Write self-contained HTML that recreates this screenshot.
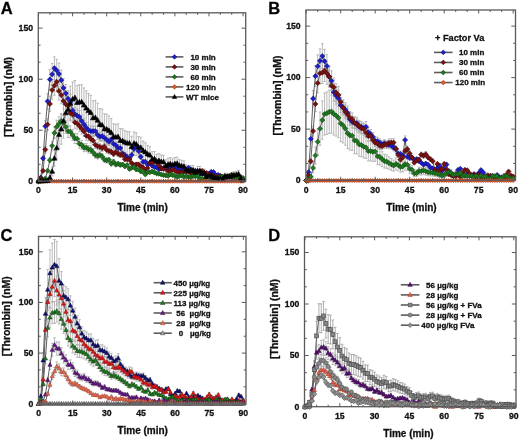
<!DOCTYPE html><html><head><meta charset="utf-8"><style>html,body{margin:0;padding:0;background:#fff;}svg{display:block;filter:blur(0.35px);}text{stroke:#111;stroke-width:0.3px;}.tk{font:bold 8.7px "Liberation Sans", sans-serif;fill:#111;}.ti{font:bold 10px "Liberation Sans", sans-serif;fill:#111;}.lt{font:bold 16.5px "Liberation Sans", sans-serif;fill:#000;}.lg{font:bold 8px "Liberation Sans", sans-serif;fill:#111;}.yt{font-size:10.45px;}</style></head><body>
<svg width="520" height="440" viewBox="0 0 520 440">
<rect width="520" height="440" fill="#fff"/>
<path d="M38.5 180.28V181.3M37.2 180.28h2.6M37.2 181.3h2.6M40.77 176.51V178.55M39.47 176.51h2.6M39.47 178.55h2.6M43.05 156.05V160.64M41.75 156.05h2.6M41.75 160.64h2.6M45.32 120.72V131.74M44.02 120.72h2.6M44.02 131.74h2.6M47.59 93.36V109.35M46.29 93.36h2.6M46.29 109.35h2.6M49.87 69.33V89.69M48.57 69.33h2.6M48.57 89.69h2.6M52.14 63.5V84.92M50.84 63.5h2.6M50.84 84.92h2.6M54.41 56.86V79.49M53.11 56.86h2.6M53.11 79.49h2.6M56.68 59.35V81.52M55.38 59.35h2.6M55.38 81.52h2.6M58.96 63.19V84.66M57.66 63.19h2.6M57.66 84.66h2.6M61.23 70.03V90.26M59.93 70.03h2.6M59.93 90.26h2.6M63.5 78.57V97.25M62.2 78.57h2.6M62.2 97.25h2.6M65.78 84.53V102.13M64.48 84.53h2.6M64.48 102.13h2.6M68.05 90.54V107.04M66.75 90.54h2.6M66.75 107.04h2.6M70.32 94.11V109.96M69.02 94.11h2.6M69.02 109.96h2.6M72.59 103.47V117.62M71.3 103.47h2.6M71.3 117.62h2.6M74.87 107.43V120.86M73.57 107.43h2.6M73.57 120.86h2.6M77.14 108.93V122.09M75.84 108.93h2.6M75.84 122.09h2.6M79.41 110.51V123.38M78.11 110.51h2.6M78.11 123.38h2.6M81.69 114.97V127.03M80.39 114.97h2.6M80.39 127.03h2.6M83.96 118.8V130.16M82.66 118.8h2.6M82.66 130.16h2.6M86.23 122.53V133.21M84.93 122.53h2.6M84.93 133.21h2.6M88.51 125.06V135.29M87.21 125.06h2.6M87.21 135.29h2.6M90.78 126.13V136.16M89.48 126.13h2.6M89.48 136.16h2.6M93.05 126.15V136.18M91.75 126.15h2.6M91.75 136.18h2.6M95.33 126.16V136.18M94.03 126.16h2.6M94.03 136.18h2.6M97.6 130.11V139.42M96.3 130.11h2.6M96.3 139.42h2.6M99.87 132.34V141.24M98.57 132.34h2.6M98.57 141.24h2.6M102.14 131.63V140.66M100.84 131.63h2.6M100.84 140.66h2.6M104.42 133.43V142.13M103.12 133.43h2.6M103.12 142.13h2.6M106.69 135.55V143.87M105.39 135.55h2.6M105.39 143.87h2.6M108.96 137.71V145.64M107.66 137.71h2.6M107.66 145.64h2.6M111.24 135.43V143.77M109.94 135.43h2.6M109.94 143.77h2.6M113.51 140.08V147.57M112.21 140.08h2.6M112.21 147.57h2.6M115.78 141.72V148.92M114.48 141.72h2.6M114.48 148.92h2.6M118.06 144.7V151.35M116.76 144.7h2.6M116.76 151.35h2.6M120.33 144.7V151.36M119.03 144.7h2.6M119.03 151.36h2.6M122.6 150.67V156.24M121.3 150.67h2.6M121.3 156.24h2.6M124.87 152.33V157.6M123.57 152.33h2.6M123.57 157.6h2.6M127.15 154.54V159.4M125.85 154.54h2.6M125.85 159.4h2.6M129.42 156.57V161.07M128.12 156.57h2.6M128.12 161.07h2.6M131.69 152.35V157.61M130.39 152.35h2.6M130.39 157.61h2.6M133.97 145.8V152.25M132.67 145.8h2.6M132.67 152.25h2.6M136.24 142.96V149.93M134.94 142.96h2.6M134.94 149.93h2.6M138.51 148.02V154.07M137.21 148.02h2.6M137.21 154.07h2.6M140.79 154.42V159.31M139.49 154.42h2.6M139.49 159.31h2.6M143.06 159.95V163.83M141.76 159.95h2.6M141.76 163.83h2.6M145.33 159.74V163.66M144.03 159.74h2.6M144.03 163.66h2.6M147.6 163.09V166.4M146.3 163.09h2.6M146.3 166.4h2.6M149.88 161.6V165.18M148.58 161.6h2.6M148.58 165.18h2.6M152.15 164.07V167.21M150.85 164.07h2.6M150.85 167.21h2.6M154.42 165.59V168.45M153.12 165.59h2.6M153.12 168.45h2.6M156.7 166.24V168.98M155.4 166.24h2.6M155.4 168.98h2.6M158.97 167.9V170.34M157.67 167.9h2.6M157.67 170.34h2.6M161.24 167.16V169.73M159.94 167.16h2.6M159.94 169.73h2.6M163.51 166.63V169.3M162.21 166.63h2.6M162.21 169.3h2.6M165.79 166.99V169.59M164.49 166.99h2.6M164.49 169.59h2.6M168.06 167.71V170.18M166.76 167.71h2.6M166.76 170.18h2.6M170.33 165.18V168.11M169.03 165.18h2.6M169.03 168.11h2.6M172.61 164.76V167.77M171.31 164.76h2.6M171.31 167.77h2.6M174.88 164.88V167.87M173.58 164.88h2.6M173.58 167.87h2.6M177.15 167.31V169.85M175.85 167.31h2.6M175.85 169.85h2.6M179.43 168.75V171.03M178.13 168.75h2.6M178.13 171.03h2.6M181.7 170.09V172.14M180.4 170.09h2.6M180.4 172.14h2.6M183.97 168.43V170.77M182.67 168.43h2.6M182.67 170.77h2.6M186.25 169.27V171.45M184.94 169.27h2.6M184.94 171.45h2.6M188.52 166.33V169.05M187.22 166.33h2.6M187.22 169.05h2.6M190.79 168.36V170.71M189.49 168.36h2.6M189.49 170.71h2.6M193.06 169.63V171.75M191.76 169.63h2.6M191.76 171.75h2.6M195.34 169.85V171.94M194.04 169.85h2.6M194.04 171.94h2.6M197.61 172.96V175M196.31 172.96h2.6M196.31 175h2.6M199.88 172.71V174.75M198.58 172.71h2.6M198.58 174.75h2.6M202.16 172.43V174.47M200.86 172.43h2.6M200.86 174.47h2.6M204.43 172.82V174.86M203.13 172.82h2.6M203.13 174.86h2.6M206.7 173.84V175.88M205.4 173.84h2.6M205.4 175.88h2.6M208.98 172.78V174.82M207.68 172.78h2.6M207.68 174.82h2.6M211.25 170.84V172.88M209.95 170.84h2.6M209.95 172.88h2.6M213.52 171.04V173.09M212.22 171.04h2.6M212.22 173.09h2.6M215.79 174.22V176.27M214.49 174.22h2.6M214.49 176.27h2.6M218.07 173.81V175.85M216.77 173.81h2.6M216.77 175.85h2.6M220.34 175.06V177.1M219.04 175.06h2.6M219.04 177.1h2.6M222.61 175.56V177.6M221.31 175.56h2.6M221.31 177.6h2.6M224.89 178.22V180.26M223.59 178.22h2.6M223.59 180.26h2.6M227.16 176.41V178.46M225.86 176.41h2.6M225.86 178.46h2.6M229.43 175.72V177.77M228.13 175.72h2.6M228.13 177.77h2.6M231.71 176.71V178.75M230.41 176.71h2.6M230.41 178.75h2.6M233.98 176.6V178.64M232.68 176.6h2.6M232.68 178.64h2.6M236.25 177.37V179.41M234.95 177.37h2.6M234.95 179.41h2.6M238.52 176.9V178.94M237.22 176.9h2.6M237.22 178.94h2.6M240.8 179.53V181.3M239.5 179.53h2.6M239.5 181.3h2.6M243.07 178.46V180.5M241.77 178.46h2.6M241.77 180.5h2.6" stroke="#a8a8a8" stroke-width="0.8" fill="none"/>
<path d="M38.5 180.28V181.3M37.2 180.28h2.6M37.2 181.3h2.6M40.77 177.22V179.26M39.47 177.22h2.6M39.47 179.26h2.6M43.05 169.78V171.87M41.75 169.78h2.6M41.75 171.87h2.6M45.32 146.45V152.79M44.02 146.45h2.6M44.02 152.79h2.6M47.59 118.81V130.17M46.29 118.81h2.6M46.29 130.17h2.6M49.87 96.14V111.62M48.57 96.14h2.6M48.57 111.62h2.6M52.14 80.93V99.18M50.84 80.93h2.6M50.84 99.18h2.6M54.41 76.1V95.23M53.11 76.1h2.6M53.11 95.23h2.6M56.68 71.9V91.79M55.38 71.9h2.6M55.38 91.79h2.6M58.96 82.06V100.1M57.66 82.06h2.6M57.66 100.1h2.6M61.23 86.5V103.74M59.93 86.5h2.6M59.93 103.74h2.6M63.5 92.91V108.98M62.2 92.91h2.6M62.2 108.98h2.6M65.78 96.48V111.9M64.48 96.48h2.6M64.48 111.9h2.6M68.05 98.3V113.39M66.75 98.3h2.6M66.75 113.39h2.6M70.32 106.28V119.92M69.02 106.28h2.6M69.02 119.92h2.6M72.59 107.88V121.23M71.3 107.88h2.6M71.3 121.23h2.6M74.87 116.52V128.3M73.57 116.52h2.6M73.57 128.3h2.6M77.14 117.68V129.25M75.84 117.68h2.6M75.84 129.25h2.6M79.41 120.58V131.62M78.11 120.58h2.6M78.11 131.62h2.6M81.69 123.57V134.07M80.39 123.57h2.6M80.39 134.07h2.6M83.96 126.47V136.44M82.66 126.47h2.6M82.66 136.44h2.6M86.23 131.13V140.25M84.93 131.13h2.6M84.93 140.25h2.6M88.51 131.92V140.9M87.21 131.92h2.6M87.21 140.9h2.6M90.78 134.6V143.09M89.48 134.6h2.6M89.48 143.09h2.6M93.05 136.43V144.59M91.75 136.43h2.6M91.75 144.59h2.6M95.33 141.04V148.36M94.03 141.04h2.6M94.03 148.36h2.6M97.6 142.82V149.82M96.3 142.82h2.6M96.3 149.82h2.6M99.87 143.38V150.28M98.57 143.38h2.6M98.57 150.28h2.6M102.14 144.82V151.45M100.84 144.82h2.6M100.84 151.45h2.6M104.42 143.1V150.05M103.12 143.1h2.6M103.12 150.05h2.6M106.69 146.78V153.05M105.39 146.78h2.6M105.39 153.05h2.6M108.96 148V154.05M107.66 148h2.6M107.66 154.05h2.6M111.24 148.68V154.61M109.94 148.68h2.6M109.94 154.61h2.6M113.51 151.19V156.66M112.21 151.19h2.6M112.21 156.66h2.6M115.78 149.08V154.94M114.48 149.08h2.6M114.48 154.94h2.6M118.06 151.07V156.56M116.76 151.07h2.6M116.76 156.56h2.6M120.33 152.29V157.57M119.03 152.29h2.6M119.03 157.57h2.6M122.6 152.37V157.63M121.3 152.37h2.6M121.3 157.63h2.6M124.87 156.96V161.38M123.57 156.96h2.6M123.57 161.38h2.6M127.15 157.08V161.48M125.85 157.08h2.6M125.85 161.48h2.6M129.42 157.31V161.67M128.12 157.31h2.6M128.12 161.67h2.6M131.69 161.25V164.9M130.39 161.25h2.6M130.39 164.9h2.6M133.97 163.41V166.66M132.67 163.41h2.6M132.67 166.66h2.6M136.24 162.72V166.1M134.94 162.72h2.6M134.94 166.1h2.6M138.51 162.73V166.11M137.21 162.73h2.6M137.21 166.11h2.6M140.79 164.76V167.77M139.49 164.76h2.6M139.49 167.77h2.6M143.06 166.01V168.79M141.76 166.01h2.6M141.76 168.79h2.6M145.33 169.63V171.75M144.03 169.63h2.6M144.03 171.75h2.6M147.6 166.78V169.42M146.3 166.78h2.6M146.3 169.42h2.6M149.88 160.98V164.67M148.58 160.98h2.6M148.58 164.67h2.6M152.15 160.88V164.59M150.85 160.88h2.6M150.85 164.59h2.6M154.42 157.72V162.01M153.12 157.72h2.6M153.12 162.01h2.6M156.7 160.69V164.44M155.4 160.69h2.6M155.4 164.44h2.6M158.97 163.96V167.11M157.67 163.96h2.6M157.67 167.11h2.6M161.24 167.34V169.88M159.94 167.34h2.6M159.94 169.88h2.6M163.51 167.67V170.15M162.21 167.67h2.6M162.21 170.15h2.6M165.79 166.38V169.09M164.49 166.38h2.6M164.49 169.09h2.6M168.06 170.19V172.24M166.76 170.19h2.6M166.76 172.24h2.6M170.33 169.95V172.01M169.03 169.95h2.6M169.03 172.01h2.6M172.61 168.59V170.9M171.31 168.59h2.6M171.31 170.9h2.6M174.88 169.6V171.72M173.58 169.6h2.6M173.58 171.72h2.6M177.15 170.98V173.02M175.85 170.98h2.6M175.85 173.02h2.6M179.43 171.07V173.11M178.13 171.07h2.6M178.13 173.11h2.6M181.7 171.33V173.37M180.4 171.33h2.6M180.4 173.37h2.6M183.97 170.66V172.71M182.67 170.66h2.6M182.67 172.71h2.6M186.25 170.6V172.64M184.94 170.6h2.6M184.94 172.64h2.6M188.52 170.51V172.55M187.22 170.51h2.6M187.22 172.55h2.6M190.79 171.95V173.99M189.49 171.95h2.6M189.49 173.99h2.6M193.06 173.37V175.41M191.76 173.37h2.6M191.76 175.41h2.6M195.34 170.76V172.8M194.04 170.76h2.6M194.04 172.8h2.6M197.61 170.92V172.96M196.31 170.92h2.6M196.31 172.96h2.6M199.88 170.39V172.43M198.58 170.39h2.6M198.58 172.43h2.6M202.16 169.88V171.96M200.86 169.88h2.6M200.86 171.96h2.6M204.43 171.77V173.82M203.13 171.77h2.6M203.13 173.82h2.6M206.7 171.94V173.99M205.4 171.94h2.6M205.4 173.99h2.6M208.98 174.62V176.66M207.68 174.62h2.6M207.68 176.66h2.6M211.25 173.61V175.65M209.95 173.61h2.6M209.95 175.65h2.6M213.52 176.3V178.34M212.22 176.3h2.6M212.22 178.34h2.6M215.79 174.98V177.02M214.49 174.98h2.6M214.49 177.02h2.6M218.07 176.56V178.6M216.77 176.56h2.6M216.77 178.6h2.6M220.34 174.99V177.03M219.04 174.99h2.6M219.04 177.03h2.6M222.61 177.38V179.42M221.31 177.38h2.6M221.31 179.42h2.6M224.89 175.96V178M223.59 175.96h2.6M223.59 178h2.6M227.16 176.07V178.11M225.86 176.07h2.6M225.86 178.11h2.6M229.43 174.99V177.03M228.13 174.99h2.6M228.13 177.03h2.6M231.71 174.07V176.11M230.41 174.07h2.6M230.41 176.11h2.6M233.98 175.07V177.11M232.68 175.07h2.6M232.68 177.11h2.6M236.25 177.26V179.3M234.95 177.26h2.6M234.95 179.3h2.6M238.52 177.1V179.14M237.22 177.1h2.6M237.22 179.14h2.6M240.8 177.96V180.01M239.5 177.96h2.6M239.5 180.01h2.6M243.07 178.56V180.6M241.77 178.56h2.6M241.77 180.6h2.6" stroke="#a8a8a8" stroke-width="0.8" fill="none"/>
<path d="M38.5 180.28V181.3M37.2 180.28h2.6M37.2 181.3h2.6M40.77 179.77V181.3M39.47 179.77h2.6M39.47 181.3h2.6M43.05 179.19V181.23M41.75 179.19h2.6M41.75 181.23h2.6M45.32 177.43V179.47M44.02 177.43h2.6M44.02 179.47h2.6M47.59 169.57V172.08M46.29 169.57h2.6M46.29 172.08h2.6M49.87 157.63V162.7M48.57 157.63h2.6M48.57 162.7h2.6M52.14 141.56V150.08M50.84 141.56h2.6M50.84 150.08h2.6M54.41 127.11V138.72M53.11 127.11h2.6M53.11 138.72h2.6M56.68 120.19V133.28M55.38 120.19h2.6M55.38 133.28h2.6M58.96 116.84V130.65M57.66 116.84h2.6M57.66 130.65h2.6M61.23 113.7V128.19M59.93 113.7h2.6M59.93 128.19h2.6M63.5 115.59V129.67M62.2 115.59h2.6M62.2 129.67h2.6M65.78 120.47V133.5M64.48 120.47h2.6M64.48 133.5h2.6M68.05 125.26V137.27M66.75 125.26h2.6M66.75 137.27h2.6M70.32 125.79V137.68M69.02 125.79h2.6M69.02 137.68h2.6M72.59 129.41V140.53M71.3 129.41h2.6M71.3 140.53h2.6M74.87 133.19V143.5M73.57 133.19h2.6M73.57 143.5h2.6M77.14 133.64V143.85M75.84 133.64h2.6M75.84 143.85h2.6M79.41 139.18V148.21M78.11 139.18h2.6M78.11 148.21h2.6M81.69 140.54V149.27M80.39 140.54h2.6M80.39 149.27h2.6M83.96 143.62V151.69M82.66 143.62h2.6M82.66 151.69h2.6M86.23 143.54V151.63M84.93 143.54h2.6M84.93 151.63h2.6M88.51 145.51V153.18M87.21 145.51h2.6M87.21 153.18h2.6M90.78 146.09V153.64M89.48 146.09h2.6M89.48 153.64h2.6M93.05 148.78V155.75M91.75 148.78h2.6M91.75 155.75h2.6M95.33 151.91V158.21M94.03 151.91h2.6M94.03 158.21h2.6M97.6 152.89V158.97M96.3 152.89h2.6M96.3 158.97h2.6M99.87 151.77V158.1M98.57 151.77h2.6M98.57 158.1h2.6M102.14 153.44V159.41M100.84 153.44h2.6M100.84 159.41h2.6M104.42 157.08V162.27M103.12 157.08h2.6M103.12 162.27h2.6M106.69 157.86V162.88M105.39 157.86h2.6M105.39 162.88h2.6M108.96 157.27V162.42M107.66 157.27h2.6M107.66 162.42h2.6M111.24 161.68V165.89M109.94 161.68h2.6M109.94 165.89h2.6M113.51 159.35V164.05M112.21 159.35h2.6M112.21 164.05h2.6M115.78 162.56V166.58M114.48 162.56h2.6M114.48 166.58h2.6M118.06 161.71V165.91M116.76 161.71h2.6M116.76 165.91h2.6M120.33 162.88V166.82M119.03 162.88h2.6M119.03 166.82h2.6M122.6 162.51V166.54M121.3 162.51h2.6M121.3 166.54h2.6M124.87 164.57V168.16M123.57 164.57h2.6M123.57 168.16h2.6M127.15 163.17V167.06M125.85 163.17h2.6M125.85 167.06h2.6M129.42 167.43V170.4M128.12 167.43h2.6M128.12 170.4h2.6M131.69 166.13V169.38M130.39 166.13h2.6M130.39 169.38h2.6M133.97 165.16V168.62M132.67 165.16h2.6M132.67 168.62h2.6M136.24 168.03V170.87M134.94 168.03h2.6M134.94 170.87h2.6M138.51 168.03V170.87M137.21 168.03h2.6M137.21 170.87h2.6M140.79 170.34V172.69M139.49 170.34h2.6M139.49 172.69h2.6M143.06 170.49V172.81M141.76 170.49h2.6M141.76 172.81h2.6M145.33 173.47V175.51M144.03 173.47h2.6M144.03 175.51h2.6M147.6 170.85V173.09M146.3 170.85h2.6M146.3 173.09h2.6M149.88 171.22V173.38M148.58 171.22h2.6M148.58 173.38h2.6M152.15 170.21V172.59M150.85 170.21h2.6M150.85 172.59h2.6M154.42 171.32V173.46M153.12 171.32h2.6M153.12 173.46h2.6M156.7 172.45V174.49M155.4 172.45h2.6M155.4 174.49h2.6M158.97 172.73V174.77M157.67 172.73h2.6M157.67 174.77h2.6M161.24 173.46V175.5M159.94 173.46h2.6M159.94 175.5h2.6M163.51 174.14V176.18M162.21 174.14h2.6M162.21 176.18h2.6M165.79 174.35V176.4M164.49 174.35h2.6M164.49 176.4h2.6M168.06 174.91V176.95M166.76 174.91h2.6M166.76 176.95h2.6M170.33 173.43V175.47M169.03 173.43h2.6M169.03 175.47h2.6M172.61 174.13V176.17M171.31 174.13h2.6M171.31 176.17h2.6M174.88 174.78V176.82M173.58 174.78h2.6M173.58 176.82h2.6M177.15 176.04V178.09M175.85 176.04h2.6M175.85 178.09h2.6M179.43 174.99V177.04M178.13 174.99h2.6M178.13 177.04h2.6M181.7 174.19V176.23M180.4 174.19h2.6M180.4 176.23h2.6M183.97 176.03V178.07M182.67 176.03h2.6M182.67 178.07h2.6M186.25 175.05V177.09M184.94 175.05h2.6M184.94 177.09h2.6M188.52 176.15V178.19M187.22 176.15h2.6M187.22 178.19h2.6M190.79 176.55V178.59M189.49 176.55h2.6M189.49 178.59h2.6M193.06 174.84V176.88M191.76 174.84h2.6M191.76 176.88h2.6M195.34 175.47V177.51M194.04 175.47h2.6M194.04 177.51h2.6M197.61 174.81V176.85M196.31 174.81h2.6M196.31 176.85h2.6M199.88 177.55V179.59M198.58 177.55h2.6M198.58 179.59h2.6M202.16 177.62V179.66M200.86 177.62h2.6M200.86 179.66h2.6M204.43 178.37V180.41M203.13 178.37h2.6M203.13 180.41h2.6M206.7 175.81V177.86M205.4 175.81h2.6M205.4 177.86h2.6M208.98 176.04V178.08M207.68 176.04h2.6M207.68 178.08h2.6M211.25 176.34V178.38M209.95 176.34h2.6M209.95 178.38h2.6M213.52 178.25V180.29M212.22 178.25h2.6M212.22 180.29h2.6M215.79 177.21V179.26M214.49 177.21h2.6M214.49 179.26h2.6M218.07 176.06V178.1M216.77 176.06h2.6M216.77 178.1h2.6M220.34 176.56V178.6M219.04 176.56h2.6M219.04 178.6h2.6M222.61 175.91V177.95M221.31 175.91h2.6M221.31 177.95h2.6M224.89 176.56V178.6M223.59 176.56h2.6M223.59 178.6h2.6M227.16 175.41V177.45M225.86 175.41h2.6M225.86 177.45h2.6M229.43 176.13V178.17M228.13 176.13h2.6M228.13 178.17h2.6M231.71 174.13V176.17M230.41 174.13h2.6M230.41 176.17h2.6M233.98 176.41V178.45M232.68 176.41h2.6M232.68 178.45h2.6M236.25 176.63V178.67M234.95 176.63h2.6M234.95 178.67h2.6M238.52 178.05V180.09M237.22 178.05h2.6M237.22 180.09h2.6M240.8 176.11V178.15M239.5 176.11h2.6M239.5 178.15h2.6M243.07 176.98V179.02M241.77 176.98h2.6M241.77 179.02h2.6" stroke="#a8a8a8" stroke-width="0.8" fill="none"/>

<path d="M38.5 179.26V181.3M37.2 179.26h2.6M37.2 181.3h2.6M40.77 179.1V181.3M39.47 179.1h2.6M39.47 181.3h2.6M43.05 178.94V181.3M41.75 178.94h2.6M41.75 181.3h2.6M45.32 178.78V181.3M44.02 178.78h2.6M44.02 181.3h2.6M47.59 178.62V181.3M46.29 178.62h2.6M46.29 181.3h2.6M49.87 174.8V180.66M48.57 174.8h2.6M48.57 180.66h2.6M52.14 167.04V176.01M50.84 167.04h2.6M50.84 176.01h2.6M54.41 150.63V166.17M53.11 150.63h2.6M53.11 166.17h2.6M56.68 137.66V158.38M55.38 137.66h2.6M55.38 158.38h2.6M58.96 120.91V148.33M57.66 120.91h2.6M57.66 148.33h2.6M61.23 114.08V144.24M59.93 114.08h2.6M59.93 144.24h2.6M63.5 103.97V138.17M62.2 103.97h2.6M62.2 138.17h2.6M65.78 95.72V130.44M64.48 95.72h2.6M64.48 130.44h2.6M68.05 92.23V126.95M66.75 92.23h2.6M66.75 126.95h2.6M70.32 86.12V120.84M69.02 86.12h2.6M69.02 120.84h2.6M72.59 82V116.72M71.3 82h2.6M71.3 116.72h2.6M74.87 80.46V115.17M73.57 80.46h2.6M73.57 115.17h2.6M77.14 85.45V120.16M75.84 85.45h2.6M75.84 120.16h2.6M79.41 84.73V119.44M78.11 84.73h2.6M78.11 119.44h2.6M81.69 84.81V119.53M80.39 84.81h2.6M80.39 119.53h2.6M83.96 87.93V122.64M82.66 87.93h2.6M82.66 122.64h2.6M86.23 90.95V125.67M84.93 90.95h2.6M84.93 125.67h2.6M88.51 93.51V128.22M87.21 93.51h2.6M87.21 128.22h2.6M90.78 95.37V130.08M89.48 95.37h2.6M89.48 130.08h2.6M93.05 100.76V135.47M91.75 100.76h2.6M91.75 135.47h2.6M95.33 100.41V135.12M94.03 100.41h2.6M94.03 135.12h2.6M97.6 103.13V137.67M96.3 103.13h2.6M96.3 137.67h2.6M99.87 108.51V140.89M98.57 108.51h2.6M98.57 140.89h2.6M102.14 109.14V141.27M100.84 109.14h2.6M100.84 141.27h2.6M104.42 113.79V144.06M103.12 113.79h2.6M103.12 144.06h2.6M106.69 114.28V144.36M105.39 114.28h2.6M105.39 144.36h2.6M108.96 115.97V145.37M107.66 115.97h2.6M107.66 145.37h2.6M111.24 118.59V146.94M109.94 118.59h2.6M109.94 146.94h2.6M113.51 123.66V149.98M112.21 123.66h2.6M112.21 149.98h2.6M115.78 124.32V150.38M114.48 124.32h2.6M114.48 150.38h2.6M118.06 123.82V150.08M116.76 123.82h2.6M116.76 150.08h2.6M120.33 128.54V152.91M119.03 128.54h2.6M119.03 152.91h2.6M122.6 128.8V153.07M121.3 128.8h2.6M121.3 153.07h2.6M124.87 130.56V154.13M123.57 130.56h2.6M123.57 154.13h2.6M127.15 131.68V154.8M125.85 131.68h2.6M125.85 154.8h2.6M129.42 131.79V154.86M128.12 131.79h2.6M128.12 154.86h2.6M131.69 136.22V157.52M130.39 136.22h2.6M130.39 157.52h2.6M133.97 132V154.99M132.67 132h2.6M132.67 154.99h2.6M136.24 132.9V155.52M134.94 132.9h2.6M134.94 155.52h2.6M138.51 136.61V157.76M137.21 136.61h2.6M137.21 157.76h2.6M140.79 137.28V158.16M139.49 137.28h2.6M139.49 158.16h2.6M143.06 141.02V160.4M141.76 141.02h2.6M141.76 160.4h2.6M145.33 142.83V161.48M144.03 142.83h2.6M144.03 161.48h2.6M147.6 145.39V163.02M146.3 145.39h2.6M146.3 163.02h2.6M149.88 146.78V163.85M148.58 146.78h2.6M148.58 163.85h2.6M152.15 151.73V166.82M150.85 151.73h2.6M150.85 166.82h2.6M154.42 151.47V166.67M153.12 151.47h2.6M153.12 166.67h2.6M156.7 154.42V168.44M155.4 154.42h2.6M155.4 168.44h2.6M158.97 153.64V167.97M157.67 153.64h2.6M157.67 167.97h2.6M161.24 154.91V168.73M159.94 154.91h2.6M159.94 168.73h2.6M163.51 155.13V168.86M162.21 155.13h2.6M162.21 168.86h2.6M165.79 159.82V171.68M164.49 159.82h2.6M164.49 171.68h2.6M168.06 158.27V170.75M166.76 158.27h2.6M166.76 170.75h2.6M170.33 157.61V170.35M169.03 157.61h2.6M169.03 170.35h2.6M172.61 158.84V171.09M171.31 158.84h2.6M171.31 171.09h2.6M174.88 157.49V170.28M173.58 157.49h2.6M173.58 170.28h2.6M177.15 157.19V170.1M175.85 157.19h2.6M175.85 170.1h2.6M179.43 159.58V171.53M178.13 159.58h2.6M178.13 171.53h2.6M181.7 160.34V171.99M180.4 160.34h2.6M180.4 171.99h2.6M183.97 160.87V172.31M182.67 160.87h2.6M182.67 172.31h2.6M186.25 164.86V174.71M184.94 164.86h2.6M184.94 174.71h2.6M188.52 166.4V175.63M187.22 166.4h2.6M187.22 175.63h2.6M190.79 165.69V175.2M189.49 165.69h2.6M189.49 175.2h2.6M193.06 165.4V175.02M191.76 165.4h2.6M191.76 175.02h2.6M195.34 168.31V176.77M194.04 168.31h2.6M194.04 176.77h2.6M197.61 166.38V175.62M196.31 166.38h2.6M196.31 175.62h2.6M199.88 166.39V175.62M198.58 166.39h2.6M198.58 175.62h2.6M202.16 169.64V177.57M200.86 169.64h2.6M200.86 177.57h2.6M204.43 168.98V177.18M203.13 168.98h2.6M203.13 177.18h2.6M206.7 173.11V179.65M205.4 173.11h2.6M205.4 179.65h2.6M208.98 173.72V180.02M207.68 173.72h2.6M207.68 180.02h2.6M211.25 171.78V178.85M209.95 171.78h2.6M209.95 178.85h2.6M213.52 174.49V180.48M212.22 174.49h2.6M212.22 180.48h2.6M215.79 175.53V181.1M214.49 175.53h2.6M214.49 181.1h2.6M218.07 175.33V180.98M216.77 175.33h2.6M216.77 180.98h2.6M220.34 176.25V181.3M219.04 176.25h2.6M219.04 181.3h2.6M222.61 176.45V181.3M221.31 176.45h2.6M221.31 181.3h2.6M224.89 173.06V179.62M223.59 173.06h2.6M223.59 179.62h2.6M227.16 173.59V179.94M225.86 173.59h2.6M225.86 179.94h2.6M229.43 173.62V179.96M228.13 173.62h2.6M228.13 179.96h2.6M231.71 172.56V179.32M230.41 172.56h2.6M230.41 179.32h2.6M233.98 171.73V178.82M232.68 171.73h2.6M232.68 178.82h2.6M236.25 171.28V178.56M234.95 171.28h2.6M234.95 178.56h2.6M238.52 170.29V177.96M237.22 170.29h2.6M237.22 177.96h2.6M240.8 175.36V181M239.5 175.36h2.6M239.5 181h2.6M243.07 177.87V181.3M241.77 177.87h2.6M241.77 181.3h2.6" stroke="#a8a8a8" stroke-width="0.8" fill="none"/>
<path d="M38.5 181.3L40.77 177.53L43.05 158.35L45.32 126.23L47.59 101.35L49.87 79.51L52.14 74.21L54.41 68.17L56.68 70.43L58.96 73.92L61.23 80.15L63.5 87.91L65.78 93.33L68.05 98.79L70.32 102.03L72.59 110.54L74.87 114.14L77.14 115.51L79.41 116.94L81.69 121L83.96 124.48L86.23 127.87L88.51 130.17L90.78 131.15L93.05 131.16L95.33 131.17L97.6 134.77L99.87 136.79L102.14 136.14L104.42 137.78L106.69 139.71L108.96 141.68L111.24 139.6L113.51 143.82L115.78 145.32L118.06 148.02L120.33 148.03L122.6 153.46L124.87 154.96L127.15 156.97L129.42 158.82L131.69 154.98L133.97 149.03L136.24 146.44L138.51 151.05L140.79 156.87L143.06 161.89L145.33 161.7L147.6 164.75L149.88 163.39L152.15 165.64L154.42 167.02L156.7 167.61L158.97 169.12L161.24 168.44L163.51 167.96L165.79 168.29L168.06 168.95L170.33 166.64L172.61 166.26L174.88 166.37L177.15 168.58L179.43 169.89L181.7 171.11L183.97 169.6L186.25 170.36L188.52 167.69L190.79 169.54L193.06 170.69L195.34 170.89L197.61 173.98L199.88 173.73L202.16 173.45L204.43 173.84L206.7 174.86L208.98 173.8L211.25 171.86L213.52 172.06L215.79 175.24L218.07 174.83L220.34 176.08L222.61 176.58L224.89 179.24L227.16 177.43L229.43 176.75L231.71 177.73L233.98 177.62L236.25 178.39L238.52 177.92L240.8 180.55L243.07 179.48" fill="none" stroke="#606060" stroke-width="1.0"/>
<path d="M38.5 181.3L40.77 178.24L43.05 170.82L45.32 149.62L47.59 124.49L49.87 103.88L52.14 90.05L54.41 85.67L56.68 81.84L58.96 91.08L61.23 95.12L63.5 100.95L65.78 104.19L68.05 105.85L70.32 113.1L72.59 114.55L74.87 122.41L77.14 123.46L79.41 126.1L81.69 128.82L83.96 131.46L86.23 135.69L88.51 136.41L90.78 138.84L93.05 140.51L95.33 144.7L97.6 146.32L99.87 146.83L102.14 148.14L104.42 146.57L106.69 149.92L108.96 151.02L111.24 151.65L113.51 153.92L115.78 152.01L118.06 153.81L120.33 154.93L122.6 155L124.87 159.17L127.15 159.28L129.42 159.49L131.69 163.08L133.97 165.03L136.24 164.41L138.51 164.42L140.79 166.26L143.06 167.4L145.33 170.69L147.6 168.1L149.88 162.82L152.15 162.73L154.42 159.87L156.7 162.56L158.97 165.54L161.24 168.61L163.51 168.91L165.79 167.73L168.06 171.21L170.33 170.98L172.61 169.75L174.88 170.66L177.15 172L179.43 172.09L181.7 172.35L183.97 171.69L186.25 171.62L188.52 171.53L190.79 172.97L193.06 174.39L195.34 171.78L197.61 171.94L199.88 171.41L202.16 170.92L204.43 172.79L206.7 172.97L208.98 175.64L211.25 174.63L213.52 177.32L215.79 176L218.07 177.58L220.34 176.01L222.61 178.4L224.89 176.98L227.16 177.09L229.43 176.01L231.71 175.09L233.98 176.09L236.25 178.28L238.52 178.12L240.8 178.99L243.07 179.58" fill="none" stroke="#606060" stroke-width="1.0"/>
<path d="M38.5 181.3L40.77 180.79L43.05 180.21L45.32 178.45L47.59 170.82L49.87 160.17L52.14 145.82L54.41 132.92L56.68 126.73L58.96 123.75L61.23 120.94L63.5 122.63L65.78 126.98L68.05 131.26L70.32 131.74L72.59 134.97L74.87 138.35L77.14 138.75L79.41 143.7L81.69 144.91L83.96 147.66L86.23 147.59L88.51 149.35L90.78 149.87L93.05 152.27L95.33 155.06L97.6 155.93L99.87 154.94L102.14 156.42L104.42 159.68L106.69 160.37L108.96 159.84L111.24 163.78L113.51 161.7L115.78 164.57L118.06 163.81L120.33 164.85L122.6 164.53L124.87 166.36L127.15 165.12L129.42 168.91L131.69 167.76L133.97 166.89L136.24 169.45L138.51 169.45L140.79 171.52L143.06 171.65L145.33 174.49L147.6 171.97L149.88 172.3L152.15 171.4L154.42 172.39L156.7 173.47L158.97 173.75L161.24 174.48L163.51 175.16L165.79 175.37L168.06 175.93L170.33 174.45L172.61 175.15L174.88 175.8L177.15 177.07L179.43 176.01L181.7 175.21L183.97 177.05L186.25 176.07L188.52 177.17L190.79 177.57L193.06 175.86L195.34 176.49L197.61 175.83L199.88 178.57L202.16 178.64L204.43 179.39L206.7 176.83L208.98 177.06L211.25 177.36L213.52 179.27L215.79 178.23L218.07 177.08L220.34 177.58L222.61 176.93L224.89 177.58L227.16 176.43L229.43 177.15L231.71 175.15L233.98 177.43L236.25 177.65L238.52 179.07L240.8 177.13L243.07 178" fill="none" stroke="#606060" stroke-width="1.0"/>
<path d="M38.5 181.3L40.77 181.3L43.05 181.3L45.32 181.3L47.59 181.3L49.87 181.3L52.14 181.3L54.41 181.3L56.68 181.3L58.96 181.3L61.23 181.3L63.5 181.3L65.78 181.3L68.05 181.3L70.32 181.3L72.59 181.3L74.87 181.3L77.14 181.3L79.41 181.3L81.69 181.3L83.96 181.3L86.23 181.3L88.51 181.3L90.78 181.3L93.05 181.3L95.33 181.3L97.6 181.3L99.87 181.3L102.14 181.3L104.42 181.3L106.69 181.3L108.96 181.3L111.24 181.3L113.51 181.3L115.78 181.3L118.06 181.3L120.33 181.3L122.6 181.3L124.87 181.3L127.15 181.3L129.42 181.3L131.69 181.3L133.97 181.3L136.24 181.3L138.51 181.3L140.79 181.3L143.06 181.3L145.33 181.3L147.6 181.3L149.88 181.3L152.15 181.3L154.42 181.3L156.7 181.3L158.97 181.3L161.24 181.3L163.51 181.3L165.79 181.3L168.06 181.3L170.33 181.3L172.61 181.3L174.88 181.3L177.15 181.3L179.43 181.3L181.7 181.3L183.97 181.3L186.25 181.3L188.52 181.3L190.79 181.3L193.06 181.3L195.34 181.3L197.61 181.3L199.88 181.3L202.16 181.3L204.43 181.3L206.7 181.3L208.98 181.3L211.25 181.3L213.52 181.3L215.79 181.3L218.07 181.3L220.34 181.3L222.61 181.3L224.89 181.3L227.16 181.3L229.43 181.3L231.71 181.3L233.98 181.3L236.25 181.3L238.52 181.3L240.8 181.3L243.07 181.3" fill="none" stroke="#c04a28" stroke-width="1.6"/>
<path d="M38.5 181.3L40.77 181.17L43.05 181.04L45.32 180.92L47.59 180.79L49.87 177.73L52.14 171.52L54.41 158.4L56.68 148.02L58.96 134.62L61.23 129.16L63.5 121.07L65.78 113.08L68.05 109.59L70.32 103.48L72.59 99.36L74.87 97.82L77.14 102.8L79.41 102.08L81.69 102.17L83.96 105.28L86.23 108.31L88.51 110.87L90.78 112.72L93.05 118.11L95.33 117.77L97.6 120.4L99.87 124.7L102.14 125.21L104.42 128.92L106.69 129.32L108.96 130.67L111.24 132.77L113.51 136.82L115.78 137.35L118.06 136.95L120.33 140.73L122.6 140.94L124.87 142.34L127.15 143.24L129.42 143.32L131.69 146.87L133.97 143.49L136.24 144.21L138.51 147.19L140.79 147.72L143.06 150.71L145.33 152.16L147.6 154.2L149.88 155.31L152.15 159.27L154.42 159.07L156.7 161.43L158.97 160.81L161.24 161.82L163.51 162L165.79 165.75L168.06 164.51L170.33 163.98L172.61 164.97L174.88 163.88L177.15 163.65L179.43 165.55L181.7 166.16L183.97 166.59L186.25 169.78L188.52 171.02L190.79 170.45L193.06 170.21L195.34 172.54L197.61 171L199.88 171.01L202.16 173.61L204.43 173.08L206.7 176.38L208.98 176.87L211.25 175.32L213.52 177.49L215.79 178.32L218.07 178.16L220.34 178.89L222.61 179.05L224.89 176.34L227.16 176.76L229.43 176.79L231.71 175.94L233.98 175.28L236.25 174.92L238.52 174.12L240.8 178.18L243.07 180.19" fill="none" stroke="#606060" stroke-width="1.0"/>
<path d="M38.5 178.75L41.05 181.3L38.5 183.85L35.95 181.3Z" fill="#1c1cd0" stroke="#101070" stroke-width="0.6"/>
<path d="M40.77 174.98L43.32 177.53L40.77 180.08L38.22 177.53Z" fill="#1c1cd0" stroke="#101070" stroke-width="0.6"/>
<path d="M43.05 155.8L45.6 158.35L43.05 160.9L40.5 158.35Z" fill="#1c1cd0" stroke="#101070" stroke-width="0.6"/>
<path d="M45.32 123.68L47.87 126.23L45.32 128.78L42.77 126.23Z" fill="#1c1cd0" stroke="#101070" stroke-width="0.6"/>
<path d="M47.59 98.8L50.14 101.35L47.59 103.9L45.04 101.35Z" fill="#1c1cd0" stroke="#101070" stroke-width="0.6"/>
<path d="M49.87 76.96L52.41 79.51L49.87 82.06L47.32 79.51Z" fill="#1c1cd0" stroke="#101070" stroke-width="0.6"/>
<path d="M52.14 71.66L54.69 74.21L52.14 76.76L49.59 74.21Z" fill="#1c1cd0" stroke="#101070" stroke-width="0.6"/>
<path d="M54.41 65.62L56.96 68.17L54.41 70.72L51.86 68.17Z" fill="#1c1cd0" stroke="#101070" stroke-width="0.6"/>
<path d="M56.68 67.88L59.23 70.43L56.68 72.98L54.13 70.43Z" fill="#1c1cd0" stroke="#101070" stroke-width="0.6"/>
<path d="M58.96 71.37L61.51 73.92L58.96 76.47L56.41 73.92Z" fill="#1c1cd0" stroke="#101070" stroke-width="0.6"/>
<path d="M61.23 77.6L63.78 80.15L61.23 82.7L58.68 80.15Z" fill="#1c1cd0" stroke="#101070" stroke-width="0.6"/>
<path d="M63.5 85.36L66.05 87.91L63.5 90.46L60.95 87.91Z" fill="#1c1cd0" stroke="#101070" stroke-width="0.6"/>
<path d="M65.78 90.78L68.33 93.33L65.78 95.88L63.23 93.33Z" fill="#1c1cd0" stroke="#101070" stroke-width="0.6"/>
<path d="M68.05 96.24L70.6 98.79L68.05 101.34L65.5 98.79Z" fill="#1c1cd0" stroke="#101070" stroke-width="0.6"/>
<path d="M70.32 99.48L72.87 102.03L70.32 104.58L67.77 102.03Z" fill="#1c1cd0" stroke="#101070" stroke-width="0.6"/>
<path d="M72.59 107.99L75.14 110.54L72.59 113.09L70.05 110.54Z" fill="#1c1cd0" stroke="#101070" stroke-width="0.6"/>
<path d="M74.87 111.59L77.42 114.14L74.87 116.69L72.32 114.14Z" fill="#1c1cd0" stroke="#101070" stroke-width="0.6"/>
<path d="M77.14 112.96L79.69 115.51L77.14 118.06L74.59 115.51Z" fill="#1c1cd0" stroke="#101070" stroke-width="0.6"/>
<path d="M79.41 114.39L81.96 116.94L79.41 119.49L76.86 116.94Z" fill="#1c1cd0" stroke="#101070" stroke-width="0.6"/>
<path d="M81.69 118.45L84.24 121L81.69 123.55L79.14 121Z" fill="#1c1cd0" stroke="#101070" stroke-width="0.6"/>
<path d="M83.96 121.93L86.51 124.48L83.96 127.03L81.41 124.48Z" fill="#1c1cd0" stroke="#101070" stroke-width="0.6"/>
<path d="M86.23 125.32L88.78 127.87L86.23 130.42L83.68 127.87Z" fill="#1c1cd0" stroke="#101070" stroke-width="0.6"/>
<path d="M88.51 127.62L91.06 130.17L88.51 132.72L85.96 130.17Z" fill="#1c1cd0" stroke="#101070" stroke-width="0.6"/>
<path d="M90.78 128.6L93.33 131.15L90.78 133.7L88.23 131.15Z" fill="#1c1cd0" stroke="#101070" stroke-width="0.6"/>
<path d="M93.05 128.61L95.6 131.16L93.05 133.71L90.5 131.16Z" fill="#1c1cd0" stroke="#101070" stroke-width="0.6"/>
<path d="M95.33 128.62L97.88 131.17L95.33 133.72L92.78 131.17Z" fill="#1c1cd0" stroke="#101070" stroke-width="0.6"/>
<path d="M97.6 132.22L100.15 134.77L97.6 137.32L95.05 134.77Z" fill="#1c1cd0" stroke="#101070" stroke-width="0.6"/>
<path d="M99.87 134.24L102.42 136.79L99.87 139.34L97.32 136.79Z" fill="#1c1cd0" stroke="#101070" stroke-width="0.6"/>
<path d="M102.14 133.59L104.69 136.14L102.14 138.69L99.59 136.14Z" fill="#1c1cd0" stroke="#101070" stroke-width="0.6"/>
<path d="M104.42 135.23L106.97 137.78L104.42 140.33L101.87 137.78Z" fill="#1c1cd0" stroke="#101070" stroke-width="0.6"/>
<path d="M106.69 137.16L109.24 139.71L106.69 142.26L104.14 139.71Z" fill="#1c1cd0" stroke="#101070" stroke-width="0.6"/>
<path d="M108.96 139.13L111.51 141.68L108.96 144.23L106.41 141.68Z" fill="#1c1cd0" stroke="#101070" stroke-width="0.6"/>
<path d="M111.24 137.05L113.79 139.6L111.24 142.15L108.69 139.6Z" fill="#1c1cd0" stroke="#101070" stroke-width="0.6"/>
<path d="M113.51 141.27L116.06 143.82L113.51 146.37L110.96 143.82Z" fill="#1c1cd0" stroke="#101070" stroke-width="0.6"/>
<path d="M115.78 142.77L118.33 145.32L115.78 147.87L113.23 145.32Z" fill="#1c1cd0" stroke="#101070" stroke-width="0.6"/>
<path d="M118.06 145.47L120.61 148.02L118.06 150.57L115.51 148.02Z" fill="#1c1cd0" stroke="#101070" stroke-width="0.6"/>
<path d="M120.33 145.48L122.88 148.03L120.33 150.58L117.78 148.03Z" fill="#1c1cd0" stroke="#101070" stroke-width="0.6"/>
<path d="M122.6 150.91L125.15 153.46L122.6 156.01L120.05 153.46Z" fill="#1c1cd0" stroke="#101070" stroke-width="0.6"/>
<path d="M124.87 152.41L127.42 154.96L124.87 157.51L122.32 154.96Z" fill="#1c1cd0" stroke="#101070" stroke-width="0.6"/>
<path d="M127.15 154.42L129.7 156.97L127.15 159.52L124.6 156.97Z" fill="#1c1cd0" stroke="#101070" stroke-width="0.6"/>
<path d="M129.42 156.27L131.97 158.82L129.42 161.37L126.87 158.82Z" fill="#1c1cd0" stroke="#101070" stroke-width="0.6"/>
<path d="M131.69 152.43L134.24 154.98L131.69 157.53L129.14 154.98Z" fill="#1c1cd0" stroke="#101070" stroke-width="0.6"/>
<path d="M133.97 146.48L136.52 149.03L133.97 151.58L131.42 149.03Z" fill="#1c1cd0" stroke="#101070" stroke-width="0.6"/>
<path d="M136.24 143.89L138.79 146.44L136.24 148.99L133.69 146.44Z" fill="#1c1cd0" stroke="#101070" stroke-width="0.6"/>
<path d="M138.51 148.5L141.06 151.05L138.51 153.6L135.96 151.05Z" fill="#1c1cd0" stroke="#101070" stroke-width="0.6"/>
<path d="M140.79 154.32L143.34 156.87L140.79 159.42L138.24 156.87Z" fill="#1c1cd0" stroke="#101070" stroke-width="0.6"/>
<path d="M143.06 159.34L145.61 161.89L143.06 164.44L140.51 161.89Z" fill="#1c1cd0" stroke="#101070" stroke-width="0.6"/>
<path d="M145.33 159.15L147.88 161.7L145.33 164.25L142.78 161.7Z" fill="#1c1cd0" stroke="#101070" stroke-width="0.6"/>
<path d="M147.6 162.2L150.15 164.75L147.6 167.3L145.05 164.75Z" fill="#1c1cd0" stroke="#101070" stroke-width="0.6"/>
<path d="M149.88 160.84L152.43 163.39L149.88 165.94L147.33 163.39Z" fill="#1c1cd0" stroke="#101070" stroke-width="0.6"/>
<path d="M152.15 163.09L154.7 165.64L152.15 168.19L149.6 165.64Z" fill="#1c1cd0" stroke="#101070" stroke-width="0.6"/>
<path d="M154.42 164.47L156.97 167.02L154.42 169.57L151.87 167.02Z" fill="#1c1cd0" stroke="#101070" stroke-width="0.6"/>
<path d="M156.7 165.06L159.25 167.61L156.7 170.16L154.15 167.61Z" fill="#1c1cd0" stroke="#101070" stroke-width="0.6"/>
<path d="M158.97 166.57L161.52 169.12L158.97 171.67L156.42 169.12Z" fill="#1c1cd0" stroke="#101070" stroke-width="0.6"/>
<path d="M161.24 165.89L163.79 168.44L161.24 170.99L158.69 168.44Z" fill="#1c1cd0" stroke="#101070" stroke-width="0.6"/>
<path d="M163.51 165.41L166.06 167.96L163.51 170.51L160.96 167.96Z" fill="#1c1cd0" stroke="#101070" stroke-width="0.6"/>
<path d="M165.79 165.74L168.34 168.29L165.79 170.84L163.24 168.29Z" fill="#1c1cd0" stroke="#101070" stroke-width="0.6"/>
<path d="M168.06 166.4L170.61 168.95L168.06 171.5L165.51 168.95Z" fill="#1c1cd0" stroke="#101070" stroke-width="0.6"/>
<path d="M170.33 164.09L172.88 166.64L170.33 169.19L167.78 166.64Z" fill="#1c1cd0" stroke="#101070" stroke-width="0.6"/>
<path d="M172.61 163.71L175.16 166.26L172.61 168.81L170.06 166.26Z" fill="#1c1cd0" stroke="#101070" stroke-width="0.6"/>
<path d="M174.88 163.82L177.43 166.37L174.88 168.92L172.33 166.37Z" fill="#1c1cd0" stroke="#101070" stroke-width="0.6"/>
<path d="M177.15 166.03L179.7 168.58L177.15 171.13L174.6 168.58Z" fill="#1c1cd0" stroke="#101070" stroke-width="0.6"/>
<path d="M179.43 167.34L181.98 169.89L179.43 172.44L176.88 169.89Z" fill="#1c1cd0" stroke="#101070" stroke-width="0.6"/>
<path d="M181.7 168.56L184.25 171.11L181.7 173.66L179.15 171.11Z" fill="#1c1cd0" stroke="#101070" stroke-width="0.6"/>
<path d="M183.97 167.05L186.52 169.6L183.97 172.15L181.42 169.6Z" fill="#1c1cd0" stroke="#101070" stroke-width="0.6"/>
<path d="M186.25 167.81L188.8 170.36L186.25 172.91L183.69 170.36Z" fill="#1c1cd0" stroke="#101070" stroke-width="0.6"/>
<path d="M188.52 165.14L191.07 167.69L188.52 170.24L185.97 167.69Z" fill="#1c1cd0" stroke="#101070" stroke-width="0.6"/>
<path d="M190.79 166.99L193.34 169.54L190.79 172.09L188.24 169.54Z" fill="#1c1cd0" stroke="#101070" stroke-width="0.6"/>
<path d="M193.06 168.14L195.61 170.69L193.06 173.24L190.51 170.69Z" fill="#1c1cd0" stroke="#101070" stroke-width="0.6"/>
<path d="M195.34 168.34L197.89 170.89L195.34 173.44L192.79 170.89Z" fill="#1c1cd0" stroke="#101070" stroke-width="0.6"/>
<path d="M197.61 171.43L200.16 173.98L197.61 176.53L195.06 173.98Z" fill="#1c1cd0" stroke="#101070" stroke-width="0.6"/>
<path d="M199.88 171.18L202.43 173.73L199.88 176.28L197.33 173.73Z" fill="#1c1cd0" stroke="#101070" stroke-width="0.6"/>
<path d="M202.16 170.9L204.71 173.45L202.16 176L199.61 173.45Z" fill="#1c1cd0" stroke="#101070" stroke-width="0.6"/>
<path d="M204.43 171.29L206.98 173.84L204.43 176.39L201.88 173.84Z" fill="#1c1cd0" stroke="#101070" stroke-width="0.6"/>
<path d="M206.7 172.31L209.25 174.86L206.7 177.41L204.15 174.86Z" fill="#1c1cd0" stroke="#101070" stroke-width="0.6"/>
<path d="M208.98 171.25L211.53 173.8L208.98 176.35L206.43 173.8Z" fill="#1c1cd0" stroke="#101070" stroke-width="0.6"/>
<path d="M211.25 169.31L213.8 171.86L211.25 174.41L208.7 171.86Z" fill="#1c1cd0" stroke="#101070" stroke-width="0.6"/>
<path d="M213.52 169.51L216.07 172.06L213.52 174.61L210.97 172.06Z" fill="#1c1cd0" stroke="#101070" stroke-width="0.6"/>
<path d="M215.79 172.69L218.34 175.24L215.79 177.79L213.24 175.24Z" fill="#1c1cd0" stroke="#101070" stroke-width="0.6"/>
<path d="M218.07 172.28L220.62 174.83L218.07 177.38L215.52 174.83Z" fill="#1c1cd0" stroke="#101070" stroke-width="0.6"/>
<path d="M220.34 173.53L222.89 176.08L220.34 178.63L217.79 176.08Z" fill="#1c1cd0" stroke="#101070" stroke-width="0.6"/>
<path d="M222.61 174.03L225.16 176.58L222.61 179.13L220.06 176.58Z" fill="#1c1cd0" stroke="#101070" stroke-width="0.6"/>
<path d="M224.89 176.69L227.44 179.24L224.89 181.79L222.34 179.24Z" fill="#1c1cd0" stroke="#101070" stroke-width="0.6"/>
<path d="M227.16 174.88L229.71 177.43L227.16 179.98L224.61 177.43Z" fill="#1c1cd0" stroke="#101070" stroke-width="0.6"/>
<path d="M229.43 174.2L231.98 176.75L229.43 179.3L226.88 176.75Z" fill="#1c1cd0" stroke="#101070" stroke-width="0.6"/>
<path d="M231.71 175.18L234.26 177.73L231.71 180.28L229.16 177.73Z" fill="#1c1cd0" stroke="#101070" stroke-width="0.6"/>
<path d="M233.98 175.07L236.53 177.62L233.98 180.17L231.43 177.62Z" fill="#1c1cd0" stroke="#101070" stroke-width="0.6"/>
<path d="M236.25 175.84L238.8 178.39L236.25 180.94L233.7 178.39Z" fill="#1c1cd0" stroke="#101070" stroke-width="0.6"/>
<path d="M238.52 175.37L241.07 177.92L238.52 180.47L235.97 177.92Z" fill="#1c1cd0" stroke="#101070" stroke-width="0.6"/>
<path d="M240.8 178L243.35 180.55L240.8 183.1L238.25 180.55Z" fill="#1c1cd0" stroke="#101070" stroke-width="0.6"/>
<path d="M243.07 176.93L245.62 179.48L243.07 182.03L240.52 179.48Z" fill="#1c1cd0" stroke="#101070" stroke-width="0.6"/>
<path d="M38.5 178.75L41.05 181.3L38.5 183.85L35.95 181.3Z" fill="#7a1010" stroke="#400808" stroke-width="0.6"/>
<path d="M40.77 175.69L43.32 178.24L40.77 180.79L38.22 178.24Z" fill="#7a1010" stroke="#400808" stroke-width="0.6"/>
<path d="M43.05 168.27L45.6 170.82L43.05 173.37L40.5 170.82Z" fill="#7a1010" stroke="#400808" stroke-width="0.6"/>
<path d="M45.32 147.07L47.87 149.62L45.32 152.17L42.77 149.62Z" fill="#7a1010" stroke="#400808" stroke-width="0.6"/>
<path d="M47.59 121.94L50.14 124.49L47.59 127.04L45.04 124.49Z" fill="#7a1010" stroke="#400808" stroke-width="0.6"/>
<path d="M49.87 101.33L52.41 103.88L49.87 106.43L47.32 103.88Z" fill="#7a1010" stroke="#400808" stroke-width="0.6"/>
<path d="M52.14 87.5L54.69 90.05L52.14 92.6L49.59 90.05Z" fill="#7a1010" stroke="#400808" stroke-width="0.6"/>
<path d="M54.41 83.12L56.96 85.67L54.41 88.22L51.86 85.67Z" fill="#7a1010" stroke="#400808" stroke-width="0.6"/>
<path d="M56.68 79.29L59.23 81.84L56.68 84.39L54.13 81.84Z" fill="#7a1010" stroke="#400808" stroke-width="0.6"/>
<path d="M58.96 88.53L61.51 91.08L58.96 93.63L56.41 91.08Z" fill="#7a1010" stroke="#400808" stroke-width="0.6"/>
<path d="M61.23 92.57L63.78 95.12L61.23 97.67L58.68 95.12Z" fill="#7a1010" stroke="#400808" stroke-width="0.6"/>
<path d="M63.5 98.4L66.05 100.95L63.5 103.5L60.95 100.95Z" fill="#7a1010" stroke="#400808" stroke-width="0.6"/>
<path d="M65.78 101.64L68.33 104.19L65.78 106.74L63.23 104.19Z" fill="#7a1010" stroke="#400808" stroke-width="0.6"/>
<path d="M68.05 103.3L70.6 105.85L68.05 108.4L65.5 105.85Z" fill="#7a1010" stroke="#400808" stroke-width="0.6"/>
<path d="M70.32 110.55L72.87 113.1L70.32 115.65L67.77 113.1Z" fill="#7a1010" stroke="#400808" stroke-width="0.6"/>
<path d="M72.59 112L75.14 114.55L72.59 117.1L70.05 114.55Z" fill="#7a1010" stroke="#400808" stroke-width="0.6"/>
<path d="M74.87 119.86L77.42 122.41L74.87 124.96L72.32 122.41Z" fill="#7a1010" stroke="#400808" stroke-width="0.6"/>
<path d="M77.14 120.91L79.69 123.46L77.14 126.01L74.59 123.46Z" fill="#7a1010" stroke="#400808" stroke-width="0.6"/>
<path d="M79.41 123.55L81.96 126.1L79.41 128.65L76.86 126.1Z" fill="#7a1010" stroke="#400808" stroke-width="0.6"/>
<path d="M81.69 126.27L84.24 128.82L81.69 131.37L79.14 128.82Z" fill="#7a1010" stroke="#400808" stroke-width="0.6"/>
<path d="M83.96 128.91L86.51 131.46L83.96 134.01L81.41 131.46Z" fill="#7a1010" stroke="#400808" stroke-width="0.6"/>
<path d="M86.23 133.14L88.78 135.69L86.23 138.24L83.68 135.69Z" fill="#7a1010" stroke="#400808" stroke-width="0.6"/>
<path d="M88.51 133.86L91.06 136.41L88.51 138.96L85.96 136.41Z" fill="#7a1010" stroke="#400808" stroke-width="0.6"/>
<path d="M90.78 136.29L93.33 138.84L90.78 141.39L88.23 138.84Z" fill="#7a1010" stroke="#400808" stroke-width="0.6"/>
<path d="M93.05 137.96L95.6 140.51L93.05 143.06L90.5 140.51Z" fill="#7a1010" stroke="#400808" stroke-width="0.6"/>
<path d="M95.33 142.15L97.88 144.7L95.33 147.25L92.78 144.7Z" fill="#7a1010" stroke="#400808" stroke-width="0.6"/>
<path d="M97.6 143.77L100.15 146.32L97.6 148.87L95.05 146.32Z" fill="#7a1010" stroke="#400808" stroke-width="0.6"/>
<path d="M99.87 144.28L102.42 146.83L99.87 149.38L97.32 146.83Z" fill="#7a1010" stroke="#400808" stroke-width="0.6"/>
<path d="M102.14 145.59L104.69 148.14L102.14 150.69L99.59 148.14Z" fill="#7a1010" stroke="#400808" stroke-width="0.6"/>
<path d="M104.42 144.02L106.97 146.57L104.42 149.12L101.87 146.57Z" fill="#7a1010" stroke="#400808" stroke-width="0.6"/>
<path d="M106.69 147.37L109.24 149.92L106.69 152.47L104.14 149.92Z" fill="#7a1010" stroke="#400808" stroke-width="0.6"/>
<path d="M108.96 148.47L111.51 151.02L108.96 153.57L106.41 151.02Z" fill="#7a1010" stroke="#400808" stroke-width="0.6"/>
<path d="M111.24 149.1L113.79 151.65L111.24 154.2L108.69 151.65Z" fill="#7a1010" stroke="#400808" stroke-width="0.6"/>
<path d="M113.51 151.37L116.06 153.92L113.51 156.47L110.96 153.92Z" fill="#7a1010" stroke="#400808" stroke-width="0.6"/>
<path d="M115.78 149.46L118.33 152.01L115.78 154.56L113.23 152.01Z" fill="#7a1010" stroke="#400808" stroke-width="0.6"/>
<path d="M118.06 151.26L120.61 153.81L118.06 156.36L115.51 153.81Z" fill="#7a1010" stroke="#400808" stroke-width="0.6"/>
<path d="M120.33 152.38L122.88 154.93L120.33 157.48L117.78 154.93Z" fill="#7a1010" stroke="#400808" stroke-width="0.6"/>
<path d="M122.6 152.45L125.15 155L122.6 157.55L120.05 155Z" fill="#7a1010" stroke="#400808" stroke-width="0.6"/>
<path d="M124.87 156.62L127.42 159.17L124.87 161.72L122.32 159.17Z" fill="#7a1010" stroke="#400808" stroke-width="0.6"/>
<path d="M127.15 156.73L129.7 159.28L127.15 161.83L124.6 159.28Z" fill="#7a1010" stroke="#400808" stroke-width="0.6"/>
<path d="M129.42 156.94L131.97 159.49L129.42 162.04L126.87 159.49Z" fill="#7a1010" stroke="#400808" stroke-width="0.6"/>
<path d="M131.69 160.53L134.24 163.08L131.69 165.63L129.14 163.08Z" fill="#7a1010" stroke="#400808" stroke-width="0.6"/>
<path d="M133.97 162.48L136.52 165.03L133.97 167.58L131.42 165.03Z" fill="#7a1010" stroke="#400808" stroke-width="0.6"/>
<path d="M136.24 161.86L138.79 164.41L136.24 166.96L133.69 164.41Z" fill="#7a1010" stroke="#400808" stroke-width="0.6"/>
<path d="M138.51 161.87L141.06 164.42L138.51 166.97L135.96 164.42Z" fill="#7a1010" stroke="#400808" stroke-width="0.6"/>
<path d="M140.79 163.71L143.34 166.26L140.79 168.81L138.24 166.26Z" fill="#7a1010" stroke="#400808" stroke-width="0.6"/>
<path d="M143.06 164.85L145.61 167.4L143.06 169.95L140.51 167.4Z" fill="#7a1010" stroke="#400808" stroke-width="0.6"/>
<path d="M145.33 168.14L147.88 170.69L145.33 173.24L142.78 170.69Z" fill="#7a1010" stroke="#400808" stroke-width="0.6"/>
<path d="M147.6 165.55L150.15 168.1L147.6 170.65L145.05 168.1Z" fill="#7a1010" stroke="#400808" stroke-width="0.6"/>
<path d="M149.88 160.27L152.43 162.82L149.88 165.37L147.33 162.82Z" fill="#7a1010" stroke="#400808" stroke-width="0.6"/>
<path d="M152.15 160.18L154.7 162.73L152.15 165.28L149.6 162.73Z" fill="#7a1010" stroke="#400808" stroke-width="0.6"/>
<path d="M154.42 157.32L156.97 159.87L154.42 162.42L151.87 159.87Z" fill="#7a1010" stroke="#400808" stroke-width="0.6"/>
<path d="M156.7 160.01L159.25 162.56L156.7 165.11L154.15 162.56Z" fill="#7a1010" stroke="#400808" stroke-width="0.6"/>
<path d="M158.97 162.99L161.52 165.54L158.97 168.09L156.42 165.54Z" fill="#7a1010" stroke="#400808" stroke-width="0.6"/>
<path d="M161.24 166.06L163.79 168.61L161.24 171.16L158.69 168.61Z" fill="#7a1010" stroke="#400808" stroke-width="0.6"/>
<path d="M163.51 166.36L166.06 168.91L163.51 171.46L160.96 168.91Z" fill="#7a1010" stroke="#400808" stroke-width="0.6"/>
<path d="M165.79 165.18L168.34 167.73L165.79 170.28L163.24 167.73Z" fill="#7a1010" stroke="#400808" stroke-width="0.6"/>
<path d="M168.06 168.66L170.61 171.21L168.06 173.76L165.51 171.21Z" fill="#7a1010" stroke="#400808" stroke-width="0.6"/>
<path d="M170.33 168.43L172.88 170.98L170.33 173.53L167.78 170.98Z" fill="#7a1010" stroke="#400808" stroke-width="0.6"/>
<path d="M172.61 167.2L175.16 169.75L172.61 172.3L170.06 169.75Z" fill="#7a1010" stroke="#400808" stroke-width="0.6"/>
<path d="M174.88 168.11L177.43 170.66L174.88 173.21L172.33 170.66Z" fill="#7a1010" stroke="#400808" stroke-width="0.6"/>
<path d="M177.15 169.45L179.7 172L177.15 174.55L174.6 172Z" fill="#7a1010" stroke="#400808" stroke-width="0.6"/>
<path d="M179.43 169.54L181.98 172.09L179.43 174.64L176.88 172.09Z" fill="#7a1010" stroke="#400808" stroke-width="0.6"/>
<path d="M181.7 169.8L184.25 172.35L181.7 174.9L179.15 172.35Z" fill="#7a1010" stroke="#400808" stroke-width="0.6"/>
<path d="M183.97 169.14L186.52 171.69L183.97 174.24L181.42 171.69Z" fill="#7a1010" stroke="#400808" stroke-width="0.6"/>
<path d="M186.25 169.07L188.8 171.62L186.25 174.17L183.69 171.62Z" fill="#7a1010" stroke="#400808" stroke-width="0.6"/>
<path d="M188.52 168.98L191.07 171.53L188.52 174.08L185.97 171.53Z" fill="#7a1010" stroke="#400808" stroke-width="0.6"/>
<path d="M190.79 170.42L193.34 172.97L190.79 175.52L188.24 172.97Z" fill="#7a1010" stroke="#400808" stroke-width="0.6"/>
<path d="M193.06 171.84L195.61 174.39L193.06 176.94L190.51 174.39Z" fill="#7a1010" stroke="#400808" stroke-width="0.6"/>
<path d="M195.34 169.23L197.89 171.78L195.34 174.33L192.79 171.78Z" fill="#7a1010" stroke="#400808" stroke-width="0.6"/>
<path d="M197.61 169.39L200.16 171.94L197.61 174.49L195.06 171.94Z" fill="#7a1010" stroke="#400808" stroke-width="0.6"/>
<path d="M199.88 168.86L202.43 171.41L199.88 173.96L197.33 171.41Z" fill="#7a1010" stroke="#400808" stroke-width="0.6"/>
<path d="M202.16 168.37L204.71 170.92L202.16 173.47L199.61 170.92Z" fill="#7a1010" stroke="#400808" stroke-width="0.6"/>
<path d="M204.43 170.24L206.98 172.79L204.43 175.34L201.88 172.79Z" fill="#7a1010" stroke="#400808" stroke-width="0.6"/>
<path d="M206.7 170.42L209.25 172.97L206.7 175.52L204.15 172.97Z" fill="#7a1010" stroke="#400808" stroke-width="0.6"/>
<path d="M208.98 173.09L211.53 175.64L208.98 178.19L206.43 175.64Z" fill="#7a1010" stroke="#400808" stroke-width="0.6"/>
<path d="M211.25 172.08L213.8 174.63L211.25 177.18L208.7 174.63Z" fill="#7a1010" stroke="#400808" stroke-width="0.6"/>
<path d="M213.52 174.77L216.07 177.32L213.52 179.87L210.97 177.32Z" fill="#7a1010" stroke="#400808" stroke-width="0.6"/>
<path d="M215.79 173.45L218.34 176L215.79 178.55L213.24 176Z" fill="#7a1010" stroke="#400808" stroke-width="0.6"/>
<path d="M218.07 175.03L220.62 177.58L218.07 180.13L215.52 177.58Z" fill="#7a1010" stroke="#400808" stroke-width="0.6"/>
<path d="M220.34 173.46L222.89 176.01L220.34 178.56L217.79 176.01Z" fill="#7a1010" stroke="#400808" stroke-width="0.6"/>
<path d="M222.61 175.85L225.16 178.4L222.61 180.95L220.06 178.4Z" fill="#7a1010" stroke="#400808" stroke-width="0.6"/>
<path d="M224.89 174.43L227.44 176.98L224.89 179.53L222.34 176.98Z" fill="#7a1010" stroke="#400808" stroke-width="0.6"/>
<path d="M227.16 174.54L229.71 177.09L227.16 179.64L224.61 177.09Z" fill="#7a1010" stroke="#400808" stroke-width="0.6"/>
<path d="M229.43 173.46L231.98 176.01L229.43 178.56L226.88 176.01Z" fill="#7a1010" stroke="#400808" stroke-width="0.6"/>
<path d="M231.71 172.54L234.26 175.09L231.71 177.64L229.16 175.09Z" fill="#7a1010" stroke="#400808" stroke-width="0.6"/>
<path d="M233.98 173.54L236.53 176.09L233.98 178.64L231.43 176.09Z" fill="#7a1010" stroke="#400808" stroke-width="0.6"/>
<path d="M236.25 175.73L238.8 178.28L236.25 180.83L233.7 178.28Z" fill="#7a1010" stroke="#400808" stroke-width="0.6"/>
<path d="M238.52 175.57L241.07 178.12L238.52 180.67L235.97 178.12Z" fill="#7a1010" stroke="#400808" stroke-width="0.6"/>
<path d="M240.8 176.44L243.35 178.99L240.8 181.54L238.25 178.99Z" fill="#7a1010" stroke="#400808" stroke-width="0.6"/>
<path d="M243.07 177.03L245.62 179.58L243.07 182.13L240.52 179.58Z" fill="#7a1010" stroke="#400808" stroke-width="0.6"/>
<path d="M38.5 178.75L41.05 181.3L38.5 183.85L35.95 181.3Z" fill="#1f7a1f" stroke="#104010" stroke-width="0.6"/>
<path d="M40.77 178.24L43.32 180.79L40.77 183.34L38.22 180.79Z" fill="#1f7a1f" stroke="#104010" stroke-width="0.6"/>
<path d="M43.05 177.66L45.6 180.21L43.05 182.76L40.5 180.21Z" fill="#1f7a1f" stroke="#104010" stroke-width="0.6"/>
<path d="M45.32 175.9L47.87 178.45L45.32 181L42.77 178.45Z" fill="#1f7a1f" stroke="#104010" stroke-width="0.6"/>
<path d="M47.59 168.27L50.14 170.82L47.59 173.37L45.04 170.82Z" fill="#1f7a1f" stroke="#104010" stroke-width="0.6"/>
<path d="M49.87 157.62L52.41 160.17L49.87 162.72L47.32 160.17Z" fill="#1f7a1f" stroke="#104010" stroke-width="0.6"/>
<path d="M52.14 143.27L54.69 145.82L52.14 148.37L49.59 145.82Z" fill="#1f7a1f" stroke="#104010" stroke-width="0.6"/>
<path d="M54.41 130.37L56.96 132.92L54.41 135.47L51.86 132.92Z" fill="#1f7a1f" stroke="#104010" stroke-width="0.6"/>
<path d="M56.68 124.18L59.23 126.73L56.68 129.28L54.13 126.73Z" fill="#1f7a1f" stroke="#104010" stroke-width="0.6"/>
<path d="M58.96 121.2L61.51 123.75L58.96 126.3L56.41 123.75Z" fill="#1f7a1f" stroke="#104010" stroke-width="0.6"/>
<path d="M61.23 118.39L63.78 120.94L61.23 123.49L58.68 120.94Z" fill="#1f7a1f" stroke="#104010" stroke-width="0.6"/>
<path d="M63.5 120.08L66.05 122.63L63.5 125.18L60.95 122.63Z" fill="#1f7a1f" stroke="#104010" stroke-width="0.6"/>
<path d="M65.78 124.43L68.33 126.98L65.78 129.53L63.23 126.98Z" fill="#1f7a1f" stroke="#104010" stroke-width="0.6"/>
<path d="M68.05 128.71L70.6 131.26L68.05 133.81L65.5 131.26Z" fill="#1f7a1f" stroke="#104010" stroke-width="0.6"/>
<path d="M70.32 129.19L72.87 131.74L70.32 134.29L67.77 131.74Z" fill="#1f7a1f" stroke="#104010" stroke-width="0.6"/>
<path d="M72.59 132.42L75.14 134.97L72.59 137.52L70.05 134.97Z" fill="#1f7a1f" stroke="#104010" stroke-width="0.6"/>
<path d="M74.87 135.8L77.42 138.35L74.87 140.9L72.32 138.35Z" fill="#1f7a1f" stroke="#104010" stroke-width="0.6"/>
<path d="M77.14 136.2L79.69 138.75L77.14 141.3L74.59 138.75Z" fill="#1f7a1f" stroke="#104010" stroke-width="0.6"/>
<path d="M79.41 141.15L81.96 143.7L79.41 146.25L76.86 143.7Z" fill="#1f7a1f" stroke="#104010" stroke-width="0.6"/>
<path d="M81.69 142.36L84.24 144.91L81.69 147.46L79.14 144.91Z" fill="#1f7a1f" stroke="#104010" stroke-width="0.6"/>
<path d="M83.96 145.11L86.51 147.66L83.96 150.21L81.41 147.66Z" fill="#1f7a1f" stroke="#104010" stroke-width="0.6"/>
<path d="M86.23 145.04L88.78 147.59L86.23 150.14L83.68 147.59Z" fill="#1f7a1f" stroke="#104010" stroke-width="0.6"/>
<path d="M88.51 146.8L91.06 149.35L88.51 151.9L85.96 149.35Z" fill="#1f7a1f" stroke="#104010" stroke-width="0.6"/>
<path d="M90.78 147.32L93.33 149.87L90.78 152.42L88.23 149.87Z" fill="#1f7a1f" stroke="#104010" stroke-width="0.6"/>
<path d="M93.05 149.72L95.6 152.27L93.05 154.82L90.5 152.27Z" fill="#1f7a1f" stroke="#104010" stroke-width="0.6"/>
<path d="M95.33 152.51L97.88 155.06L95.33 157.61L92.78 155.06Z" fill="#1f7a1f" stroke="#104010" stroke-width="0.6"/>
<path d="M97.6 153.38L100.15 155.93L97.6 158.48L95.05 155.93Z" fill="#1f7a1f" stroke="#104010" stroke-width="0.6"/>
<path d="M99.87 152.39L102.42 154.94L99.87 157.49L97.32 154.94Z" fill="#1f7a1f" stroke="#104010" stroke-width="0.6"/>
<path d="M102.14 153.87L104.69 156.42L102.14 158.97L99.59 156.42Z" fill="#1f7a1f" stroke="#104010" stroke-width="0.6"/>
<path d="M104.42 157.13L106.97 159.68L104.42 162.23L101.87 159.68Z" fill="#1f7a1f" stroke="#104010" stroke-width="0.6"/>
<path d="M106.69 157.82L109.24 160.37L106.69 162.92L104.14 160.37Z" fill="#1f7a1f" stroke="#104010" stroke-width="0.6"/>
<path d="M108.96 157.29L111.51 159.84L108.96 162.39L106.41 159.84Z" fill="#1f7a1f" stroke="#104010" stroke-width="0.6"/>
<path d="M111.24 161.23L113.79 163.78L111.24 166.33L108.69 163.78Z" fill="#1f7a1f" stroke="#104010" stroke-width="0.6"/>
<path d="M113.51 159.15L116.06 161.7L113.51 164.25L110.96 161.7Z" fill="#1f7a1f" stroke="#104010" stroke-width="0.6"/>
<path d="M115.78 162.02L118.33 164.57L115.78 167.12L113.23 164.57Z" fill="#1f7a1f" stroke="#104010" stroke-width="0.6"/>
<path d="M118.06 161.26L120.61 163.81L118.06 166.36L115.51 163.81Z" fill="#1f7a1f" stroke="#104010" stroke-width="0.6"/>
<path d="M120.33 162.3L122.88 164.85L120.33 167.4L117.78 164.85Z" fill="#1f7a1f" stroke="#104010" stroke-width="0.6"/>
<path d="M122.6 161.98L125.15 164.53L122.6 167.08L120.05 164.53Z" fill="#1f7a1f" stroke="#104010" stroke-width="0.6"/>
<path d="M124.87 163.81L127.42 166.36L124.87 168.91L122.32 166.36Z" fill="#1f7a1f" stroke="#104010" stroke-width="0.6"/>
<path d="M127.15 162.57L129.7 165.12L127.15 167.67L124.6 165.12Z" fill="#1f7a1f" stroke="#104010" stroke-width="0.6"/>
<path d="M129.42 166.36L131.97 168.91L129.42 171.46L126.87 168.91Z" fill="#1f7a1f" stroke="#104010" stroke-width="0.6"/>
<path d="M131.69 165.21L134.24 167.76L131.69 170.31L129.14 167.76Z" fill="#1f7a1f" stroke="#104010" stroke-width="0.6"/>
<path d="M133.97 164.34L136.52 166.89L133.97 169.44L131.42 166.89Z" fill="#1f7a1f" stroke="#104010" stroke-width="0.6"/>
<path d="M136.24 166.9L138.79 169.45L136.24 172L133.69 169.45Z" fill="#1f7a1f" stroke="#104010" stroke-width="0.6"/>
<path d="M138.51 166.9L141.06 169.45L138.51 172L135.96 169.45Z" fill="#1f7a1f" stroke="#104010" stroke-width="0.6"/>
<path d="M140.79 168.97L143.34 171.52L140.79 174.07L138.24 171.52Z" fill="#1f7a1f" stroke="#104010" stroke-width="0.6"/>
<path d="M143.06 169.1L145.61 171.65L143.06 174.2L140.51 171.65Z" fill="#1f7a1f" stroke="#104010" stroke-width="0.6"/>
<path d="M145.33 171.94L147.88 174.49L145.33 177.04L142.78 174.49Z" fill="#1f7a1f" stroke="#104010" stroke-width="0.6"/>
<path d="M147.6 169.42L150.15 171.97L147.6 174.52L145.05 171.97Z" fill="#1f7a1f" stroke="#104010" stroke-width="0.6"/>
<path d="M149.88 169.75L152.43 172.3L149.88 174.85L147.33 172.3Z" fill="#1f7a1f" stroke="#104010" stroke-width="0.6"/>
<path d="M152.15 168.85L154.7 171.4L152.15 173.95L149.6 171.4Z" fill="#1f7a1f" stroke="#104010" stroke-width="0.6"/>
<path d="M154.42 169.84L156.97 172.39L154.42 174.94L151.87 172.39Z" fill="#1f7a1f" stroke="#104010" stroke-width="0.6"/>
<path d="M156.7 170.92L159.25 173.47L156.7 176.02L154.15 173.47Z" fill="#1f7a1f" stroke="#104010" stroke-width="0.6"/>
<path d="M158.97 171.2L161.52 173.75L158.97 176.3L156.42 173.75Z" fill="#1f7a1f" stroke="#104010" stroke-width="0.6"/>
<path d="M161.24 171.93L163.79 174.48L161.24 177.03L158.69 174.48Z" fill="#1f7a1f" stroke="#104010" stroke-width="0.6"/>
<path d="M163.51 172.61L166.06 175.16L163.51 177.71L160.96 175.16Z" fill="#1f7a1f" stroke="#104010" stroke-width="0.6"/>
<path d="M165.79 172.82L168.34 175.37L165.79 177.92L163.24 175.37Z" fill="#1f7a1f" stroke="#104010" stroke-width="0.6"/>
<path d="M168.06 173.38L170.61 175.93L168.06 178.48L165.51 175.93Z" fill="#1f7a1f" stroke="#104010" stroke-width="0.6"/>
<path d="M170.33 171.9L172.88 174.45L170.33 177L167.78 174.45Z" fill="#1f7a1f" stroke="#104010" stroke-width="0.6"/>
<path d="M172.61 172.6L175.16 175.15L172.61 177.7L170.06 175.15Z" fill="#1f7a1f" stroke="#104010" stroke-width="0.6"/>
<path d="M174.88 173.25L177.43 175.8L174.88 178.35L172.33 175.8Z" fill="#1f7a1f" stroke="#104010" stroke-width="0.6"/>
<path d="M177.15 174.52L179.7 177.07L177.15 179.62L174.6 177.07Z" fill="#1f7a1f" stroke="#104010" stroke-width="0.6"/>
<path d="M179.43 173.46L181.98 176.01L179.43 178.56L176.88 176.01Z" fill="#1f7a1f" stroke="#104010" stroke-width="0.6"/>
<path d="M181.7 172.66L184.25 175.21L181.7 177.76L179.15 175.21Z" fill="#1f7a1f" stroke="#104010" stroke-width="0.6"/>
<path d="M183.97 174.5L186.52 177.05L183.97 179.6L181.42 177.05Z" fill="#1f7a1f" stroke="#104010" stroke-width="0.6"/>
<path d="M186.25 173.52L188.8 176.07L186.25 178.62L183.69 176.07Z" fill="#1f7a1f" stroke="#104010" stroke-width="0.6"/>
<path d="M188.52 174.62L191.07 177.17L188.52 179.72L185.97 177.17Z" fill="#1f7a1f" stroke="#104010" stroke-width="0.6"/>
<path d="M190.79 175.02L193.34 177.57L190.79 180.12L188.24 177.57Z" fill="#1f7a1f" stroke="#104010" stroke-width="0.6"/>
<path d="M193.06 173.31L195.61 175.86L193.06 178.41L190.51 175.86Z" fill="#1f7a1f" stroke="#104010" stroke-width="0.6"/>
<path d="M195.34 173.94L197.89 176.49L195.34 179.04L192.79 176.49Z" fill="#1f7a1f" stroke="#104010" stroke-width="0.6"/>
<path d="M197.61 173.28L200.16 175.83L197.61 178.38L195.06 175.83Z" fill="#1f7a1f" stroke="#104010" stroke-width="0.6"/>
<path d="M199.88 176.02L202.43 178.57L199.88 181.12L197.33 178.57Z" fill="#1f7a1f" stroke="#104010" stroke-width="0.6"/>
<path d="M202.16 176.09L204.71 178.64L202.16 181.19L199.61 178.64Z" fill="#1f7a1f" stroke="#104010" stroke-width="0.6"/>
<path d="M204.43 176.84L206.98 179.39L204.43 181.94L201.88 179.39Z" fill="#1f7a1f" stroke="#104010" stroke-width="0.6"/>
<path d="M206.7 174.28L209.25 176.83L206.7 179.38L204.15 176.83Z" fill="#1f7a1f" stroke="#104010" stroke-width="0.6"/>
<path d="M208.98 174.51L211.53 177.06L208.98 179.61L206.43 177.06Z" fill="#1f7a1f" stroke="#104010" stroke-width="0.6"/>
<path d="M211.25 174.81L213.8 177.36L211.25 179.91L208.7 177.36Z" fill="#1f7a1f" stroke="#104010" stroke-width="0.6"/>
<path d="M213.52 176.72L216.07 179.27L213.52 181.82L210.97 179.27Z" fill="#1f7a1f" stroke="#104010" stroke-width="0.6"/>
<path d="M215.79 175.68L218.34 178.23L215.79 180.78L213.24 178.23Z" fill="#1f7a1f" stroke="#104010" stroke-width="0.6"/>
<path d="M218.07 174.53L220.62 177.08L218.07 179.63L215.52 177.08Z" fill="#1f7a1f" stroke="#104010" stroke-width="0.6"/>
<path d="M220.34 175.03L222.89 177.58L220.34 180.13L217.79 177.58Z" fill="#1f7a1f" stroke="#104010" stroke-width="0.6"/>
<path d="M222.61 174.38L225.16 176.93L222.61 179.48L220.06 176.93Z" fill="#1f7a1f" stroke="#104010" stroke-width="0.6"/>
<path d="M224.89 175.03L227.44 177.58L224.89 180.13L222.34 177.58Z" fill="#1f7a1f" stroke="#104010" stroke-width="0.6"/>
<path d="M227.16 173.88L229.71 176.43L227.16 178.98L224.61 176.43Z" fill="#1f7a1f" stroke="#104010" stroke-width="0.6"/>
<path d="M229.43 174.6L231.98 177.15L229.43 179.7L226.88 177.15Z" fill="#1f7a1f" stroke="#104010" stroke-width="0.6"/>
<path d="M231.71 172.6L234.26 175.15L231.71 177.7L229.16 175.15Z" fill="#1f7a1f" stroke="#104010" stroke-width="0.6"/>
<path d="M233.98 174.88L236.53 177.43L233.98 179.98L231.43 177.43Z" fill="#1f7a1f" stroke="#104010" stroke-width="0.6"/>
<path d="M236.25 175.1L238.8 177.65L236.25 180.2L233.7 177.65Z" fill="#1f7a1f" stroke="#104010" stroke-width="0.6"/>
<path d="M238.52 176.52L241.07 179.07L238.52 181.62L235.97 179.07Z" fill="#1f7a1f" stroke="#104010" stroke-width="0.6"/>
<path d="M240.8 174.58L243.35 177.13L240.8 179.68L238.25 177.13Z" fill="#1f7a1f" stroke="#104010" stroke-width="0.6"/>
<path d="M243.07 175.45L245.62 178L243.07 180.55L240.52 178Z" fill="#1f7a1f" stroke="#104010" stroke-width="0.6"/>
<path d="M38.5 179.3L40.5 181.3L38.5 183.3L36.5 181.3Z" fill="#d85830" stroke="#b03818" stroke-width="0.6"/>
<path d="M40.77 179.3L42.77 181.3L40.77 183.3L38.77 181.3Z" fill="#d85830" stroke="#b03818" stroke-width="0.6"/>
<path d="M43.05 179.3L45.05 181.3L43.05 183.3L41.05 181.3Z" fill="#d85830" stroke="#b03818" stroke-width="0.6"/>
<path d="M45.32 179.3L47.32 181.3L45.32 183.3L43.32 181.3Z" fill="#d85830" stroke="#b03818" stroke-width="0.6"/>
<path d="M47.59 179.3L49.59 181.3L47.59 183.3L45.59 181.3Z" fill="#d85830" stroke="#b03818" stroke-width="0.6"/>
<path d="M49.87 179.3L51.87 181.3L49.87 183.3L47.87 181.3Z" fill="#d85830" stroke="#b03818" stroke-width="0.6"/>
<path d="M52.14 179.3L54.14 181.3L52.14 183.3L50.14 181.3Z" fill="#d85830" stroke="#b03818" stroke-width="0.6"/>
<path d="M54.41 179.3L56.41 181.3L54.41 183.3L52.41 181.3Z" fill="#d85830" stroke="#b03818" stroke-width="0.6"/>
<path d="M56.68 179.3L58.68 181.3L56.68 183.3L54.68 181.3Z" fill="#d85830" stroke="#b03818" stroke-width="0.6"/>
<path d="M58.96 179.3L60.96 181.3L58.96 183.3L56.96 181.3Z" fill="#d85830" stroke="#b03818" stroke-width="0.6"/>
<path d="M61.23 179.3L63.23 181.3L61.23 183.3L59.23 181.3Z" fill="#d85830" stroke="#b03818" stroke-width="0.6"/>
<path d="M63.5 179.3L65.5 181.3L63.5 183.3L61.5 181.3Z" fill="#d85830" stroke="#b03818" stroke-width="0.6"/>
<path d="M65.78 179.3L67.78 181.3L65.78 183.3L63.78 181.3Z" fill="#d85830" stroke="#b03818" stroke-width="0.6"/>
<path d="M68.05 179.3L70.05 181.3L68.05 183.3L66.05 181.3Z" fill="#d85830" stroke="#b03818" stroke-width="0.6"/>
<path d="M70.32 179.3L72.32 181.3L70.32 183.3L68.32 181.3Z" fill="#d85830" stroke="#b03818" stroke-width="0.6"/>
<path d="M72.59 179.3L74.59 181.3L72.59 183.3L70.59 181.3Z" fill="#d85830" stroke="#b03818" stroke-width="0.6"/>
<path d="M74.87 179.3L76.87 181.3L74.87 183.3L72.87 181.3Z" fill="#d85830" stroke="#b03818" stroke-width="0.6"/>
<path d="M77.14 179.3L79.14 181.3L77.14 183.3L75.14 181.3Z" fill="#d85830" stroke="#b03818" stroke-width="0.6"/>
<path d="M79.41 179.3L81.41 181.3L79.41 183.3L77.41 181.3Z" fill="#d85830" stroke="#b03818" stroke-width="0.6"/>
<path d="M81.69 179.3L83.69 181.3L81.69 183.3L79.69 181.3Z" fill="#d85830" stroke="#b03818" stroke-width="0.6"/>
<path d="M83.96 179.3L85.96 181.3L83.96 183.3L81.96 181.3Z" fill="#d85830" stroke="#b03818" stroke-width="0.6"/>
<path d="M86.23 179.3L88.23 181.3L86.23 183.3L84.23 181.3Z" fill="#d85830" stroke="#b03818" stroke-width="0.6"/>
<path d="M88.51 179.3L90.51 181.3L88.51 183.3L86.51 181.3Z" fill="#d85830" stroke="#b03818" stroke-width="0.6"/>
<path d="M90.78 179.3L92.78 181.3L90.78 183.3L88.78 181.3Z" fill="#d85830" stroke="#b03818" stroke-width="0.6"/>
<path d="M93.05 179.3L95.05 181.3L93.05 183.3L91.05 181.3Z" fill="#d85830" stroke="#b03818" stroke-width="0.6"/>
<path d="M95.33 179.3L97.33 181.3L95.33 183.3L93.33 181.3Z" fill="#d85830" stroke="#b03818" stroke-width="0.6"/>
<path d="M97.6 179.3L99.6 181.3L97.6 183.3L95.6 181.3Z" fill="#d85830" stroke="#b03818" stroke-width="0.6"/>
<path d="M99.87 179.3L101.87 181.3L99.87 183.3L97.87 181.3Z" fill="#d85830" stroke="#b03818" stroke-width="0.6"/>
<path d="M102.14 179.3L104.14 181.3L102.14 183.3L100.14 181.3Z" fill="#d85830" stroke="#b03818" stroke-width="0.6"/>
<path d="M104.42 179.3L106.42 181.3L104.42 183.3L102.42 181.3Z" fill="#d85830" stroke="#b03818" stroke-width="0.6"/>
<path d="M106.69 179.3L108.69 181.3L106.69 183.3L104.69 181.3Z" fill="#d85830" stroke="#b03818" stroke-width="0.6"/>
<path d="M108.96 179.3L110.96 181.3L108.96 183.3L106.96 181.3Z" fill="#d85830" stroke="#b03818" stroke-width="0.6"/>
<path d="M111.24 179.3L113.24 181.3L111.24 183.3L109.24 181.3Z" fill="#d85830" stroke="#b03818" stroke-width="0.6"/>
<path d="M113.51 179.3L115.51 181.3L113.51 183.3L111.51 181.3Z" fill="#d85830" stroke="#b03818" stroke-width="0.6"/>
<path d="M115.78 179.3L117.78 181.3L115.78 183.3L113.78 181.3Z" fill="#d85830" stroke="#b03818" stroke-width="0.6"/>
<path d="M118.06 179.3L120.06 181.3L118.06 183.3L116.06 181.3Z" fill="#d85830" stroke="#b03818" stroke-width="0.6"/>
<path d="M120.33 179.3L122.33 181.3L120.33 183.3L118.33 181.3Z" fill="#d85830" stroke="#b03818" stroke-width="0.6"/>
<path d="M122.6 179.3L124.6 181.3L122.6 183.3L120.6 181.3Z" fill="#d85830" stroke="#b03818" stroke-width="0.6"/>
<path d="M124.87 179.3L126.87 181.3L124.87 183.3L122.87 181.3Z" fill="#d85830" stroke="#b03818" stroke-width="0.6"/>
<path d="M127.15 179.3L129.15 181.3L127.15 183.3L125.15 181.3Z" fill="#d85830" stroke="#b03818" stroke-width="0.6"/>
<path d="M129.42 179.3L131.42 181.3L129.42 183.3L127.42 181.3Z" fill="#d85830" stroke="#b03818" stroke-width="0.6"/>
<path d="M131.69 179.3L133.69 181.3L131.69 183.3L129.69 181.3Z" fill="#d85830" stroke="#b03818" stroke-width="0.6"/>
<path d="M133.97 179.3L135.97 181.3L133.97 183.3L131.97 181.3Z" fill="#d85830" stroke="#b03818" stroke-width="0.6"/>
<path d="M136.24 179.3L138.24 181.3L136.24 183.3L134.24 181.3Z" fill="#d85830" stroke="#b03818" stroke-width="0.6"/>
<path d="M138.51 179.3L140.51 181.3L138.51 183.3L136.51 181.3Z" fill="#d85830" stroke="#b03818" stroke-width="0.6"/>
<path d="M140.79 179.3L142.79 181.3L140.79 183.3L138.79 181.3Z" fill="#d85830" stroke="#b03818" stroke-width="0.6"/>
<path d="M143.06 179.3L145.06 181.3L143.06 183.3L141.06 181.3Z" fill="#d85830" stroke="#b03818" stroke-width="0.6"/>
<path d="M145.33 179.3L147.33 181.3L145.33 183.3L143.33 181.3Z" fill="#d85830" stroke="#b03818" stroke-width="0.6"/>
<path d="M147.6 179.3L149.6 181.3L147.6 183.3L145.6 181.3Z" fill="#d85830" stroke="#b03818" stroke-width="0.6"/>
<path d="M149.88 179.3L151.88 181.3L149.88 183.3L147.88 181.3Z" fill="#d85830" stroke="#b03818" stroke-width="0.6"/>
<path d="M152.15 179.3L154.15 181.3L152.15 183.3L150.15 181.3Z" fill="#d85830" stroke="#b03818" stroke-width="0.6"/>
<path d="M154.42 179.3L156.42 181.3L154.42 183.3L152.42 181.3Z" fill="#d85830" stroke="#b03818" stroke-width="0.6"/>
<path d="M156.7 179.3L158.7 181.3L156.7 183.3L154.7 181.3Z" fill="#d85830" stroke="#b03818" stroke-width="0.6"/>
<path d="M158.97 179.3L160.97 181.3L158.97 183.3L156.97 181.3Z" fill="#d85830" stroke="#b03818" stroke-width="0.6"/>
<path d="M161.24 179.3L163.24 181.3L161.24 183.3L159.24 181.3Z" fill="#d85830" stroke="#b03818" stroke-width="0.6"/>
<path d="M163.51 179.3L165.51 181.3L163.51 183.3L161.51 181.3Z" fill="#d85830" stroke="#b03818" stroke-width="0.6"/>
<path d="M165.79 179.3L167.79 181.3L165.79 183.3L163.79 181.3Z" fill="#d85830" stroke="#b03818" stroke-width="0.6"/>
<path d="M168.06 179.3L170.06 181.3L168.06 183.3L166.06 181.3Z" fill="#d85830" stroke="#b03818" stroke-width="0.6"/>
<path d="M170.33 179.3L172.33 181.3L170.33 183.3L168.33 181.3Z" fill="#d85830" stroke="#b03818" stroke-width="0.6"/>
<path d="M172.61 179.3L174.61 181.3L172.61 183.3L170.61 181.3Z" fill="#d85830" stroke="#b03818" stroke-width="0.6"/>
<path d="M174.88 179.3L176.88 181.3L174.88 183.3L172.88 181.3Z" fill="#d85830" stroke="#b03818" stroke-width="0.6"/>
<path d="M177.15 179.3L179.15 181.3L177.15 183.3L175.15 181.3Z" fill="#d85830" stroke="#b03818" stroke-width="0.6"/>
<path d="M179.43 179.3L181.43 181.3L179.43 183.3L177.43 181.3Z" fill="#d85830" stroke="#b03818" stroke-width="0.6"/>
<path d="M181.7 179.3L183.7 181.3L181.7 183.3L179.7 181.3Z" fill="#d85830" stroke="#b03818" stroke-width="0.6"/>
<path d="M183.97 179.3L185.97 181.3L183.97 183.3L181.97 181.3Z" fill="#d85830" stroke="#b03818" stroke-width="0.6"/>
<path d="M186.25 179.3L188.25 181.3L186.25 183.3L184.25 181.3Z" fill="#d85830" stroke="#b03818" stroke-width="0.6"/>
<path d="M188.52 179.3L190.52 181.3L188.52 183.3L186.52 181.3Z" fill="#d85830" stroke="#b03818" stroke-width="0.6"/>
<path d="M190.79 179.3L192.79 181.3L190.79 183.3L188.79 181.3Z" fill="#d85830" stroke="#b03818" stroke-width="0.6"/>
<path d="M193.06 179.3L195.06 181.3L193.06 183.3L191.06 181.3Z" fill="#d85830" stroke="#b03818" stroke-width="0.6"/>
<path d="M195.34 179.3L197.34 181.3L195.34 183.3L193.34 181.3Z" fill="#d85830" stroke="#b03818" stroke-width="0.6"/>
<path d="M197.61 179.3L199.61 181.3L197.61 183.3L195.61 181.3Z" fill="#d85830" stroke="#b03818" stroke-width="0.6"/>
<path d="M199.88 179.3L201.88 181.3L199.88 183.3L197.88 181.3Z" fill="#d85830" stroke="#b03818" stroke-width="0.6"/>
<path d="M202.16 179.3L204.16 181.3L202.16 183.3L200.16 181.3Z" fill="#d85830" stroke="#b03818" stroke-width="0.6"/>
<path d="M204.43 179.3L206.43 181.3L204.43 183.3L202.43 181.3Z" fill="#d85830" stroke="#b03818" stroke-width="0.6"/>
<path d="M206.7 179.3L208.7 181.3L206.7 183.3L204.7 181.3Z" fill="#d85830" stroke="#b03818" stroke-width="0.6"/>
<path d="M208.98 179.3L210.98 181.3L208.98 183.3L206.98 181.3Z" fill="#d85830" stroke="#b03818" stroke-width="0.6"/>
<path d="M211.25 179.3L213.25 181.3L211.25 183.3L209.25 181.3Z" fill="#d85830" stroke="#b03818" stroke-width="0.6"/>
<path d="M213.52 179.3L215.52 181.3L213.52 183.3L211.52 181.3Z" fill="#d85830" stroke="#b03818" stroke-width="0.6"/>
<path d="M215.79 179.3L217.79 181.3L215.79 183.3L213.79 181.3Z" fill="#d85830" stroke="#b03818" stroke-width="0.6"/>
<path d="M218.07 179.3L220.07 181.3L218.07 183.3L216.07 181.3Z" fill="#d85830" stroke="#b03818" stroke-width="0.6"/>
<path d="M220.34 179.3L222.34 181.3L220.34 183.3L218.34 181.3Z" fill="#d85830" stroke="#b03818" stroke-width="0.6"/>
<path d="M222.61 179.3L224.61 181.3L222.61 183.3L220.61 181.3Z" fill="#d85830" stroke="#b03818" stroke-width="0.6"/>
<path d="M224.89 179.3L226.89 181.3L224.89 183.3L222.89 181.3Z" fill="#d85830" stroke="#b03818" stroke-width="0.6"/>
<path d="M227.16 179.3L229.16 181.3L227.16 183.3L225.16 181.3Z" fill="#d85830" stroke="#b03818" stroke-width="0.6"/>
<path d="M229.43 179.3L231.43 181.3L229.43 183.3L227.43 181.3Z" fill="#d85830" stroke="#b03818" stroke-width="0.6"/>
<path d="M231.71 179.3L233.71 181.3L231.71 183.3L229.71 181.3Z" fill="#d85830" stroke="#b03818" stroke-width="0.6"/>
<path d="M233.98 179.3L235.98 181.3L233.98 183.3L231.98 181.3Z" fill="#d85830" stroke="#b03818" stroke-width="0.6"/>
<path d="M236.25 179.3L238.25 181.3L236.25 183.3L234.25 181.3Z" fill="#d85830" stroke="#b03818" stroke-width="0.6"/>
<path d="M238.52 179.3L240.52 181.3L238.52 183.3L236.52 181.3Z" fill="#d85830" stroke="#b03818" stroke-width="0.6"/>
<path d="M240.8 179.3L242.8 181.3L240.8 183.3L238.8 181.3Z" fill="#d85830" stroke="#b03818" stroke-width="0.6"/>
<path d="M243.07 179.3L245.07 181.3L243.07 183.3L241.07 181.3Z" fill="#d85830" stroke="#b03818" stroke-width="0.6"/>
<path d="M38.5 178.47L41.06 183.06L35.94 183.06Z" fill="#000000" stroke="#000000" stroke-width="0.6"/>
<path d="M40.77 178.34L43.34 182.93L38.21 182.93Z" fill="#000000" stroke="#000000" stroke-width="0.6"/>
<path d="M43.05 178.21L45.61 182.8L40.48 182.8Z" fill="#000000" stroke="#000000" stroke-width="0.6"/>
<path d="M45.32 178.08L47.88 182.67L42.75 182.67Z" fill="#000000" stroke="#000000" stroke-width="0.6"/>
<path d="M47.59 177.95L50.16 182.54L45.03 182.54Z" fill="#000000" stroke="#000000" stroke-width="0.6"/>
<path d="M49.87 174.89L52.43 179.48L47.3 179.48Z" fill="#000000" stroke="#000000" stroke-width="0.6"/>
<path d="M52.14 168.69L54.7 173.28L49.57 173.28Z" fill="#000000" stroke="#000000" stroke-width="0.6"/>
<path d="M54.41 155.57L56.98 160.16L51.85 160.16Z" fill="#000000" stroke="#000000" stroke-width="0.6"/>
<path d="M56.68 145.18L59.25 149.77L54.12 149.77Z" fill="#000000" stroke="#000000" stroke-width="0.6"/>
<path d="M58.96 131.79L61.52 136.38L56.39 136.38Z" fill="#000000" stroke="#000000" stroke-width="0.6"/>
<path d="M61.23 126.32L63.8 130.91L58.67 130.91Z" fill="#000000" stroke="#000000" stroke-width="0.6"/>
<path d="M63.5 118.23L66.07 122.82L60.94 122.82Z" fill="#000000" stroke="#000000" stroke-width="0.6"/>
<path d="M65.78 110.25L68.34 114.84L63.21 114.84Z" fill="#000000" stroke="#000000" stroke-width="0.6"/>
<path d="M68.05 106.76L70.61 111.35L65.48 111.35Z" fill="#000000" stroke="#000000" stroke-width="0.6"/>
<path d="M70.32 100.64L72.89 105.23L67.76 105.23Z" fill="#000000" stroke="#000000" stroke-width="0.6"/>
<path d="M72.59 96.53L75.16 101.12L70.03 101.12Z" fill="#000000" stroke="#000000" stroke-width="0.6"/>
<path d="M74.87 94.98L77.43 99.57L72.3 99.57Z" fill="#000000" stroke="#000000" stroke-width="0.6"/>
<path d="M77.14 99.97L79.71 104.56L74.58 104.56Z" fill="#000000" stroke="#000000" stroke-width="0.6"/>
<path d="M79.41 99.25L81.98 103.84L76.85 103.84Z" fill="#000000" stroke="#000000" stroke-width="0.6"/>
<path d="M81.69 99.33L84.25 103.92L79.12 103.92Z" fill="#000000" stroke="#000000" stroke-width="0.6"/>
<path d="M83.96 102.45L86.53 107.04L81.4 107.04Z" fill="#000000" stroke="#000000" stroke-width="0.6"/>
<path d="M86.23 105.48L88.8 110.07L83.67 110.07Z" fill="#000000" stroke="#000000" stroke-width="0.6"/>
<path d="M88.51 108.03L91.07 112.62L85.94 112.62Z" fill="#000000" stroke="#000000" stroke-width="0.6"/>
<path d="M90.78 109.89L93.34 114.48L88.21 114.48Z" fill="#000000" stroke="#000000" stroke-width="0.6"/>
<path d="M93.05 115.28L95.62 119.87L90.49 119.87Z" fill="#000000" stroke="#000000" stroke-width="0.6"/>
<path d="M95.33 114.93L97.89 119.52L92.76 119.52Z" fill="#000000" stroke="#000000" stroke-width="0.6"/>
<path d="M97.6 117.56L100.16 122.15L95.03 122.15Z" fill="#000000" stroke="#000000" stroke-width="0.6"/>
<path d="M99.87 121.87L102.44 126.46L97.31 126.46Z" fill="#000000" stroke="#000000" stroke-width="0.6"/>
<path d="M102.14 122.37L104.71 126.96L99.58 126.96Z" fill="#000000" stroke="#000000" stroke-width="0.6"/>
<path d="M104.42 126.09L106.98 130.68L101.85 130.68Z" fill="#000000" stroke="#000000" stroke-width="0.6"/>
<path d="M106.69 126.48L109.25 131.07L104.12 131.07Z" fill="#000000" stroke="#000000" stroke-width="0.6"/>
<path d="M108.96 127.84L111.53 132.43L106.4 132.43Z" fill="#000000" stroke="#000000" stroke-width="0.6"/>
<path d="M111.24 129.93L113.8 134.52L108.67 134.52Z" fill="#000000" stroke="#000000" stroke-width="0.6"/>
<path d="M113.51 133.98L116.07 138.57L110.94 138.57Z" fill="#000000" stroke="#000000" stroke-width="0.6"/>
<path d="M115.78 134.52L118.35 139.11L113.22 139.11Z" fill="#000000" stroke="#000000" stroke-width="0.6"/>
<path d="M118.06 134.11L120.62 138.7L115.49 138.7Z" fill="#000000" stroke="#000000" stroke-width="0.6"/>
<path d="M120.33 137.89L122.89 142.48L117.76 142.48Z" fill="#000000" stroke="#000000" stroke-width="0.6"/>
<path d="M122.6 138.1L125.17 142.69L120.04 142.69Z" fill="#000000" stroke="#000000" stroke-width="0.6"/>
<path d="M124.87 139.51L127.44 144.1L122.31 144.1Z" fill="#000000" stroke="#000000" stroke-width="0.6"/>
<path d="M127.15 140.41L129.71 145L124.58 145Z" fill="#000000" stroke="#000000" stroke-width="0.6"/>
<path d="M129.42 140.49L131.99 145.08L126.86 145.08Z" fill="#000000" stroke="#000000" stroke-width="0.6"/>
<path d="M131.69 144.04L134.26 148.63L129.13 148.63Z" fill="#000000" stroke="#000000" stroke-width="0.6"/>
<path d="M133.97 140.66L136.53 145.25L131.4 145.25Z" fill="#000000" stroke="#000000" stroke-width="0.6"/>
<path d="M136.24 141.38L138.8 145.97L133.67 145.97Z" fill="#000000" stroke="#000000" stroke-width="0.6"/>
<path d="M138.51 144.35L141.08 148.94L135.95 148.94Z" fill="#000000" stroke="#000000" stroke-width="0.6"/>
<path d="M140.79 144.88L143.35 149.47L138.22 149.47Z" fill="#000000" stroke="#000000" stroke-width="0.6"/>
<path d="M143.06 147.87L145.62 152.46L140.49 152.46Z" fill="#000000" stroke="#000000" stroke-width="0.6"/>
<path d="M145.33 149.32L147.9 153.91L142.77 153.91Z" fill="#000000" stroke="#000000" stroke-width="0.6"/>
<path d="M147.6 151.37L150.17 155.96L145.04 155.96Z" fill="#000000" stroke="#000000" stroke-width="0.6"/>
<path d="M149.88 152.48L152.44 157.07L147.31 157.07Z" fill="#000000" stroke="#000000" stroke-width="0.6"/>
<path d="M152.15 156.44L154.72 161.03L149.59 161.03Z" fill="#000000" stroke="#000000" stroke-width="0.6"/>
<path d="M154.42 156.23L156.99 160.82L151.86 160.82Z" fill="#000000" stroke="#000000" stroke-width="0.6"/>
<path d="M156.7 158.6L159.26 163.19L154.13 163.19Z" fill="#000000" stroke="#000000" stroke-width="0.6"/>
<path d="M158.97 157.97L161.53 162.56L156.4 162.56Z" fill="#000000" stroke="#000000" stroke-width="0.6"/>
<path d="M161.24 158.99L163.81 163.58L158.68 163.58Z" fill="#000000" stroke="#000000" stroke-width="0.6"/>
<path d="M163.51 159.16L166.08 163.75L160.95 163.75Z" fill="#000000" stroke="#000000" stroke-width="0.6"/>
<path d="M165.79 162.91L168.35 167.5L163.22 167.5Z" fill="#000000" stroke="#000000" stroke-width="0.6"/>
<path d="M168.06 161.68L170.63 166.27L165.5 166.27Z" fill="#000000" stroke="#000000" stroke-width="0.6"/>
<path d="M170.33 161.14L172.9 165.73L167.77 165.73Z" fill="#000000" stroke="#000000" stroke-width="0.6"/>
<path d="M172.61 162.13L175.17 166.72L170.04 166.72Z" fill="#000000" stroke="#000000" stroke-width="0.6"/>
<path d="M174.88 161.05L177.44 165.64L172.31 165.64Z" fill="#000000" stroke="#000000" stroke-width="0.6"/>
<path d="M177.15 160.81L179.72 165.4L174.59 165.4Z" fill="#000000" stroke="#000000" stroke-width="0.6"/>
<path d="M179.43 162.72L181.99 167.31L176.86 167.31Z" fill="#000000" stroke="#000000" stroke-width="0.6"/>
<path d="M181.7 163.33L184.26 167.92L179.13 167.92Z" fill="#000000" stroke="#000000" stroke-width="0.6"/>
<path d="M183.97 163.75L186.54 168.34L181.41 168.34Z" fill="#000000" stroke="#000000" stroke-width="0.6"/>
<path d="M186.25 166.95L188.81 171.54L183.68 171.54Z" fill="#000000" stroke="#000000" stroke-width="0.6"/>
<path d="M188.52 168.18L191.08 172.77L185.95 172.77Z" fill="#000000" stroke="#000000" stroke-width="0.6"/>
<path d="M190.79 167.61L193.36 172.2L188.23 172.2Z" fill="#000000" stroke="#000000" stroke-width="0.6"/>
<path d="M193.06 167.38L195.63 171.97L190.5 171.97Z" fill="#000000" stroke="#000000" stroke-width="0.6"/>
<path d="M195.34 169.71L197.9 174.3L192.77 174.3Z" fill="#000000" stroke="#000000" stroke-width="0.6"/>
<path d="M197.61 168.16L200.18 172.75L195.05 172.75Z" fill="#000000" stroke="#000000" stroke-width="0.6"/>
<path d="M199.88 168.17L202.45 172.76L197.32 172.76Z" fill="#000000" stroke="#000000" stroke-width="0.6"/>
<path d="M202.16 170.77L204.72 175.36L199.59 175.36Z" fill="#000000" stroke="#000000" stroke-width="0.6"/>
<path d="M204.43 170.24L206.99 174.83L201.86 174.83Z" fill="#000000" stroke="#000000" stroke-width="0.6"/>
<path d="M206.7 173.54L209.27 178.13L204.14 178.13Z" fill="#000000" stroke="#000000" stroke-width="0.6"/>
<path d="M208.98 174.03L211.54 178.62L206.41 178.62Z" fill="#000000" stroke="#000000" stroke-width="0.6"/>
<path d="M211.25 172.48L213.81 177.07L208.68 177.07Z" fill="#000000" stroke="#000000" stroke-width="0.6"/>
<path d="M213.52 174.65L216.09 179.24L210.96 179.24Z" fill="#000000" stroke="#000000" stroke-width="0.6"/>
<path d="M215.79 175.48L218.36 180.07L213.23 180.07Z" fill="#000000" stroke="#000000" stroke-width="0.6"/>
<path d="M218.07 175.32L220.63 179.91L215.5 179.91Z" fill="#000000" stroke="#000000" stroke-width="0.6"/>
<path d="M220.34 176.06L222.91 180.65L217.78 180.65Z" fill="#000000" stroke="#000000" stroke-width="0.6"/>
<path d="M222.61 176.22L225.18 180.81L220.05 180.81Z" fill="#000000" stroke="#000000" stroke-width="0.6"/>
<path d="M224.89 173.51L227.45 178.1L222.32 178.1Z" fill="#000000" stroke="#000000" stroke-width="0.6"/>
<path d="M227.16 173.93L229.72 178.52L224.59 178.52Z" fill="#000000" stroke="#000000" stroke-width="0.6"/>
<path d="M229.43 173.95L232 178.54L226.87 178.54Z" fill="#000000" stroke="#000000" stroke-width="0.6"/>
<path d="M231.71 173.1L234.27 177.69L229.14 177.69Z" fill="#000000" stroke="#000000" stroke-width="0.6"/>
<path d="M233.98 172.44L236.54 177.03L231.41 177.03Z" fill="#000000" stroke="#000000" stroke-width="0.6"/>
<path d="M236.25 172.08L238.82 176.67L233.69 176.67Z" fill="#000000" stroke="#000000" stroke-width="0.6"/>
<path d="M238.52 171.29L241.09 175.88L235.96 175.88Z" fill="#000000" stroke="#000000" stroke-width="0.6"/>
<path d="M240.8 175.34L243.36 179.93L238.23 179.93Z" fill="#000000" stroke="#000000" stroke-width="0.6"/>
<path d="M243.07 177.35L245.64 181.94L240.51 181.94Z" fill="#000000" stroke="#000000" stroke-width="0.6"/>
<rect x="38.3" y="12.8" width="207.4" height="168.2" fill="none" stroke="#5a5a5a" stroke-width="1.3"/>
<path d="M38.5 181v-3.5M38.5 12.8v3.5" stroke="#5a5a5a" stroke-width="1"/>
<path d="M49.87 181v-2M49.87 12.8v2" stroke="#5a5a5a" stroke-width="1"/>
<path d="M61.23 181v-2M61.23 12.8v2" stroke="#5a5a5a" stroke-width="1"/>
<path d="M72.59 181v-3.5M72.59 12.8v3.5" stroke="#5a5a5a" stroke-width="1"/>
<path d="M83.96 181v-2M83.96 12.8v2" stroke="#5a5a5a" stroke-width="1"/>
<path d="M95.33 181v-2M95.33 12.8v2" stroke="#5a5a5a" stroke-width="1"/>
<path d="M106.69 181v-3.5M106.69 12.8v3.5" stroke="#5a5a5a" stroke-width="1"/>
<path d="M118.06 181v-2M118.06 12.8v2" stroke="#5a5a5a" stroke-width="1"/>
<path d="M129.42 181v-2M129.42 12.8v2" stroke="#5a5a5a" stroke-width="1"/>
<path d="M140.79 181v-3.5M140.79 12.8v3.5" stroke="#5a5a5a" stroke-width="1"/>
<path d="M152.15 181v-2M152.15 12.8v2" stroke="#5a5a5a" stroke-width="1"/>
<path d="M163.51 181v-2M163.51 12.8v2" stroke="#5a5a5a" stroke-width="1"/>
<path d="M174.88 181v-3.5M174.88 12.8v3.5" stroke="#5a5a5a" stroke-width="1"/>
<path d="M186.25 181v-2M186.25 12.8v2" stroke="#5a5a5a" stroke-width="1"/>
<path d="M197.61 181v-2M197.61 12.8v2" stroke="#5a5a5a" stroke-width="1"/>
<path d="M208.98 181v-3.5M208.98 12.8v3.5" stroke="#5a5a5a" stroke-width="1"/>
<path d="M220.34 181v-2M220.34 12.8v2" stroke="#5a5a5a" stroke-width="1"/>
<path d="M231.71 181v-2M231.71 12.8v2" stroke="#5a5a5a" stroke-width="1"/>
<path d="M243.07 181v-3.5M243.07 12.8v3.5" stroke="#5a5a5a" stroke-width="1"/>
<path d="M38.3 181.3h4.2M245.7 181.3h-4.2" stroke="#5a5a5a" stroke-width="1"/>
<path d="M38.3 164.28h2.3M245.7 164.28h-2.3" stroke="#5a5a5a" stroke-width="1"/>
<path d="M38.3 147.27h2.3M245.7 147.27h-2.3" stroke="#5a5a5a" stroke-width="1"/>
<path d="M38.3 130.25h4.2M245.7 130.25h-4.2" stroke="#5a5a5a" stroke-width="1"/>
<path d="M38.3 113.23h2.3M245.7 113.23h-2.3" stroke="#5a5a5a" stroke-width="1"/>
<path d="M38.3 96.22h2.3M245.7 96.22h-2.3" stroke="#5a5a5a" stroke-width="1"/>
<path d="M38.3 79.2h4.2M245.7 79.2h-4.2" stroke="#5a5a5a" stroke-width="1"/>
<path d="M38.3 62.18h2.3M245.7 62.18h-2.3" stroke="#5a5a5a" stroke-width="1"/>
<path d="M38.3 45.17h2.3M245.7 45.17h-2.3" stroke="#5a5a5a" stroke-width="1"/>
<path d="M38.3 28.15h4.2M245.7 28.15h-4.2" stroke="#5a5a5a" stroke-width="1"/>
<text x="38.5" y="193.3" text-anchor="middle" class="tk">0</text>
<text x="72.59" y="193.3" text-anchor="middle" class="tk">15</text>
<text x="106.69" y="193.3" text-anchor="middle" class="tk">30</text>
<text x="140.79" y="193.3" text-anchor="middle" class="tk">45</text>
<text x="174.88" y="193.3" text-anchor="middle" class="tk">60</text>
<text x="208.98" y="193.3" text-anchor="middle" class="tk">75</text>
<text x="243.07" y="193.3" text-anchor="middle" class="tk">90</text>
<text x="33.1" y="184.1" text-anchor="end" class="tk">0</text>
<text x="33.1" y="133.05" text-anchor="end" class="tk">50</text>
<text x="33.1" y="82" text-anchor="end" class="tk">100</text>
<text x="33.1" y="30.95" text-anchor="end" class="tk">150</text>
<text x="142.59" y="211.2" text-anchor="middle" class="ti">Time (min)</text>
<text transform="translate(11.7 96.9) rotate(-90)" text-anchor="middle" class="ti yt">[Thrombin] (nM)</text>
<text x="0.8" y="13.6" class="lt">A</text>
<path d="M165.6 56.9H183.4" stroke="#5c5c5c" stroke-width="1.6"/>
<path d="M174.5 54.5L176.9 56.9L174.5 59.3L172.1 56.9Z" fill="#1c1cd0" stroke="#101070" stroke-width="0.5"/>
<text x="190.4" y="59.8" class="lg">10 min</text>
<path d="M165.6 66.9H183.4" stroke="#5c5c5c" stroke-width="1.6"/>
<path d="M174.5 64.5L176.9 66.9L174.5 69.3L172.1 66.9Z" fill="#7a1010" stroke="#400808" stroke-width="0.5"/>
<text x="190.4" y="69.8" class="lg">30 min</text>
<path d="M165.6 76.9H183.4" stroke="#5c5c5c" stroke-width="1.6"/>
<path d="M174.5 74.5L176.9 76.9L174.5 79.3L172.1 76.9Z" fill="#1f7a1f" stroke="#104010" stroke-width="0.5"/>
<text x="190.4" y="79.8" class="lg">60 min</text>
<path d="M165.6 86.9H183.4" stroke="#5c5c5c" stroke-width="1.6"/>
<path d="M174.5 84.5L176.9 86.9L174.5 89.3L172.1 86.9Z" fill="#d85830" stroke="#b03818" stroke-width="0.5"/>
<text x="186" y="89.8" class="lg">120 min</text>
<path d="M165.6 96.9H183.4" stroke="#5c5c5c" stroke-width="1.6"/>
<path d="M174.5 94.38L176.78 98.46L172.22 98.46Z" fill="#000000" stroke="#000000" stroke-width="0.5"/>
<text x="186" y="99.8" class="lg">WT mice</text>
<path d="M306.2 179.57V180.6M304.9 179.57h2.6M304.9 180.6h2.6M308.5 171.15V173.21M307.2 171.15h2.6M307.2 173.21h2.6M310.8 134.68V143.03M309.5 134.68h2.6M309.5 143.03h2.6M313.1 90.44V106.84M311.8 90.44h2.6M311.8 106.84h2.6M315.4 65.63V86.54M314.1 65.63h2.6M314.1 86.54h2.6M317.7 54.82V77.69M316.4 54.82h2.6M316.4 77.69h2.6M320 48.89V72.84M318.7 48.89h2.6M318.7 72.84h2.6M322.3 43.73V68.45M321 43.73h2.6M321 68.45h2.6M324.6 49.36V73.22M323.3 49.36h2.6M323.3 73.22h2.6M326.9 54.62V77.52M325.6 54.62h2.6M325.6 77.52h2.6M329.2 66.18V86.99M327.9 66.18h2.6M327.9 86.99h2.6M331.5 70.82V90.78M330.2 70.82h2.6M330.2 90.78h2.6M333.8 83.43V101.1M332.5 83.43h2.6M332.5 101.1h2.6M336.1 87.13V104.12M334.8 87.13h2.6M334.8 104.12h2.6M338.4 90.14V106.59M337.1 90.14h2.6M337.1 106.59h2.6M340.7 97.62V112.7M339.4 97.62h2.6M339.4 112.7h2.6M343 99.88V114.55M341.7 99.88h2.6M341.7 114.55h2.6M345.3 102.63V116.8M344 102.63h2.6M344 116.8h2.6M347.6 106.15V119.68M346.3 106.15h2.6M346.3 119.68h2.6M349.9 113.02V125.3M348.6 113.02h2.6M348.6 125.3h2.6M352.2 116.07V127.8M350.9 116.07h2.6M350.9 127.8h2.6M354.5 117.07V128.62M353.2 117.07h2.6M353.2 128.62h2.6M356.8 117.32V128.82M355.5 117.32h2.6M355.5 128.82h2.6M359.1 121.2V132M357.8 121.2h2.6M357.8 132h2.6M361.4 121.45V132.21M360.1 121.45h2.6M360.1 132.21h2.6M363.7 123.02V133.49M362.4 123.02h2.6M362.4 133.49h2.6M366 121.49V132.23M364.7 121.49h2.6M364.7 132.23h2.6M368.3 127.52V137.17M367 127.52h2.6M367 137.17h2.6M370.6 129.62V138.89M369.3 129.62h2.6M369.3 138.89h2.6M372.9 132.52V141.26M371.6 132.52h2.6M371.6 141.26h2.6M375.2 137V144.93M373.9 137h2.6M373.9 144.93h2.6M377.5 137.27V145.15M376.2 137.27h2.6M376.2 145.15h2.6M379.8 138.82V146.42M378.5 138.82h2.6M378.5 146.42h2.6M382.1 140.67V147.93M380.8 140.67h2.6M380.8 147.93h2.6M384.4 139.61V147.06M383.1 139.61h2.6M383.1 147.06h2.6M386.7 141.02V148.21M385.4 141.02h2.6M385.4 148.21h2.6M389 141.47V148.59M387.7 141.47h2.6M387.7 148.59h2.6M391.3 142.08V149.08M390 142.08h2.6M390 149.08h2.6M393.6 144.33V150.93M392.3 144.33h2.6M392.3 150.93h2.6M395.9 146V152.29M394.6 146h2.6M394.6 152.29h2.6M398.2 150.92V156.32M396.9 150.92h2.6M396.9 156.32h2.6M400.5 151.27V156.6M399.2 151.27h2.6M399.2 156.6h2.6M402.8 152.83V157.88M401.5 152.83h2.6M401.5 157.88h2.6M405.1 135.9V144.02M403.8 135.9h2.6M403.8 144.02h2.6M407.4 154.24V159.04M406.1 154.24h2.6M406.1 159.04h2.6M409.7 155.73V160.25M408.4 155.73h2.6M408.4 160.25h2.6M412 155.22V159.83M410.7 155.22h2.6M410.7 159.83h2.6M414.3 157.93V162.05M413 157.93h2.6M413 162.05h2.6M416.6 157.04V161.32M415.3 157.04h2.6M415.3 161.32h2.6M418.9 159.1V163.01M417.6 159.1h2.6M417.6 163.01h2.6M421.2 160.95V164.52M419.9 160.95h2.6M419.9 164.52h2.6M423.5 162.99V166.19M422.2 162.99h2.6M422.2 166.19h2.6M425.8 161.92V165.31M424.5 161.92h2.6M424.5 165.31h2.6M428.1 163.2V166.37M426.8 163.2h2.6M426.8 166.37h2.6M430.4 166.22V168.83M429.1 166.22h2.6M429.1 168.83h2.6M432.7 167.17V169.61M431.4 167.17h2.6M431.4 169.61h2.6M435 170.89V172.95M433.7 170.89h2.6M433.7 172.95h2.6M437.3 166.92V169.41M436 166.92h2.6M436 169.41h2.6M439.6 163.95V166.98M438.3 163.95h2.6M438.3 166.98h2.6M441.9 169.85V171.91M440.6 169.85h2.6M440.6 171.91h2.6M444.2 167.29V169.71M442.9 167.29h2.6M442.9 169.71h2.6M446.5 162.86V166.09M445.2 162.86h2.6M445.2 166.09h2.6M448.8 170.2V172.26M447.5 170.2h2.6M447.5 172.26h2.6M451.1 172.27V174.33M449.8 172.27h2.6M449.8 174.33h2.6M453.4 174.97V177.03M452.1 174.97h2.6M452.1 177.03h2.6M455.7 173.9V175.96M454.4 173.9h2.6M454.4 175.96h2.6M458 168.89V171.02M456.7 168.89h2.6M456.7 171.02h2.6M460.3 167.49V169.87M459 167.49h2.6M459 169.87h2.6M462.6 173.25V175.31M461.3 173.25h2.6M461.3 175.31h2.6M464.9 174.68V176.74M463.6 174.68h2.6M463.6 176.74h2.6M467.2 173.05V175.11M465.9 173.05h2.6M465.9 175.11h2.6M469.5 174.23V176.29M468.2 174.23h2.6M468.2 176.29h2.6M471.8 174.12V176.18M470.5 174.12h2.6M470.5 176.18h2.6M474.1 173.09V175.15M472.8 173.09h2.6M472.8 175.15h2.6M476.4 176.38V178.44M475.1 176.38h2.6M475.1 178.44h2.6M478.7 171.98V174.04M477.4 171.98h2.6M477.4 174.04h2.6M481 169.05V171.15M479.7 169.05h2.6M479.7 171.15h2.6M483.3 171.54V173.6M482 171.54h2.6M482 173.6h2.6M485.6 175.26V177.32M484.3 175.26h2.6M484.3 177.32h2.6M487.9 175.69V177.75M486.6 175.69h2.6M486.6 177.75h2.6M490.2 175.09V177.15M488.9 175.09h2.6M488.9 177.15h2.6M492.5 176.52V178.58M491.2 176.52h2.6M491.2 178.58h2.6M494.8 176.84V178.9M493.5 176.84h2.6M493.5 178.9h2.6M497.1 174.02V176.08M495.8 174.02h2.6M495.8 176.08h2.6M499.4 176.21V178.27M498.1 176.21h2.6M498.1 178.27h2.6M501.7 176.37V178.43M500.4 176.37h2.6M500.4 178.43h2.6M504 176.66V178.72M502.7 176.66h2.6M502.7 178.72h2.6M506.3 175.99V178.05M505 175.99h2.6M505 178.05h2.6M508.6 177.24V179.3M507.3 177.24h2.6M507.3 179.3h2.6M510.9 177.38V179.44M509.6 177.38h2.6M509.6 179.44h2.6M513.2 176.16V178.22M511.9 176.16h2.6M511.9 178.22h2.6" stroke="#a8a8a8" stroke-width="0.8" fill="none"/>
<path d="M306.2 179.57V180.6M304.9 179.57h2.6M304.9 180.6h2.6M308.5 174.39V176.45M307.2 174.39h2.6M307.2 176.45h2.6M310.8 159.28V163.16M309.5 159.28h2.6M309.5 163.16h2.6M313.1 126.16V136.06M311.8 126.16h2.6M311.8 136.06h2.6M315.4 96.27V111.6M314.1 96.27h2.6M314.1 111.6h2.6M317.7 73.35V92.85M316.4 73.35h2.6M316.4 92.85h2.6M320 62.58V84.03M318.7 62.58h2.6M318.7 84.03h2.6M322.3 61.9V83.48M321 61.9h2.6M321 83.48h2.6M324.6 59.45V81.48M323.3 59.45h2.6M323.3 81.48h2.6M326.9 62.89V84.29M325.6 62.89h2.6M325.6 84.29h2.6M329.2 66.37V87.14M327.9 66.37h2.6M327.9 87.14h2.6M331.5 76.13V95.13M330.2 76.13h2.6M330.2 95.13h2.6M333.8 77.95V96.61M332.5 77.95h2.6M332.5 96.61h2.6M336.1 83.76V101.37M334.8 83.76h2.6M334.8 101.37h2.6M338.4 86.4V103.53M337.1 86.4h2.6M337.1 103.53h2.6M340.7 94.05V109.79M339.4 94.05h2.6M339.4 109.79h2.6M343 100.33V114.93M341.7 100.33h2.6M341.7 114.93h2.6M345.3 104.89V118.65M344 104.89h2.6M344 118.65h2.6M347.6 108.13V121.3M346.3 108.13h2.6M346.3 121.3h2.6M349.9 111.53V124.09M348.6 111.53h2.6M348.6 124.09h2.6M352.2 112.98V125.27M350.9 112.98h2.6M350.9 125.27h2.6M354.5 116.91V128.49M353.2 116.91h2.6M353.2 128.49h2.6M356.8 119.2V130.36M355.5 119.2h2.6M355.5 130.36h2.6M359.1 120.34V131.3M357.8 120.34h2.6M357.8 131.3h2.6M361.4 123.35V133.76M360.1 123.35h2.6M360.1 133.76h2.6M363.7 123.94V134.24M362.4 123.94h2.6M362.4 134.24h2.6M366 128.04V137.6M364.7 128.04h2.6M364.7 137.6h2.6M368.3 131.71V140.6M367 131.71h2.6M367 140.6h2.6M370.6 131.54V140.46M369.3 131.54h2.6M369.3 140.46h2.6M372.9 135.91V144.03M371.6 135.91h2.6M371.6 144.03h2.6M375.2 138.84V146.43M373.9 138.84h2.6M373.9 146.43h2.6M377.5 139.93V147.33M376.2 139.93h2.6M376.2 147.33h2.6M379.8 142.26V149.23M378.5 142.26h2.6M378.5 149.23h2.6M382.1 142.76V149.64M380.8 142.76h2.6M380.8 149.64h2.6M384.4 141.04V148.23M383.1 141.04h2.6M383.1 148.23h2.6M386.7 140.7V147.95M385.4 140.7h2.6M385.4 147.95h2.6M389 138.97V146.54M387.7 138.97h2.6M387.7 146.54h2.6M391.3 138.84V146.43M390 138.84h2.6M390 146.43h2.6M393.6 138.73V146.35M392.3 138.73h2.6M392.3 146.35h2.6M395.9 145.55V151.92M394.6 145.55h2.6M394.6 151.92h2.6M398.2 152.45V157.57M396.9 152.45h2.6M396.9 157.57h2.6M400.5 157.48V161.69M399.2 157.48h2.6M399.2 161.69h2.6M402.8 155.01V159.66M401.5 155.01h2.6M401.5 159.66h2.6M405.1 148V153.92M403.8 148h2.6M403.8 153.92h2.6M407.4 145.98V152.28M406.1 145.98h2.6M406.1 152.28h2.6M409.7 150.72V156.16M408.4 150.72h2.6M408.4 156.16h2.6M412 155.14V159.77M410.7 155.14h2.6M410.7 159.77h2.6M414.3 160.82V164.42M413 160.82h2.6M413 164.42h2.6M416.6 158.47V162.5M415.3 158.47h2.6M415.3 162.5h2.6M418.9 157.39V161.61M417.6 157.39h2.6M417.6 161.61h2.6M421.2 152.06V157.25M419.9 152.06h2.6M419.9 157.25h2.6M423.5 153.16V158.15M422.2 153.16h2.6M422.2 158.15h2.6M425.8 151.64V156.9M424.5 151.64h2.6M424.5 156.9h2.6M428.1 155.17V159.79M426.8 155.17h2.6M426.8 159.79h2.6M430.4 157.08V161.36M429.1 157.08h2.6M429.1 161.36h2.6M432.7 159.18V163.07M431.4 159.18h2.6M431.4 163.07h2.6M435 168.83V170.97M433.7 168.83h2.6M433.7 170.97h2.6M437.3 162.24V165.58M436 162.24h2.6M436 165.58h2.6M439.6 169.55V171.61M438.3 169.55h2.6M438.3 171.61h2.6M441.9 167.42V169.82M440.6 167.42h2.6M440.6 169.82h2.6M444.2 162.25V165.59M442.9 162.25h2.6M442.9 165.59h2.6M446.5 168.71V170.87M445.2 168.71h2.6M445.2 170.87h2.6M448.8 173.15V175.21M447.5 173.15h2.6M447.5 175.21h2.6M451.1 174.11V176.17M449.8 174.11h2.6M449.8 176.17h2.6M453.4 175.1V177.16M452.1 175.1h2.6M452.1 177.16h2.6M455.7 175.43V177.49M454.4 175.43h2.6M454.4 177.49h2.6M458 173.24V175.3M456.7 173.24h2.6M456.7 175.3h2.6M460.3 175.78V177.84M459 175.78h2.6M459 177.84h2.6M462.6 171.69V173.75M461.3 171.69h2.6M461.3 173.75h2.6M464.9 168.72V170.88M463.6 168.72h2.6M463.6 170.88h2.6M467.2 169.26V171.33M465.9 169.26h2.6M465.9 171.33h2.6M469.5 172.35V174.41M468.2 172.35h2.6M468.2 174.41h2.6M471.8 174.91V176.97M470.5 174.91h2.6M470.5 176.97h2.6M474.1 173.87V175.93M472.8 173.87h2.6M472.8 175.93h2.6M476.4 175.51V177.57M475.1 175.51h2.6M475.1 177.57h2.6M478.7 173.87V175.93M477.4 173.87h2.6M477.4 175.93h2.6M481 176.39V178.45M479.7 176.39h2.6M479.7 178.45h2.6M483.3 176.85V178.91M482 176.85h2.6M482 178.91h2.6M485.6 177.74V179.8M484.3 177.74h2.6M484.3 179.8h2.6M487.9 174.2V176.26M486.6 174.2h2.6M486.6 176.26h2.6M490.2 175.1V177.16M488.9 175.1h2.6M488.9 177.16h2.6M492.5 175.12V177.18M491.2 175.12h2.6M491.2 177.18h2.6M494.8 177.58V179.64M493.5 177.58h2.6M493.5 179.64h2.6M497.1 177.25V179.31M495.8 177.25h2.6M495.8 179.31h2.6M499.4 177.1V179.16M498.1 177.1h2.6M498.1 179.16h2.6M501.7 177.55V179.61M500.4 177.55h2.6M500.4 179.61h2.6M504 177.36V179.42M502.7 177.36h2.6M502.7 179.42h2.6M506.3 173.8V175.86M505 173.8h2.6M505 175.86h2.6M508.6 170.47V172.53M507.3 170.47h2.6M507.3 172.53h2.6M510.9 174.52V176.58M509.6 174.52h2.6M509.6 176.58h2.6M513.2 175.41V177.47M511.9 175.41h2.6M511.9 177.47h2.6" stroke="#a8a8a8" stroke-width="0.8" fill="none"/>
<path d="M306.2 179.06V180.6M304.9 179.06h2.6M304.9 180.6h2.6M308.5 179.06V180.6M307.2 179.06h2.6M307.2 180.6h2.6M310.8 174.55V178.93M309.5 174.55h2.6M309.5 178.93h2.6M313.1 163.11V172.77M311.8 163.11h2.6M311.8 172.77h2.6M315.4 146.97V164.08M314.1 146.97h2.6M314.1 164.08h2.6M317.7 129.01V154.41M316.4 129.01h2.6M316.4 154.41h2.6M320 112.07V145.28M318.7 112.07h2.6M318.7 145.28h2.6M322.3 100.95V139.29M321 100.95h2.6M321 139.29h2.6M324.6 93.08V135.06M323.3 93.08h2.6M323.3 135.06h2.6M326.9 91.95V134.45M325.6 91.95h2.6M325.6 134.45h2.6M329.2 90.26V133.52M327.9 90.26h2.6M327.9 133.52h2.6M331.5 89.84V133.1M330.2 89.84h2.6M330.2 133.1h2.6M333.8 92.91V134.97M332.5 92.91h2.6M332.5 134.97h2.6M336.1 95.02V136.1M334.8 95.02h2.6M334.8 136.1h2.6M338.4 98.01V137.72M337.1 98.01h2.6M337.1 137.72h2.6M340.7 105.25V141.61M339.4 105.25h2.6M339.4 141.61h2.6M343 107.7V142.93M341.7 107.7h2.6M341.7 142.93h2.6M345.3 111.96V145.22M344 111.96h2.6M344 145.22h2.6M347.6 117.89V148.42M346.3 117.89h2.6M346.3 148.42h2.6M349.9 120.83V150M348.6 120.83h2.6M348.6 150h2.6M352.2 121.23V150.22M350.9 121.23h2.6M350.9 150.22h2.6M354.5 127.31V153.49M353.2 127.31h2.6M353.2 153.49h2.6M356.8 128.24V153.99M355.5 128.24h2.6M355.5 153.99h2.6M359.1 132.47V156.27M357.8 132.47h2.6M357.8 156.27h2.6M361.4 133.32V156.73M360.1 133.32h2.6M360.1 156.73h2.6M363.7 135.58V157.94M362.4 135.58h2.6M362.4 157.94h2.6M366 136.58V158.48M364.7 136.58h2.6M364.7 158.48h2.6M368.3 141.27V161.01M367 141.27h2.6M367 161.01h2.6M370.6 141.13V160.93M369.3 141.13h2.6M369.3 160.93h2.6M372.9 142.2V161.51M371.6 142.2h2.6M371.6 161.51h2.6M375.2 141.75V161.26M373.9 141.75h2.6M373.9 161.26h2.6M377.5 148.07V164.67M376.2 148.07h2.6M376.2 164.67h2.6M379.8 148.78V165.05M378.5 148.78h2.6M378.5 165.05h2.6M382.1 151.59V166.57M380.8 151.59h2.6M380.8 166.57h2.6M384.4 154.24V167.99M383.1 154.24h2.6M383.1 167.99h2.6M386.7 154.93V168.36M385.4 154.93h2.6M385.4 168.36h2.6M389 156.68V169.3M387.7 156.68h2.6M387.7 169.3h2.6M391.3 158.47V170.27M390 158.47h2.6M390 170.27h2.6M393.6 160.1V171.15M392.3 160.1h2.6M392.3 171.15h2.6M395.9 157.85V169.94M394.6 157.85h2.6M394.6 169.94h2.6M398.2 159.44V170.79M396.9 159.44h2.6M396.9 170.79h2.6M400.5 161.89V172.11M399.2 161.89h2.6M399.2 172.11h2.6M402.8 161.08V171.68M401.5 161.08h2.6M401.5 171.68h2.6M405.1 158.14V170.09M403.8 158.14h2.6M403.8 170.09h2.6M407.4 159.06V170.59M406.1 159.06h2.6M406.1 170.59h2.6M409.7 164.07V173.28M408.4 164.07h2.6M408.4 173.28h2.6M412 165.52V174.07M410.7 165.52h2.6M410.7 174.07h2.6M414.3 170.32V176.65M413 170.32h2.6M413 176.65h2.6M416.6 169.94V176.44M415.3 169.94h2.6M415.3 176.44h2.6M418.9 167.05V174.89M417.6 167.05h2.6M417.6 174.89h2.6M421.2 167.39V175.07M419.9 167.39h2.6M419.9 175.07h2.6M423.5 166.14V174.4M422.2 166.14h2.6M422.2 174.4h2.6M425.8 167.4V175.08M424.5 167.4h2.6M424.5 175.08h2.6M428.1 168.6V175.72M426.8 168.6h2.6M426.8 175.72h2.6M430.4 169.08V175.98M429.1 169.08h2.6M429.1 175.98h2.6M432.7 169.19V176.04M431.4 169.19h2.6M431.4 176.04h2.6M435 169.92V176.43M433.7 169.92h2.6M433.7 176.43h2.6M437.3 170.7V176.86M436 170.7h2.6M436 176.86h2.6M439.6 171.76V177.42M438.3 171.76h2.6M438.3 177.42h2.6M441.9 172.92V178.05M440.6 172.92h2.6M440.6 178.05h2.6M444.2 172.02V177.57M442.9 172.02h2.6M442.9 177.57h2.6M446.5 170.21V176.59M445.2 170.21h2.6M445.2 176.59h2.6M448.8 168.74V175.8M447.5 168.74h2.6M447.5 175.8h2.6M451.1 169.56V176.24M449.8 169.56h2.6M449.8 176.24h2.6M453.4 172.17V177.65M452.1 172.17h2.6M452.1 177.65h2.6M455.7 171.17V177.11M454.4 171.17h2.6M454.4 177.11h2.6M458 170.98V177M456.7 170.98h2.6M456.7 177h2.6M460.3 169.54V176.23M459 169.54h2.6M459 176.23h2.6M462.6 173.64V178.43M461.3 173.64h2.6M461.3 178.43h2.6M464.9 172.67V177.91M463.6 172.67h2.6M463.6 177.91h2.6M467.2 173.32V178.26M465.9 173.32h2.6M465.9 178.26h2.6M469.5 173.53V178.38M468.2 173.53h2.6M468.2 178.38h2.6M471.8 173.6V178.41M470.5 173.6h2.6M470.5 178.41h2.6M474.1 174.89V179.11M472.8 174.89h2.6M472.8 179.11h2.6M476.4 173.27V178.24M475.1 173.27h2.6M475.1 178.24h2.6M478.7 175.57V179.47M477.4 175.57h2.6M477.4 179.47h2.6M481 173.23V178.22M479.7 173.23h2.6M479.7 178.22h2.6M483.3 174.72V179.02M482 174.72h2.6M482 179.02h2.6M485.6 174.09V178.68M484.3 174.09h2.6M484.3 178.68h2.6M487.9 177.12V180.31M486.6 177.12h2.6M486.6 180.31h2.6M490.2 177.25V180.38M488.9 177.25h2.6M488.9 180.38h2.6M492.5 173.53V178.38M491.2 173.53h2.6M491.2 178.38h2.6M494.8 174.13V178.7M493.5 174.13h2.6M493.5 178.7h2.6M497.1 173.8V178.52M495.8 173.8h2.6M495.8 178.52h2.6M499.4 176.82V180.15M498.1 176.82h2.6M498.1 180.15h2.6M501.7 176.02V179.72M500.4 176.02h2.6M500.4 179.72h2.6M504 173.74V178.49M502.7 173.74h2.6M502.7 178.49h2.6M506.3 173.72V178.48M505 173.72h2.6M505 178.48h2.6M508.6 175.77V179.58M507.3 175.77h2.6M507.3 179.58h2.6M510.9 176.59V180.03M509.6 176.59h2.6M509.6 180.03h2.6M513.2 176.5V179.98M511.9 176.5h2.6M511.9 179.98h2.6" stroke="#a8a8a8" stroke-width="0.8" fill="none"/>

<path d="M306.2 180.6L308.5 172.18L310.8 138.86L313.1 98.64L315.4 76.08L317.7 66.26L320 60.87L322.3 56.09L324.6 61.29L326.9 66.07L329.2 76.59L331.5 80.8L333.8 92.26L336.1 95.62L338.4 98.37L340.7 105.16L343 107.22L345.3 109.72L347.6 112.92L349.9 119.16L352.2 121.94L354.5 122.85L356.8 123.07L359.1 126.6L361.4 126.83L363.7 128.25L366 126.86L368.3 132.34L370.6 134.26L372.9 136.89L375.2 140.97L377.5 141.21L379.8 142.62L382.1 144.3L384.4 143.34L386.7 144.61L389 145.03L391.3 145.58L393.6 147.63L395.9 149.15L398.2 153.62L400.5 153.94L402.8 155.36L405.1 139.96L407.4 156.64L409.7 157.99L412 157.52L414.3 159.99L416.6 159.18L418.9 161.06L421.2 162.74L423.5 164.59L425.8 163.62L428.1 164.78L430.4 167.53L432.7 168.39L435 171.92L437.3 168.17L439.6 165.47L441.9 170.88L444.2 168.5L446.5 164.47L448.8 171.23L451.1 173.3L453.4 176L455.7 174.93L458 169.96L460.3 168.68L462.6 174.28L464.9 175.71L467.2 174.08L469.5 175.26L471.8 175.15L474.1 174.12L476.4 177.41L478.7 173.01L481 170.1L483.3 172.57L485.6 176.29L487.9 176.72L490.2 176.12L492.5 177.55L494.8 177.87L497.1 175.05L499.4 177.24L501.7 177.4L504 177.69L506.3 177.02L508.6 178.27L510.9 178.41L513.2 177.19" fill="none" stroke="#606060" stroke-width="1.0"/>
<path d="M306.2 180.6L308.5 175.42L310.8 161.22L313.1 131.11L315.4 103.94L317.7 83.1L320 73.31L322.3 72.69L324.6 70.46L326.9 73.59L329.2 76.76L331.5 85.63L333.8 87.28L336.1 92.56L338.4 94.96L340.7 101.92L343 107.63L345.3 111.77L347.6 114.71L349.9 117.81L352.2 119.13L354.5 122.7L356.8 124.78L359.1 125.82L361.4 128.55L363.7 129.09L366 132.82L368.3 136.16L370.6 136L372.9 139.97L375.2 142.64L377.5 143.63L379.8 145.74L382.1 146.2L384.4 144.63L386.7 144.33L389 142.75L391.3 142.63L393.6 142.54L395.9 148.74L398.2 155.01L400.5 159.59L402.8 157.33L405.1 150.96L407.4 149.13L409.7 153.44L412 157.46L414.3 162.62L416.6 160.49L418.9 159.5L421.2 154.65L423.5 155.66L425.8 154.27L428.1 157.48L430.4 159.22L432.7 161.13L435 169.9L437.3 163.91L439.6 170.58L441.9 168.62L444.2 163.92L446.5 169.79L448.8 174.18L451.1 175.14L453.4 176.13L455.7 176.46L458 174.27L460.3 176.81L462.6 172.72L464.9 169.8L467.2 170.29L469.5 173.38L471.8 175.94L474.1 174.9L476.4 176.54L478.7 174.9L481 177.42L483.3 177.88L485.6 178.77L487.9 175.23L490.2 176.13L492.5 176.15L494.8 178.61L497.1 178.28L499.4 178.13L501.7 178.58L504 178.39L506.3 174.83L508.6 171.5L510.9 175.55L513.2 176.44" fill="none" stroke="#606060" stroke-width="1.0"/>
<path d="M306.2 180.6L308.5 180.6L310.8 176.74L313.1 167.94L315.4 155.52L317.7 141.71L320 128.68L322.3 120.12L324.6 114.07L326.9 113.2L329.2 111.89L331.5 111.47L333.8 113.94L336.1 115.56L338.4 117.86L340.7 123.43L343 125.31L345.3 128.59L347.6 133.15L349.9 135.41L352.2 135.73L354.5 140.4L356.8 141.12L359.1 144.37L361.4 145.03L363.7 146.76L366 147.53L368.3 151.14L370.6 151.03L372.9 151.85L375.2 151.51L377.5 156.37L379.8 156.92L382.1 159.08L384.4 161.11L386.7 161.65L389 162.99L391.3 164.37L393.6 165.62L395.9 163.89L398.2 165.11L400.5 167L402.8 166.38L405.1 164.11L407.4 164.82L409.7 168.68L412 169.8L414.3 173.49L416.6 173.19L418.9 170.97L421.2 171.23L423.5 170.27L425.8 171.24L428.1 172.16L430.4 172.53L432.7 172.62L435 173.18L437.3 173.78L439.6 174.59L441.9 175.48L444.2 174.79L446.5 173.4L448.8 172.27L451.1 172.9L453.4 174.91L455.7 174.14L458 173.99L460.3 172.88L462.6 176.04L464.9 175.29L467.2 175.79L469.5 175.96L471.8 176.01L474.1 177L476.4 175.75L478.7 177.52L481 175.72L483.3 176.87L485.6 176.39L487.9 178.72L490.2 178.81L492.5 175.95L494.8 176.42L497.1 176.16L499.4 178.48L501.7 177.87L504 176.12L506.3 176.1L508.6 177.67L510.9 178.31L513.2 178.24" fill="none" stroke="#606060" stroke-width="1.0"/>
<path d="M306.2 180.6L308.5 180.6L310.8 180.6L313.1 180.6L315.4 180.6L317.7 180.6L320 180.6L322.3 180.6L324.6 180.6L326.9 180.6L329.2 180.6L331.5 180.6L333.8 180.6L336.1 180.6L338.4 180.6L340.7 180.6L343 180.6L345.3 180.6L347.6 180.6L349.9 180.6L352.2 180.6L354.5 180.6L356.8 180.6L359.1 180.6L361.4 180.6L363.7 180.6L366 180.6L368.3 180.6L370.6 180.6L372.9 180.6L375.2 180.6L377.5 180.6L379.8 180.6L382.1 180.6L384.4 180.6L386.7 180.6L389 180.6L391.3 180.6L393.6 180.6L395.9 180.6L398.2 180.6L400.5 180.6L402.8 180.6L405.1 180.6L407.4 180.6L409.7 180.6L412 180.6L414.3 180.6L416.6 180.6L418.9 180.6L421.2 180.6L423.5 180.6L425.8 180.6L428.1 180.6L430.4 180.6L432.7 180.6L435 180.6L437.3 180.6L439.6 180.6L441.9 180.6L444.2 180.6L446.5 180.6L448.8 180.6L451.1 180.6L453.4 180.6L455.7 180.6L458 180.6L460.3 180.6L462.6 180.6L464.9 180.6L467.2 180.6L469.5 180.6L471.8 180.6L474.1 180.6L476.4 180.6L478.7 180.6L481 180.6L483.3 180.6L485.6 180.6L487.9 180.6L490.2 180.6L492.5 180.6L494.8 180.6L497.1 180.6L499.4 180.6L501.7 180.6L504 180.6L506.3 180.6L508.6 180.6L510.9 180.6L513.2 180.6" fill="none" stroke="#c04a28" stroke-width="1.6"/>
<path d="M306.2 178.05L308.75 180.6L306.2 183.15L303.65 180.6Z" fill="#1c1cd0" stroke="#101070" stroke-width="0.6"/>
<path d="M308.5 169.63L311.05 172.18L308.5 174.73L305.95 172.18Z" fill="#1c1cd0" stroke="#101070" stroke-width="0.6"/>
<path d="M310.8 136.31L313.35 138.86L310.8 141.41L308.25 138.86Z" fill="#1c1cd0" stroke="#101070" stroke-width="0.6"/>
<path d="M313.1 96.09L315.65 98.64L313.1 101.19L310.55 98.64Z" fill="#1c1cd0" stroke="#101070" stroke-width="0.6"/>
<path d="M315.4 73.53L317.95 76.08L315.4 78.63L312.85 76.08Z" fill="#1c1cd0" stroke="#101070" stroke-width="0.6"/>
<path d="M317.7 63.71L320.25 66.26L317.7 68.81L315.15 66.26Z" fill="#1c1cd0" stroke="#101070" stroke-width="0.6"/>
<path d="M320 58.32L322.55 60.87L320 63.42L317.45 60.87Z" fill="#1c1cd0" stroke="#101070" stroke-width="0.6"/>
<path d="M322.3 53.54L324.85 56.09L322.3 58.64L319.75 56.09Z" fill="#1c1cd0" stroke="#101070" stroke-width="0.6"/>
<path d="M324.6 58.74L327.15 61.29L324.6 63.84L322.05 61.29Z" fill="#1c1cd0" stroke="#101070" stroke-width="0.6"/>
<path d="M326.9 63.52L329.45 66.07L326.9 68.62L324.35 66.07Z" fill="#1c1cd0" stroke="#101070" stroke-width="0.6"/>
<path d="M329.2 74.04L331.75 76.59L329.2 79.14L326.65 76.59Z" fill="#1c1cd0" stroke="#101070" stroke-width="0.6"/>
<path d="M331.5 78.25L334.05 80.8L331.5 83.35L328.95 80.8Z" fill="#1c1cd0" stroke="#101070" stroke-width="0.6"/>
<path d="M333.8 89.71L336.35 92.26L333.8 94.81L331.25 92.26Z" fill="#1c1cd0" stroke="#101070" stroke-width="0.6"/>
<path d="M336.1 93.07L338.65 95.62L336.1 98.17L333.55 95.62Z" fill="#1c1cd0" stroke="#101070" stroke-width="0.6"/>
<path d="M338.4 95.82L340.95 98.37L338.4 100.92L335.85 98.37Z" fill="#1c1cd0" stroke="#101070" stroke-width="0.6"/>
<path d="M340.7 102.61L343.25 105.16L340.7 107.71L338.15 105.16Z" fill="#1c1cd0" stroke="#101070" stroke-width="0.6"/>
<path d="M343 104.67L345.55 107.22L343 109.77L340.45 107.22Z" fill="#1c1cd0" stroke="#101070" stroke-width="0.6"/>
<path d="M345.3 107.17L347.85 109.72L345.3 112.27L342.75 109.72Z" fill="#1c1cd0" stroke="#101070" stroke-width="0.6"/>
<path d="M347.6 110.37L350.15 112.92L347.6 115.47L345.05 112.92Z" fill="#1c1cd0" stroke="#101070" stroke-width="0.6"/>
<path d="M349.9 116.61L352.45 119.16L349.9 121.71L347.35 119.16Z" fill="#1c1cd0" stroke="#101070" stroke-width="0.6"/>
<path d="M352.2 119.39L354.75 121.94L352.2 124.49L349.65 121.94Z" fill="#1c1cd0" stroke="#101070" stroke-width="0.6"/>
<path d="M354.5 120.3L357.05 122.85L354.5 125.4L351.95 122.85Z" fill="#1c1cd0" stroke="#101070" stroke-width="0.6"/>
<path d="M356.8 120.52L359.35 123.07L356.8 125.62L354.25 123.07Z" fill="#1c1cd0" stroke="#101070" stroke-width="0.6"/>
<path d="M359.1 124.05L361.65 126.6L359.1 129.15L356.55 126.6Z" fill="#1c1cd0" stroke="#101070" stroke-width="0.6"/>
<path d="M361.4 124.28L363.95 126.83L361.4 129.38L358.85 126.83Z" fill="#1c1cd0" stroke="#101070" stroke-width="0.6"/>
<path d="M363.7 125.7L366.25 128.25L363.7 130.8L361.15 128.25Z" fill="#1c1cd0" stroke="#101070" stroke-width="0.6"/>
<path d="M366 124.31L368.55 126.86L366 129.41L363.45 126.86Z" fill="#1c1cd0" stroke="#101070" stroke-width="0.6"/>
<path d="M368.3 129.79L370.85 132.34L368.3 134.89L365.75 132.34Z" fill="#1c1cd0" stroke="#101070" stroke-width="0.6"/>
<path d="M370.6 131.71L373.15 134.26L370.6 136.81L368.05 134.26Z" fill="#1c1cd0" stroke="#101070" stroke-width="0.6"/>
<path d="M372.9 134.34L375.45 136.89L372.9 139.44L370.35 136.89Z" fill="#1c1cd0" stroke="#101070" stroke-width="0.6"/>
<path d="M375.2 138.42L377.75 140.97L375.2 143.52L372.65 140.97Z" fill="#1c1cd0" stroke="#101070" stroke-width="0.6"/>
<path d="M377.5 138.66L380.05 141.21L377.5 143.76L374.95 141.21Z" fill="#1c1cd0" stroke="#101070" stroke-width="0.6"/>
<path d="M379.8 140.07L382.35 142.62L379.8 145.17L377.25 142.62Z" fill="#1c1cd0" stroke="#101070" stroke-width="0.6"/>
<path d="M382.1 141.75L384.65 144.3L382.1 146.85L379.55 144.3Z" fill="#1c1cd0" stroke="#101070" stroke-width="0.6"/>
<path d="M384.4 140.79L386.95 143.34L384.4 145.89L381.85 143.34Z" fill="#1c1cd0" stroke="#101070" stroke-width="0.6"/>
<path d="M386.7 142.06L389.25 144.61L386.7 147.16L384.15 144.61Z" fill="#1c1cd0" stroke="#101070" stroke-width="0.6"/>
<path d="M389 142.48L391.55 145.03L389 147.58L386.45 145.03Z" fill="#1c1cd0" stroke="#101070" stroke-width="0.6"/>
<path d="M391.3 143.03L393.85 145.58L391.3 148.13L388.75 145.58Z" fill="#1c1cd0" stroke="#101070" stroke-width="0.6"/>
<path d="M393.6 145.08L396.15 147.63L393.6 150.18L391.05 147.63Z" fill="#1c1cd0" stroke="#101070" stroke-width="0.6"/>
<path d="M395.9 146.6L398.45 149.15L395.9 151.7L393.35 149.15Z" fill="#1c1cd0" stroke="#101070" stroke-width="0.6"/>
<path d="M398.2 151.07L400.75 153.62L398.2 156.17L395.65 153.62Z" fill="#1c1cd0" stroke="#101070" stroke-width="0.6"/>
<path d="M400.5 151.39L403.05 153.94L400.5 156.49L397.95 153.94Z" fill="#1c1cd0" stroke="#101070" stroke-width="0.6"/>
<path d="M402.8 152.81L405.35 155.36L402.8 157.91L400.25 155.36Z" fill="#1c1cd0" stroke="#101070" stroke-width="0.6"/>
<path d="M405.1 137.41L407.65 139.96L405.1 142.51L402.55 139.96Z" fill="#1c1cd0" stroke="#101070" stroke-width="0.6"/>
<path d="M407.4 154.09L409.95 156.64L407.4 159.19L404.85 156.64Z" fill="#1c1cd0" stroke="#101070" stroke-width="0.6"/>
<path d="M409.7 155.44L412.25 157.99L409.7 160.54L407.15 157.99Z" fill="#1c1cd0" stroke="#101070" stroke-width="0.6"/>
<path d="M412 154.97L414.55 157.52L412 160.07L409.45 157.52Z" fill="#1c1cd0" stroke="#101070" stroke-width="0.6"/>
<path d="M414.3 157.44L416.85 159.99L414.3 162.54L411.75 159.99Z" fill="#1c1cd0" stroke="#101070" stroke-width="0.6"/>
<path d="M416.6 156.63L419.15 159.18L416.6 161.73L414.05 159.18Z" fill="#1c1cd0" stroke="#101070" stroke-width="0.6"/>
<path d="M418.9 158.51L421.45 161.06L418.9 163.61L416.35 161.06Z" fill="#1c1cd0" stroke="#101070" stroke-width="0.6"/>
<path d="M421.2 160.19L423.75 162.74L421.2 165.29L418.65 162.74Z" fill="#1c1cd0" stroke="#101070" stroke-width="0.6"/>
<path d="M423.5 162.04L426.05 164.59L423.5 167.14L420.95 164.59Z" fill="#1c1cd0" stroke="#101070" stroke-width="0.6"/>
<path d="M425.8 161.07L428.35 163.62L425.8 166.17L423.25 163.62Z" fill="#1c1cd0" stroke="#101070" stroke-width="0.6"/>
<path d="M428.1 162.23L430.65 164.78L428.1 167.33L425.55 164.78Z" fill="#1c1cd0" stroke="#101070" stroke-width="0.6"/>
<path d="M430.4 164.98L432.95 167.53L430.4 170.08L427.85 167.53Z" fill="#1c1cd0" stroke="#101070" stroke-width="0.6"/>
<path d="M432.7 165.84L435.25 168.39L432.7 170.94L430.15 168.39Z" fill="#1c1cd0" stroke="#101070" stroke-width="0.6"/>
<path d="M435 169.37L437.55 171.92L435 174.47L432.45 171.92Z" fill="#1c1cd0" stroke="#101070" stroke-width="0.6"/>
<path d="M437.3 165.62L439.85 168.17L437.3 170.72L434.75 168.17Z" fill="#1c1cd0" stroke="#101070" stroke-width="0.6"/>
<path d="M439.6 162.92L442.15 165.47L439.6 168.02L437.05 165.47Z" fill="#1c1cd0" stroke="#101070" stroke-width="0.6"/>
<path d="M441.9 168.33L444.45 170.88L441.9 173.43L439.35 170.88Z" fill="#1c1cd0" stroke="#101070" stroke-width="0.6"/>
<path d="M444.2 165.95L446.75 168.5L444.2 171.05L441.65 168.5Z" fill="#1c1cd0" stroke="#101070" stroke-width="0.6"/>
<path d="M446.5 161.92L449.05 164.47L446.5 167.02L443.95 164.47Z" fill="#1c1cd0" stroke="#101070" stroke-width="0.6"/>
<path d="M448.8 168.68L451.35 171.23L448.8 173.78L446.25 171.23Z" fill="#1c1cd0" stroke="#101070" stroke-width="0.6"/>
<path d="M451.1 170.75L453.65 173.3L451.1 175.85L448.55 173.3Z" fill="#1c1cd0" stroke="#101070" stroke-width="0.6"/>
<path d="M453.4 173.45L455.95 176L453.4 178.55L450.85 176Z" fill="#1c1cd0" stroke="#101070" stroke-width="0.6"/>
<path d="M455.7 172.38L458.25 174.93L455.7 177.48L453.15 174.93Z" fill="#1c1cd0" stroke="#101070" stroke-width="0.6"/>
<path d="M458 167.41L460.55 169.96L458 172.51L455.45 169.96Z" fill="#1c1cd0" stroke="#101070" stroke-width="0.6"/>
<path d="M460.3 166.13L462.85 168.68L460.3 171.23L457.75 168.68Z" fill="#1c1cd0" stroke="#101070" stroke-width="0.6"/>
<path d="M462.6 171.73L465.15 174.28L462.6 176.83L460.05 174.28Z" fill="#1c1cd0" stroke="#101070" stroke-width="0.6"/>
<path d="M464.9 173.16L467.45 175.71L464.9 178.26L462.35 175.71Z" fill="#1c1cd0" stroke="#101070" stroke-width="0.6"/>
<path d="M467.2 171.53L469.75 174.08L467.2 176.63L464.65 174.08Z" fill="#1c1cd0" stroke="#101070" stroke-width="0.6"/>
<path d="M469.5 172.71L472.05 175.26L469.5 177.81L466.95 175.26Z" fill="#1c1cd0" stroke="#101070" stroke-width="0.6"/>
<path d="M471.8 172.6L474.35 175.15L471.8 177.7L469.25 175.15Z" fill="#1c1cd0" stroke="#101070" stroke-width="0.6"/>
<path d="M474.1 171.57L476.65 174.12L474.1 176.67L471.55 174.12Z" fill="#1c1cd0" stroke="#101070" stroke-width="0.6"/>
<path d="M476.4 174.86L478.95 177.41L476.4 179.96L473.85 177.41Z" fill="#1c1cd0" stroke="#101070" stroke-width="0.6"/>
<path d="M478.7 170.46L481.25 173.01L478.7 175.56L476.15 173.01Z" fill="#1c1cd0" stroke="#101070" stroke-width="0.6"/>
<path d="M481 167.55L483.55 170.1L481 172.65L478.45 170.1Z" fill="#1c1cd0" stroke="#101070" stroke-width="0.6"/>
<path d="M483.3 170.02L485.85 172.57L483.3 175.12L480.75 172.57Z" fill="#1c1cd0" stroke="#101070" stroke-width="0.6"/>
<path d="M485.6 173.74L488.15 176.29L485.6 178.84L483.05 176.29Z" fill="#1c1cd0" stroke="#101070" stroke-width="0.6"/>
<path d="M487.9 174.17L490.45 176.72L487.9 179.27L485.35 176.72Z" fill="#1c1cd0" stroke="#101070" stroke-width="0.6"/>
<path d="M490.2 173.57L492.75 176.12L490.2 178.67L487.65 176.12Z" fill="#1c1cd0" stroke="#101070" stroke-width="0.6"/>
<path d="M492.5 175L495.05 177.55L492.5 180.1L489.95 177.55Z" fill="#1c1cd0" stroke="#101070" stroke-width="0.6"/>
<path d="M494.8 175.32L497.35 177.87L494.8 180.42L492.25 177.87Z" fill="#1c1cd0" stroke="#101070" stroke-width="0.6"/>
<path d="M497.1 172.5L499.65 175.05L497.1 177.6L494.55 175.05Z" fill="#1c1cd0" stroke="#101070" stroke-width="0.6"/>
<path d="M499.4 174.69L501.95 177.24L499.4 179.79L496.85 177.24Z" fill="#1c1cd0" stroke="#101070" stroke-width="0.6"/>
<path d="M501.7 174.85L504.25 177.4L501.7 179.95L499.15 177.4Z" fill="#1c1cd0" stroke="#101070" stroke-width="0.6"/>
<path d="M504 175.14L506.55 177.69L504 180.24L501.45 177.69Z" fill="#1c1cd0" stroke="#101070" stroke-width="0.6"/>
<path d="M506.3 174.47L508.85 177.02L506.3 179.57L503.75 177.02Z" fill="#1c1cd0" stroke="#101070" stroke-width="0.6"/>
<path d="M508.6 175.72L511.15 178.27L508.6 180.82L506.05 178.27Z" fill="#1c1cd0" stroke="#101070" stroke-width="0.6"/>
<path d="M510.9 175.86L513.45 178.41L510.9 180.96L508.35 178.41Z" fill="#1c1cd0" stroke="#101070" stroke-width="0.6"/>
<path d="M513.2 174.64L515.75 177.19L513.2 179.74L510.65 177.19Z" fill="#1c1cd0" stroke="#101070" stroke-width="0.6"/>
<path d="M306.2 178.05L308.75 180.6L306.2 183.15L303.65 180.6Z" fill="#7a1010" stroke="#400808" stroke-width="0.6"/>
<path d="M308.5 172.87L311.05 175.42L308.5 177.97L305.95 175.42Z" fill="#7a1010" stroke="#400808" stroke-width="0.6"/>
<path d="M310.8 158.67L313.35 161.22L310.8 163.77L308.25 161.22Z" fill="#7a1010" stroke="#400808" stroke-width="0.6"/>
<path d="M313.1 128.56L315.65 131.11L313.1 133.66L310.55 131.11Z" fill="#7a1010" stroke="#400808" stroke-width="0.6"/>
<path d="M315.4 101.39L317.95 103.94L315.4 106.49L312.85 103.94Z" fill="#7a1010" stroke="#400808" stroke-width="0.6"/>
<path d="M317.7 80.55L320.25 83.1L317.7 85.65L315.15 83.1Z" fill="#7a1010" stroke="#400808" stroke-width="0.6"/>
<path d="M320 70.76L322.55 73.31L320 75.86L317.45 73.31Z" fill="#7a1010" stroke="#400808" stroke-width="0.6"/>
<path d="M322.3 70.14L324.85 72.69L322.3 75.24L319.75 72.69Z" fill="#7a1010" stroke="#400808" stroke-width="0.6"/>
<path d="M324.6 67.91L327.15 70.46L324.6 73.01L322.05 70.46Z" fill="#7a1010" stroke="#400808" stroke-width="0.6"/>
<path d="M326.9 71.04L329.45 73.59L326.9 76.14L324.35 73.59Z" fill="#7a1010" stroke="#400808" stroke-width="0.6"/>
<path d="M329.2 74.21L331.75 76.76L329.2 79.31L326.65 76.76Z" fill="#7a1010" stroke="#400808" stroke-width="0.6"/>
<path d="M331.5 83.08L334.05 85.63L331.5 88.18L328.95 85.63Z" fill="#7a1010" stroke="#400808" stroke-width="0.6"/>
<path d="M333.8 84.73L336.35 87.28L333.8 89.83L331.25 87.28Z" fill="#7a1010" stroke="#400808" stroke-width="0.6"/>
<path d="M336.1 90.01L338.65 92.56L336.1 95.11L333.55 92.56Z" fill="#7a1010" stroke="#400808" stroke-width="0.6"/>
<path d="M338.4 92.41L340.95 94.96L338.4 97.51L335.85 94.96Z" fill="#7a1010" stroke="#400808" stroke-width="0.6"/>
<path d="M340.7 99.37L343.25 101.92L340.7 104.47L338.15 101.92Z" fill="#7a1010" stroke="#400808" stroke-width="0.6"/>
<path d="M343 105.08L345.55 107.63L343 110.18L340.45 107.63Z" fill="#7a1010" stroke="#400808" stroke-width="0.6"/>
<path d="M345.3 109.22L347.85 111.77L345.3 114.32L342.75 111.77Z" fill="#7a1010" stroke="#400808" stroke-width="0.6"/>
<path d="M347.6 112.16L350.15 114.71L347.6 117.26L345.05 114.71Z" fill="#7a1010" stroke="#400808" stroke-width="0.6"/>
<path d="M349.9 115.26L352.45 117.81L349.9 120.36L347.35 117.81Z" fill="#7a1010" stroke="#400808" stroke-width="0.6"/>
<path d="M352.2 116.58L354.75 119.13L352.2 121.68L349.65 119.13Z" fill="#7a1010" stroke="#400808" stroke-width="0.6"/>
<path d="M354.5 120.15L357.05 122.7L354.5 125.25L351.95 122.7Z" fill="#7a1010" stroke="#400808" stroke-width="0.6"/>
<path d="M356.8 122.23L359.35 124.78L356.8 127.33L354.25 124.78Z" fill="#7a1010" stroke="#400808" stroke-width="0.6"/>
<path d="M359.1 123.27L361.65 125.82L359.1 128.37L356.55 125.82Z" fill="#7a1010" stroke="#400808" stroke-width="0.6"/>
<path d="M361.4 126L363.95 128.55L361.4 131.1L358.85 128.55Z" fill="#7a1010" stroke="#400808" stroke-width="0.6"/>
<path d="M363.7 126.54L366.25 129.09L363.7 131.64L361.15 129.09Z" fill="#7a1010" stroke="#400808" stroke-width="0.6"/>
<path d="M366 130.27L368.55 132.82L366 135.37L363.45 132.82Z" fill="#7a1010" stroke="#400808" stroke-width="0.6"/>
<path d="M368.3 133.61L370.85 136.16L368.3 138.71L365.75 136.16Z" fill="#7a1010" stroke="#400808" stroke-width="0.6"/>
<path d="M370.6 133.45L373.15 136L370.6 138.55L368.05 136Z" fill="#7a1010" stroke="#400808" stroke-width="0.6"/>
<path d="M372.9 137.42L375.45 139.97L372.9 142.52L370.35 139.97Z" fill="#7a1010" stroke="#400808" stroke-width="0.6"/>
<path d="M375.2 140.09L377.75 142.64L375.2 145.19L372.65 142.64Z" fill="#7a1010" stroke="#400808" stroke-width="0.6"/>
<path d="M377.5 141.08L380.05 143.63L377.5 146.18L374.95 143.63Z" fill="#7a1010" stroke="#400808" stroke-width="0.6"/>
<path d="M379.8 143.19L382.35 145.74L379.8 148.29L377.25 145.74Z" fill="#7a1010" stroke="#400808" stroke-width="0.6"/>
<path d="M382.1 143.65L384.65 146.2L382.1 148.75L379.55 146.2Z" fill="#7a1010" stroke="#400808" stroke-width="0.6"/>
<path d="M384.4 142.08L386.95 144.63L384.4 147.18L381.85 144.63Z" fill="#7a1010" stroke="#400808" stroke-width="0.6"/>
<path d="M386.7 141.78L389.25 144.33L386.7 146.88L384.15 144.33Z" fill="#7a1010" stroke="#400808" stroke-width="0.6"/>
<path d="M389 140.2L391.55 142.75L389 145.3L386.45 142.75Z" fill="#7a1010" stroke="#400808" stroke-width="0.6"/>
<path d="M391.3 140.08L393.85 142.63L391.3 145.18L388.75 142.63Z" fill="#7a1010" stroke="#400808" stroke-width="0.6"/>
<path d="M393.6 139.99L396.15 142.54L393.6 145.09L391.05 142.54Z" fill="#7a1010" stroke="#400808" stroke-width="0.6"/>
<path d="M395.9 146.19L398.45 148.74L395.9 151.29L393.35 148.74Z" fill="#7a1010" stroke="#400808" stroke-width="0.6"/>
<path d="M398.2 152.46L400.75 155.01L398.2 157.56L395.65 155.01Z" fill="#7a1010" stroke="#400808" stroke-width="0.6"/>
<path d="M400.5 157.04L403.05 159.59L400.5 162.14L397.95 159.59Z" fill="#7a1010" stroke="#400808" stroke-width="0.6"/>
<path d="M402.8 154.78L405.35 157.33L402.8 159.88L400.25 157.33Z" fill="#7a1010" stroke="#400808" stroke-width="0.6"/>
<path d="M405.1 148.41L407.65 150.96L405.1 153.51L402.55 150.96Z" fill="#7a1010" stroke="#400808" stroke-width="0.6"/>
<path d="M407.4 146.58L409.95 149.13L407.4 151.68L404.85 149.13Z" fill="#7a1010" stroke="#400808" stroke-width="0.6"/>
<path d="M409.7 150.89L412.25 153.44L409.7 155.99L407.15 153.44Z" fill="#7a1010" stroke="#400808" stroke-width="0.6"/>
<path d="M412 154.91L414.55 157.46L412 160.01L409.45 157.46Z" fill="#7a1010" stroke="#400808" stroke-width="0.6"/>
<path d="M414.3 160.07L416.85 162.62L414.3 165.17L411.75 162.62Z" fill="#7a1010" stroke="#400808" stroke-width="0.6"/>
<path d="M416.6 157.94L419.15 160.49L416.6 163.04L414.05 160.49Z" fill="#7a1010" stroke="#400808" stroke-width="0.6"/>
<path d="M418.9 156.95L421.45 159.5L418.9 162.05L416.35 159.5Z" fill="#7a1010" stroke="#400808" stroke-width="0.6"/>
<path d="M421.2 152.1L423.75 154.65L421.2 157.2L418.65 154.65Z" fill="#7a1010" stroke="#400808" stroke-width="0.6"/>
<path d="M423.5 153.11L426.05 155.66L423.5 158.21L420.95 155.66Z" fill="#7a1010" stroke="#400808" stroke-width="0.6"/>
<path d="M425.8 151.72L428.35 154.27L425.8 156.82L423.25 154.27Z" fill="#7a1010" stroke="#400808" stroke-width="0.6"/>
<path d="M428.1 154.93L430.65 157.48L428.1 160.03L425.55 157.48Z" fill="#7a1010" stroke="#400808" stroke-width="0.6"/>
<path d="M430.4 156.67L432.95 159.22L430.4 161.77L427.85 159.22Z" fill="#7a1010" stroke="#400808" stroke-width="0.6"/>
<path d="M432.7 158.58L435.25 161.13L432.7 163.68L430.15 161.13Z" fill="#7a1010" stroke="#400808" stroke-width="0.6"/>
<path d="M435 167.35L437.55 169.9L435 172.45L432.45 169.9Z" fill="#7a1010" stroke="#400808" stroke-width="0.6"/>
<path d="M437.3 161.36L439.85 163.91L437.3 166.46L434.75 163.91Z" fill="#7a1010" stroke="#400808" stroke-width="0.6"/>
<path d="M439.6 168.03L442.15 170.58L439.6 173.13L437.05 170.58Z" fill="#7a1010" stroke="#400808" stroke-width="0.6"/>
<path d="M441.9 166.07L444.45 168.62L441.9 171.17L439.35 168.62Z" fill="#7a1010" stroke="#400808" stroke-width="0.6"/>
<path d="M444.2 161.37L446.75 163.92L444.2 166.47L441.65 163.92Z" fill="#7a1010" stroke="#400808" stroke-width="0.6"/>
<path d="M446.5 167.24L449.05 169.79L446.5 172.34L443.95 169.79Z" fill="#7a1010" stroke="#400808" stroke-width="0.6"/>
<path d="M448.8 171.63L451.35 174.18L448.8 176.73L446.25 174.18Z" fill="#7a1010" stroke="#400808" stroke-width="0.6"/>
<path d="M451.1 172.59L453.65 175.14L451.1 177.69L448.55 175.14Z" fill="#7a1010" stroke="#400808" stroke-width="0.6"/>
<path d="M453.4 173.58L455.95 176.13L453.4 178.68L450.85 176.13Z" fill="#7a1010" stroke="#400808" stroke-width="0.6"/>
<path d="M455.7 173.91L458.25 176.46L455.7 179.01L453.15 176.46Z" fill="#7a1010" stroke="#400808" stroke-width="0.6"/>
<path d="M458 171.72L460.55 174.27L458 176.82L455.45 174.27Z" fill="#7a1010" stroke="#400808" stroke-width="0.6"/>
<path d="M460.3 174.26L462.85 176.81L460.3 179.36L457.75 176.81Z" fill="#7a1010" stroke="#400808" stroke-width="0.6"/>
<path d="M462.6 170.17L465.15 172.72L462.6 175.27L460.05 172.72Z" fill="#7a1010" stroke="#400808" stroke-width="0.6"/>
<path d="M464.9 167.25L467.45 169.8L464.9 172.35L462.35 169.8Z" fill="#7a1010" stroke="#400808" stroke-width="0.6"/>
<path d="M467.2 167.74L469.75 170.29L467.2 172.84L464.65 170.29Z" fill="#7a1010" stroke="#400808" stroke-width="0.6"/>
<path d="M469.5 170.83L472.05 173.38L469.5 175.93L466.95 173.38Z" fill="#7a1010" stroke="#400808" stroke-width="0.6"/>
<path d="M471.8 173.39L474.35 175.94L471.8 178.49L469.25 175.94Z" fill="#7a1010" stroke="#400808" stroke-width="0.6"/>
<path d="M474.1 172.35L476.65 174.9L474.1 177.45L471.55 174.9Z" fill="#7a1010" stroke="#400808" stroke-width="0.6"/>
<path d="M476.4 173.99L478.95 176.54L476.4 179.09L473.85 176.54Z" fill="#7a1010" stroke="#400808" stroke-width="0.6"/>
<path d="M478.7 172.35L481.25 174.9L478.7 177.45L476.15 174.9Z" fill="#7a1010" stroke="#400808" stroke-width="0.6"/>
<path d="M481 174.87L483.55 177.42L481 179.97L478.45 177.42Z" fill="#7a1010" stroke="#400808" stroke-width="0.6"/>
<path d="M483.3 175.33L485.85 177.88L483.3 180.43L480.75 177.88Z" fill="#7a1010" stroke="#400808" stroke-width="0.6"/>
<path d="M485.6 176.22L488.15 178.77L485.6 181.32L483.05 178.77Z" fill="#7a1010" stroke="#400808" stroke-width="0.6"/>
<path d="M487.9 172.68L490.45 175.23L487.9 177.78L485.35 175.23Z" fill="#7a1010" stroke="#400808" stroke-width="0.6"/>
<path d="M490.2 173.58L492.75 176.13L490.2 178.68L487.65 176.13Z" fill="#7a1010" stroke="#400808" stroke-width="0.6"/>
<path d="M492.5 173.6L495.05 176.15L492.5 178.7L489.95 176.15Z" fill="#7a1010" stroke="#400808" stroke-width="0.6"/>
<path d="M494.8 176.06L497.35 178.61L494.8 181.16L492.25 178.61Z" fill="#7a1010" stroke="#400808" stroke-width="0.6"/>
<path d="M497.1 175.73L499.65 178.28L497.1 180.83L494.55 178.28Z" fill="#7a1010" stroke="#400808" stroke-width="0.6"/>
<path d="M499.4 175.58L501.95 178.13L499.4 180.68L496.85 178.13Z" fill="#7a1010" stroke="#400808" stroke-width="0.6"/>
<path d="M501.7 176.03L504.25 178.58L501.7 181.13L499.15 178.58Z" fill="#7a1010" stroke="#400808" stroke-width="0.6"/>
<path d="M504 175.84L506.55 178.39L504 180.94L501.45 178.39Z" fill="#7a1010" stroke="#400808" stroke-width="0.6"/>
<path d="M506.3 172.28L508.85 174.83L506.3 177.38L503.75 174.83Z" fill="#7a1010" stroke="#400808" stroke-width="0.6"/>
<path d="M508.6 168.95L511.15 171.5L508.6 174.05L506.05 171.5Z" fill="#7a1010" stroke="#400808" stroke-width="0.6"/>
<path d="M510.9 173L513.45 175.55L510.9 178.1L508.35 175.55Z" fill="#7a1010" stroke="#400808" stroke-width="0.6"/>
<path d="M513.2 173.89L515.75 176.44L513.2 178.99L510.65 176.44Z" fill="#7a1010" stroke="#400808" stroke-width="0.6"/>
<path d="M306.2 178.05L308.75 180.6L306.2 183.15L303.65 180.6Z" fill="#1f7a1f" stroke="#104010" stroke-width="0.6"/>
<path d="M308.5 178.05L311.05 180.6L308.5 183.15L305.95 180.6Z" fill="#1f7a1f" stroke="#104010" stroke-width="0.6"/>
<path d="M310.8 174.19L313.35 176.74L310.8 179.29L308.25 176.74Z" fill="#1f7a1f" stroke="#104010" stroke-width="0.6"/>
<path d="M313.1 165.39L315.65 167.94L313.1 170.49L310.55 167.94Z" fill="#1f7a1f" stroke="#104010" stroke-width="0.6"/>
<path d="M315.4 152.97L317.95 155.52L315.4 158.07L312.85 155.52Z" fill="#1f7a1f" stroke="#104010" stroke-width="0.6"/>
<path d="M317.7 139.16L320.25 141.71L317.7 144.26L315.15 141.71Z" fill="#1f7a1f" stroke="#104010" stroke-width="0.6"/>
<path d="M320 126.13L322.55 128.68L320 131.23L317.45 128.68Z" fill="#1f7a1f" stroke="#104010" stroke-width="0.6"/>
<path d="M322.3 117.57L324.85 120.12L322.3 122.67L319.75 120.12Z" fill="#1f7a1f" stroke="#104010" stroke-width="0.6"/>
<path d="M324.6 111.52L327.15 114.07L324.6 116.62L322.05 114.07Z" fill="#1f7a1f" stroke="#104010" stroke-width="0.6"/>
<path d="M326.9 110.65L329.45 113.2L326.9 115.75L324.35 113.2Z" fill="#1f7a1f" stroke="#104010" stroke-width="0.6"/>
<path d="M329.2 109.34L331.75 111.89L329.2 114.44L326.65 111.89Z" fill="#1f7a1f" stroke="#104010" stroke-width="0.6"/>
<path d="M331.5 108.92L334.05 111.47L331.5 114.02L328.95 111.47Z" fill="#1f7a1f" stroke="#104010" stroke-width="0.6"/>
<path d="M333.8 111.39L336.35 113.94L333.8 116.49L331.25 113.94Z" fill="#1f7a1f" stroke="#104010" stroke-width="0.6"/>
<path d="M336.1 113.01L338.65 115.56L336.1 118.11L333.55 115.56Z" fill="#1f7a1f" stroke="#104010" stroke-width="0.6"/>
<path d="M338.4 115.31L340.95 117.86L338.4 120.41L335.85 117.86Z" fill="#1f7a1f" stroke="#104010" stroke-width="0.6"/>
<path d="M340.7 120.88L343.25 123.43L340.7 125.98L338.15 123.43Z" fill="#1f7a1f" stroke="#104010" stroke-width="0.6"/>
<path d="M343 122.76L345.55 125.31L343 127.86L340.45 125.31Z" fill="#1f7a1f" stroke="#104010" stroke-width="0.6"/>
<path d="M345.3 126.04L347.85 128.59L345.3 131.14L342.75 128.59Z" fill="#1f7a1f" stroke="#104010" stroke-width="0.6"/>
<path d="M347.6 130.6L350.15 133.15L347.6 135.7L345.05 133.15Z" fill="#1f7a1f" stroke="#104010" stroke-width="0.6"/>
<path d="M349.9 132.86L352.45 135.41L349.9 137.96L347.35 135.41Z" fill="#1f7a1f" stroke="#104010" stroke-width="0.6"/>
<path d="M352.2 133.18L354.75 135.73L352.2 138.28L349.65 135.73Z" fill="#1f7a1f" stroke="#104010" stroke-width="0.6"/>
<path d="M354.5 137.85L357.05 140.4L354.5 142.95L351.95 140.4Z" fill="#1f7a1f" stroke="#104010" stroke-width="0.6"/>
<path d="M356.8 138.57L359.35 141.12L356.8 143.67L354.25 141.12Z" fill="#1f7a1f" stroke="#104010" stroke-width="0.6"/>
<path d="M359.1 141.82L361.65 144.37L359.1 146.92L356.55 144.37Z" fill="#1f7a1f" stroke="#104010" stroke-width="0.6"/>
<path d="M361.4 142.48L363.95 145.03L361.4 147.58L358.85 145.03Z" fill="#1f7a1f" stroke="#104010" stroke-width="0.6"/>
<path d="M363.7 144.21L366.25 146.76L363.7 149.31L361.15 146.76Z" fill="#1f7a1f" stroke="#104010" stroke-width="0.6"/>
<path d="M366 144.98L368.55 147.53L366 150.08L363.45 147.53Z" fill="#1f7a1f" stroke="#104010" stroke-width="0.6"/>
<path d="M368.3 148.59L370.85 151.14L368.3 153.69L365.75 151.14Z" fill="#1f7a1f" stroke="#104010" stroke-width="0.6"/>
<path d="M370.6 148.48L373.15 151.03L370.6 153.58L368.05 151.03Z" fill="#1f7a1f" stroke="#104010" stroke-width="0.6"/>
<path d="M372.9 149.3L375.45 151.85L372.9 154.4L370.35 151.85Z" fill="#1f7a1f" stroke="#104010" stroke-width="0.6"/>
<path d="M375.2 148.96L377.75 151.51L375.2 154.06L372.65 151.51Z" fill="#1f7a1f" stroke="#104010" stroke-width="0.6"/>
<path d="M377.5 153.82L380.05 156.37L377.5 158.92L374.95 156.37Z" fill="#1f7a1f" stroke="#104010" stroke-width="0.6"/>
<path d="M379.8 154.37L382.35 156.92L379.8 159.47L377.25 156.92Z" fill="#1f7a1f" stroke="#104010" stroke-width="0.6"/>
<path d="M382.1 156.53L384.65 159.08L382.1 161.63L379.55 159.08Z" fill="#1f7a1f" stroke="#104010" stroke-width="0.6"/>
<path d="M384.4 158.56L386.95 161.11L384.4 163.66L381.85 161.11Z" fill="#1f7a1f" stroke="#104010" stroke-width="0.6"/>
<path d="M386.7 159.1L389.25 161.65L386.7 164.2L384.15 161.65Z" fill="#1f7a1f" stroke="#104010" stroke-width="0.6"/>
<path d="M389 160.44L391.55 162.99L389 165.54L386.45 162.99Z" fill="#1f7a1f" stroke="#104010" stroke-width="0.6"/>
<path d="M391.3 161.82L393.85 164.37L391.3 166.92L388.75 164.37Z" fill="#1f7a1f" stroke="#104010" stroke-width="0.6"/>
<path d="M393.6 163.07L396.15 165.62L393.6 168.17L391.05 165.62Z" fill="#1f7a1f" stroke="#104010" stroke-width="0.6"/>
<path d="M395.9 161.34L398.45 163.89L395.9 166.44L393.35 163.89Z" fill="#1f7a1f" stroke="#104010" stroke-width="0.6"/>
<path d="M398.2 162.56L400.75 165.11L398.2 167.66L395.65 165.11Z" fill="#1f7a1f" stroke="#104010" stroke-width="0.6"/>
<path d="M400.5 164.45L403.05 167L400.5 169.55L397.95 167Z" fill="#1f7a1f" stroke="#104010" stroke-width="0.6"/>
<path d="M402.8 163.83L405.35 166.38L402.8 168.93L400.25 166.38Z" fill="#1f7a1f" stroke="#104010" stroke-width="0.6"/>
<path d="M405.1 161.56L407.65 164.11L405.1 166.66L402.55 164.11Z" fill="#1f7a1f" stroke="#104010" stroke-width="0.6"/>
<path d="M407.4 162.27L409.95 164.82L407.4 167.37L404.85 164.82Z" fill="#1f7a1f" stroke="#104010" stroke-width="0.6"/>
<path d="M409.7 166.13L412.25 168.68L409.7 171.23L407.15 168.68Z" fill="#1f7a1f" stroke="#104010" stroke-width="0.6"/>
<path d="M412 167.25L414.55 169.8L412 172.35L409.45 169.8Z" fill="#1f7a1f" stroke="#104010" stroke-width="0.6"/>
<path d="M414.3 170.94L416.85 173.49L414.3 176.04L411.75 173.49Z" fill="#1f7a1f" stroke="#104010" stroke-width="0.6"/>
<path d="M416.6 170.64L419.15 173.19L416.6 175.74L414.05 173.19Z" fill="#1f7a1f" stroke="#104010" stroke-width="0.6"/>
<path d="M418.9 168.42L421.45 170.97L418.9 173.52L416.35 170.97Z" fill="#1f7a1f" stroke="#104010" stroke-width="0.6"/>
<path d="M421.2 168.68L423.75 171.23L421.2 173.78L418.65 171.23Z" fill="#1f7a1f" stroke="#104010" stroke-width="0.6"/>
<path d="M423.5 167.72L426.05 170.27L423.5 172.82L420.95 170.27Z" fill="#1f7a1f" stroke="#104010" stroke-width="0.6"/>
<path d="M425.8 168.69L428.35 171.24L425.8 173.79L423.25 171.24Z" fill="#1f7a1f" stroke="#104010" stroke-width="0.6"/>
<path d="M428.1 169.61L430.65 172.16L428.1 174.71L425.55 172.16Z" fill="#1f7a1f" stroke="#104010" stroke-width="0.6"/>
<path d="M430.4 169.98L432.95 172.53L430.4 175.08L427.85 172.53Z" fill="#1f7a1f" stroke="#104010" stroke-width="0.6"/>
<path d="M432.7 170.07L435.25 172.62L432.7 175.17L430.15 172.62Z" fill="#1f7a1f" stroke="#104010" stroke-width="0.6"/>
<path d="M435 170.63L437.55 173.18L435 175.73L432.45 173.18Z" fill="#1f7a1f" stroke="#104010" stroke-width="0.6"/>
<path d="M437.3 171.23L439.85 173.78L437.3 176.33L434.75 173.78Z" fill="#1f7a1f" stroke="#104010" stroke-width="0.6"/>
<path d="M439.6 172.04L442.15 174.59L439.6 177.14L437.05 174.59Z" fill="#1f7a1f" stroke="#104010" stroke-width="0.6"/>
<path d="M441.9 172.93L444.45 175.48L441.9 178.03L439.35 175.48Z" fill="#1f7a1f" stroke="#104010" stroke-width="0.6"/>
<path d="M444.2 172.24L446.75 174.79L444.2 177.34L441.65 174.79Z" fill="#1f7a1f" stroke="#104010" stroke-width="0.6"/>
<path d="M446.5 170.85L449.05 173.4L446.5 175.95L443.95 173.4Z" fill="#1f7a1f" stroke="#104010" stroke-width="0.6"/>
<path d="M448.8 169.72L451.35 172.27L448.8 174.82L446.25 172.27Z" fill="#1f7a1f" stroke="#104010" stroke-width="0.6"/>
<path d="M451.1 170.35L453.65 172.9L451.1 175.45L448.55 172.9Z" fill="#1f7a1f" stroke="#104010" stroke-width="0.6"/>
<path d="M453.4 172.36L455.95 174.91L453.4 177.46L450.85 174.91Z" fill="#1f7a1f" stroke="#104010" stroke-width="0.6"/>
<path d="M455.7 171.59L458.25 174.14L455.7 176.69L453.15 174.14Z" fill="#1f7a1f" stroke="#104010" stroke-width="0.6"/>
<path d="M458 171.44L460.55 173.99L458 176.54L455.45 173.99Z" fill="#1f7a1f" stroke="#104010" stroke-width="0.6"/>
<path d="M460.3 170.33L462.85 172.88L460.3 175.43L457.75 172.88Z" fill="#1f7a1f" stroke="#104010" stroke-width="0.6"/>
<path d="M462.6 173.49L465.15 176.04L462.6 178.59L460.05 176.04Z" fill="#1f7a1f" stroke="#104010" stroke-width="0.6"/>
<path d="M464.9 172.74L467.45 175.29L464.9 177.84L462.35 175.29Z" fill="#1f7a1f" stroke="#104010" stroke-width="0.6"/>
<path d="M467.2 173.24L469.75 175.79L467.2 178.34L464.65 175.79Z" fill="#1f7a1f" stroke="#104010" stroke-width="0.6"/>
<path d="M469.5 173.41L472.05 175.96L469.5 178.51L466.95 175.96Z" fill="#1f7a1f" stroke="#104010" stroke-width="0.6"/>
<path d="M471.8 173.46L474.35 176.01L471.8 178.56L469.25 176.01Z" fill="#1f7a1f" stroke="#104010" stroke-width="0.6"/>
<path d="M474.1 174.45L476.65 177L474.1 179.55L471.55 177Z" fill="#1f7a1f" stroke="#104010" stroke-width="0.6"/>
<path d="M476.4 173.2L478.95 175.75L476.4 178.3L473.85 175.75Z" fill="#1f7a1f" stroke="#104010" stroke-width="0.6"/>
<path d="M478.7 174.97L481.25 177.52L478.7 180.07L476.15 177.52Z" fill="#1f7a1f" stroke="#104010" stroke-width="0.6"/>
<path d="M481 173.17L483.55 175.72L481 178.27L478.45 175.72Z" fill="#1f7a1f" stroke="#104010" stroke-width="0.6"/>
<path d="M483.3 174.32L485.85 176.87L483.3 179.42L480.75 176.87Z" fill="#1f7a1f" stroke="#104010" stroke-width="0.6"/>
<path d="M485.6 173.84L488.15 176.39L485.6 178.94L483.05 176.39Z" fill="#1f7a1f" stroke="#104010" stroke-width="0.6"/>
<path d="M487.9 176.17L490.45 178.72L487.9 181.27L485.35 178.72Z" fill="#1f7a1f" stroke="#104010" stroke-width="0.6"/>
<path d="M490.2 176.26L492.75 178.81L490.2 181.36L487.65 178.81Z" fill="#1f7a1f" stroke="#104010" stroke-width="0.6"/>
<path d="M492.5 173.4L495.05 175.95L492.5 178.5L489.95 175.95Z" fill="#1f7a1f" stroke="#104010" stroke-width="0.6"/>
<path d="M494.8 173.87L497.35 176.42L494.8 178.97L492.25 176.42Z" fill="#1f7a1f" stroke="#104010" stroke-width="0.6"/>
<path d="M497.1 173.61L499.65 176.16L497.1 178.71L494.55 176.16Z" fill="#1f7a1f" stroke="#104010" stroke-width="0.6"/>
<path d="M499.4 175.93L501.95 178.48L499.4 181.03L496.85 178.48Z" fill="#1f7a1f" stroke="#104010" stroke-width="0.6"/>
<path d="M501.7 175.32L504.25 177.87L501.7 180.42L499.15 177.87Z" fill="#1f7a1f" stroke="#104010" stroke-width="0.6"/>
<path d="M504 173.57L506.55 176.12L504 178.67L501.45 176.12Z" fill="#1f7a1f" stroke="#104010" stroke-width="0.6"/>
<path d="M506.3 173.55L508.85 176.1L506.3 178.65L503.75 176.1Z" fill="#1f7a1f" stroke="#104010" stroke-width="0.6"/>
<path d="M508.6 175.12L511.15 177.67L508.6 180.22L506.05 177.67Z" fill="#1f7a1f" stroke="#104010" stroke-width="0.6"/>
<path d="M510.9 175.76L513.45 178.31L510.9 180.86L508.35 178.31Z" fill="#1f7a1f" stroke="#104010" stroke-width="0.6"/>
<path d="M513.2 175.69L515.75 178.24L513.2 180.79L510.65 178.24Z" fill="#1f7a1f" stroke="#104010" stroke-width="0.6"/>
<path d="M306.2 178.6L308.2 180.6L306.2 182.6L304.2 180.6Z" fill="#d85830" stroke="#b03818" stroke-width="0.6"/>
<path d="M308.5 178.6L310.5 180.6L308.5 182.6L306.5 180.6Z" fill="#d85830" stroke="#b03818" stroke-width="0.6"/>
<path d="M310.8 178.6L312.8 180.6L310.8 182.6L308.8 180.6Z" fill="#d85830" stroke="#b03818" stroke-width="0.6"/>
<path d="M313.1 178.6L315.1 180.6L313.1 182.6L311.1 180.6Z" fill="#d85830" stroke="#b03818" stroke-width="0.6"/>
<path d="M315.4 178.6L317.4 180.6L315.4 182.6L313.4 180.6Z" fill="#d85830" stroke="#b03818" stroke-width="0.6"/>
<path d="M317.7 178.6L319.7 180.6L317.7 182.6L315.7 180.6Z" fill="#d85830" stroke="#b03818" stroke-width="0.6"/>
<path d="M320 178.6L322 180.6L320 182.6L318 180.6Z" fill="#d85830" stroke="#b03818" stroke-width="0.6"/>
<path d="M322.3 178.6L324.3 180.6L322.3 182.6L320.3 180.6Z" fill="#d85830" stroke="#b03818" stroke-width="0.6"/>
<path d="M324.6 178.6L326.6 180.6L324.6 182.6L322.6 180.6Z" fill="#d85830" stroke="#b03818" stroke-width="0.6"/>
<path d="M326.9 178.6L328.9 180.6L326.9 182.6L324.9 180.6Z" fill="#d85830" stroke="#b03818" stroke-width="0.6"/>
<path d="M329.2 178.6L331.2 180.6L329.2 182.6L327.2 180.6Z" fill="#d85830" stroke="#b03818" stroke-width="0.6"/>
<path d="M331.5 178.6L333.5 180.6L331.5 182.6L329.5 180.6Z" fill="#d85830" stroke="#b03818" stroke-width="0.6"/>
<path d="M333.8 178.6L335.8 180.6L333.8 182.6L331.8 180.6Z" fill="#d85830" stroke="#b03818" stroke-width="0.6"/>
<path d="M336.1 178.6L338.1 180.6L336.1 182.6L334.1 180.6Z" fill="#d85830" stroke="#b03818" stroke-width="0.6"/>
<path d="M338.4 178.6L340.4 180.6L338.4 182.6L336.4 180.6Z" fill="#d85830" stroke="#b03818" stroke-width="0.6"/>
<path d="M340.7 178.6L342.7 180.6L340.7 182.6L338.7 180.6Z" fill="#d85830" stroke="#b03818" stroke-width="0.6"/>
<path d="M343 178.6L345 180.6L343 182.6L341 180.6Z" fill="#d85830" stroke="#b03818" stroke-width="0.6"/>
<path d="M345.3 178.6L347.3 180.6L345.3 182.6L343.3 180.6Z" fill="#d85830" stroke="#b03818" stroke-width="0.6"/>
<path d="M347.6 178.6L349.6 180.6L347.6 182.6L345.6 180.6Z" fill="#d85830" stroke="#b03818" stroke-width="0.6"/>
<path d="M349.9 178.6L351.9 180.6L349.9 182.6L347.9 180.6Z" fill="#d85830" stroke="#b03818" stroke-width="0.6"/>
<path d="M352.2 178.6L354.2 180.6L352.2 182.6L350.2 180.6Z" fill="#d85830" stroke="#b03818" stroke-width="0.6"/>
<path d="M354.5 178.6L356.5 180.6L354.5 182.6L352.5 180.6Z" fill="#d85830" stroke="#b03818" stroke-width="0.6"/>
<path d="M356.8 178.6L358.8 180.6L356.8 182.6L354.8 180.6Z" fill="#d85830" stroke="#b03818" stroke-width="0.6"/>
<path d="M359.1 178.6L361.1 180.6L359.1 182.6L357.1 180.6Z" fill="#d85830" stroke="#b03818" stroke-width="0.6"/>
<path d="M361.4 178.6L363.4 180.6L361.4 182.6L359.4 180.6Z" fill="#d85830" stroke="#b03818" stroke-width="0.6"/>
<path d="M363.7 178.6L365.7 180.6L363.7 182.6L361.7 180.6Z" fill="#d85830" stroke="#b03818" stroke-width="0.6"/>
<path d="M366 178.6L368 180.6L366 182.6L364 180.6Z" fill="#d85830" stroke="#b03818" stroke-width="0.6"/>
<path d="M368.3 178.6L370.3 180.6L368.3 182.6L366.3 180.6Z" fill="#d85830" stroke="#b03818" stroke-width="0.6"/>
<path d="M370.6 178.6L372.6 180.6L370.6 182.6L368.6 180.6Z" fill="#d85830" stroke="#b03818" stroke-width="0.6"/>
<path d="M372.9 178.6L374.9 180.6L372.9 182.6L370.9 180.6Z" fill="#d85830" stroke="#b03818" stroke-width="0.6"/>
<path d="M375.2 178.6L377.2 180.6L375.2 182.6L373.2 180.6Z" fill="#d85830" stroke="#b03818" stroke-width="0.6"/>
<path d="M377.5 178.6L379.5 180.6L377.5 182.6L375.5 180.6Z" fill="#d85830" stroke="#b03818" stroke-width="0.6"/>
<path d="M379.8 178.6L381.8 180.6L379.8 182.6L377.8 180.6Z" fill="#d85830" stroke="#b03818" stroke-width="0.6"/>
<path d="M382.1 178.6L384.1 180.6L382.1 182.6L380.1 180.6Z" fill="#d85830" stroke="#b03818" stroke-width="0.6"/>
<path d="M384.4 178.6L386.4 180.6L384.4 182.6L382.4 180.6Z" fill="#d85830" stroke="#b03818" stroke-width="0.6"/>
<path d="M386.7 178.6L388.7 180.6L386.7 182.6L384.7 180.6Z" fill="#d85830" stroke="#b03818" stroke-width="0.6"/>
<path d="M389 178.6L391 180.6L389 182.6L387 180.6Z" fill="#d85830" stroke="#b03818" stroke-width="0.6"/>
<path d="M391.3 178.6L393.3 180.6L391.3 182.6L389.3 180.6Z" fill="#d85830" stroke="#b03818" stroke-width="0.6"/>
<path d="M393.6 178.6L395.6 180.6L393.6 182.6L391.6 180.6Z" fill="#d85830" stroke="#b03818" stroke-width="0.6"/>
<path d="M395.9 178.6L397.9 180.6L395.9 182.6L393.9 180.6Z" fill="#d85830" stroke="#b03818" stroke-width="0.6"/>
<path d="M398.2 178.6L400.2 180.6L398.2 182.6L396.2 180.6Z" fill="#d85830" stroke="#b03818" stroke-width="0.6"/>
<path d="M400.5 178.6L402.5 180.6L400.5 182.6L398.5 180.6Z" fill="#d85830" stroke="#b03818" stroke-width="0.6"/>
<path d="M402.8 178.6L404.8 180.6L402.8 182.6L400.8 180.6Z" fill="#d85830" stroke="#b03818" stroke-width="0.6"/>
<path d="M405.1 178.6L407.1 180.6L405.1 182.6L403.1 180.6Z" fill="#d85830" stroke="#b03818" stroke-width="0.6"/>
<path d="M407.4 178.6L409.4 180.6L407.4 182.6L405.4 180.6Z" fill="#d85830" stroke="#b03818" stroke-width="0.6"/>
<path d="M409.7 178.6L411.7 180.6L409.7 182.6L407.7 180.6Z" fill="#d85830" stroke="#b03818" stroke-width="0.6"/>
<path d="M412 178.6L414 180.6L412 182.6L410 180.6Z" fill="#d85830" stroke="#b03818" stroke-width="0.6"/>
<path d="M414.3 178.6L416.3 180.6L414.3 182.6L412.3 180.6Z" fill="#d85830" stroke="#b03818" stroke-width="0.6"/>
<path d="M416.6 178.6L418.6 180.6L416.6 182.6L414.6 180.6Z" fill="#d85830" stroke="#b03818" stroke-width="0.6"/>
<path d="M418.9 178.6L420.9 180.6L418.9 182.6L416.9 180.6Z" fill="#d85830" stroke="#b03818" stroke-width="0.6"/>
<path d="M421.2 178.6L423.2 180.6L421.2 182.6L419.2 180.6Z" fill="#d85830" stroke="#b03818" stroke-width="0.6"/>
<path d="M423.5 178.6L425.5 180.6L423.5 182.6L421.5 180.6Z" fill="#d85830" stroke="#b03818" stroke-width="0.6"/>
<path d="M425.8 178.6L427.8 180.6L425.8 182.6L423.8 180.6Z" fill="#d85830" stroke="#b03818" stroke-width="0.6"/>
<path d="M428.1 178.6L430.1 180.6L428.1 182.6L426.1 180.6Z" fill="#d85830" stroke="#b03818" stroke-width="0.6"/>
<path d="M430.4 178.6L432.4 180.6L430.4 182.6L428.4 180.6Z" fill="#d85830" stroke="#b03818" stroke-width="0.6"/>
<path d="M432.7 178.6L434.7 180.6L432.7 182.6L430.7 180.6Z" fill="#d85830" stroke="#b03818" stroke-width="0.6"/>
<path d="M435 178.6L437 180.6L435 182.6L433 180.6Z" fill="#d85830" stroke="#b03818" stroke-width="0.6"/>
<path d="M437.3 178.6L439.3 180.6L437.3 182.6L435.3 180.6Z" fill="#d85830" stroke="#b03818" stroke-width="0.6"/>
<path d="M439.6 178.6L441.6 180.6L439.6 182.6L437.6 180.6Z" fill="#d85830" stroke="#b03818" stroke-width="0.6"/>
<path d="M441.9 178.6L443.9 180.6L441.9 182.6L439.9 180.6Z" fill="#d85830" stroke="#b03818" stroke-width="0.6"/>
<path d="M444.2 178.6L446.2 180.6L444.2 182.6L442.2 180.6Z" fill="#d85830" stroke="#b03818" stroke-width="0.6"/>
<path d="M446.5 178.6L448.5 180.6L446.5 182.6L444.5 180.6Z" fill="#d85830" stroke="#b03818" stroke-width="0.6"/>
<path d="M448.8 178.6L450.8 180.6L448.8 182.6L446.8 180.6Z" fill="#d85830" stroke="#b03818" stroke-width="0.6"/>
<path d="M451.1 178.6L453.1 180.6L451.1 182.6L449.1 180.6Z" fill="#d85830" stroke="#b03818" stroke-width="0.6"/>
<path d="M453.4 178.6L455.4 180.6L453.4 182.6L451.4 180.6Z" fill="#d85830" stroke="#b03818" stroke-width="0.6"/>
<path d="M455.7 178.6L457.7 180.6L455.7 182.6L453.7 180.6Z" fill="#d85830" stroke="#b03818" stroke-width="0.6"/>
<path d="M458 178.6L460 180.6L458 182.6L456 180.6Z" fill="#d85830" stroke="#b03818" stroke-width="0.6"/>
<path d="M460.3 178.6L462.3 180.6L460.3 182.6L458.3 180.6Z" fill="#d85830" stroke="#b03818" stroke-width="0.6"/>
<path d="M462.6 178.6L464.6 180.6L462.6 182.6L460.6 180.6Z" fill="#d85830" stroke="#b03818" stroke-width="0.6"/>
<path d="M464.9 178.6L466.9 180.6L464.9 182.6L462.9 180.6Z" fill="#d85830" stroke="#b03818" stroke-width="0.6"/>
<path d="M467.2 178.6L469.2 180.6L467.2 182.6L465.2 180.6Z" fill="#d85830" stroke="#b03818" stroke-width="0.6"/>
<path d="M469.5 178.6L471.5 180.6L469.5 182.6L467.5 180.6Z" fill="#d85830" stroke="#b03818" stroke-width="0.6"/>
<path d="M471.8 178.6L473.8 180.6L471.8 182.6L469.8 180.6Z" fill="#d85830" stroke="#b03818" stroke-width="0.6"/>
<path d="M474.1 178.6L476.1 180.6L474.1 182.6L472.1 180.6Z" fill="#d85830" stroke="#b03818" stroke-width="0.6"/>
<path d="M476.4 178.6L478.4 180.6L476.4 182.6L474.4 180.6Z" fill="#d85830" stroke="#b03818" stroke-width="0.6"/>
<path d="M478.7 178.6L480.7 180.6L478.7 182.6L476.7 180.6Z" fill="#d85830" stroke="#b03818" stroke-width="0.6"/>
<path d="M481 178.6L483 180.6L481 182.6L479 180.6Z" fill="#d85830" stroke="#b03818" stroke-width="0.6"/>
<path d="M483.3 178.6L485.3 180.6L483.3 182.6L481.3 180.6Z" fill="#d85830" stroke="#b03818" stroke-width="0.6"/>
<path d="M485.6 178.6L487.6 180.6L485.6 182.6L483.6 180.6Z" fill="#d85830" stroke="#b03818" stroke-width="0.6"/>
<path d="M487.9 178.6L489.9 180.6L487.9 182.6L485.9 180.6Z" fill="#d85830" stroke="#b03818" stroke-width="0.6"/>
<path d="M490.2 178.6L492.2 180.6L490.2 182.6L488.2 180.6Z" fill="#d85830" stroke="#b03818" stroke-width="0.6"/>
<path d="M492.5 178.6L494.5 180.6L492.5 182.6L490.5 180.6Z" fill="#d85830" stroke="#b03818" stroke-width="0.6"/>
<path d="M494.8 178.6L496.8 180.6L494.8 182.6L492.8 180.6Z" fill="#d85830" stroke="#b03818" stroke-width="0.6"/>
<path d="M497.1 178.6L499.1 180.6L497.1 182.6L495.1 180.6Z" fill="#d85830" stroke="#b03818" stroke-width="0.6"/>
<path d="M499.4 178.6L501.4 180.6L499.4 182.6L497.4 180.6Z" fill="#d85830" stroke="#b03818" stroke-width="0.6"/>
<path d="M501.7 178.6L503.7 180.6L501.7 182.6L499.7 180.6Z" fill="#d85830" stroke="#b03818" stroke-width="0.6"/>
<path d="M504 178.6L506 180.6L504 182.6L502 180.6Z" fill="#d85830" stroke="#b03818" stroke-width="0.6"/>
<path d="M506.3 178.6L508.3 180.6L506.3 182.6L504.3 180.6Z" fill="#d85830" stroke="#b03818" stroke-width="0.6"/>
<path d="M508.6 178.6L510.6 180.6L508.6 182.6L506.6 180.6Z" fill="#d85830" stroke="#b03818" stroke-width="0.6"/>
<path d="M510.9 178.6L512.9 180.6L510.9 182.6L508.9 180.6Z" fill="#d85830" stroke="#b03818" stroke-width="0.6"/>
<path d="M513.2 178.6L515.2 180.6L513.2 182.6L511.2 180.6Z" fill="#d85830" stroke="#b03818" stroke-width="0.6"/>
<rect x="305.9" y="10" width="209.6" height="170.3" fill="none" stroke="#5a5a5a" stroke-width="1.3"/>
<path d="M306.2 180.3v-3.5M306.2 10v3.5" stroke="#5a5a5a" stroke-width="1"/>
<path d="M317.7 180.3v-2M317.7 10v2" stroke="#5a5a5a" stroke-width="1"/>
<path d="M329.2 180.3v-2M329.2 10v2" stroke="#5a5a5a" stroke-width="1"/>
<path d="M340.7 180.3v-3.5M340.7 10v3.5" stroke="#5a5a5a" stroke-width="1"/>
<path d="M352.2 180.3v-2M352.2 10v2" stroke="#5a5a5a" stroke-width="1"/>
<path d="M363.7 180.3v-2M363.7 10v2" stroke="#5a5a5a" stroke-width="1"/>
<path d="M375.2 180.3v-3.5M375.2 10v3.5" stroke="#5a5a5a" stroke-width="1"/>
<path d="M386.7 180.3v-2M386.7 10v2" stroke="#5a5a5a" stroke-width="1"/>
<path d="M398.2 180.3v-2M398.2 10v2" stroke="#5a5a5a" stroke-width="1"/>
<path d="M409.7 180.3v-3.5M409.7 10v3.5" stroke="#5a5a5a" stroke-width="1"/>
<path d="M421.2 180.3v-2M421.2 10v2" stroke="#5a5a5a" stroke-width="1"/>
<path d="M432.7 180.3v-2M432.7 10v2" stroke="#5a5a5a" stroke-width="1"/>
<path d="M444.2 180.3v-3.5M444.2 10v3.5" stroke="#5a5a5a" stroke-width="1"/>
<path d="M455.7 180.3v-2M455.7 10v2" stroke="#5a5a5a" stroke-width="1"/>
<path d="M467.2 180.3v-2M467.2 10v2" stroke="#5a5a5a" stroke-width="1"/>
<path d="M478.7 180.3v-3.5M478.7 10v3.5" stroke="#5a5a5a" stroke-width="1"/>
<path d="M490.2 180.3v-2M490.2 10v2" stroke="#5a5a5a" stroke-width="1"/>
<path d="M501.7 180.3v-2M501.7 10v2" stroke="#5a5a5a" stroke-width="1"/>
<path d="M513.2 180.3v-3.5M513.2 10v3.5" stroke="#5a5a5a" stroke-width="1"/>
<path d="M305.9 180.6h4.2M515.5 180.6h-4.2" stroke="#5a5a5a" stroke-width="1"/>
<path d="M305.9 163.43h2.3M515.5 163.43h-2.3" stroke="#5a5a5a" stroke-width="1"/>
<path d="M305.9 146.27h2.3M515.5 146.27h-2.3" stroke="#5a5a5a" stroke-width="1"/>
<path d="M305.9 129.1h4.2M515.5 129.1h-4.2" stroke="#5a5a5a" stroke-width="1"/>
<path d="M305.9 111.93h2.3M515.5 111.93h-2.3" stroke="#5a5a5a" stroke-width="1"/>
<path d="M305.9 94.77h2.3M515.5 94.77h-2.3" stroke="#5a5a5a" stroke-width="1"/>
<path d="M305.9 77.6h4.2M515.5 77.6h-4.2" stroke="#5a5a5a" stroke-width="1"/>
<path d="M305.9 60.43h2.3M515.5 60.43h-2.3" stroke="#5a5a5a" stroke-width="1"/>
<path d="M305.9 43.27h2.3M515.5 43.27h-2.3" stroke="#5a5a5a" stroke-width="1"/>
<path d="M305.9 26.1h4.2M515.5 26.1h-4.2" stroke="#5a5a5a" stroke-width="1"/>
<text x="306.2" y="192.6" text-anchor="middle" class="tk">0</text>
<text x="340.7" y="192.6" text-anchor="middle" class="tk">15</text>
<text x="375.2" y="192.6" text-anchor="middle" class="tk">30</text>
<text x="409.7" y="192.6" text-anchor="middle" class="tk">45</text>
<text x="444.2" y="192.6" text-anchor="middle" class="tk">60</text>
<text x="478.7" y="192.6" text-anchor="middle" class="tk">75</text>
<text x="513.2" y="192.6" text-anchor="middle" class="tk">90</text>
<text x="300.7" y="183.4" text-anchor="end" class="tk">0</text>
<text x="300.7" y="131.9" text-anchor="end" class="tk">50</text>
<text x="300.7" y="80.4" text-anchor="end" class="tk">100</text>
<text x="300.7" y="28.9" text-anchor="end" class="tk">150</text>
<text x="411.5" y="210.5" text-anchor="middle" class="ti">Time (min)</text>
<text transform="translate(280.8 95.55) rotate(-90)" text-anchor="middle" class="ti yt">[Thrombin] (nM)</text>
<text x="268.3" y="13.5" class="lt">B</text>
<path d="M434 52.4H452.6" stroke="#5c5c5c" stroke-width="1.6"/>
<path d="M443.3 50L445.7 52.4L443.3 54.8L440.9 52.4Z" fill="#1c1cd0" stroke="#101070" stroke-width="0.5"/>
<text x="459" y="55.3" class="lg">10 min</text>
<path d="M434 62.45H452.6" stroke="#5c5c5c" stroke-width="1.6"/>
<path d="M443.3 60.05L445.7 62.45L443.3 64.85L440.9 62.45Z" fill="#7a1010" stroke="#400808" stroke-width="0.5"/>
<text x="459" y="65.35" class="lg">30 min</text>
<path d="M434 72.5H452.6" stroke="#5c5c5c" stroke-width="1.6"/>
<path d="M443.3 70.1L445.7 72.5L443.3 74.9L440.9 72.5Z" fill="#1f7a1f" stroke="#104010" stroke-width="0.5"/>
<text x="459" y="75.4" class="lg">60 min</text>
<path d="M434 82.55H452.6" stroke="#5c5c5c" stroke-width="1.6"/>
<path d="M443.3 80.15L445.7 82.55L443.3 84.95L440.9 82.55Z" fill="#d85830" stroke="#b03818" stroke-width="0.5"/>
<text x="455.3" y="85.45" class="lg">120 min</text>
<text x="435" y="41.2" class="lg" style="font-size:9.2px">+ Factor Va</text>
<path d="M38.6 402.23V403.75M37.3 402.23h2.6M37.3 403.75h2.6M40.88 394.62V397.66M39.58 394.62h2.6M39.58 397.66h2.6M43.15 352.65V368.24M41.85 352.65h2.6M41.85 368.24h2.6M45.42 297.57V329.96M44.12 297.57h2.6M44.12 329.96h2.6M47.7 269.31V310.33M46.4 269.31h2.6M46.4 310.33h2.6M49.98 249.78V296.76M48.68 249.78h2.6M48.68 296.76h2.6M52.25 243.03V292.07M50.95 243.03h2.6M50.95 292.07h2.6M54.52 239.49V289.6M53.23 239.49h2.6M53.23 289.6h2.6M56.8 241.38V290.91M55.5 241.38h2.6M55.5 290.91h2.6M59.08 258.65V302.92M57.78 258.65h2.6M57.78 302.92h2.6M61.35 271.58V295.61M60.05 271.58h2.6M60.05 295.61h2.6M63.62 284.9V306.51M62.33 284.9h2.6M62.33 306.51h2.6M65.9 286.63V307.92M64.6 286.63h2.6M64.6 307.92h2.6M68.17 288.86V309.75M66.88 288.86h2.6M66.88 309.75h2.6M70.45 295.83V315.45M69.15 295.83h2.6M69.15 315.45h2.6M72.72 301.37V319.99M71.42 301.37h2.6M71.42 319.99h2.6M75 308.06V325.46M73.7 308.06h2.6M73.7 325.46h2.6M77.28 315.41V331.47M75.98 315.41h2.6M75.98 331.47h2.6M79.55 319.7V334.98M78.25 319.7h2.6M78.25 334.98h2.6M81.83 326.61V340.64M80.53 326.61h2.6M80.53 340.64h2.6M84.1 330.54V343.85M82.8 330.54h2.6M82.8 343.85h2.6M86.38 331.91V344.97M85.08 331.91h2.6M85.08 344.97h2.6M88.65 333.89V346.59M87.35 333.89h2.6M87.35 346.59h2.6M90.92 333.91V346.61M89.62 333.91h2.6M89.62 346.61h2.6M93.2 338.25V350.16M91.9 338.25h2.6M91.9 350.16h2.6M95.47 340.25V351.8M94.17 340.25h2.6M94.17 351.8h2.6M97.75 339.75V351.39M96.45 339.75h2.6M96.45 351.39h2.6M100.03 344.75V355.47M98.73 344.75h2.6M98.73 355.47h2.6M102.3 344.89V355.59M101 344.89h2.6M101 355.59h2.6M104.57 346.31V356.75M103.27 346.31h2.6M103.27 356.75h2.6M106.85 347.94V358.09M105.55 347.94h2.6M105.55 358.09h2.6M109.12 351.92V361.35M107.83 351.92h2.6M107.83 361.35h2.6M111.4 353.33V362.5M110.1 353.33h2.6M110.1 362.5h2.6M113.68 356.96V365.47M112.38 356.96h2.6M112.38 365.47h2.6M115.95 356.07V364.74M114.65 356.07h2.6M114.65 364.74h2.6M118.22 353.65V362.76M116.92 353.65h2.6M116.92 362.76h2.6M120.5 360.46V368.33M119.2 360.46h2.6M119.2 368.33h2.6M122.78 363.99V371.22M121.48 363.99h2.6M121.48 371.22h2.6M125.05 366.98V373.67M123.75 366.98h2.6M123.75 373.67h2.6M127.32 368.1V374.58M126.02 368.1h2.6M126.02 374.58h2.6M129.6 372.02V377.79M128.3 372.02h2.6M128.3 377.79h2.6M131.88 374.11V379.5M130.57 374.11h2.6M130.57 379.5h2.6M134.15 373.72V379.18M132.85 373.72h2.6M132.85 379.18h2.6M136.43 372.19V377.93M135.12 372.19h2.6M135.12 377.93h2.6M138.7 373.05V378.63M137.4 373.05h2.6M137.4 378.63h2.6M140.97 373.36V378.89M139.67 373.36h2.6M139.67 378.89h2.6M143.25 373.14V378.7M141.95 373.14h2.6M141.95 378.7h2.6M145.53 375.43V380.58M144.22 375.43h2.6M144.22 380.58h2.6M147.8 377.92V382.61M146.5 377.92h2.6M146.5 382.61h2.6M150.07 377.6V382.35M148.77 377.6h2.6M148.77 382.35h2.6M152.35 382.02V385.97M151.05 382.02h2.6M151.05 385.97h2.6M154.62 384.51V388.01M153.32 384.51h2.6M153.32 388.01h2.6M156.9 385.05V388.45M155.6 385.05h2.6M155.6 388.45h2.6M159.17 387.03V390.07M157.87 387.03h2.6M157.87 390.07h2.6M161.45 388.06V391.09M160.15 388.06h2.6M160.15 391.09h2.6M163.72 389.43V392.47M162.42 389.43h2.6M162.42 392.47h2.6M166 387.56V390.59M164.7 387.56h2.6M164.7 390.59h2.6M168.27 387.16V390.2M166.97 387.16h2.6M166.97 390.2h2.6M170.55 392.58V395.62M169.25 392.58h2.6M169.25 395.62h2.6M172.82 394.76V397.8M171.52 394.76h2.6M171.52 397.8h2.6M175.1 391.99V395.03M173.8 391.99h2.6M173.8 395.03h2.6M177.38 389.34V392.38M176.07 389.34h2.6M176.07 392.38h2.6M179.65 389.83V392.87M178.35 389.83h2.6M178.35 392.87h2.6M181.92 397.65V400.69M180.62 397.65h2.6M180.62 400.69h2.6M184.2 395.5V398.54M182.9 395.5h2.6M182.9 398.54h2.6M186.47 392.06V395.09M185.17 392.06h2.6M185.17 395.09h2.6M188.75 395.77V398.81M187.45 395.77h2.6M187.45 398.81h2.6M191.02 396.31V399.35M189.72 396.31h2.6M189.72 399.35h2.6M193.3 395.67V398.71M192 395.67h2.6M192 398.71h2.6M195.57 395.13V398.17M194.27 395.13h2.6M194.27 398.17h2.6M197.85 394.12V397.16M196.55 394.12h2.6M196.55 397.16h2.6M200.12 395.58V398.62M198.82 395.58h2.6M198.82 398.62h2.6M202.4 396.78V399.82M201.1 396.78h2.6M201.1 399.82h2.6M204.67 398.88V401.92M203.37 398.88h2.6M203.37 401.92h2.6M206.95 398.42V401.46M205.65 398.42h2.6M205.65 401.46h2.6M209.22 397.17V400.21M207.92 397.17h2.6M207.92 400.21h2.6M211.5 397.65V400.68M210.2 397.65h2.6M210.2 400.68h2.6M213.77 397.61V400.65M212.47 397.61h2.6M212.47 400.65h2.6M216.05 399.89V402.93M214.75 399.89h2.6M214.75 402.93h2.6M218.32 397.44V400.48M217.02 397.44h2.6M217.02 400.48h2.6M220.6 398.14V401.18M219.3 398.14h2.6M219.3 401.18h2.6M222.88 400.55V403.59M221.57 400.55h2.6M221.57 403.59h2.6M225.15 399.12V402.15M223.85 399.12h2.6M223.85 402.15h2.6M227.42 398.27V401.31M226.12 398.27h2.6M226.12 401.31h2.6M229.7 399.62V402.66M228.4 399.62h2.6M228.4 402.66h2.6M231.97 399V402.04M230.67 399h2.6M230.67 402.04h2.6M234.25 400.21V403.25M232.95 400.21h2.6M232.95 403.25h2.6M236.52 397.66V400.7M235.22 397.66h2.6M235.22 400.7h2.6M238.8 393.64V396.68M237.5 393.64h2.6M237.5 396.68h2.6M241.07 395.06V398.1M239.77 395.06h2.6M239.77 398.1h2.6M243.35 398.98V402.02M242.05 398.98h2.6M242.05 402.02h2.6" stroke="#a8a8a8" stroke-width="0.8" fill="none"/>
<path d="M38.6 402.23V403.75M37.3 402.23h2.6M37.3 403.75h2.6M40.88 399.58V402.62M39.58 399.58h2.6M39.58 402.62h2.6M43.15 376.37V382.67M41.85 376.37h2.6M41.85 382.67h2.6M45.42 320.18V339.41M44.12 320.18h2.6M44.12 339.41h2.6M47.7 288.82V315.26M46.4 288.82h2.6M46.4 315.26h2.6M49.98 279.76V308.29M48.68 279.76h2.6M48.68 308.29h2.6M52.25 271.59V302M50.95 271.59h2.6M50.95 302h2.6M54.52 264.67V296.67M53.23 264.67h2.6M53.23 296.67h2.6M56.8 275.77V305.22M55.5 275.77h2.6M55.5 305.22h2.6M59.08 280.45V308.82M57.78 280.45h2.6M57.78 308.82h2.6M61.35 284.61V312.02M60.05 284.61h2.6M60.05 312.02h2.6M63.62 290.67V316.69M62.33 290.67h2.6M62.33 316.69h2.6M65.9 299.84V323.75M64.6 299.84h2.6M64.6 323.75h2.6M68.17 309V330.8M66.88 309h2.6M66.88 330.8h2.6M70.45 310.54V331.99M69.15 310.54h2.6M69.15 331.99h2.6M72.72 320.91V339.97M71.42 320.91h2.6M71.42 339.97h2.6M75 322.28V341.03M73.7 322.28h2.6M73.7 341.03h2.6M77.28 327.32V344.91M75.98 327.32h2.6M75.98 344.91h2.6M79.55 331.16V347.87M78.25 331.16h2.6M78.25 347.87h2.6M81.83 332.38V348.8M80.53 332.38h2.6M80.53 348.8h2.6M84.1 336.3V351.82M82.8 336.3h2.6M82.8 351.82h2.6M86.38 338.85V353.78M85.08 338.85h2.6M85.08 353.78h2.6M88.65 341.71V355.98M87.35 341.71h2.6M87.35 355.98h2.6M90.92 342.26V356.41M89.62 342.26h2.6M89.62 356.41h2.6M93.2 345.02V358.53M91.9 345.02h2.6M91.9 358.53h2.6M95.47 348.39V361.13M94.17 348.39h2.6M94.17 361.13h2.6M97.75 349.78V362.2M96.45 349.78h2.6M96.45 362.2h2.6M100.03 352.51V364.3M98.73 352.51h2.6M98.73 364.3h2.6M102.3 351.98V363.89M101 351.98h2.6M101 363.89h2.6M104.57 356.42V367.31M103.27 356.42h2.6M103.27 367.31h2.6M106.85 356.37V367.27M105.55 356.37h2.6M105.55 367.27h2.6M109.12 358.79V369.13M107.83 358.79h2.6M107.83 369.13h2.6M111.4 358.19V368.68M110.1 358.19h2.6M110.1 368.68h2.6M113.68 362.51V372M112.38 362.51h2.6M112.38 372h2.6M115.95 363.27V372.59M114.65 363.27h2.6M114.65 372.59h2.6M118.22 362.27V371.81M116.92 362.27h2.6M116.92 371.81h2.6M120.5 363.71V372.92M119.2 363.71h2.6M119.2 372.92h2.6M122.78 366.04V374.71M121.48 366.04h2.6M121.48 374.71h2.6M125.05 367.74V376.03M123.75 367.74h2.6M123.75 376.03h2.6M127.32 370.3V377.99M126.02 370.3h2.6M126.02 377.99h2.6M129.6 366.9V375.38M128.3 366.9h2.6M128.3 375.38h2.6M131.88 367.8V376.07M130.57 367.8h2.6M130.57 376.07h2.6M134.15 372.87V379.98M132.85 372.87h2.6M132.85 379.98h2.6M136.43 374.29V381.07M135.12 374.29h2.6M135.12 381.07h2.6M138.7 374.55V381.27M137.4 374.55h2.6M137.4 381.27h2.6M140.97 376.41V382.7M139.67 376.41h2.6M139.67 382.7h2.6M143.25 379.95V385.42M141.95 379.95h2.6M141.95 385.42h2.6M145.53 379.97V385.44M144.22 379.97h2.6M144.22 385.44h2.6M147.8 382.21V387.17M146.5 382.21h2.6M146.5 387.17h2.6M150.07 382.04V387.04M148.77 382.04h2.6M148.77 387.04h2.6M152.35 384.9V389.24M151.05 384.9h2.6M151.05 389.24h2.6M154.62 383.78V388.37M153.32 383.78h2.6M153.32 388.37h2.6M156.9 385.26V389.52M155.6 385.26h2.6M155.6 389.52h2.6M159.17 388V391.62M157.87 388h2.6M157.87 391.62h2.6M161.45 387.55V391.28M160.15 387.55h2.6M160.15 391.28h2.6M163.72 390.82V393.85M162.42 390.82h2.6M162.42 393.85h2.6M166 390.25V393.36M164.7 390.25h2.6M164.7 393.36h2.6M168.27 387.08V390.91M166.97 387.08h2.6M166.97 390.91h2.6M170.55 391.11V394.15M169.25 391.11h2.6M169.25 394.15h2.6M172.82 396.37V399.4M171.52 396.37h2.6M171.52 399.4h2.6M175.1 394.38V397.42M173.8 394.38h2.6M173.8 397.42h2.6M177.38 395.56V398.6M176.07 395.56h2.6M176.07 398.6h2.6M179.65 395.11V398.15M178.35 395.11h2.6M178.35 398.15h2.6M181.92 392.98V396.02M180.62 392.98h2.6M180.62 396.02h2.6M184.2 394.79V397.83M182.9 394.79h2.6M182.9 397.83h2.6M186.47 397.11V400.15M185.17 397.11h2.6M185.17 400.15h2.6M188.75 397.6V400.64M187.45 397.6h2.6M187.45 400.64h2.6M191.02 395.61V398.65M189.72 395.61h2.6M189.72 398.65h2.6M193.3 391.69V394.73M192 391.69h2.6M192 394.73h2.6M195.57 395.01V398.05M194.27 395.01h2.6M194.27 398.05h2.6M197.85 397.92V400.96M196.55 397.92h2.6M196.55 400.96h2.6M200.12 398.23V401.27M198.82 398.23h2.6M198.82 401.27h2.6M202.4 398.25V401.28M201.1 398.25h2.6M201.1 401.28h2.6M204.67 398.08V401.12M203.37 398.08h2.6M203.37 401.12h2.6M206.95 395.68V398.72M205.65 395.68h2.6M205.65 398.72h2.6M209.22 392.73V395.77M207.92 392.73h2.6M207.92 395.77h2.6M211.5 395.62V398.66M210.2 395.62h2.6M210.2 398.66h2.6M213.77 396.94V399.98M212.47 396.94h2.6M212.47 399.98h2.6M216.05 395.55V398.59M214.75 395.55h2.6M214.75 398.59h2.6M218.32 393.46V396.5M217.02 393.46h2.6M217.02 396.5h2.6M220.6 398.77V401.8M219.3 398.77h2.6M219.3 401.8h2.6M222.88 398.59V401.63M221.57 398.59h2.6M221.57 401.63h2.6M225.15 398.91V401.95M223.85 398.91h2.6M223.85 401.95h2.6M227.42 398.24V401.28M226.12 398.24h2.6M226.12 401.28h2.6M229.7 400.18V403.22M228.4 400.18h2.6M228.4 403.22h2.6M231.97 397.75V400.79M230.67 397.75h2.6M230.67 400.79h2.6M234.25 400.35V403.39M232.95 400.35h2.6M232.95 403.39h2.6M236.52 401.09V403.75M235.22 401.09h2.6M235.22 403.75h2.6M238.8 399.16V402.2M237.5 399.16h2.6M237.5 402.2h2.6M241.07 400.38V403.42M239.77 400.38h2.6M239.77 403.42h2.6M243.35 399.13V402.17M242.05 399.13h2.6M242.05 402.17h2.6" stroke="#a8a8a8" stroke-width="0.8" fill="none"/>
<path d="M38.6 402.53V403.75M37.3 402.53h2.6M37.3 403.75h2.6M40.88 397.95V400.38M39.58 397.95h2.6M39.58 400.38h2.6M43.15 381.54V386.3M41.85 381.54h2.6M41.85 386.3h2.6M45.42 353.12V363.97M44.12 353.12h2.6M44.12 363.97h2.6M47.7 318.78V336.99M46.4 318.78h2.6M46.4 336.99h2.6M49.98 307.13V327.83M48.68 307.13h2.6M48.68 327.83h2.6M52.25 301.82V323.66M50.95 301.82h2.6M50.95 323.66h2.6M54.52 301.52V323.42M53.23 301.52h2.6M53.23 323.42h2.6M56.8 299.92V322.17M55.5 299.92h2.6M55.5 322.17h2.6M59.08 302.41V324.12M57.78 302.41h2.6M57.78 324.12h2.6M61.35 308.98V329.28M60.05 308.98h2.6M60.05 329.28h2.6M63.62 314.21V333.4M62.33 314.21h2.6M62.33 333.4h2.6M65.9 321.15V338.85M64.6 321.15h2.6M64.6 338.85h2.6M68.17 330.26V346.01M66.88 330.26h2.6M66.88 346.01h2.6M70.45 332.81V348.01M69.15 332.81h2.6M69.15 348.01h2.6M72.72 338.97V352.85M71.42 338.97h2.6M71.42 352.85h2.6M75 341.15V354.57M73.7 341.15h2.6M73.7 354.57h2.6M77.28 344.6V357.28M75.98 344.6h2.6M75.98 357.28h2.6M79.55 345V357.59M78.25 345h2.6M78.25 357.59h2.6M81.83 345.42V357.92M80.53 345.42h2.6M80.53 357.92h2.6M84.1 346.8V359M82.8 346.8h2.6M82.8 359h2.6M86.38 348.09V360.02M85.08 348.09h2.6M85.08 360.02h2.6M88.65 351.36V362.59M87.35 351.36h2.6M87.35 362.59h2.6M90.92 354.36V364.95M89.62 354.36h2.6M89.62 364.95h2.6M93.2 356.57V366.68M91.9 356.57h2.6M91.9 366.68h2.6M95.47 354.88V365.35M94.17 354.88h2.6M94.17 365.35h2.6M97.75 359.06V368.64M96.45 359.06h2.6M96.45 368.64h2.6M100.03 362.68V371.48M98.73 362.68h2.6M98.73 371.48h2.6M102.3 365.65V373.81M101 365.65h2.6M101 373.81h2.6M104.57 367.58V375.33M103.27 367.58h2.6M103.27 375.33h2.6M106.85 368.2V375.82M105.55 368.2h2.6M105.55 375.82h2.6M109.12 370.04V377.26M107.83 370.04h2.6M107.83 377.26h2.6M111.4 372.71V379.36M110.1 372.71h2.6M110.1 379.36h2.6M113.68 371.41V378.34M112.38 371.41h2.6M112.38 378.34h2.6M115.95 373.18V379.73M114.65 373.18h2.6M114.65 379.73h2.6M118.22 374.29V380.6M116.92 374.29h2.6M116.92 380.6h2.6M120.5 376.07V382M119.2 376.07h2.6M119.2 382h2.6M122.78 377.88V383.42M121.48 377.88h2.6M121.48 383.42h2.6M125.05 379.69V384.84M123.75 379.69h2.6M123.75 384.84h2.6M127.32 381.54V386.3M126.02 381.54h2.6M126.02 386.3h2.6M129.6 384.04V388.26M128.3 384.04h2.6M128.3 388.26h2.6M131.88 381.91V386.59M130.57 381.91h2.6M130.57 386.59h2.6M134.15 382.81V387.3M132.85 382.81h2.6M132.85 387.3h2.6M136.43 384.75V388.82M135.12 384.75h2.6M135.12 388.82h2.6M138.7 387.09V390.66M137.4 387.09h2.6M137.4 390.66h2.6M140.97 385.39V389.33M139.67 385.39h2.6M139.67 389.33h2.6M143.25 389.29V392.39M141.95 389.29h2.6M141.95 392.39h2.6M145.53 390.33V393.2M144.22 390.33h2.6M144.22 393.2h2.6M147.8 388.49V391.76M146.5 388.49h2.6M146.5 391.76h2.6M150.07 392.64V395.07M148.77 392.64h2.6M148.77 395.07h2.6M152.35 393.27V395.7M151.05 393.27h2.6M151.05 395.7h2.6M154.62 391.27V393.94M153.32 391.27h2.6M153.32 393.94h2.6M156.9 392.44V394.87M155.6 392.44h2.6M155.6 394.87h2.6M159.17 393.62V396.05M157.87 393.62h2.6M157.87 396.05h2.6M161.45 393.96V396.39M160.15 393.96h2.6M160.15 396.39h2.6M163.72 395.61V398.04M162.42 395.61h2.6M162.42 398.04h2.6M166 397.21V399.64M164.7 397.21h2.6M164.7 399.64h2.6M168.27 397.95V400.38M166.97 397.95h2.6M166.97 400.38h2.6M170.55 396.3V398.73M169.25 396.3h2.6M169.25 398.73h2.6M172.82 395.57V398M171.52 395.57h2.6M171.52 398h2.6M175.1 398.44V400.87M173.8 398.44h2.6M173.8 400.87h2.6M177.38 399.26V401.69M176.07 399.26h2.6M176.07 401.69h2.6M179.65 399.65V402.08M178.35 399.65h2.6M178.35 402.08h2.6M181.92 398.88V401.31M180.62 398.88h2.6M180.62 401.31h2.6M184.2 400.8V403.23M182.9 400.8h2.6M182.9 403.23h2.6M186.47 399.18V401.61M185.17 399.18h2.6M185.17 401.61h2.6M188.75 399.18V401.61M187.45 399.18h2.6M187.45 401.61h2.6M191.02 399.29V401.72M189.72 399.29h2.6M189.72 401.72h2.6M193.3 398.48V400.91M192 398.48h2.6M192 400.91h2.6M195.57 398.03V400.46M194.27 398.03h2.6M194.27 400.46h2.6M197.85 401.96V403.75M196.55 401.96h2.6M196.55 403.75h2.6M200.12 400.01V402.44M198.82 400.01h2.6M198.82 402.44h2.6M202.4 401.78V403.75M201.1 401.78h2.6M201.1 403.75h2.6M204.67 399.83V402.27M203.37 399.83h2.6M203.37 402.27h2.6M206.95 399.01V401.44M205.65 399.01h2.6M205.65 401.44h2.6M209.22 398.26V400.69M207.92 398.26h2.6M207.92 400.69h2.6M211.5 400.05V402.49M210.2 400.05h2.6M210.2 402.49h2.6M213.77 401.77V403.75M212.47 401.77h2.6M212.47 403.75h2.6M216.05 398.43V400.86M214.75 398.43h2.6M214.75 400.86h2.6M218.32 398.83V401.26M217.02 398.83h2.6M217.02 401.26h2.6M220.6 400.12V402.55M219.3 400.12h2.6M219.3 402.55h2.6M222.88 401.02V403.45M221.57 401.02h2.6M221.57 403.45h2.6M225.15 398.23V400.66M223.85 398.23h2.6M223.85 400.66h2.6M227.42 397.89V400.32M226.12 397.89h2.6M226.12 400.32h2.6M229.7 400.64V403.07M228.4 400.64h2.6M228.4 403.07h2.6M231.97 401.54V403.75M230.67 401.54h2.6M230.67 403.75h2.6M234.25 400.5V402.93M232.95 400.5h2.6M232.95 402.93h2.6M236.52 401.58V403.75M235.22 401.58h2.6M235.22 403.75h2.6M238.8 401.1V403.53M237.5 401.1h2.6M237.5 403.53h2.6M241.07 401.65V403.75M239.77 401.65h2.6M239.77 403.75h2.6M243.35 402.01V403.75M242.05 402.01h2.6M242.05 403.75h2.6" stroke="#a8a8a8" stroke-width="0.8" fill="none"/>
<path d="M38.6 402.74V403.75M37.3 402.74h2.6M37.3 403.75h2.6M40.88 402.39V403.75M39.58 402.39h2.6M39.58 403.75h2.6M43.15 400.04V402.07M41.85 400.04h2.6M41.85 402.07h2.6M45.42 393.41V395.63M44.12 393.41h2.6M44.12 395.63h2.6M47.7 377.22V382.91M46.4 377.22h2.6M46.4 382.91h2.6M49.98 360.22V369.55M48.68 360.22h2.6M48.68 369.55h2.6M52.25 343.48V356.4M50.95 343.48h2.6M50.95 356.4h2.6M54.52 337.85V351.98M53.23 337.85h2.6M53.23 351.98h2.6M56.8 341.78V355.06M55.5 341.78h2.6M55.5 355.06h2.6M59.08 342.15V355.35M57.78 342.15h2.6M57.78 355.35h2.6M61.35 347.58V359.62M60.05 347.58h2.6M60.05 359.62h2.6M63.62 351.94V363.05M62.33 351.94h2.6M62.33 363.05h2.6M65.9 354.73V365.24M64.6 354.73h2.6M64.6 365.24h2.6M68.17 360.27V369.59M66.88 360.27h2.6M66.88 369.59h2.6M70.45 359.88V369.28M69.15 359.88h2.6M69.15 369.28h2.6M72.72 362.7V371.49M71.42 362.7h2.6M71.42 371.49h2.6M75 369.09V376.52M73.7 369.09h2.6M73.7 376.52h2.6M77.28 370.08V377.29M75.98 370.08h2.6M75.98 377.29h2.6M79.55 373.61V380.07M78.25 373.61h2.6M78.25 380.07h2.6M81.83 374.6V380.85M80.53 374.6h2.6M80.53 380.85h2.6M84.1 373.68V380.12M82.8 373.68h2.6M82.8 380.12h2.6M86.38 376.23V382.13M85.08 376.23h2.6M85.08 382.13h2.6M88.65 376.6V382.42M87.35 376.6h2.6M87.35 382.42h2.6M90.92 378.94V384.26M89.62 378.94h2.6M89.62 384.26h2.6M93.2 381.17V386.01M91.9 381.17h2.6M91.9 386.01h2.6M95.47 380.78V385.7M94.17 380.78h2.6M94.17 385.7h2.6M97.75 381.3V386.11M96.45 381.3h2.6M96.45 386.11h2.6M100.03 382.88V387.35M98.73 382.88h2.6M98.73 387.35h2.6M102.3 385.92V389.74M101 385.92h2.6M101 389.74h2.6M104.57 384.92V388.96M103.27 384.92h2.6M103.27 388.96h2.6M106.85 387.54V391.01M105.55 387.54h2.6M105.55 391.01h2.6M109.12 387.71V391.15M107.83 387.71h2.6M107.83 391.15h2.6M111.4 388.72V391.94M110.1 388.72h2.6M110.1 391.94h2.6M113.68 388.95V392.12M112.38 388.95h2.6M112.38 392.12h2.6M115.95 388.81V392.01M114.65 388.81h2.6M114.65 392.01h2.6M118.22 389.51V392.56M116.92 389.51h2.6M116.92 392.56h2.6M120.5 391.42V394.06M119.2 391.42h2.6M119.2 394.06h2.6M122.78 392.93V395.25M121.48 392.93h2.6M121.48 395.25h2.6M125.05 393.38V395.6M123.75 393.38h2.6M123.75 395.6h2.6M127.32 393.59V395.77M126.02 393.59h2.6M126.02 395.77h2.6M129.6 396.93V398.96M128.3 396.93h2.6M128.3 398.96h2.6M131.88 396.59V398.62M130.57 396.59h2.6M130.57 398.62h2.6M134.15 396.79V398.82M132.85 396.79h2.6M132.85 398.82h2.6M136.43 396.14V398.17M135.12 396.14h2.6M135.12 398.17h2.6M138.7 398.72V400.74M137.4 398.72h2.6M137.4 400.74h2.6M140.97 397.16V399.19M139.67 397.16h2.6M139.67 399.19h2.6M143.25 398.03V400.06M141.95 398.03h2.6M141.95 400.06h2.6M145.53 397.35V399.38M144.22 397.35h2.6M144.22 399.38h2.6M147.8 398.6V400.63M146.5 398.6h2.6M146.5 400.63h2.6M150.07 399.75V401.77M148.77 399.75h2.6M148.77 401.77h2.6M152.35 400.31V402.34M151.05 400.31h2.6M151.05 402.34h2.6M154.62 400.1V402.13M153.32 400.1h2.6M153.32 402.13h2.6M156.9 401.51V403.54M155.6 401.51h2.6M155.6 403.54h2.6M159.17 399.21V401.24M157.87 399.21h2.6M157.87 401.24h2.6M161.45 401.62V403.64M160.15 401.62h2.6M160.15 403.64h2.6M163.72 399.06V401.09M162.42 399.06h2.6M162.42 401.09h2.6M166 401.25V403.28M164.7 401.25h2.6M164.7 403.28h2.6M168.27 400.68V402.7M166.97 400.68h2.6M166.97 402.7h2.6M170.55 400.4V402.43M169.25 400.4h2.6M169.25 402.43h2.6M172.82 401.79V403.75M171.52 401.79h2.6M171.52 403.75h2.6M175.1 400.91V402.93M173.8 400.91h2.6M173.8 402.93h2.6M177.38 402.14V403.75M176.07 402.14h2.6M176.07 403.75h2.6M179.65 402.24V403.75M178.35 402.24h2.6M178.35 403.75h2.6M181.92 401.88V403.75M180.62 401.88h2.6M180.62 403.75h2.6M184.2 401.29V403.32M182.9 401.29h2.6M182.9 403.32h2.6M186.47 400.56V402.58M185.17 400.56h2.6M185.17 402.58h2.6M188.75 402.74V403.75M187.45 402.74h2.6M187.45 403.75h2.6M191.02 401.1V403.12M189.72 401.1h2.6M189.72 403.12h2.6M193.3 401.53V403.56M192 401.53h2.6M192 403.56h2.6M195.57 401.69V403.71M194.27 401.69h2.6M194.27 403.71h2.6M197.85 401.06V403.08M196.55 401.06h2.6M196.55 403.08h2.6M200.12 401.84V403.75M198.82 401.84h2.6M198.82 403.75h2.6M202.4 400.88V402.91M201.1 400.88h2.6M201.1 402.91h2.6M204.67 402.51V403.75M203.37 402.51h2.6M203.37 403.75h2.6M206.95 401.25V403.27M205.65 401.25h2.6M205.65 403.27h2.6M209.22 402.67V403.75M207.92 402.67h2.6M207.92 403.75h2.6M211.5 402.74V403.75M210.2 402.74h2.6M210.2 403.75h2.6M213.77 400.44V402.47M212.47 400.44h2.6M212.47 402.47h2.6M216.05 401.26V403.29M214.75 401.26h2.6M214.75 403.29h2.6M218.32 400.72V402.75M217.02 400.72h2.6M217.02 402.75h2.6M220.6 402.28V403.75M219.3 402.28h2.6M219.3 403.75h2.6M222.88 402.74V403.75M221.57 402.74h2.6M221.57 403.75h2.6M225.15 401.59V403.62M223.85 401.59h2.6M223.85 403.62h2.6M227.42 402.74V403.75M226.12 402.74h2.6M226.12 403.75h2.6M229.7 401.83V403.75M228.4 401.83h2.6M228.4 403.75h2.6M231.97 402.22V403.75M230.67 402.22h2.6M230.67 403.75h2.6M234.25 402.6V403.75M232.95 402.6h2.6M232.95 403.75h2.6M236.52 402.74V403.75M235.22 402.74h2.6M235.22 403.75h2.6M238.8 402.74V403.75M237.5 402.74h2.6M237.5 403.75h2.6M241.07 400.8V402.82M239.77 400.8h2.6M239.77 402.82h2.6M243.35 402.23V403.75M242.05 402.23h2.6M242.05 403.75h2.6" stroke="#a8a8a8" stroke-width="0.8" fill="none"/>
<path d="M38.6 402.74V403.75M37.3 402.74h2.6M37.3 403.75h2.6M40.88 402.44V403.75M39.58 402.44h2.6M39.58 403.75h2.6M43.15 400.77V402.79M41.85 400.77h2.6M41.85 402.79h2.6M45.42 400.66V402.68M44.12 400.66h2.6M44.12 402.68h2.6M47.7 392.57V394.96M46.4 392.57h2.6M46.4 394.96h2.6M49.98 382.45V387.01M48.68 382.45h2.6M48.68 387.01h2.6M52.25 372.8V379.43M50.95 372.8h2.6M50.95 379.43h2.6M54.52 367.5V375.27M53.23 367.5h2.6M53.23 375.27h2.6M56.8 361.9V370.87M55.5 361.9h2.6M55.5 370.87h2.6M59.08 363.91V372.45M57.78 363.91h2.6M57.78 372.45h2.6M61.35 368.14V375.77M60.05 368.14h2.6M60.05 375.77h2.6M63.62 367.91V375.59M62.33 367.91h2.6M62.33 375.59h2.6M65.9 371.81V378.65M64.6 371.81h2.6M64.6 378.65h2.6M68.17 376.08V382.01M66.88 376.08h2.6M66.88 382.01h2.6M70.45 380.04V385.12M69.15 380.04h2.6M69.15 385.12h2.6M72.72 381.81V386.51M71.42 381.81h2.6M71.42 386.51h2.6M75 381.17V386.01M73.7 381.17h2.6M73.7 386.01h2.6M77.28 382.53V387.07M75.98 382.53h2.6M75.98 387.07h2.6M79.55 384.51V388.64M78.25 384.51h2.6M78.25 388.64h2.6M81.83 386.12V389.9M80.53 386.12h2.6M80.53 389.9h2.6M84.1 387.15V390.7M82.8 387.15h2.6M82.8 390.7h2.6M86.38 388.15V391.49M85.08 388.15h2.6M85.08 391.49h2.6M88.65 389.79V392.78M87.35 389.79h2.6M87.35 392.78h2.6M90.92 391.91V394.45M89.62 391.91h2.6M89.62 394.45h2.6M93.2 393.85V395.97M91.9 393.85h2.6M91.9 395.97h2.6M95.47 394.03V396.11M94.17 394.03h2.6M94.17 396.11h2.6M97.75 394.48V396.51M96.45 394.48h2.6M96.45 396.51h2.6M100.03 396.25V398.27M98.73 396.25h2.6M98.73 398.27h2.6M102.3 395.22V397.25M101 395.22h2.6M101 397.25h2.6M104.57 395.15V397.18M103.27 395.15h2.6M103.27 397.18h2.6M106.85 395.76V397.79M105.55 395.76h2.6M105.55 397.79h2.6M109.12 397.56V399.58M107.83 397.56h2.6M107.83 399.58h2.6M111.4 395.87V397.89M110.1 395.87h2.6M110.1 397.89h2.6M113.68 398.27V400.29M112.38 398.27h2.6M112.38 400.29h2.6M115.95 397.4V399.43M114.65 397.4h2.6M114.65 399.43h2.6M118.22 398.48V400.5M116.92 398.48h2.6M116.92 400.5h2.6M120.5 397.5V399.53M119.2 397.5h2.6M119.2 399.53h2.6M122.78 397.93V399.96M121.48 397.93h2.6M121.48 399.96h2.6M125.05 398.78V400.8M123.75 398.78h2.6M123.75 400.8h2.6M127.32 398.63V400.65M126.02 398.63h2.6M126.02 400.65h2.6M129.6 399.86V401.89M128.3 399.86h2.6M128.3 401.89h2.6M131.88 400.86V402.89M130.57 400.86h2.6M130.57 402.89h2.6M134.15 400.98V403.01M132.85 400.98h2.6M132.85 403.01h2.6M136.43 401.15V403.18M135.12 401.15h2.6M135.12 403.18h2.6M138.7 399.41V401.44M137.4 399.41h2.6M137.4 401.44h2.6M140.97 400.59V402.62M139.67 400.59h2.6M139.67 402.62h2.6M143.25 400.07V402.1M141.95 400.07h2.6M141.95 402.1h2.6M145.53 400.47V402.5M144.22 400.47h2.6M144.22 402.5h2.6M147.8 402.41V403.75M146.5 402.41h2.6M146.5 403.75h2.6M150.07 399.6V401.63M148.77 399.6h2.6M148.77 401.63h2.6M152.35 401.1V403.13M151.05 401.1h2.6M151.05 403.13h2.6M154.62 401.85V403.75M153.32 401.85h2.6M153.32 403.75h2.6M156.9 402.35V403.75M155.6 402.35h2.6M155.6 403.75h2.6M159.17 401.95V403.75M157.87 401.95h2.6M157.87 403.75h2.6M161.45 400.73V402.76M160.15 400.73h2.6M160.15 402.76h2.6M163.72 402.22V403.75M162.42 402.22h2.6M162.42 403.75h2.6M166 402.74V403.75M164.7 402.74h2.6M164.7 403.75h2.6M168.27 402.01V403.75M166.97 402.01h2.6M166.97 403.75h2.6M170.55 401.02V403.04M169.25 401.02h2.6M169.25 403.04h2.6M172.82 402.17V403.75M171.52 402.17h2.6M171.52 403.75h2.6M175.1 400.99V403.02M173.8 400.99h2.6M173.8 403.02h2.6M177.38 402.42V403.75M176.07 402.42h2.6M176.07 403.75h2.6M179.65 401.72V403.75M178.35 401.72h2.6M178.35 403.75h2.6M181.92 401.64V403.66M180.62 401.64h2.6M180.62 403.66h2.6M184.2 402.74V403.75M182.9 402.74h2.6M182.9 403.75h2.6M186.47 402.23V403.75M185.17 402.23h2.6M185.17 403.75h2.6M188.75 402.24V403.75M187.45 402.24h2.6M187.45 403.75h2.6M191.02 402.25V403.75M189.72 402.25h2.6M189.72 403.75h2.6M193.3 402.25V403.75M192 402.25h2.6M192 403.75h2.6M195.57 402.26V403.75M194.27 402.26h2.6M194.27 403.75h2.6M197.85 402.27V403.75M196.55 402.27h2.6M196.55 403.75h2.6M200.12 402.28V403.75M198.82 402.28h2.6M198.82 403.75h2.6M202.4 402.29V403.75M201.1 402.29h2.6M201.1 403.75h2.6M204.67 402.3V403.75M203.37 402.3h2.6M203.37 403.75h2.6M206.95 402.3V403.75M205.65 402.3h2.6M205.65 403.75h2.6M209.22 402.31V403.75M207.92 402.31h2.6M207.92 403.75h2.6M211.5 402.32V403.75M210.2 402.32h2.6M210.2 403.75h2.6M213.77 402.33V403.75M212.47 402.33h2.6M212.47 403.75h2.6M216.05 402.34V403.75M214.75 402.34h2.6M214.75 403.75h2.6M218.32 402.34V403.75M217.02 402.34h2.6M217.02 403.75h2.6M220.6 402.35V403.75M219.3 402.35h2.6M219.3 403.75h2.6M222.88 402.36V403.75M221.57 402.36h2.6M221.57 403.75h2.6M225.15 402.37V403.75M223.85 402.37h2.6M223.85 403.75h2.6M227.42 402.38V403.75M226.12 402.38h2.6M226.12 403.75h2.6M229.7 402.38V403.75M228.4 402.38h2.6M228.4 403.75h2.6M231.97 402.39V403.75M230.67 402.39h2.6M230.67 403.75h2.6M234.25 402.4V403.75M232.95 402.4h2.6M232.95 403.75h2.6M236.52 402.41V403.75M235.22 402.41h2.6M235.22 403.75h2.6M238.8 402.42V403.75M237.5 402.42h2.6M237.5 403.75h2.6M241.07 402.42V403.75M239.77 402.42h2.6M239.77 403.75h2.6M243.35 402.43V403.75M242.05 402.43h2.6M242.05 403.75h2.6" stroke="#a8a8a8" stroke-width="0.8" fill="none"/>

<path d="M38.6 403.75L40.88 396.14L43.15 360.44L45.42 313.76L47.7 289.82L49.98 273.27L52.25 267.55L54.52 264.54L56.8 266.14L59.08 280.79L61.35 283.6L63.62 295.7L65.9 297.28L68.17 299.31L70.45 305.64L72.72 310.68L75 316.76L77.28 323.44L79.55 327.34L81.83 333.62L84.1 337.19L86.38 338.44L88.65 340.24L90.92 340.26L93.2 344.2L95.47 346.02L97.75 345.57L100.03 350.11L102.3 350.24L104.57 351.53L106.85 353.01L109.12 356.64L111.4 357.92L113.68 361.21L115.95 360.41L118.22 358.2L120.5 364.39L122.78 367.6L125.05 370.32L127.32 371.34L129.6 374.91L131.88 376.81L134.15 376.45L136.43 375.06L138.7 375.84L140.97 376.12L143.25 375.92L145.53 378L147.8 380.26L150.07 379.98L152.35 383.99L154.62 386.26L156.9 386.75L159.17 388.55L161.45 389.58L163.72 390.95L166 389.07L168.27 388.68L170.55 394.1L172.82 396.28L175.1 393.51L177.38 390.86L179.65 391.35L181.92 399.17L184.2 397.02L186.47 393.57L188.75 397.29L191.02 397.83L193.3 397.19L195.57 396.65L197.85 395.64L200.12 397.1L202.4 398.3L204.67 400.4L206.95 399.94L209.22 398.69L211.5 399.16L213.77 399.13L216.05 401.41L218.32 398.96L220.6 399.66L222.88 402.07L225.15 400.63L227.42 399.79L229.7 401.14L231.97 400.52L234.25 401.73L236.52 399.18L238.8 395.16L241.07 396.58L243.35 400.5" fill="none" stroke="#606060" stroke-width="1.0"/>
<path d="M38.6 403.75L40.88 401.1L43.15 379.52L45.42 329.79L47.7 302.04L49.98 294.02L52.25 286.79L54.52 280.67L56.8 290.5L59.08 294.64L61.35 298.32L63.62 303.68L65.9 311.79L68.17 319.9L70.45 321.27L72.72 330.44L75 331.66L77.28 336.12L79.55 339.51L81.83 340.59L84.1 344.06L86.38 346.32L88.65 348.84L90.92 349.33L93.2 351.77L95.47 354.76L97.75 355.99L100.03 358.41L102.3 357.94L104.57 361.86L106.85 361.82L109.12 363.96L111.4 363.44L113.68 367.26L115.95 367.93L118.22 367.04L120.5 368.32L122.78 370.38L125.05 371.88L127.32 374.15L129.6 371.14L131.88 371.93L134.15 376.42L136.43 377.68L138.7 377.91L140.97 379.55L143.25 382.68L145.53 382.71L147.8 384.69L150.07 384.54L152.35 387.07L154.62 386.08L156.9 387.39L159.17 389.81L161.45 389.41L163.72 392.34L166 391.8L168.27 388.99L170.55 392.63L172.82 397.89L175.1 395.9L177.38 397.08L179.65 396.63L181.92 394.5L184.2 396.31L186.47 398.63L188.75 399.12L191.02 397.13L193.3 393.21L195.57 396.53L197.85 399.44L200.12 399.75L202.4 399.76L204.67 399.6L206.95 397.2L209.22 394.25L211.5 397.14L213.77 398.46L216.05 397.07L218.32 394.98L220.6 400.29L222.88 400.11L225.15 400.43L227.42 399.76L229.7 401.7L231.97 399.27L234.25 401.87L236.52 402.6L238.8 400.68L241.07 401.9L243.35 400.65" fill="none" stroke="#606060" stroke-width="1.0"/>
<path d="M38.6 403.75L40.88 399.17L43.15 383.92L45.42 358.54L47.7 327.89L49.98 317.48L52.25 312.74L54.52 312.47L56.8 311.05L59.08 313.26L61.35 319.13L63.62 323.81L65.9 330L68.17 338.14L70.45 340.41L72.72 345.91L75 347.86L77.28 350.94L79.55 351.3L81.83 351.67L84.1 352.9L86.38 354.05L88.65 356.97L90.92 359.65L93.2 361.63L95.47 360.12L97.75 363.85L100.03 367.08L102.3 369.73L104.57 371.46L106.85 372.01L109.12 373.65L111.4 376.04L113.68 374.87L115.95 376.45L118.22 377.45L120.5 379.04L122.78 380.65L125.05 382.27L127.32 383.92L129.6 386.15L131.88 384.25L134.15 385.05L136.43 386.78L138.7 388.88L140.97 387.36L143.25 390.84L145.53 391.77L147.8 390.13L150.07 393.85L152.35 394.49L154.62 392.61L156.9 393.66L159.17 394.84L161.45 395.17L163.72 396.82L166 398.43L168.27 399.16L170.55 397.51L172.82 396.79L175.1 399.65L177.38 400.47L179.65 400.87L181.92 400.1L184.2 402.01L186.47 400.4L188.75 400.4L191.02 400.5L193.3 399.7L195.57 399.25L197.85 403.17L200.12 401.22L202.4 402.99L204.67 401.05L206.95 400.23L209.22 399.48L211.5 401.27L213.77 402.99L216.05 399.64L218.32 400.05L220.6 401.34L222.88 402.23L225.15 399.44L227.42 399.11L229.7 401.86L231.97 402.75L234.25 401.72L236.52 402.8L238.8 402.32L241.07 402.86L243.35 403.22" fill="none" stroke="#606060" stroke-width="1.0"/>
<path d="M38.6 403.75L40.88 403.41L43.15 401.05L45.42 394.52L47.7 380.06L49.98 364.88L52.25 349.94L54.52 344.92L56.8 348.42L59.08 348.75L61.35 353.6L63.62 357.5L65.9 359.98L68.17 364.93L70.45 364.58L72.72 367.09L75 372.8L77.28 373.69L79.55 376.84L81.83 377.72L84.1 376.9L86.38 379.18L88.65 379.51L90.92 381.6L93.2 383.59L95.47 383.24L97.75 383.7L100.03 385.12L102.3 387.83L104.57 386.94L106.85 389.28L109.12 389.43L111.4 390.33L113.68 390.54L115.95 390.41L118.22 391.03L120.5 392.74L122.78 394.09L125.05 394.49L127.32 394.68L129.6 397.94L131.88 397.6L134.15 397.81L136.43 397.16L138.7 399.73L140.97 398.17L143.25 399.04L145.53 398.37L147.8 399.62L150.07 400.76L152.35 401.33L154.62 401.12L156.9 402.53L159.17 400.23L161.45 402.63L163.72 400.07L166 402.27L168.27 401.69L170.55 401.41L172.82 402.81L175.1 401.92L177.38 403.16L179.65 403.25L181.92 402.89L184.2 402.31L186.47 401.57L188.75 403.75L191.02 402.11L193.3 402.54L195.57 402.7L197.85 402.07L200.12 402.85L202.4 401.89L204.67 403.52L206.95 402.26L209.22 403.68L211.5 403.75L213.77 401.45L216.05 402.28L218.32 401.73L220.6 403.3L222.88 403.75L225.15 402.6L227.42 403.75L229.7 402.84L231.97 403.23L234.25 403.61L236.52 403.75L238.8 403.75L241.07 401.81L243.35 403.24" fill="none" stroke="#606060" stroke-width="1.0"/>
<path d="M38.6 403.75L40.88 403.45L43.15 401.78L45.42 401.67L47.7 393.77L49.98 384.73L52.25 376.12L54.52 371.38L56.8 366.39L59.08 368.18L61.35 371.95L63.62 371.75L65.9 375.23L68.17 379.04L70.45 382.58L72.72 384.16L75 383.59L77.28 384.8L79.55 386.58L81.83 388.01L84.1 388.93L86.38 389.82L88.65 391.29L90.92 393.18L93.2 394.91L95.47 395.07L97.75 395.49L100.03 397.26L102.3 396.24L104.57 396.16L106.85 396.78L109.12 398.57L111.4 396.88L113.68 399.28L115.95 398.42L118.22 399.49L120.5 398.52L122.78 398.95L125.05 399.79L127.32 399.64L129.6 400.88L131.88 401.87L134.15 401.99L136.43 402.17L138.7 400.42L140.97 401.61L143.25 401.08L145.53 401.48L147.8 403.42L150.07 400.61L152.35 402.11L154.62 402.86L156.9 403.37L159.17 402.96L161.45 401.74L163.72 403.24L166 403.75L168.27 403.03L170.55 402.03L172.82 403.18L175.1 402.01L177.38 403.43L179.65 402.74L181.92 402.65L184.2 403.75L186.47 403.24L188.75 403.25L191.02 403.26L193.3 403.27L195.57 403.28L197.85 403.28L200.12 403.29L202.4 403.3L204.67 403.31L206.95 403.32L209.22 403.32L211.5 403.33L213.77 403.34L216.05 403.35L218.32 403.36L220.6 403.37L222.88 403.37L225.15 403.38L227.42 403.39L229.7 403.4L231.97 403.41L234.25 403.41L236.52 403.42L238.8 403.43L241.07 403.44L243.35 403.45" fill="none" stroke="#606060" stroke-width="1.0"/>
<path d="M38.6 403.75L40.88 403.75L43.15 403.75L45.42 403.75L47.7 403.75L49.98 403.75L52.25 403.75L54.52 403.75L56.8 403.75L59.08 403.75L61.35 403.75L63.62 403.75L65.9 403.75L68.17 403.75L70.45 403.75L72.72 403.75L75 403.75L77.28 403.75L79.55 403.75L81.83 403.75L84.1 403.75L86.38 403.75L88.65 403.75L90.92 403.75L93.2 403.75L95.47 403.75L97.75 403.75L100.03 403.75L102.3 403.75L104.57 403.75L106.85 403.75L109.12 403.75L111.4 403.75L113.68 403.75L115.95 403.75L118.22 403.75L120.5 403.75L122.78 403.75L125.05 403.75L127.32 403.75L129.6 403.75L131.88 403.75L134.15 403.75L136.43 403.75L138.7 403.75L140.97 403.75L143.25 403.75L145.53 403.75L147.8 403.75L150.07 403.75L152.35 403.75L154.62 403.75L156.9 403.75L159.17 403.75L161.45 403.75L163.72 403.75L166 403.75L168.27 403.75L170.55 403.75L172.82 403.75L175.1 403.75L177.38 403.75L179.65 403.75L181.92 403.75L184.2 403.75L186.47 403.75L188.75 403.75L191.02 403.75L193.3 403.75L195.57 403.75L197.85 403.75L200.12 403.75L202.4 403.75L204.67 403.75L206.95 403.75L209.22 403.75L211.5 403.75L213.77 403.75L216.05 403.75L218.32 403.75L220.6 403.75L222.88 403.75L225.15 403.75L227.42 403.75L229.7 403.75L231.97 403.75L234.25 403.75L236.52 403.75L238.8 403.75L241.07 403.75L243.35 403.75" fill="none" stroke="#404040" stroke-width="1.0"/>
<path d="M38.6 401.39L40.74 405.21L36.46 405.21Z" fill="#10107a" stroke="#080840" stroke-width="0.6"/>
<path d="M40.88 393.78L43.01 397.6L38.74 397.6Z" fill="#10107a" stroke="#080840" stroke-width="0.6"/>
<path d="M43.15 358.08L45.29 361.91L41.01 361.91Z" fill="#10107a" stroke="#080840" stroke-width="0.6"/>
<path d="M45.42 311.4L47.56 315.23L43.29 315.23Z" fill="#10107a" stroke="#080840" stroke-width="0.6"/>
<path d="M47.7 287.46L49.84 291.28L45.56 291.28Z" fill="#10107a" stroke="#080840" stroke-width="0.6"/>
<path d="M49.98 270.91L52.11 274.73L47.84 274.73Z" fill="#10107a" stroke="#080840" stroke-width="0.6"/>
<path d="M52.25 265.19L54.39 269.01L50.11 269.01Z" fill="#10107a" stroke="#080840" stroke-width="0.6"/>
<path d="M54.52 262.18L56.66 266.01L52.39 266.01Z" fill="#10107a" stroke="#080840" stroke-width="0.6"/>
<path d="M56.8 263.78L58.94 267.61L54.66 267.61Z" fill="#10107a" stroke="#080840" stroke-width="0.6"/>
<path d="M59.08 278.42L61.21 282.25L56.94 282.25Z" fill="#10107a" stroke="#080840" stroke-width="0.6"/>
<path d="M61.35 281.23L63.49 285.06L59.21 285.06Z" fill="#10107a" stroke="#080840" stroke-width="0.6"/>
<path d="M63.62 293.34L65.76 297.17L61.49 297.17Z" fill="#10107a" stroke="#080840" stroke-width="0.6"/>
<path d="M65.9 294.91L68.04 298.74L63.76 298.74Z" fill="#10107a" stroke="#080840" stroke-width="0.6"/>
<path d="M68.17 296.95L70.31 300.77L66.04 300.77Z" fill="#10107a" stroke="#080840" stroke-width="0.6"/>
<path d="M70.45 303.28L72.59 307.1L68.31 307.1Z" fill="#10107a" stroke="#080840" stroke-width="0.6"/>
<path d="M72.72 308.32L74.86 312.14L70.59 312.14Z" fill="#10107a" stroke="#080840" stroke-width="0.6"/>
<path d="M75 314.39L77.14 318.22L72.86 318.22Z" fill="#10107a" stroke="#080840" stroke-width="0.6"/>
<path d="M77.28 321.08L79.41 324.91L75.14 324.91Z" fill="#10107a" stroke="#080840" stroke-width="0.6"/>
<path d="M79.55 324.97L81.69 328.8L77.41 328.8Z" fill="#10107a" stroke="#080840" stroke-width="0.6"/>
<path d="M81.83 331.26L83.96 335.09L79.69 335.09Z" fill="#10107a" stroke="#080840" stroke-width="0.6"/>
<path d="M84.1 334.83L86.24 338.65L81.96 338.65Z" fill="#10107a" stroke="#080840" stroke-width="0.6"/>
<path d="M86.38 336.08L88.51 339.9L84.24 339.9Z" fill="#10107a" stroke="#080840" stroke-width="0.6"/>
<path d="M88.65 337.87L90.79 341.7L86.51 341.7Z" fill="#10107a" stroke="#080840" stroke-width="0.6"/>
<path d="M90.92 337.89L93.06 341.72L88.79 341.72Z" fill="#10107a" stroke="#080840" stroke-width="0.6"/>
<path d="M93.2 341.84L95.34 345.66L91.06 345.66Z" fill="#10107a" stroke="#080840" stroke-width="0.6"/>
<path d="M95.47 343.66L97.61 347.49L93.34 347.49Z" fill="#10107a" stroke="#080840" stroke-width="0.6"/>
<path d="M97.75 343.21L99.89 347.03L95.61 347.03Z" fill="#10107a" stroke="#080840" stroke-width="0.6"/>
<path d="M100.03 347.75L102.16 351.57L97.89 351.57Z" fill="#10107a" stroke="#080840" stroke-width="0.6"/>
<path d="M102.3 347.88L104.44 351.7L100.16 351.7Z" fill="#10107a" stroke="#080840" stroke-width="0.6"/>
<path d="M104.57 349.17L106.71 352.99L102.44 352.99Z" fill="#10107a" stroke="#080840" stroke-width="0.6"/>
<path d="M106.85 350.65L108.99 354.48L104.71 354.48Z" fill="#10107a" stroke="#080840" stroke-width="0.6"/>
<path d="M109.12 354.27L111.26 358.1L106.99 358.1Z" fill="#10107a" stroke="#080840" stroke-width="0.6"/>
<path d="M111.4 355.55L113.54 359.38L109.26 359.38Z" fill="#10107a" stroke="#080840" stroke-width="0.6"/>
<path d="M113.68 358.85L115.81 362.68L111.54 362.68Z" fill="#10107a" stroke="#080840" stroke-width="0.6"/>
<path d="M115.95 358.04L118.09 361.87L113.81 361.87Z" fill="#10107a" stroke="#080840" stroke-width="0.6"/>
<path d="M118.22 355.84L120.36 359.67L116.09 359.67Z" fill="#10107a" stroke="#080840" stroke-width="0.6"/>
<path d="M120.5 362.03L122.64 365.86L118.36 365.86Z" fill="#10107a" stroke="#080840" stroke-width="0.6"/>
<path d="M122.78 365.24L124.91 369.07L120.64 369.07Z" fill="#10107a" stroke="#080840" stroke-width="0.6"/>
<path d="M125.05 367.96L127.19 371.79L122.91 371.79Z" fill="#10107a" stroke="#080840" stroke-width="0.6"/>
<path d="M127.32 368.97L129.46 372.8L125.19 372.8Z" fill="#10107a" stroke="#080840" stroke-width="0.6"/>
<path d="M129.6 372.54L131.74 376.37L127.46 376.37Z" fill="#10107a" stroke="#080840" stroke-width="0.6"/>
<path d="M131.88 374.45L134.01 378.27L129.74 378.27Z" fill="#10107a" stroke="#080840" stroke-width="0.6"/>
<path d="M134.15 374.09L136.29 377.91L132.01 377.91Z" fill="#10107a" stroke="#080840" stroke-width="0.6"/>
<path d="M136.43 372.7L138.56 376.52L134.29 376.52Z" fill="#10107a" stroke="#080840" stroke-width="0.6"/>
<path d="M138.7 373.48L140.84 377.3L136.56 377.3Z" fill="#10107a" stroke="#080840" stroke-width="0.6"/>
<path d="M140.97 373.76L143.11 377.59L138.84 377.59Z" fill="#10107a" stroke="#080840" stroke-width="0.6"/>
<path d="M143.25 373.56L145.39 377.38L141.11 377.38Z" fill="#10107a" stroke="#080840" stroke-width="0.6"/>
<path d="M145.53 375.64L147.66 379.47L143.39 379.47Z" fill="#10107a" stroke="#080840" stroke-width="0.6"/>
<path d="M147.8 377.9L149.94 381.73L145.66 381.73Z" fill="#10107a" stroke="#080840" stroke-width="0.6"/>
<path d="M150.07 377.61L152.21 381.44L147.94 381.44Z" fill="#10107a" stroke="#080840" stroke-width="0.6"/>
<path d="M152.35 381.63L154.49 385.46L150.21 385.46Z" fill="#10107a" stroke="#080840" stroke-width="0.6"/>
<path d="M154.62 383.9L156.76 387.73L152.49 387.73Z" fill="#10107a" stroke="#080840" stroke-width="0.6"/>
<path d="M156.9 384.39L159.04 388.21L154.76 388.21Z" fill="#10107a" stroke="#080840" stroke-width="0.6"/>
<path d="M159.17 386.19L161.31 390.02L157.04 390.02Z" fill="#10107a" stroke="#080840" stroke-width="0.6"/>
<path d="M161.45 387.21L163.59 391.04L159.31 391.04Z" fill="#10107a" stroke="#080840" stroke-width="0.6"/>
<path d="M163.72 388.59L165.86 392.41L161.59 392.41Z" fill="#10107a" stroke="#080840" stroke-width="0.6"/>
<path d="M166 386.71L168.14 390.54L163.86 390.54Z" fill="#10107a" stroke="#080840" stroke-width="0.6"/>
<path d="M168.27 386.32L170.41 390.14L166.14 390.14Z" fill="#10107a" stroke="#080840" stroke-width="0.6"/>
<path d="M170.55 391.74L172.69 395.56L168.41 395.56Z" fill="#10107a" stroke="#080840" stroke-width="0.6"/>
<path d="M172.82 393.91L174.96 397.74L170.69 397.74Z" fill="#10107a" stroke="#080840" stroke-width="0.6"/>
<path d="M175.1 391.15L177.24 394.98L172.96 394.98Z" fill="#10107a" stroke="#080840" stroke-width="0.6"/>
<path d="M177.38 388.49L179.51 392.32L175.24 392.32Z" fill="#10107a" stroke="#080840" stroke-width="0.6"/>
<path d="M179.65 388.98L181.79 392.81L177.51 392.81Z" fill="#10107a" stroke="#080840" stroke-width="0.6"/>
<path d="M181.92 396.81L184.06 400.63L179.79 400.63Z" fill="#10107a" stroke="#080840" stroke-width="0.6"/>
<path d="M184.2 394.66L186.34 398.48L182.06 398.48Z" fill="#10107a" stroke="#080840" stroke-width="0.6"/>
<path d="M186.47 391.21L188.61 395.04L184.34 395.04Z" fill="#10107a" stroke="#080840" stroke-width="0.6"/>
<path d="M188.75 394.93L190.89 398.75L186.61 398.75Z" fill="#10107a" stroke="#080840" stroke-width="0.6"/>
<path d="M191.02 395.47L193.16 399.29L188.89 399.29Z" fill="#10107a" stroke="#080840" stroke-width="0.6"/>
<path d="M193.3 394.83L195.44 398.65L191.16 398.65Z" fill="#10107a" stroke="#080840" stroke-width="0.6"/>
<path d="M195.57 394.29L197.71 398.11L193.44 398.11Z" fill="#10107a" stroke="#080840" stroke-width="0.6"/>
<path d="M197.85 393.27L199.99 397.1L195.71 397.1Z" fill="#10107a" stroke="#080840" stroke-width="0.6"/>
<path d="M200.12 394.74L202.26 398.56L197.99 398.56Z" fill="#10107a" stroke="#080840" stroke-width="0.6"/>
<path d="M202.4 395.94L204.54 399.77L200.26 399.77Z" fill="#10107a" stroke="#080840" stroke-width="0.6"/>
<path d="M204.67 398.03L206.81 401.86L202.54 401.86Z" fill="#10107a" stroke="#080840" stroke-width="0.6"/>
<path d="M206.95 397.57L209.09 401.4L204.81 401.4Z" fill="#10107a" stroke="#080840" stroke-width="0.6"/>
<path d="M209.22 396.33L211.36 400.16L207.09 400.16Z" fill="#10107a" stroke="#080840" stroke-width="0.6"/>
<path d="M211.5 396.8L213.64 400.63L209.36 400.63Z" fill="#10107a" stroke="#080840" stroke-width="0.6"/>
<path d="M213.77 396.77L215.91 400.59L211.64 400.59Z" fill="#10107a" stroke="#080840" stroke-width="0.6"/>
<path d="M216.05 399.05L218.19 402.87L213.91 402.87Z" fill="#10107a" stroke="#080840" stroke-width="0.6"/>
<path d="M218.32 396.59L220.46 400.42L216.19 400.42Z" fill="#10107a" stroke="#080840" stroke-width="0.6"/>
<path d="M220.6 397.3L222.74 401.12L218.46 401.12Z" fill="#10107a" stroke="#080840" stroke-width="0.6"/>
<path d="M222.88 399.71L225.01 403.53L220.74 403.53Z" fill="#10107a" stroke="#080840" stroke-width="0.6"/>
<path d="M225.15 398.27L227.29 402.1L223.01 402.1Z" fill="#10107a" stroke="#080840" stroke-width="0.6"/>
<path d="M227.42 397.43L229.56 401.25L225.29 401.25Z" fill="#10107a" stroke="#080840" stroke-width="0.6"/>
<path d="M229.7 398.78L231.84 402.61L227.56 402.61Z" fill="#10107a" stroke="#080840" stroke-width="0.6"/>
<path d="M231.97 398.16L234.11 401.98L229.84 401.98Z" fill="#10107a" stroke="#080840" stroke-width="0.6"/>
<path d="M234.25 399.36L236.39 403.19L232.11 403.19Z" fill="#10107a" stroke="#080840" stroke-width="0.6"/>
<path d="M236.52 396.82L238.66 400.64L234.39 400.64Z" fill="#10107a" stroke="#080840" stroke-width="0.6"/>
<path d="M238.8 392.8L240.94 396.63L236.66 396.63Z" fill="#10107a" stroke="#080840" stroke-width="0.6"/>
<path d="M241.07 394.21L243.21 398.04L238.94 398.04Z" fill="#10107a" stroke="#080840" stroke-width="0.6"/>
<path d="M243.35 398.14L245.49 401.96L241.21 401.96Z" fill="#10107a" stroke="#080840" stroke-width="0.6"/>
<path d="M38.6 401.39L40.74 405.21L36.46 405.21Z" fill="#e01818" stroke="#901010" stroke-width="0.6"/>
<path d="M40.88 398.74L43.01 402.56L38.74 402.56Z" fill="#e01818" stroke="#901010" stroke-width="0.6"/>
<path d="M43.15 377.16L45.29 380.98L41.01 380.98Z" fill="#e01818" stroke="#901010" stroke-width="0.6"/>
<path d="M45.42 327.43L47.56 331.25L43.29 331.25Z" fill="#e01818" stroke="#901010" stroke-width="0.6"/>
<path d="M47.7 299.68L49.84 303.5L45.56 303.5Z" fill="#e01818" stroke="#901010" stroke-width="0.6"/>
<path d="M49.98 291.66L52.11 295.49L47.84 295.49Z" fill="#e01818" stroke="#901010" stroke-width="0.6"/>
<path d="M52.25 284.43L54.39 288.26L50.11 288.26Z" fill="#e01818" stroke="#901010" stroke-width="0.6"/>
<path d="M54.52 278.31L56.66 282.14L52.39 282.14Z" fill="#e01818" stroke="#901010" stroke-width="0.6"/>
<path d="M56.8 288.13L58.94 291.96L54.66 291.96Z" fill="#e01818" stroke="#901010" stroke-width="0.6"/>
<path d="M59.08 292.27L61.21 296.1L56.94 296.1Z" fill="#e01818" stroke="#901010" stroke-width="0.6"/>
<path d="M61.35 295.95L63.49 299.78L59.21 299.78Z" fill="#e01818" stroke="#901010" stroke-width="0.6"/>
<path d="M63.62 301.32L65.76 305.14L61.49 305.14Z" fill="#e01818" stroke="#901010" stroke-width="0.6"/>
<path d="M65.9 309.43L68.04 313.26L63.76 313.26Z" fill="#e01818" stroke="#901010" stroke-width="0.6"/>
<path d="M68.17 317.54L70.31 321.36L66.04 321.36Z" fill="#e01818" stroke="#901010" stroke-width="0.6"/>
<path d="M70.45 318.9L72.59 322.73L68.31 322.73Z" fill="#e01818" stroke="#901010" stroke-width="0.6"/>
<path d="M72.72 328.08L74.86 331.9L70.59 331.9Z" fill="#e01818" stroke="#901010" stroke-width="0.6"/>
<path d="M75 329.29L77.14 333.12L72.86 333.12Z" fill="#e01818" stroke="#901010" stroke-width="0.6"/>
<path d="M77.28 333.75L79.41 337.58L75.14 337.58Z" fill="#e01818" stroke="#901010" stroke-width="0.6"/>
<path d="M79.55 337.15L81.69 340.98L77.41 340.98Z" fill="#e01818" stroke="#901010" stroke-width="0.6"/>
<path d="M81.83 338.23L83.96 342.05L79.69 342.05Z" fill="#e01818" stroke="#901010" stroke-width="0.6"/>
<path d="M84.1 341.7L86.24 345.52L81.96 345.52Z" fill="#e01818" stroke="#901010" stroke-width="0.6"/>
<path d="M86.38 343.95L88.51 347.78L84.24 347.78Z" fill="#e01818" stroke="#901010" stroke-width="0.6"/>
<path d="M88.65 346.48L90.79 350.31L86.51 350.31Z" fill="#e01818" stroke="#901010" stroke-width="0.6"/>
<path d="M90.92 346.97L93.06 350.79L88.79 350.79Z" fill="#e01818" stroke="#901010" stroke-width="0.6"/>
<path d="M93.2 349.41L95.34 353.24L91.06 353.24Z" fill="#e01818" stroke="#901010" stroke-width="0.6"/>
<path d="M95.47 352.4L97.61 356.22L93.34 356.22Z" fill="#e01818" stroke="#901010" stroke-width="0.6"/>
<path d="M97.75 353.62L99.89 357.45L95.61 357.45Z" fill="#e01818" stroke="#901010" stroke-width="0.6"/>
<path d="M100.03 356.04L102.16 359.87L97.89 359.87Z" fill="#e01818" stroke="#901010" stroke-width="0.6"/>
<path d="M102.3 355.57L104.44 359.4L100.16 359.4Z" fill="#e01818" stroke="#901010" stroke-width="0.6"/>
<path d="M104.57 359.5L106.71 363.32L102.44 363.32Z" fill="#e01818" stroke="#901010" stroke-width="0.6"/>
<path d="M106.85 359.46L108.99 363.28L104.71 363.28Z" fill="#e01818" stroke="#901010" stroke-width="0.6"/>
<path d="M109.12 361.6L111.26 365.43L106.99 365.43Z" fill="#e01818" stroke="#901010" stroke-width="0.6"/>
<path d="M111.4 361.07L113.54 364.9L109.26 364.9Z" fill="#e01818" stroke="#901010" stroke-width="0.6"/>
<path d="M113.68 364.89L115.81 368.72L111.54 368.72Z" fill="#e01818" stroke="#901010" stroke-width="0.6"/>
<path d="M115.95 365.57L118.09 369.39L113.81 369.39Z" fill="#e01818" stroke="#901010" stroke-width="0.6"/>
<path d="M118.22 364.68L120.36 368.51L116.09 368.51Z" fill="#e01818" stroke="#901010" stroke-width="0.6"/>
<path d="M120.5 365.96L122.64 369.78L118.36 369.78Z" fill="#e01818" stroke="#901010" stroke-width="0.6"/>
<path d="M122.78 368.01L124.91 371.84L120.64 371.84Z" fill="#e01818" stroke="#901010" stroke-width="0.6"/>
<path d="M125.05 369.52L127.19 373.35L122.91 373.35Z" fill="#e01818" stroke="#901010" stroke-width="0.6"/>
<path d="M127.32 371.78L129.46 375.61L125.19 375.61Z" fill="#e01818" stroke="#901010" stroke-width="0.6"/>
<path d="M129.6 368.78L131.74 372.6L127.46 372.6Z" fill="#e01818" stroke="#901010" stroke-width="0.6"/>
<path d="M131.88 369.57L134.01 373.39L129.74 373.39Z" fill="#e01818" stroke="#901010" stroke-width="0.6"/>
<path d="M134.15 374.06L136.29 377.89L132.01 377.89Z" fill="#e01818" stroke="#901010" stroke-width="0.6"/>
<path d="M136.43 375.32L138.56 379.14L134.29 379.14Z" fill="#e01818" stroke="#901010" stroke-width="0.6"/>
<path d="M138.7 375.55L140.84 379.37L136.56 379.37Z" fill="#e01818" stroke="#901010" stroke-width="0.6"/>
<path d="M140.97 377.19L143.11 381.02L138.84 381.02Z" fill="#e01818" stroke="#901010" stroke-width="0.6"/>
<path d="M143.25 380.32L145.39 384.15L141.11 384.15Z" fill="#e01818" stroke="#901010" stroke-width="0.6"/>
<path d="M145.53 380.34L147.66 384.17L143.39 384.17Z" fill="#e01818" stroke="#901010" stroke-width="0.6"/>
<path d="M147.8 382.33L149.94 386.15L145.66 386.15Z" fill="#e01818" stroke="#901010" stroke-width="0.6"/>
<path d="M150.07 382.18L152.21 386L147.94 386Z" fill="#e01818" stroke="#901010" stroke-width="0.6"/>
<path d="M152.35 384.71L154.49 388.53L150.21 388.53Z" fill="#e01818" stroke="#901010" stroke-width="0.6"/>
<path d="M154.62 383.71L156.76 387.54L152.49 387.54Z" fill="#e01818" stroke="#901010" stroke-width="0.6"/>
<path d="M156.9 385.03L159.04 388.85L154.76 388.85Z" fill="#e01818" stroke="#901010" stroke-width="0.6"/>
<path d="M159.17 387.45L161.31 391.27L157.04 391.27Z" fill="#e01818" stroke="#901010" stroke-width="0.6"/>
<path d="M161.45 387.05L163.59 390.87L159.31 390.87Z" fill="#e01818" stroke="#901010" stroke-width="0.6"/>
<path d="M163.72 389.97L165.86 393.8L161.59 393.8Z" fill="#e01818" stroke="#901010" stroke-width="0.6"/>
<path d="M166 389.44L168.14 393.26L163.86 393.26Z" fill="#e01818" stroke="#901010" stroke-width="0.6"/>
<path d="M168.27 386.63L170.41 390.46L166.14 390.46Z" fill="#e01818" stroke="#901010" stroke-width="0.6"/>
<path d="M170.55 390.27L172.69 394.09L168.41 394.09Z" fill="#e01818" stroke="#901010" stroke-width="0.6"/>
<path d="M172.82 395.52L174.96 399.35L170.69 399.35Z" fill="#e01818" stroke="#901010" stroke-width="0.6"/>
<path d="M175.1 393.53L177.24 397.36L172.96 397.36Z" fill="#e01818" stroke="#901010" stroke-width="0.6"/>
<path d="M177.38 394.72L179.51 398.54L175.24 398.54Z" fill="#e01818" stroke="#901010" stroke-width="0.6"/>
<path d="M179.65 394.27L181.79 398.1L177.51 398.1Z" fill="#e01818" stroke="#901010" stroke-width="0.6"/>
<path d="M181.92 392.14L184.06 395.97L179.79 395.97Z" fill="#e01818" stroke="#901010" stroke-width="0.6"/>
<path d="M184.2 393.95L186.34 397.77L182.06 397.77Z" fill="#e01818" stroke="#901010" stroke-width="0.6"/>
<path d="M186.47 396.27L188.61 400.1L184.34 400.1Z" fill="#e01818" stroke="#901010" stroke-width="0.6"/>
<path d="M188.75 396.75L190.89 400.58L186.61 400.58Z" fill="#e01818" stroke="#901010" stroke-width="0.6"/>
<path d="M191.02 394.77L193.16 398.6L188.89 398.6Z" fill="#e01818" stroke="#901010" stroke-width="0.6"/>
<path d="M193.3 390.85L195.44 394.68L191.16 394.68Z" fill="#e01818" stroke="#901010" stroke-width="0.6"/>
<path d="M195.57 394.17L197.71 397.99L193.44 397.99Z" fill="#e01818" stroke="#901010" stroke-width="0.6"/>
<path d="M197.85 397.08L199.99 400.9L195.71 400.9Z" fill="#e01818" stroke="#901010" stroke-width="0.6"/>
<path d="M200.12 397.39L202.26 401.22L197.99 401.22Z" fill="#e01818" stroke="#901010" stroke-width="0.6"/>
<path d="M202.4 397.4L204.54 401.23L200.26 401.23Z" fill="#e01818" stroke="#901010" stroke-width="0.6"/>
<path d="M204.67 397.24L206.81 401.06L202.54 401.06Z" fill="#e01818" stroke="#901010" stroke-width="0.6"/>
<path d="M206.95 394.83L209.09 398.66L204.81 398.66Z" fill="#e01818" stroke="#901010" stroke-width="0.6"/>
<path d="M209.22 391.88L211.36 395.71L207.09 395.71Z" fill="#e01818" stroke="#901010" stroke-width="0.6"/>
<path d="M211.5 394.78L213.64 398.6L209.36 398.6Z" fill="#e01818" stroke="#901010" stroke-width="0.6"/>
<path d="M213.77 396.1L215.91 399.92L211.64 399.92Z" fill="#e01818" stroke="#901010" stroke-width="0.6"/>
<path d="M216.05 394.71L218.19 398.54L213.91 398.54Z" fill="#e01818" stroke="#901010" stroke-width="0.6"/>
<path d="M218.32 392.62L220.46 396.45L216.19 396.45Z" fill="#e01818" stroke="#901010" stroke-width="0.6"/>
<path d="M220.6 397.92L222.74 401.75L218.46 401.75Z" fill="#e01818" stroke="#901010" stroke-width="0.6"/>
<path d="M222.88 397.75L225.01 401.57L220.74 401.57Z" fill="#e01818" stroke="#901010" stroke-width="0.6"/>
<path d="M225.15 398.07L227.29 401.89L223.01 401.89Z" fill="#e01818" stroke="#901010" stroke-width="0.6"/>
<path d="M227.42 397.4L229.56 401.22L225.29 401.22Z" fill="#e01818" stroke="#901010" stroke-width="0.6"/>
<path d="M229.7 399.34L231.84 403.17L227.56 403.17Z" fill="#e01818" stroke="#901010" stroke-width="0.6"/>
<path d="M231.97 396.91L234.11 400.73L229.84 400.73Z" fill="#e01818" stroke="#901010" stroke-width="0.6"/>
<path d="M234.25 399.5L236.39 403.33L232.11 403.33Z" fill="#e01818" stroke="#901010" stroke-width="0.6"/>
<path d="M236.52 400.24L238.66 404.07L234.39 404.07Z" fill="#e01818" stroke="#901010" stroke-width="0.6"/>
<path d="M238.8 398.32L240.94 402.14L236.66 402.14Z" fill="#e01818" stroke="#901010" stroke-width="0.6"/>
<path d="M241.07 399.54L243.21 403.37L238.94 403.37Z" fill="#e01818" stroke="#901010" stroke-width="0.6"/>
<path d="M243.35 398.29L245.49 402.11L241.21 402.11Z" fill="#e01818" stroke="#901010" stroke-width="0.6"/>
<path d="M38.6 401.39L40.74 405.21L36.46 405.21Z" fill="#1f801f" stroke="#104010" stroke-width="0.6"/>
<path d="M40.88 396.8L43.01 400.63L38.74 400.63Z" fill="#1f801f" stroke="#104010" stroke-width="0.6"/>
<path d="M43.15 381.56L45.29 385.39L41.01 385.39Z" fill="#1f801f" stroke="#104010" stroke-width="0.6"/>
<path d="M45.42 356.18L47.56 360L43.29 360Z" fill="#1f801f" stroke="#104010" stroke-width="0.6"/>
<path d="M47.7 325.52L49.84 329.35L45.56 329.35Z" fill="#1f801f" stroke="#104010" stroke-width="0.6"/>
<path d="M49.98 315.12L52.11 318.94L47.84 318.94Z" fill="#1f801f" stroke="#104010" stroke-width="0.6"/>
<path d="M52.25 310.38L54.39 314.21L50.11 314.21Z" fill="#1f801f" stroke="#104010" stroke-width="0.6"/>
<path d="M54.52 310.11L56.66 313.93L52.39 313.93Z" fill="#1f801f" stroke="#104010" stroke-width="0.6"/>
<path d="M56.8 308.69L58.94 312.51L54.66 312.51Z" fill="#1f801f" stroke="#104010" stroke-width="0.6"/>
<path d="M59.08 310.9L61.21 314.73L56.94 314.73Z" fill="#1f801f" stroke="#104010" stroke-width="0.6"/>
<path d="M61.35 316.77L63.49 320.59L59.21 320.59Z" fill="#1f801f" stroke="#104010" stroke-width="0.6"/>
<path d="M63.62 321.44L65.76 325.27L61.49 325.27Z" fill="#1f801f" stroke="#104010" stroke-width="0.6"/>
<path d="M65.9 327.64L68.04 331.46L63.76 331.46Z" fill="#1f801f" stroke="#104010" stroke-width="0.6"/>
<path d="M68.17 335.77L70.31 339.6L66.04 339.6Z" fill="#1f801f" stroke="#104010" stroke-width="0.6"/>
<path d="M70.45 338.05L72.59 341.88L68.31 341.88Z" fill="#1f801f" stroke="#104010" stroke-width="0.6"/>
<path d="M72.72 343.55L74.86 347.37L70.59 347.37Z" fill="#1f801f" stroke="#104010" stroke-width="0.6"/>
<path d="M75 345.5L77.14 349.32L72.86 349.32Z" fill="#1f801f" stroke="#104010" stroke-width="0.6"/>
<path d="M77.28 348.58L79.41 352.4L75.14 352.4Z" fill="#1f801f" stroke="#104010" stroke-width="0.6"/>
<path d="M79.55 348.93L81.69 352.76L77.41 352.76Z" fill="#1f801f" stroke="#104010" stroke-width="0.6"/>
<path d="M81.83 349.31L83.96 353.14L79.69 353.14Z" fill="#1f801f" stroke="#104010" stroke-width="0.6"/>
<path d="M84.1 350.54L86.24 354.36L81.96 354.36Z" fill="#1f801f" stroke="#104010" stroke-width="0.6"/>
<path d="M86.38 351.69L88.51 355.52L84.24 355.52Z" fill="#1f801f" stroke="#104010" stroke-width="0.6"/>
<path d="M88.65 354.61L90.79 358.43L86.51 358.43Z" fill="#1f801f" stroke="#104010" stroke-width="0.6"/>
<path d="M90.92 357.29L93.06 361.12L88.79 361.12Z" fill="#1f801f" stroke="#104010" stroke-width="0.6"/>
<path d="M93.2 359.26L95.34 363.09L91.06 363.09Z" fill="#1f801f" stroke="#104010" stroke-width="0.6"/>
<path d="M95.47 357.75L97.61 361.58L93.34 361.58Z" fill="#1f801f" stroke="#104010" stroke-width="0.6"/>
<path d="M97.75 361.49L99.89 365.31L95.61 365.31Z" fill="#1f801f" stroke="#104010" stroke-width="0.6"/>
<path d="M100.03 364.72L102.16 368.54L97.89 368.54Z" fill="#1f801f" stroke="#104010" stroke-width="0.6"/>
<path d="M102.3 367.37L104.44 371.19L100.16 371.19Z" fill="#1f801f" stroke="#104010" stroke-width="0.6"/>
<path d="M104.57 369.09L106.71 372.92L102.44 372.92Z" fill="#1f801f" stroke="#104010" stroke-width="0.6"/>
<path d="M106.85 369.65L108.99 373.48L104.71 373.48Z" fill="#1f801f" stroke="#104010" stroke-width="0.6"/>
<path d="M109.12 371.29L111.26 375.11L106.99 375.11Z" fill="#1f801f" stroke="#104010" stroke-width="0.6"/>
<path d="M111.4 373.68L113.54 377.5L109.26 377.5Z" fill="#1f801f" stroke="#104010" stroke-width="0.6"/>
<path d="M113.68 372.51L115.81 376.34L111.54 376.34Z" fill="#1f801f" stroke="#104010" stroke-width="0.6"/>
<path d="M115.95 374.09L118.09 377.92L113.81 377.92Z" fill="#1f801f" stroke="#104010" stroke-width="0.6"/>
<path d="M118.22 375.09L120.36 378.91L116.09 378.91Z" fill="#1f801f" stroke="#104010" stroke-width="0.6"/>
<path d="M120.5 376.67L122.64 380.5L118.36 380.5Z" fill="#1f801f" stroke="#104010" stroke-width="0.6"/>
<path d="M122.78 378.29L124.91 382.11L120.64 382.11Z" fill="#1f801f" stroke="#104010" stroke-width="0.6"/>
<path d="M125.05 379.9L127.19 383.73L122.91 383.73Z" fill="#1f801f" stroke="#104010" stroke-width="0.6"/>
<path d="M127.32 381.55L129.46 385.38L125.19 385.38Z" fill="#1f801f" stroke="#104010" stroke-width="0.6"/>
<path d="M129.6 383.79L131.74 387.61L127.46 387.61Z" fill="#1f801f" stroke="#104010" stroke-width="0.6"/>
<path d="M131.88 381.89L134.01 385.71L129.74 385.71Z" fill="#1f801f" stroke="#104010" stroke-width="0.6"/>
<path d="M134.15 382.69L136.29 386.51L132.01 386.51Z" fill="#1f801f" stroke="#104010" stroke-width="0.6"/>
<path d="M136.43 384.42L138.56 388.25L134.29 388.25Z" fill="#1f801f" stroke="#104010" stroke-width="0.6"/>
<path d="M138.7 386.51L140.84 390.34L136.56 390.34Z" fill="#1f801f" stroke="#104010" stroke-width="0.6"/>
<path d="M140.97 385L143.11 388.82L138.84 388.82Z" fill="#1f801f" stroke="#104010" stroke-width="0.6"/>
<path d="M143.25 388.48L145.39 392.3L141.11 392.3Z" fill="#1f801f" stroke="#104010" stroke-width="0.6"/>
<path d="M145.53 389.4L147.66 393.23L143.39 393.23Z" fill="#1f801f" stroke="#104010" stroke-width="0.6"/>
<path d="M147.8 387.77L149.94 391.59L145.66 391.59Z" fill="#1f801f" stroke="#104010" stroke-width="0.6"/>
<path d="M150.07 391.49L152.21 395.31L147.94 395.31Z" fill="#1f801f" stroke="#104010" stroke-width="0.6"/>
<path d="M152.35 392.12L154.49 395.95L150.21 395.95Z" fill="#1f801f" stroke="#104010" stroke-width="0.6"/>
<path d="M154.62 390.24L156.76 394.07L152.49 394.07Z" fill="#1f801f" stroke="#104010" stroke-width="0.6"/>
<path d="M156.9 391.3L159.04 395.12L154.76 395.12Z" fill="#1f801f" stroke="#104010" stroke-width="0.6"/>
<path d="M159.17 392.48L161.31 396.3L157.04 396.3Z" fill="#1f801f" stroke="#104010" stroke-width="0.6"/>
<path d="M161.45 392.81L163.59 396.63L159.31 396.63Z" fill="#1f801f" stroke="#104010" stroke-width="0.6"/>
<path d="M163.72 394.46L165.86 398.28L161.59 398.28Z" fill="#1f801f" stroke="#104010" stroke-width="0.6"/>
<path d="M166 396.07L168.14 399.89L163.86 399.89Z" fill="#1f801f" stroke="#104010" stroke-width="0.6"/>
<path d="M168.27 396.8L170.41 400.63L166.14 400.63Z" fill="#1f801f" stroke="#104010" stroke-width="0.6"/>
<path d="M170.55 395.15L172.69 398.98L168.41 398.98Z" fill="#1f801f" stroke="#104010" stroke-width="0.6"/>
<path d="M172.82 394.42L174.96 398.25L170.69 398.25Z" fill="#1f801f" stroke="#104010" stroke-width="0.6"/>
<path d="M175.1 397.29L177.24 401.11L172.96 401.11Z" fill="#1f801f" stroke="#104010" stroke-width="0.6"/>
<path d="M177.38 398.11L179.51 401.93L175.24 401.93Z" fill="#1f801f" stroke="#104010" stroke-width="0.6"/>
<path d="M179.65 398.5L181.79 402.33L177.51 402.33Z" fill="#1f801f" stroke="#104010" stroke-width="0.6"/>
<path d="M181.92 397.73L184.06 401.56L179.79 401.56Z" fill="#1f801f" stroke="#104010" stroke-width="0.6"/>
<path d="M184.2 399.65L186.34 403.48L182.06 403.48Z" fill="#1f801f" stroke="#104010" stroke-width="0.6"/>
<path d="M186.47 398.04L188.61 401.86L184.34 401.86Z" fill="#1f801f" stroke="#104010" stroke-width="0.6"/>
<path d="M188.75 398.04L190.89 401.86L186.61 401.86Z" fill="#1f801f" stroke="#104010" stroke-width="0.6"/>
<path d="M191.02 398.14L193.16 401.97L188.89 401.97Z" fill="#1f801f" stroke="#104010" stroke-width="0.6"/>
<path d="M193.3 397.33L195.44 401.16L191.16 401.16Z" fill="#1f801f" stroke="#104010" stroke-width="0.6"/>
<path d="M195.57 396.88L197.71 400.71L193.44 400.71Z" fill="#1f801f" stroke="#104010" stroke-width="0.6"/>
<path d="M197.85 400.81L199.99 404.64L195.71 404.64Z" fill="#1f801f" stroke="#104010" stroke-width="0.6"/>
<path d="M200.12 398.86L202.26 402.69L197.99 402.69Z" fill="#1f801f" stroke="#104010" stroke-width="0.6"/>
<path d="M202.4 400.63L204.54 404.46L200.26 404.46Z" fill="#1f801f" stroke="#104010" stroke-width="0.6"/>
<path d="M204.67 398.69L206.81 402.51L202.54 402.51Z" fill="#1f801f" stroke="#104010" stroke-width="0.6"/>
<path d="M206.95 397.86L209.09 401.69L204.81 401.69Z" fill="#1f801f" stroke="#104010" stroke-width="0.6"/>
<path d="M209.22 397.11L211.36 400.94L207.09 400.94Z" fill="#1f801f" stroke="#104010" stroke-width="0.6"/>
<path d="M211.5 398.91L213.64 402.73L209.36 402.73Z" fill="#1f801f" stroke="#104010" stroke-width="0.6"/>
<path d="M213.77 400.63L215.91 404.45L211.64 404.45Z" fill="#1f801f" stroke="#104010" stroke-width="0.6"/>
<path d="M216.05 397.28L218.19 401.1L213.91 401.1Z" fill="#1f801f" stroke="#104010" stroke-width="0.6"/>
<path d="M218.32 397.69L220.46 401.51L216.19 401.51Z" fill="#1f801f" stroke="#104010" stroke-width="0.6"/>
<path d="M220.6 398.98L222.74 402.8L218.46 402.8Z" fill="#1f801f" stroke="#104010" stroke-width="0.6"/>
<path d="M222.88 399.87L225.01 403.7L220.74 403.7Z" fill="#1f801f" stroke="#104010" stroke-width="0.6"/>
<path d="M225.15 397.08L227.29 400.91L223.01 400.91Z" fill="#1f801f" stroke="#104010" stroke-width="0.6"/>
<path d="M227.42 396.75L229.56 400.57L225.29 400.57Z" fill="#1f801f" stroke="#104010" stroke-width="0.6"/>
<path d="M229.7 399.5L231.84 403.32L227.56 403.32Z" fill="#1f801f" stroke="#104010" stroke-width="0.6"/>
<path d="M231.97 400.39L234.11 404.22L229.84 404.22Z" fill="#1f801f" stroke="#104010" stroke-width="0.6"/>
<path d="M234.25 399.35L236.39 403.18L232.11 403.18Z" fill="#1f801f" stroke="#104010" stroke-width="0.6"/>
<path d="M236.52 400.43L238.66 404.26L234.39 404.26Z" fill="#1f801f" stroke="#104010" stroke-width="0.6"/>
<path d="M238.8 399.95L240.94 403.78L236.66 403.78Z" fill="#1f801f" stroke="#104010" stroke-width="0.6"/>
<path d="M241.07 400.5L243.21 404.32L238.94 404.32Z" fill="#1f801f" stroke="#104010" stroke-width="0.6"/>
<path d="M243.35 400.86L245.49 404.68L241.21 404.68Z" fill="#1f801f" stroke="#104010" stroke-width="0.6"/>
<path d="M38.6 401.44L40.69 405.18L36.51 405.18Z" fill="#6a1a8a" stroke="#3a0a50" stroke-width="0.6"/>
<path d="M40.88 401.1L42.97 404.84L38.78 404.84Z" fill="#6a1a8a" stroke="#3a0a50" stroke-width="0.6"/>
<path d="M43.15 398.74L45.24 402.48L41.06 402.48Z" fill="#6a1a8a" stroke="#3a0a50" stroke-width="0.6"/>
<path d="M45.42 392.21L47.52 395.95L43.33 395.95Z" fill="#6a1a8a" stroke="#3a0a50" stroke-width="0.6"/>
<path d="M47.7 377.75L49.79 381.49L45.61 381.49Z" fill="#6a1a8a" stroke="#3a0a50" stroke-width="0.6"/>
<path d="M49.98 362.57L52.06 366.31L47.89 366.31Z" fill="#6a1a8a" stroke="#3a0a50" stroke-width="0.6"/>
<path d="M52.25 347.63L54.34 351.37L50.16 351.37Z" fill="#6a1a8a" stroke="#3a0a50" stroke-width="0.6"/>
<path d="M54.52 342.61L56.61 346.35L52.44 346.35Z" fill="#6a1a8a" stroke="#3a0a50" stroke-width="0.6"/>
<path d="M56.8 346.11L58.89 349.85L54.71 349.85Z" fill="#6a1a8a" stroke="#3a0a50" stroke-width="0.6"/>
<path d="M59.08 346.44L61.17 350.18L56.98 350.18Z" fill="#6a1a8a" stroke="#3a0a50" stroke-width="0.6"/>
<path d="M61.35 351.29L63.44 355.03L59.26 355.03Z" fill="#6a1a8a" stroke="#3a0a50" stroke-width="0.6"/>
<path d="M63.62 355.19L65.72 358.93L61.53 358.93Z" fill="#6a1a8a" stroke="#3a0a50" stroke-width="0.6"/>
<path d="M65.9 357.67L67.99 361.41L63.81 361.41Z" fill="#6a1a8a" stroke="#3a0a50" stroke-width="0.6"/>
<path d="M68.17 362.62L70.27 366.36L66.08 366.36Z" fill="#6a1a8a" stroke="#3a0a50" stroke-width="0.6"/>
<path d="M70.45 362.27L72.54 366.01L68.36 366.01Z" fill="#6a1a8a" stroke="#3a0a50" stroke-width="0.6"/>
<path d="M72.72 364.78L74.81 368.52L70.63 368.52Z" fill="#6a1a8a" stroke="#3a0a50" stroke-width="0.6"/>
<path d="M75 370.49L77.09 374.23L72.91 374.23Z" fill="#6a1a8a" stroke="#3a0a50" stroke-width="0.6"/>
<path d="M77.28 371.38L79.37 375.12L75.19 375.12Z" fill="#6a1a8a" stroke="#3a0a50" stroke-width="0.6"/>
<path d="M79.55 374.53L81.64 378.27L77.46 378.27Z" fill="#6a1a8a" stroke="#3a0a50" stroke-width="0.6"/>
<path d="M81.83 375.41L83.92 379.15L79.73 379.15Z" fill="#6a1a8a" stroke="#3a0a50" stroke-width="0.6"/>
<path d="M84.1 374.59L86.19 378.33L82.01 378.33Z" fill="#6a1a8a" stroke="#3a0a50" stroke-width="0.6"/>
<path d="M86.38 376.87L88.47 380.61L84.28 380.61Z" fill="#6a1a8a" stroke="#3a0a50" stroke-width="0.6"/>
<path d="M88.65 377.2L90.74 380.94L86.56 380.94Z" fill="#6a1a8a" stroke="#3a0a50" stroke-width="0.6"/>
<path d="M90.92 379.29L93.02 383.03L88.83 383.03Z" fill="#6a1a8a" stroke="#3a0a50" stroke-width="0.6"/>
<path d="M93.2 381.28L95.29 385.02L91.11 385.02Z" fill="#6a1a8a" stroke="#3a0a50" stroke-width="0.6"/>
<path d="M95.47 380.93L97.56 384.67L93.38 384.67Z" fill="#6a1a8a" stroke="#3a0a50" stroke-width="0.6"/>
<path d="M97.75 381.39L99.84 385.13L95.66 385.13Z" fill="#6a1a8a" stroke="#3a0a50" stroke-width="0.6"/>
<path d="M100.03 382.81L102.12 386.55L97.94 386.55Z" fill="#6a1a8a" stroke="#3a0a50" stroke-width="0.6"/>
<path d="M102.3 385.52L104.39 389.26L100.21 389.26Z" fill="#6a1a8a" stroke="#3a0a50" stroke-width="0.6"/>
<path d="M104.57 384.63L106.66 388.37L102.48 388.37Z" fill="#6a1a8a" stroke="#3a0a50" stroke-width="0.6"/>
<path d="M106.85 386.97L108.94 390.71L104.76 390.71Z" fill="#6a1a8a" stroke="#3a0a50" stroke-width="0.6"/>
<path d="M109.12 387.12L111.22 390.86L107.03 390.86Z" fill="#6a1a8a" stroke="#3a0a50" stroke-width="0.6"/>
<path d="M111.4 388.02L113.49 391.76L109.31 391.76Z" fill="#6a1a8a" stroke="#3a0a50" stroke-width="0.6"/>
<path d="M113.68 388.23L115.77 391.97L111.59 391.97Z" fill="#6a1a8a" stroke="#3a0a50" stroke-width="0.6"/>
<path d="M115.95 388.1L118.04 391.84L113.86 391.84Z" fill="#6a1a8a" stroke="#3a0a50" stroke-width="0.6"/>
<path d="M118.22 388.72L120.31 392.46L116.13 392.46Z" fill="#6a1a8a" stroke="#3a0a50" stroke-width="0.6"/>
<path d="M120.5 390.43L122.59 394.17L118.41 394.17Z" fill="#6a1a8a" stroke="#3a0a50" stroke-width="0.6"/>
<path d="M122.78 391.78L124.87 395.52L120.69 395.52Z" fill="#6a1a8a" stroke="#3a0a50" stroke-width="0.6"/>
<path d="M125.05 392.18L127.14 395.92L122.96 395.92Z" fill="#6a1a8a" stroke="#3a0a50" stroke-width="0.6"/>
<path d="M127.32 392.37L129.41 396.11L125.23 396.11Z" fill="#6a1a8a" stroke="#3a0a50" stroke-width="0.6"/>
<path d="M129.6 395.63L131.69 399.37L127.51 399.37Z" fill="#6a1a8a" stroke="#3a0a50" stroke-width="0.6"/>
<path d="M131.88 395.29L133.97 399.03L129.78 399.03Z" fill="#6a1a8a" stroke="#3a0a50" stroke-width="0.6"/>
<path d="M134.15 395.5L136.24 399.24L132.06 399.24Z" fill="#6a1a8a" stroke="#3a0a50" stroke-width="0.6"/>
<path d="M136.43 394.85L138.52 398.59L134.34 398.59Z" fill="#6a1a8a" stroke="#3a0a50" stroke-width="0.6"/>
<path d="M138.7 397.42L140.79 401.16L136.61 401.16Z" fill="#6a1a8a" stroke="#3a0a50" stroke-width="0.6"/>
<path d="M140.97 395.86L143.06 399.6L138.88 399.6Z" fill="#6a1a8a" stroke="#3a0a50" stroke-width="0.6"/>
<path d="M143.25 396.73L145.34 400.47L141.16 400.47Z" fill="#6a1a8a" stroke="#3a0a50" stroke-width="0.6"/>
<path d="M145.53 396.06L147.62 399.8L143.44 399.8Z" fill="#6a1a8a" stroke="#3a0a50" stroke-width="0.6"/>
<path d="M147.8 397.31L149.89 401.05L145.71 401.05Z" fill="#6a1a8a" stroke="#3a0a50" stroke-width="0.6"/>
<path d="M150.07 398.45L152.16 402.19L147.98 402.19Z" fill="#6a1a8a" stroke="#3a0a50" stroke-width="0.6"/>
<path d="M152.35 399.02L154.44 402.76L150.26 402.76Z" fill="#6a1a8a" stroke="#3a0a50" stroke-width="0.6"/>
<path d="M154.62 398.81L156.72 402.55L152.53 402.55Z" fill="#6a1a8a" stroke="#3a0a50" stroke-width="0.6"/>
<path d="M156.9 400.22L158.99 403.96L154.81 403.96Z" fill="#6a1a8a" stroke="#3a0a50" stroke-width="0.6"/>
<path d="M159.17 397.92L161.26 401.66L157.08 401.66Z" fill="#6a1a8a" stroke="#3a0a50" stroke-width="0.6"/>
<path d="M161.45 400.32L163.54 404.06L159.36 404.06Z" fill="#6a1a8a" stroke="#3a0a50" stroke-width="0.6"/>
<path d="M163.72 397.76L165.81 401.5L161.63 401.5Z" fill="#6a1a8a" stroke="#3a0a50" stroke-width="0.6"/>
<path d="M166 399.96L168.09 403.7L163.91 403.7Z" fill="#6a1a8a" stroke="#3a0a50" stroke-width="0.6"/>
<path d="M168.27 399.38L170.36 403.12L166.18 403.12Z" fill="#6a1a8a" stroke="#3a0a50" stroke-width="0.6"/>
<path d="M170.55 399.1L172.64 402.84L168.46 402.84Z" fill="#6a1a8a" stroke="#3a0a50" stroke-width="0.6"/>
<path d="M172.82 400.5L174.91 404.24L170.73 404.24Z" fill="#6a1a8a" stroke="#3a0a50" stroke-width="0.6"/>
<path d="M175.1 399.61L177.19 403.35L173.01 403.35Z" fill="#6a1a8a" stroke="#3a0a50" stroke-width="0.6"/>
<path d="M177.38 400.85L179.47 404.59L175.28 404.59Z" fill="#6a1a8a" stroke="#3a0a50" stroke-width="0.6"/>
<path d="M179.65 400.94L181.74 404.68L177.56 404.68Z" fill="#6a1a8a" stroke="#3a0a50" stroke-width="0.6"/>
<path d="M181.92 400.58L184.01 404.32L179.83 404.32Z" fill="#6a1a8a" stroke="#3a0a50" stroke-width="0.6"/>
<path d="M184.2 400L186.29 403.74L182.11 403.74Z" fill="#6a1a8a" stroke="#3a0a50" stroke-width="0.6"/>
<path d="M186.47 399.26L188.56 403L184.38 403Z" fill="#6a1a8a" stroke="#3a0a50" stroke-width="0.6"/>
<path d="M188.75 401.44L190.84 405.18L186.66 405.18Z" fill="#6a1a8a" stroke="#3a0a50" stroke-width="0.6"/>
<path d="M191.02 399.8L193.11 403.54L188.93 403.54Z" fill="#6a1a8a" stroke="#3a0a50" stroke-width="0.6"/>
<path d="M193.3 400.23L195.39 403.97L191.21 403.97Z" fill="#6a1a8a" stroke="#3a0a50" stroke-width="0.6"/>
<path d="M195.57 400.39L197.66 404.13L193.48 404.13Z" fill="#6a1a8a" stroke="#3a0a50" stroke-width="0.6"/>
<path d="M197.85 399.76L199.94 403.5L195.76 403.5Z" fill="#6a1a8a" stroke="#3a0a50" stroke-width="0.6"/>
<path d="M200.12 400.54L202.22 404.28L198.03 404.28Z" fill="#6a1a8a" stroke="#3a0a50" stroke-width="0.6"/>
<path d="M202.4 399.58L204.49 403.32L200.31 403.32Z" fill="#6a1a8a" stroke="#3a0a50" stroke-width="0.6"/>
<path d="M204.67 401.21L206.76 404.95L202.58 404.95Z" fill="#6a1a8a" stroke="#3a0a50" stroke-width="0.6"/>
<path d="M206.95 399.95L209.04 403.69L204.86 403.69Z" fill="#6a1a8a" stroke="#3a0a50" stroke-width="0.6"/>
<path d="M209.22 401.37L211.31 405.11L207.13 405.11Z" fill="#6a1a8a" stroke="#3a0a50" stroke-width="0.6"/>
<path d="M211.5 401.44L213.59 405.18L209.41 405.18Z" fill="#6a1a8a" stroke="#3a0a50" stroke-width="0.6"/>
<path d="M213.77 399.14L215.86 402.88L211.68 402.88Z" fill="#6a1a8a" stroke="#3a0a50" stroke-width="0.6"/>
<path d="M216.05 399.97L218.14 403.71L213.96 403.71Z" fill="#6a1a8a" stroke="#3a0a50" stroke-width="0.6"/>
<path d="M218.32 399.42L220.41 403.16L216.23 403.16Z" fill="#6a1a8a" stroke="#3a0a50" stroke-width="0.6"/>
<path d="M220.6 400.99L222.69 404.73L218.51 404.73Z" fill="#6a1a8a" stroke="#3a0a50" stroke-width="0.6"/>
<path d="M222.88 401.44L224.97 405.18L220.78 405.18Z" fill="#6a1a8a" stroke="#3a0a50" stroke-width="0.6"/>
<path d="M225.15 400.29L227.24 404.03L223.06 404.03Z" fill="#6a1a8a" stroke="#3a0a50" stroke-width="0.6"/>
<path d="M227.42 401.44L229.51 405.18L225.33 405.18Z" fill="#6a1a8a" stroke="#3a0a50" stroke-width="0.6"/>
<path d="M229.7 400.53L231.79 404.27L227.61 404.27Z" fill="#6a1a8a" stroke="#3a0a50" stroke-width="0.6"/>
<path d="M231.97 400.92L234.06 404.66L229.88 404.66Z" fill="#6a1a8a" stroke="#3a0a50" stroke-width="0.6"/>
<path d="M234.25 401.3L236.34 405.04L232.16 405.04Z" fill="#6a1a8a" stroke="#3a0a50" stroke-width="0.6"/>
<path d="M236.52 401.44L238.61 405.18L234.43 405.18Z" fill="#6a1a8a" stroke="#3a0a50" stroke-width="0.6"/>
<path d="M238.8 401.44L240.89 405.18L236.71 405.18Z" fill="#6a1a8a" stroke="#3a0a50" stroke-width="0.6"/>
<path d="M241.07 399.5L243.16 403.24L238.98 403.24Z" fill="#6a1a8a" stroke="#3a0a50" stroke-width="0.6"/>
<path d="M243.35 400.93L245.44 404.67L241.26 404.67Z" fill="#6a1a8a" stroke="#3a0a50" stroke-width="0.6"/>
<path d="M38.6 401.44L40.69 405.18L36.51 405.18Z" fill="#e07050" stroke="#b04030" stroke-width="0.6"/>
<path d="M40.88 401.14L42.97 404.88L38.78 404.88Z" fill="#e07050" stroke="#b04030" stroke-width="0.6"/>
<path d="M43.15 399.47L45.24 403.21L41.06 403.21Z" fill="#e07050" stroke="#b04030" stroke-width="0.6"/>
<path d="M45.42 399.36L47.52 403.1L43.33 403.1Z" fill="#e07050" stroke="#b04030" stroke-width="0.6"/>
<path d="M47.7 391.46L49.79 395.2L45.61 395.2Z" fill="#e07050" stroke="#b04030" stroke-width="0.6"/>
<path d="M49.98 382.42L52.06 386.16L47.89 386.16Z" fill="#e07050" stroke="#b04030" stroke-width="0.6"/>
<path d="M52.25 373.81L54.34 377.55L50.16 377.55Z" fill="#e07050" stroke="#b04030" stroke-width="0.6"/>
<path d="M54.52 369.07L56.61 372.81L52.44 372.81Z" fill="#e07050" stroke="#b04030" stroke-width="0.6"/>
<path d="M56.8 364.08L58.89 367.82L54.71 367.82Z" fill="#e07050" stroke="#b04030" stroke-width="0.6"/>
<path d="M59.08 365.87L61.17 369.61L56.98 369.61Z" fill="#e07050" stroke="#b04030" stroke-width="0.6"/>
<path d="M61.35 369.64L63.44 373.38L59.26 373.38Z" fill="#e07050" stroke="#b04030" stroke-width="0.6"/>
<path d="M63.62 369.44L65.72 373.18L61.53 373.18Z" fill="#e07050" stroke="#b04030" stroke-width="0.6"/>
<path d="M65.9 372.92L67.99 376.66L63.81 376.66Z" fill="#e07050" stroke="#b04030" stroke-width="0.6"/>
<path d="M68.17 376.73L70.27 380.47L66.08 380.47Z" fill="#e07050" stroke="#b04030" stroke-width="0.6"/>
<path d="M70.45 380.27L72.54 384.01L68.36 384.01Z" fill="#e07050" stroke="#b04030" stroke-width="0.6"/>
<path d="M72.72 381.85L74.81 385.59L70.63 385.59Z" fill="#e07050" stroke="#b04030" stroke-width="0.6"/>
<path d="M75 381.28L77.09 385.02L72.91 385.02Z" fill="#e07050" stroke="#b04030" stroke-width="0.6"/>
<path d="M77.28 382.49L79.37 386.23L75.19 386.23Z" fill="#e07050" stroke="#b04030" stroke-width="0.6"/>
<path d="M79.55 384.27L81.64 388.01L77.46 388.01Z" fill="#e07050" stroke="#b04030" stroke-width="0.6"/>
<path d="M81.83 385.7L83.92 389.44L79.73 389.44Z" fill="#e07050" stroke="#b04030" stroke-width="0.6"/>
<path d="M84.1 386.62L86.19 390.36L82.01 390.36Z" fill="#e07050" stroke="#b04030" stroke-width="0.6"/>
<path d="M86.38 387.51L88.47 391.25L84.28 391.25Z" fill="#e07050" stroke="#b04030" stroke-width="0.6"/>
<path d="M88.65 388.98L90.74 392.72L86.56 392.72Z" fill="#e07050" stroke="#b04030" stroke-width="0.6"/>
<path d="M90.92 390.87L93.02 394.61L88.83 394.61Z" fill="#e07050" stroke="#b04030" stroke-width="0.6"/>
<path d="M93.2 392.6L95.29 396.34L91.11 396.34Z" fill="#e07050" stroke="#b04030" stroke-width="0.6"/>
<path d="M95.47 392.76L97.56 396.5L93.38 396.5Z" fill="#e07050" stroke="#b04030" stroke-width="0.6"/>
<path d="M97.75 393.18L99.84 396.92L95.66 396.92Z" fill="#e07050" stroke="#b04030" stroke-width="0.6"/>
<path d="M100.03 394.95L102.12 398.69L97.94 398.69Z" fill="#e07050" stroke="#b04030" stroke-width="0.6"/>
<path d="M102.3 393.93L104.39 397.67L100.21 397.67Z" fill="#e07050" stroke="#b04030" stroke-width="0.6"/>
<path d="M104.57 393.85L106.66 397.59L102.48 397.59Z" fill="#e07050" stroke="#b04030" stroke-width="0.6"/>
<path d="M106.85 394.47L108.94 398.21L104.76 398.21Z" fill="#e07050" stroke="#b04030" stroke-width="0.6"/>
<path d="M109.12 396.26L111.22 400L107.03 400Z" fill="#e07050" stroke="#b04030" stroke-width="0.6"/>
<path d="M111.4 394.57L113.49 398.31L109.31 398.31Z" fill="#e07050" stroke="#b04030" stroke-width="0.6"/>
<path d="M113.68 396.97L115.77 400.71L111.59 400.71Z" fill="#e07050" stroke="#b04030" stroke-width="0.6"/>
<path d="M115.95 396.11L118.04 399.85L113.86 399.85Z" fill="#e07050" stroke="#b04030" stroke-width="0.6"/>
<path d="M118.22 397.18L120.31 400.92L116.13 400.92Z" fill="#e07050" stroke="#b04030" stroke-width="0.6"/>
<path d="M120.5 396.21L122.59 399.95L118.41 399.95Z" fill="#e07050" stroke="#b04030" stroke-width="0.6"/>
<path d="M122.78 396.64L124.87 400.38L120.69 400.38Z" fill="#e07050" stroke="#b04030" stroke-width="0.6"/>
<path d="M125.05 397.48L127.14 401.22L122.96 401.22Z" fill="#e07050" stroke="#b04030" stroke-width="0.6"/>
<path d="M127.32 397.33L129.41 401.07L125.23 401.07Z" fill="#e07050" stroke="#b04030" stroke-width="0.6"/>
<path d="M129.6 398.57L131.69 402.31L127.51 402.31Z" fill="#e07050" stroke="#b04030" stroke-width="0.6"/>
<path d="M131.88 399.56L133.97 403.3L129.78 403.3Z" fill="#e07050" stroke="#b04030" stroke-width="0.6"/>
<path d="M134.15 399.68L136.24 403.42L132.06 403.42Z" fill="#e07050" stroke="#b04030" stroke-width="0.6"/>
<path d="M136.43 399.86L138.52 403.6L134.34 403.6Z" fill="#e07050" stroke="#b04030" stroke-width="0.6"/>
<path d="M138.7 398.11L140.79 401.85L136.61 401.85Z" fill="#e07050" stroke="#b04030" stroke-width="0.6"/>
<path d="M140.97 399.3L143.06 403.04L138.88 403.04Z" fill="#e07050" stroke="#b04030" stroke-width="0.6"/>
<path d="M143.25 398.77L145.34 402.51L141.16 402.51Z" fill="#e07050" stroke="#b04030" stroke-width="0.6"/>
<path d="M145.53 399.17L147.62 402.91L143.44 402.91Z" fill="#e07050" stroke="#b04030" stroke-width="0.6"/>
<path d="M147.8 401.11L149.89 404.85L145.71 404.85Z" fill="#e07050" stroke="#b04030" stroke-width="0.6"/>
<path d="M150.07 398.3L152.16 402.04L147.98 402.04Z" fill="#e07050" stroke="#b04030" stroke-width="0.6"/>
<path d="M152.35 399.8L154.44 403.54L150.26 403.54Z" fill="#e07050" stroke="#b04030" stroke-width="0.6"/>
<path d="M154.62 400.55L156.72 404.29L152.53 404.29Z" fill="#e07050" stroke="#b04030" stroke-width="0.6"/>
<path d="M156.9 401.06L158.99 404.8L154.81 404.8Z" fill="#e07050" stroke="#b04030" stroke-width="0.6"/>
<path d="M159.17 400.65L161.26 404.39L157.08 404.39Z" fill="#e07050" stroke="#b04030" stroke-width="0.6"/>
<path d="M161.45 399.43L163.54 403.17L159.36 403.17Z" fill="#e07050" stroke="#b04030" stroke-width="0.6"/>
<path d="M163.72 400.93L165.81 404.67L161.63 404.67Z" fill="#e07050" stroke="#b04030" stroke-width="0.6"/>
<path d="M166 401.44L168.09 405.18L163.91 405.18Z" fill="#e07050" stroke="#b04030" stroke-width="0.6"/>
<path d="M168.27 400.72L170.36 404.46L166.18 404.46Z" fill="#e07050" stroke="#b04030" stroke-width="0.6"/>
<path d="M170.55 399.72L172.64 403.46L168.46 403.46Z" fill="#e07050" stroke="#b04030" stroke-width="0.6"/>
<path d="M172.82 400.87L174.91 404.61L170.73 404.61Z" fill="#e07050" stroke="#b04030" stroke-width="0.6"/>
<path d="M175.1 399.7L177.19 403.44L173.01 403.44Z" fill="#e07050" stroke="#b04030" stroke-width="0.6"/>
<path d="M177.38 401.12L179.47 404.86L175.28 404.86Z" fill="#e07050" stroke="#b04030" stroke-width="0.6"/>
<path d="M179.65 400.43L181.74 404.17L177.56 404.17Z" fill="#e07050" stroke="#b04030" stroke-width="0.6"/>
<path d="M181.92 400.34L184.01 404.08L179.83 404.08Z" fill="#e07050" stroke="#b04030" stroke-width="0.6"/>
<path d="M184.2 401.44L186.29 405.18L182.11 405.18Z" fill="#e07050" stroke="#b04030" stroke-width="0.6"/>
<path d="M186.47 400.93L188.56 404.67L184.38 404.67Z" fill="#e07050" stroke="#b04030" stroke-width="0.6"/>
<path d="M188.75 400.94L190.84 404.68L186.66 404.68Z" fill="#e07050" stroke="#b04030" stroke-width="0.6"/>
<path d="M191.02 400.95L193.11 404.69L188.93 404.69Z" fill="#e07050" stroke="#b04030" stroke-width="0.6"/>
<path d="M193.3 400.96L195.39 404.7L191.21 404.7Z" fill="#e07050" stroke="#b04030" stroke-width="0.6"/>
<path d="M195.57 400.97L197.66 404.71L193.48 404.71Z" fill="#e07050" stroke="#b04030" stroke-width="0.6"/>
<path d="M197.85 400.97L199.94 404.71L195.76 404.71Z" fill="#e07050" stroke="#b04030" stroke-width="0.6"/>
<path d="M200.12 400.98L202.22 404.72L198.03 404.72Z" fill="#e07050" stroke="#b04030" stroke-width="0.6"/>
<path d="M202.4 400.99L204.49 404.73L200.31 404.73Z" fill="#e07050" stroke="#b04030" stroke-width="0.6"/>
<path d="M204.67 401L206.76 404.74L202.58 404.74Z" fill="#e07050" stroke="#b04030" stroke-width="0.6"/>
<path d="M206.95 401.01L209.04 404.75L204.86 404.75Z" fill="#e07050" stroke="#b04030" stroke-width="0.6"/>
<path d="M209.22 401.01L211.31 404.75L207.13 404.75Z" fill="#e07050" stroke="#b04030" stroke-width="0.6"/>
<path d="M211.5 401.02L213.59 404.76L209.41 404.76Z" fill="#e07050" stroke="#b04030" stroke-width="0.6"/>
<path d="M213.77 401.03L215.86 404.77L211.68 404.77Z" fill="#e07050" stroke="#b04030" stroke-width="0.6"/>
<path d="M216.05 401.04L218.14 404.78L213.96 404.78Z" fill="#e07050" stroke="#b04030" stroke-width="0.6"/>
<path d="M218.32 401.05L220.41 404.79L216.23 404.79Z" fill="#e07050" stroke="#b04030" stroke-width="0.6"/>
<path d="M220.6 401.06L222.69 404.8L218.51 404.8Z" fill="#e07050" stroke="#b04030" stroke-width="0.6"/>
<path d="M222.88 401.06L224.97 404.8L220.78 404.8Z" fill="#e07050" stroke="#b04030" stroke-width="0.6"/>
<path d="M225.15 401.07L227.24 404.81L223.06 404.81Z" fill="#e07050" stroke="#b04030" stroke-width="0.6"/>
<path d="M227.42 401.08L229.51 404.82L225.33 404.82Z" fill="#e07050" stroke="#b04030" stroke-width="0.6"/>
<path d="M229.7 401.09L231.79 404.83L227.61 404.83Z" fill="#e07050" stroke="#b04030" stroke-width="0.6"/>
<path d="M231.97 401.1L234.06 404.84L229.88 404.84Z" fill="#e07050" stroke="#b04030" stroke-width="0.6"/>
<path d="M234.25 401.1L236.34 404.84L232.16 404.84Z" fill="#e07050" stroke="#b04030" stroke-width="0.6"/>
<path d="M236.52 401.11L238.61 404.85L234.43 404.85Z" fill="#e07050" stroke="#b04030" stroke-width="0.6"/>
<path d="M238.8 401.12L240.89 404.86L236.71 404.86Z" fill="#e07050" stroke="#b04030" stroke-width="0.6"/>
<path d="M241.07 401.13L243.16 404.87L238.98 404.87Z" fill="#e07050" stroke="#b04030" stroke-width="0.6"/>
<path d="M243.35 401.14L245.44 404.88L241.26 404.88Z" fill="#e07050" stroke="#b04030" stroke-width="0.6"/>
<path d="M38.6 401.44L40.69 405.18L36.51 405.18Z" fill="#a8a8a8" stroke="#3c3c3c" stroke-width="0.6"/>
<path d="M40.88 401.44L42.97 405.18L38.78 405.18Z" fill="#a8a8a8" stroke="#3c3c3c" stroke-width="0.6"/>
<path d="M43.15 401.44L45.24 405.18L41.06 405.18Z" fill="#a8a8a8" stroke="#3c3c3c" stroke-width="0.6"/>
<path d="M45.42 401.44L47.52 405.18L43.33 405.18Z" fill="#a8a8a8" stroke="#3c3c3c" stroke-width="0.6"/>
<path d="M47.7 401.44L49.79 405.18L45.61 405.18Z" fill="#a8a8a8" stroke="#3c3c3c" stroke-width="0.6"/>
<path d="M49.98 401.44L52.06 405.18L47.89 405.18Z" fill="#a8a8a8" stroke="#3c3c3c" stroke-width="0.6"/>
<path d="M52.25 401.44L54.34 405.18L50.16 405.18Z" fill="#a8a8a8" stroke="#3c3c3c" stroke-width="0.6"/>
<path d="M54.52 401.44L56.61 405.18L52.44 405.18Z" fill="#a8a8a8" stroke="#3c3c3c" stroke-width="0.6"/>
<path d="M56.8 401.44L58.89 405.18L54.71 405.18Z" fill="#a8a8a8" stroke="#3c3c3c" stroke-width="0.6"/>
<path d="M59.08 401.44L61.17 405.18L56.98 405.18Z" fill="#a8a8a8" stroke="#3c3c3c" stroke-width="0.6"/>
<path d="M61.35 401.44L63.44 405.18L59.26 405.18Z" fill="#a8a8a8" stroke="#3c3c3c" stroke-width="0.6"/>
<path d="M63.62 401.44L65.72 405.18L61.53 405.18Z" fill="#a8a8a8" stroke="#3c3c3c" stroke-width="0.6"/>
<path d="M65.9 401.44L67.99 405.18L63.81 405.18Z" fill="#a8a8a8" stroke="#3c3c3c" stroke-width="0.6"/>
<path d="M68.17 401.44L70.27 405.18L66.08 405.18Z" fill="#a8a8a8" stroke="#3c3c3c" stroke-width="0.6"/>
<path d="M70.45 401.44L72.54 405.18L68.36 405.18Z" fill="#a8a8a8" stroke="#3c3c3c" stroke-width="0.6"/>
<path d="M72.72 401.44L74.81 405.18L70.63 405.18Z" fill="#a8a8a8" stroke="#3c3c3c" stroke-width="0.6"/>
<path d="M75 401.44L77.09 405.18L72.91 405.18Z" fill="#a8a8a8" stroke="#3c3c3c" stroke-width="0.6"/>
<path d="M77.28 401.44L79.37 405.18L75.19 405.18Z" fill="#a8a8a8" stroke="#3c3c3c" stroke-width="0.6"/>
<path d="M79.55 401.44L81.64 405.18L77.46 405.18Z" fill="#a8a8a8" stroke="#3c3c3c" stroke-width="0.6"/>
<path d="M81.83 401.44L83.92 405.18L79.73 405.18Z" fill="#a8a8a8" stroke="#3c3c3c" stroke-width="0.6"/>
<path d="M84.1 401.44L86.19 405.18L82.01 405.18Z" fill="#a8a8a8" stroke="#3c3c3c" stroke-width="0.6"/>
<path d="M86.38 401.44L88.47 405.18L84.28 405.18Z" fill="#a8a8a8" stroke="#3c3c3c" stroke-width="0.6"/>
<path d="M88.65 401.44L90.74 405.18L86.56 405.18Z" fill="#a8a8a8" stroke="#3c3c3c" stroke-width="0.6"/>
<path d="M90.92 401.44L93.02 405.18L88.83 405.18Z" fill="#a8a8a8" stroke="#3c3c3c" stroke-width="0.6"/>
<path d="M93.2 401.44L95.29 405.18L91.11 405.18Z" fill="#a8a8a8" stroke="#3c3c3c" stroke-width="0.6"/>
<path d="M95.47 401.44L97.56 405.18L93.38 405.18Z" fill="#a8a8a8" stroke="#3c3c3c" stroke-width="0.6"/>
<path d="M97.75 401.44L99.84 405.18L95.66 405.18Z" fill="#a8a8a8" stroke="#3c3c3c" stroke-width="0.6"/>
<path d="M100.03 401.44L102.12 405.18L97.94 405.18Z" fill="#a8a8a8" stroke="#3c3c3c" stroke-width="0.6"/>
<path d="M102.3 401.44L104.39 405.18L100.21 405.18Z" fill="#a8a8a8" stroke="#3c3c3c" stroke-width="0.6"/>
<path d="M104.57 401.44L106.66 405.18L102.48 405.18Z" fill="#a8a8a8" stroke="#3c3c3c" stroke-width="0.6"/>
<path d="M106.85 401.44L108.94 405.18L104.76 405.18Z" fill="#a8a8a8" stroke="#3c3c3c" stroke-width="0.6"/>
<path d="M109.12 401.44L111.22 405.18L107.03 405.18Z" fill="#a8a8a8" stroke="#3c3c3c" stroke-width="0.6"/>
<path d="M111.4 401.44L113.49 405.18L109.31 405.18Z" fill="#a8a8a8" stroke="#3c3c3c" stroke-width="0.6"/>
<path d="M113.68 401.44L115.77 405.18L111.59 405.18Z" fill="#a8a8a8" stroke="#3c3c3c" stroke-width="0.6"/>
<path d="M115.95 401.44L118.04 405.18L113.86 405.18Z" fill="#a8a8a8" stroke="#3c3c3c" stroke-width="0.6"/>
<path d="M118.22 401.44L120.31 405.18L116.13 405.18Z" fill="#a8a8a8" stroke="#3c3c3c" stroke-width="0.6"/>
<path d="M120.5 401.44L122.59 405.18L118.41 405.18Z" fill="#a8a8a8" stroke="#3c3c3c" stroke-width="0.6"/>
<path d="M122.78 401.44L124.87 405.18L120.69 405.18Z" fill="#a8a8a8" stroke="#3c3c3c" stroke-width="0.6"/>
<path d="M125.05 401.44L127.14 405.18L122.96 405.18Z" fill="#a8a8a8" stroke="#3c3c3c" stroke-width="0.6"/>
<path d="M127.32 401.44L129.41 405.18L125.23 405.18Z" fill="#a8a8a8" stroke="#3c3c3c" stroke-width="0.6"/>
<path d="M129.6 401.44L131.69 405.18L127.51 405.18Z" fill="#a8a8a8" stroke="#3c3c3c" stroke-width="0.6"/>
<path d="M131.88 401.44L133.97 405.18L129.78 405.18Z" fill="#a8a8a8" stroke="#3c3c3c" stroke-width="0.6"/>
<path d="M134.15 401.44L136.24 405.18L132.06 405.18Z" fill="#a8a8a8" stroke="#3c3c3c" stroke-width="0.6"/>
<path d="M136.43 401.44L138.52 405.18L134.34 405.18Z" fill="#a8a8a8" stroke="#3c3c3c" stroke-width="0.6"/>
<path d="M138.7 401.44L140.79 405.18L136.61 405.18Z" fill="#a8a8a8" stroke="#3c3c3c" stroke-width="0.6"/>
<path d="M140.97 401.44L143.06 405.18L138.88 405.18Z" fill="#a8a8a8" stroke="#3c3c3c" stroke-width="0.6"/>
<path d="M143.25 401.44L145.34 405.18L141.16 405.18Z" fill="#a8a8a8" stroke="#3c3c3c" stroke-width="0.6"/>
<path d="M145.53 401.44L147.62 405.18L143.44 405.18Z" fill="#a8a8a8" stroke="#3c3c3c" stroke-width="0.6"/>
<path d="M147.8 401.44L149.89 405.18L145.71 405.18Z" fill="#a8a8a8" stroke="#3c3c3c" stroke-width="0.6"/>
<path d="M150.07 401.44L152.16 405.18L147.98 405.18Z" fill="#a8a8a8" stroke="#3c3c3c" stroke-width="0.6"/>
<path d="M152.35 401.44L154.44 405.18L150.26 405.18Z" fill="#a8a8a8" stroke="#3c3c3c" stroke-width="0.6"/>
<path d="M154.62 401.44L156.72 405.18L152.53 405.18Z" fill="#a8a8a8" stroke="#3c3c3c" stroke-width="0.6"/>
<path d="M156.9 401.44L158.99 405.18L154.81 405.18Z" fill="#a8a8a8" stroke="#3c3c3c" stroke-width="0.6"/>
<path d="M159.17 401.44L161.26 405.18L157.08 405.18Z" fill="#a8a8a8" stroke="#3c3c3c" stroke-width="0.6"/>
<path d="M161.45 401.44L163.54 405.18L159.36 405.18Z" fill="#a8a8a8" stroke="#3c3c3c" stroke-width="0.6"/>
<path d="M163.72 401.44L165.81 405.18L161.63 405.18Z" fill="#a8a8a8" stroke="#3c3c3c" stroke-width="0.6"/>
<path d="M166 401.44L168.09 405.18L163.91 405.18Z" fill="#a8a8a8" stroke="#3c3c3c" stroke-width="0.6"/>
<path d="M168.27 401.44L170.36 405.18L166.18 405.18Z" fill="#a8a8a8" stroke="#3c3c3c" stroke-width="0.6"/>
<path d="M170.55 401.44L172.64 405.18L168.46 405.18Z" fill="#a8a8a8" stroke="#3c3c3c" stroke-width="0.6"/>
<path d="M172.82 401.44L174.91 405.18L170.73 405.18Z" fill="#a8a8a8" stroke="#3c3c3c" stroke-width="0.6"/>
<path d="M175.1 401.44L177.19 405.18L173.01 405.18Z" fill="#a8a8a8" stroke="#3c3c3c" stroke-width="0.6"/>
<path d="M177.38 401.44L179.47 405.18L175.28 405.18Z" fill="#a8a8a8" stroke="#3c3c3c" stroke-width="0.6"/>
<path d="M179.65 401.44L181.74 405.18L177.56 405.18Z" fill="#a8a8a8" stroke="#3c3c3c" stroke-width="0.6"/>
<path d="M181.92 401.44L184.01 405.18L179.83 405.18Z" fill="#a8a8a8" stroke="#3c3c3c" stroke-width="0.6"/>
<path d="M184.2 401.44L186.29 405.18L182.11 405.18Z" fill="#a8a8a8" stroke="#3c3c3c" stroke-width="0.6"/>
<path d="M186.47 401.44L188.56 405.18L184.38 405.18Z" fill="#a8a8a8" stroke="#3c3c3c" stroke-width="0.6"/>
<path d="M188.75 401.44L190.84 405.18L186.66 405.18Z" fill="#a8a8a8" stroke="#3c3c3c" stroke-width="0.6"/>
<path d="M191.02 401.44L193.11 405.18L188.93 405.18Z" fill="#a8a8a8" stroke="#3c3c3c" stroke-width="0.6"/>
<path d="M193.3 401.44L195.39 405.18L191.21 405.18Z" fill="#a8a8a8" stroke="#3c3c3c" stroke-width="0.6"/>
<path d="M195.57 401.44L197.66 405.18L193.48 405.18Z" fill="#a8a8a8" stroke="#3c3c3c" stroke-width="0.6"/>
<path d="M197.85 401.44L199.94 405.18L195.76 405.18Z" fill="#a8a8a8" stroke="#3c3c3c" stroke-width="0.6"/>
<path d="M200.12 401.44L202.22 405.18L198.03 405.18Z" fill="#a8a8a8" stroke="#3c3c3c" stroke-width="0.6"/>
<path d="M202.4 401.44L204.49 405.18L200.31 405.18Z" fill="#a8a8a8" stroke="#3c3c3c" stroke-width="0.6"/>
<path d="M204.67 401.44L206.76 405.18L202.58 405.18Z" fill="#a8a8a8" stroke="#3c3c3c" stroke-width="0.6"/>
<path d="M206.95 401.44L209.04 405.18L204.86 405.18Z" fill="#a8a8a8" stroke="#3c3c3c" stroke-width="0.6"/>
<path d="M209.22 401.44L211.31 405.18L207.13 405.18Z" fill="#a8a8a8" stroke="#3c3c3c" stroke-width="0.6"/>
<path d="M211.5 401.44L213.59 405.18L209.41 405.18Z" fill="#a8a8a8" stroke="#3c3c3c" stroke-width="0.6"/>
<path d="M213.77 401.44L215.86 405.18L211.68 405.18Z" fill="#a8a8a8" stroke="#3c3c3c" stroke-width="0.6"/>
<path d="M216.05 401.44L218.14 405.18L213.96 405.18Z" fill="#a8a8a8" stroke="#3c3c3c" stroke-width="0.6"/>
<path d="M218.32 401.44L220.41 405.18L216.23 405.18Z" fill="#a8a8a8" stroke="#3c3c3c" stroke-width="0.6"/>
<path d="M220.6 401.44L222.69 405.18L218.51 405.18Z" fill="#a8a8a8" stroke="#3c3c3c" stroke-width="0.6"/>
<path d="M222.88 401.44L224.97 405.18L220.78 405.18Z" fill="#a8a8a8" stroke="#3c3c3c" stroke-width="0.6"/>
<path d="M225.15 401.44L227.24 405.18L223.06 405.18Z" fill="#a8a8a8" stroke="#3c3c3c" stroke-width="0.6"/>
<path d="M227.42 401.44L229.51 405.18L225.33 405.18Z" fill="#a8a8a8" stroke="#3c3c3c" stroke-width="0.6"/>
<path d="M229.7 401.44L231.79 405.18L227.61 405.18Z" fill="#a8a8a8" stroke="#3c3c3c" stroke-width="0.6"/>
<path d="M231.97 401.44L234.06 405.18L229.88 405.18Z" fill="#a8a8a8" stroke="#3c3c3c" stroke-width="0.6"/>
<path d="M234.25 401.44L236.34 405.18L232.16 405.18Z" fill="#a8a8a8" stroke="#3c3c3c" stroke-width="0.6"/>
<path d="M236.52 401.44L238.61 405.18L234.43 405.18Z" fill="#a8a8a8" stroke="#3c3c3c" stroke-width="0.6"/>
<path d="M238.8 401.44L240.89 405.18L236.71 405.18Z" fill="#a8a8a8" stroke="#3c3c3c" stroke-width="0.6"/>
<path d="M241.07 401.44L243.16 405.18L238.98 405.18Z" fill="#a8a8a8" stroke="#3c3c3c" stroke-width="0.6"/>
<path d="M243.35 401.44L245.44 405.18L241.26 405.18Z" fill="#a8a8a8" stroke="#3c3c3c" stroke-width="0.6"/>
<rect x="38.5" y="236.4" width="207.5" height="167.6" fill="none" stroke="#5a5a5a" stroke-width="1.3"/>
<path d="M38.6 404v-3.5M38.6 236.4v3.5" stroke="#5a5a5a" stroke-width="1"/>
<path d="M49.98 404v-2M49.98 236.4v2" stroke="#5a5a5a" stroke-width="1"/>
<path d="M61.35 404v-2M61.35 236.4v2" stroke="#5a5a5a" stroke-width="1"/>
<path d="M72.72 404v-3.5M72.72 236.4v3.5" stroke="#5a5a5a" stroke-width="1"/>
<path d="M84.1 404v-2M84.1 236.4v2" stroke="#5a5a5a" stroke-width="1"/>
<path d="M95.47 404v-2M95.47 236.4v2" stroke="#5a5a5a" stroke-width="1"/>
<path d="M106.85 404v-3.5M106.85 236.4v3.5" stroke="#5a5a5a" stroke-width="1"/>
<path d="M118.22 404v-2M118.22 236.4v2" stroke="#5a5a5a" stroke-width="1"/>
<path d="M129.6 404v-2M129.6 236.4v2" stroke="#5a5a5a" stroke-width="1"/>
<path d="M140.97 404v-3.5M140.97 236.4v3.5" stroke="#5a5a5a" stroke-width="1"/>
<path d="M152.35 404v-2M152.35 236.4v2" stroke="#5a5a5a" stroke-width="1"/>
<path d="M163.72 404v-2M163.72 236.4v2" stroke="#5a5a5a" stroke-width="1"/>
<path d="M175.1 404v-3.5M175.1 236.4v3.5" stroke="#5a5a5a" stroke-width="1"/>
<path d="M186.47 404v-2M186.47 236.4v2" stroke="#5a5a5a" stroke-width="1"/>
<path d="M197.85 404v-2M197.85 236.4v2" stroke="#5a5a5a" stroke-width="1"/>
<path d="M209.22 404v-3.5M209.22 236.4v3.5" stroke="#5a5a5a" stroke-width="1"/>
<path d="M220.6 404v-2M220.6 236.4v2" stroke="#5a5a5a" stroke-width="1"/>
<path d="M231.97 404v-2M231.97 236.4v2" stroke="#5a5a5a" stroke-width="1"/>
<path d="M243.35 404v-3.5M243.35 236.4v3.5" stroke="#5a5a5a" stroke-width="1"/>
<path d="M38.5 403.75h4.2M246 403.75h-4.2" stroke="#5a5a5a" stroke-width="1"/>
<path d="M38.5 386.87h2.3M246 386.87h-2.3" stroke="#5a5a5a" stroke-width="1"/>
<path d="M38.5 369.98h2.3M246 369.98h-2.3" stroke="#5a5a5a" stroke-width="1"/>
<path d="M38.5 353.1h4.2M246 353.1h-4.2" stroke="#5a5a5a" stroke-width="1"/>
<path d="M38.5 336.22h2.3M246 336.22h-2.3" stroke="#5a5a5a" stroke-width="1"/>
<path d="M38.5 319.33h2.3M246 319.33h-2.3" stroke="#5a5a5a" stroke-width="1"/>
<path d="M38.5 302.45h4.2M246 302.45h-4.2" stroke="#5a5a5a" stroke-width="1"/>
<path d="M38.5 285.57h2.3M246 285.57h-2.3" stroke="#5a5a5a" stroke-width="1"/>
<path d="M38.5 268.68h2.3M246 268.68h-2.3" stroke="#5a5a5a" stroke-width="1"/>
<path d="M38.5 251.8h4.2M246 251.8h-4.2" stroke="#5a5a5a" stroke-width="1"/>
<text x="38.6" y="416.3" text-anchor="middle" class="tk">0</text>
<text x="72.72" y="416.3" text-anchor="middle" class="tk">15</text>
<text x="106.85" y="416.3" text-anchor="middle" class="tk">30</text>
<text x="140.97" y="416.3" text-anchor="middle" class="tk">45</text>
<text x="175.1" y="416.3" text-anchor="middle" class="tk">60</text>
<text x="209.22" y="416.3" text-anchor="middle" class="tk">75</text>
<text x="243.35" y="416.3" text-anchor="middle" class="tk">90</text>
<text x="33.3" y="406.55" text-anchor="end" class="tk">0</text>
<text x="33.3" y="355.9" text-anchor="end" class="tk">50</text>
<text x="33.3" y="305.25" text-anchor="end" class="tk">100</text>
<text x="33.3" y="254.6" text-anchor="end" class="tk">150</text>
<text x="142.78" y="434.2" text-anchor="middle" class="ti">Time (min)</text>
<text transform="translate(9.6 316.3) rotate(-90)" text-anchor="middle" class="ti yt">[Thrombin] (nM)</text>
<text x="0.6" y="241.3" class="lt">C</text>
<path d="M153.6 282.7H171.8" stroke="#5c5c5c" stroke-width="1.6"/>
<path d="M162.7 280.18L164.98 284.26L160.42 284.26Z" fill="#10107a" stroke="#080840" stroke-width="0.5"/>
<text x="173.6" y="285.6" class="lg">450 &#181;g/kg</text>
<path d="M153.6 292.8H171.8" stroke="#5c5c5c" stroke-width="1.6"/>
<path d="M162.7 290.28L164.98 294.36L160.42 294.36Z" fill="#e01818" stroke="#901010" stroke-width="0.5"/>
<text x="173.6" y="295.7" class="lg">225 &#181;g/kg</text>
<path d="M153.6 302.9H171.8" stroke="#5c5c5c" stroke-width="1.6"/>
<path d="M162.7 300.38L164.98 304.46L160.42 304.46Z" fill="#1f801f" stroke="#104010" stroke-width="0.5"/>
<text x="173.6" y="305.8" class="lg">113 &#181;g/kg</text>
<path d="M153.6 313H171.8" stroke="#5c5c5c" stroke-width="1.6"/>
<path d="M162.7 310.48L164.98 314.56L160.42 314.56Z" fill="#6a1a8a" stroke="#3a0a50" stroke-width="0.5"/>
<text x="176.2" y="315.9" class="lg">56 &#160;&#181;g/kg</text>
<path d="M153.6 323.1H171.8" stroke="#5c5c5c" stroke-width="1.6"/>
<path d="M162.7 320.58L164.98 324.66L160.42 324.66Z" fill="#e07050" stroke="#b04030" stroke-width="0.5"/>
<text x="176.2" y="326" class="lg">28 &#160;&#181;g/kg</text>
<path d="M153.6 333.2H171.8" stroke="#5c5c5c" stroke-width="1.6"/>
<path d="M162.7 330.68L164.98 334.76L160.42 334.76Z" fill="#a8a8a8" stroke="#3c3c3c" stroke-width="0.5"/>
<text x="178.8" y="336.1" class="lg">0 &#160;&#160;&#181;g/kg</text>
<path d="M305 405.97V407M303.7 405.97h2.6M303.7 407h2.6M307.32 404.04V406.1M306.02 404.04h2.6M306.02 406.1h2.6M309.64 402.93V404.99M308.34 402.93h2.6M308.34 404.99h2.6M311.96 387.49V391.67M310.66 387.49h2.6M310.66 391.67h2.6M314.28 362.01V371.65M312.98 362.01h2.6M312.98 371.65h2.6M316.6 346.21V359.24M315.3 346.21h2.6M315.3 359.24h2.6M318.92 344.4V357.81M317.62 344.4h2.6M317.62 357.81h2.6M321.24 340.42V354.68M319.94 340.42h2.6M319.94 354.68h2.6M323.56 339.8V354.2M322.26 339.8h2.6M322.26 354.2h2.6M325.88 341.48V355.52M324.58 341.48h2.6M324.58 355.52h2.6M328.2 346.62V359.56M326.9 346.62h2.6M326.9 359.56h2.6M330.52 348.42V360.97M329.22 348.42h2.6M329.22 360.97h2.6M332.84 352.8V364.41M331.54 352.8h2.6M331.54 364.41h2.6M335.16 354.62V365.84M333.86 354.62h2.6M333.86 365.84h2.6M337.48 357.21V367.88M336.18 357.21h2.6M336.18 367.88h2.6M339.8 361.22V371.03M338.5 361.22h2.6M338.5 371.03h2.6M342.12 364.73V373.79M340.82 364.73h2.6M340.82 373.79h2.6M344.44 363.19V372.58M343.14 363.19h2.6M343.14 372.58h2.6M346.76 369.76V377.74M345.46 369.76h2.6M345.46 377.74h2.6M349.08 368.99V377.14M347.78 368.99h2.6M347.78 377.14h2.6M351.4 374.7V381.62M350.1 374.7h2.6M350.1 381.62h2.6M353.72 377.25V383.63M352.42 377.25h2.6M352.42 383.63h2.6M356.04 378.87V384.9M354.74 378.87h2.6M354.74 384.9h2.6M358.36 379.63V385.49M357.06 379.63h2.6M357.06 385.49h2.6M360.68 382.49V387.74M359.38 382.49h2.6M359.38 387.74h2.6M363 381.99V387.35M361.7 381.99h2.6M361.7 387.35h2.6M365.32 383.69V388.68M364.02 383.69h2.6M364.02 388.68h2.6M367.64 386.7V391.05M366.34 386.7h2.6M366.34 391.05h2.6M369.96 387.01V391.29M368.66 387.01h2.6M368.66 391.29h2.6M372.28 386.42V390.83M370.98 386.42h2.6M370.98 390.83h2.6M374.6 389.86V393.53M373.3 389.86h2.6M373.3 393.53h2.6M376.92 388.46V392.44M375.62 388.46h2.6M375.62 392.44h2.6M379.24 390.88V394.33M377.94 390.88h2.6M377.94 394.33h2.6M381.56 390.94V394.38M380.26 390.94h2.6M380.26 394.38h2.6M383.88 393.03V396.02M382.58 393.03h2.6M382.58 396.02h2.6M386.2 395.37V397.86M384.9 395.37h2.6M384.9 397.86h2.6M388.52 395V397.57M387.22 395h2.6M387.22 397.57h2.6M390.84 394.12V396.88M389.54 394.12h2.6M389.54 396.88h2.6M393.16 396.41V398.68M391.86 396.41h2.6M391.86 398.68h2.6M395.48 398.27V400.33M394.18 398.27h2.6M394.18 400.33h2.6M397.8 397.62V399.68M396.5 397.62h2.6M396.5 399.68h2.6M400.12 397.11V399.23M398.82 397.11h2.6M398.82 399.23h2.6M402.44 396.75V398.95M401.14 396.75h2.6M401.14 398.95h2.6M404.76 397.8V399.86M403.46 397.8h2.6M403.46 399.86h2.6M407.08 398.79V400.85M405.78 398.79h2.6M405.78 400.85h2.6M409.4 401.55V403.61M408.1 401.55h2.6M408.1 403.61h2.6M411.72 401.07V403.13M410.42 401.07h2.6M410.42 403.13h2.6M414.04 400.4V402.46M412.74 400.4h2.6M412.74 402.46h2.6M416.36 402.48V404.54M415.06 402.48h2.6M415.06 404.54h2.6M418.68 400.27V402.33M417.38 400.27h2.6M417.38 402.33h2.6M421 401.42V403.48M419.7 401.42h2.6M419.7 403.48h2.6M423.32 402.22V404.28M422.02 402.22h2.6M422.02 404.28h2.6M425.64 402.82V404.88M424.34 402.82h2.6M424.34 404.88h2.6M427.96 403.89V405.95M426.66 403.89h2.6M426.66 405.95h2.6M430.28 402.84V404.9M428.98 402.84h2.6M428.98 404.9h2.6M432.6 404.26V406.32M431.3 404.26h2.6M431.3 406.32h2.6M434.92 404.37V406.43M433.62 404.37h2.6M433.62 406.43h2.6M437.24 403.85V405.91M435.94 403.85h2.6M435.94 405.91h2.6M439.56 402.1V404.16M438.26 402.1h2.6M438.26 404.16h2.6M441.88 403.73V405.79M440.58 403.73h2.6M440.58 405.79h2.6M444.2 401.92V403.98M442.9 401.92h2.6M442.9 403.98h2.6M446.52 404.73V406.79M445.22 404.73h2.6M445.22 406.79h2.6M448.84 404.6V406.66M447.54 404.6h2.6M447.54 406.66h2.6M451.16 402.43V404.49M449.86 402.43h2.6M449.86 404.49h2.6M453.48 404.25V406.31M452.18 404.25h2.6M452.18 406.31h2.6M455.8 403.93V405.99M454.5 403.93h2.6M454.5 405.99h2.6M458.12 405.07V407M456.82 405.07h2.6M456.82 407h2.6M460.44 402.69V404.75M459.14 402.69h2.6M459.14 404.75h2.6M462.76 403.48V405.54M461.46 403.48h2.6M461.46 405.54h2.6M465.08 404.92V406.98M463.78 404.92h2.6M463.78 406.98h2.6M467.4 403.59V405.65M466.1 403.59h2.6M466.1 405.65h2.6M469.72 402.74V404.8M468.42 402.74h2.6M468.42 404.8h2.6M472.04 403.49V405.55M470.74 403.49h2.6M470.74 405.55h2.6M474.36 404.46V406.52M473.06 404.46h2.6M473.06 406.52h2.6M476.68 405.43V407M475.38 405.43h2.6M475.38 407h2.6M479 405.04V407M477.7 405.04h2.6M477.7 407h2.6M481.32 404.11V406.17M480.02 404.11h2.6M480.02 406.17h2.6M483.64 404.57V406.63M482.34 404.57h2.6M482.34 406.63h2.6M485.96 404.1V406.16M484.66 404.1h2.6M484.66 406.16h2.6M488.28 403.38V405.44M486.98 403.38h2.6M486.98 405.44h2.6M490.6 404.69V406.75M489.3 404.69h2.6M489.3 406.75h2.6M492.92 405.06V407M491.62 405.06h2.6M491.62 407h2.6M495.24 404.08V406.14M493.94 404.08h2.6M493.94 406.14h2.6M497.56 403.91V405.97M496.26 403.91h2.6M496.26 405.97h2.6M499.88 403.18V405.24M498.58 403.18h2.6M498.58 405.24h2.6M502.2 405.34V407M500.9 405.34h2.6M500.9 407h2.6M504.52 403.44V405.5M503.22 403.44h2.6M503.22 405.5h2.6M506.84 405.64V407M505.54 405.64h2.6M505.54 407h2.6M509.16 405.64V407M507.86 405.64h2.6M507.86 407h2.6M511.48 404.1V406.16M510.18 404.1h2.6M510.18 406.16h2.6M513.8 405.24V407M512.5 405.24h2.6M512.5 407h2.6" stroke="#a8a8a8" stroke-width="0.8" fill="none"/>
<path d="M305 405.97V407M303.7 405.97h2.6M303.7 407h2.6M307.32 405.45V407M306.02 405.45h2.6M306.02 407h2.6M309.64 405.52V407M308.34 405.52h2.6M308.34 407h2.6M311.96 398.92V400.98M310.66 398.92h2.6M310.66 400.98h2.6M314.28 388.53V391.89M312.98 388.53h2.6M312.98 391.89h2.6M316.6 377.65V382.98M315.3 377.65h2.6M315.3 382.98h2.6M318.92 369.48V376.3M317.62 369.48h2.6M317.62 376.3h2.6M321.24 366.34V373.73M319.94 366.34h2.6M319.94 373.73h2.6M323.56 366.35V373.74M322.26 366.35h2.6M322.26 373.74h2.6M325.88 368.21V375.26M324.58 368.21h2.6M324.58 375.26h2.6M328.2 370.89V377.46M326.9 370.89h2.6M326.9 377.46h2.6M330.52 373.08V379.25M329.22 373.08h2.6M329.22 379.25h2.6M332.84 380.04V384.94M331.54 380.04h2.6M331.54 384.94h2.6M335.16 382.65V387.07M333.86 382.65h2.6M333.86 387.07h2.6M337.48 382.69V387.11M336.18 382.69h2.6M336.18 387.11h2.6M339.8 387.21V390.81M338.5 387.21h2.6M338.5 390.81h2.6M342.12 387.42V390.98M340.82 387.42h2.6M340.82 390.98h2.6M344.44 388.56V391.91M343.14 388.56h2.6M343.14 391.91h2.6M346.76 389.77V392.9M345.46 389.77h2.6M345.46 392.9h2.6M349.08 393.66V396.09M347.78 393.66h2.6M347.78 396.09h2.6M351.4 393.49V395.94M350.1 393.49h2.6M350.1 395.94h2.6M353.72 394.95V397.14M352.42 394.95h2.6M352.42 397.14h2.6M356.04 394.09V396.43M354.74 394.09h2.6M354.74 396.43h2.6M358.36 396.06V398.12M357.06 396.06h2.6M357.06 398.12h2.6M360.68 398.27V400.33M359.38 398.27h2.6M359.38 400.33h2.6M363 397.76V399.82M361.7 397.76h2.6M361.7 399.82h2.6M365.32 397.49V399.55M364.02 397.49h2.6M364.02 399.55h2.6M367.64 397.5V399.56M366.34 397.5h2.6M366.34 399.56h2.6M369.96 400.09V402.15M368.66 400.09h2.6M368.66 402.15h2.6M372.28 398.92V400.98M370.98 398.92h2.6M370.98 400.98h2.6M374.6 400.53V402.59M373.3 400.53h2.6M373.3 402.59h2.6M376.92 401.27V403.33M375.62 401.27h2.6M375.62 403.33h2.6M379.24 400.32V402.38M377.94 400.32h2.6M377.94 402.38h2.6M381.56 400.67V402.73M380.26 400.67h2.6M380.26 402.73h2.6M383.88 402.68V404.74M382.58 402.68h2.6M382.58 404.74h2.6M386.2 403.04V405.1M384.9 403.04h2.6M384.9 405.1h2.6M388.52 403.82V405.88M387.22 403.82h2.6M387.22 405.88h2.6M390.84 401.24V403.3M389.54 401.24h2.6M389.54 403.3h2.6M393.16 403.33V405.39M391.86 403.33h2.6M391.86 405.39h2.6M395.48 403.98V406.04M394.18 403.98h2.6M394.18 406.04h2.6M397.8 402.82V404.88M396.5 402.82h2.6M396.5 404.88h2.6M400.12 402.68V404.74M398.82 402.68h2.6M398.82 404.74h2.6M402.44 402.89V404.95M401.14 402.89h2.6M401.14 404.95h2.6M404.76 403.04V405.1M403.46 403.04h2.6M403.46 405.1h2.6M407.08 403.55V405.61M405.78 403.55h2.6M405.78 405.61h2.6M409.4 403.2V405.26M408.1 403.2h2.6M408.1 405.26h2.6M411.72 404.29V406.35M410.42 404.29h2.6M410.42 406.35h2.6M414.04 403.34V405.4M412.74 403.34h2.6M412.74 405.4h2.6M416.36 404.76V406.82M415.06 404.76h2.6M415.06 406.82h2.6M418.68 403.2V405.26M417.38 403.2h2.6M417.38 405.26h2.6M421 404.8V406.86M419.7 404.8h2.6M419.7 406.86h2.6M423.32 402.95V405.01M422.02 402.95h2.6M422.02 405.01h2.6M425.64 403.69V405.75M424.34 403.69h2.6M424.34 405.75h2.6M427.96 404.86V406.92M426.66 404.86h2.6M426.66 406.92h2.6M430.28 403.45V405.51M428.98 403.45h2.6M428.98 405.51h2.6M432.6 403.4V405.46M431.3 403.4h2.6M431.3 405.46h2.6M434.92 405.76V407M433.62 405.76h2.6M433.62 407h2.6M437.24 402.97V405.03M435.94 402.97h2.6M435.94 405.03h2.6M439.56 403.59V405.65M438.26 403.59h2.6M438.26 405.65h2.6M441.88 404.49V406.55M440.58 404.49h2.6M440.58 406.55h2.6M444.2 404.21V406.27M442.9 404.21h2.6M442.9 406.27h2.6M446.52 404.65V406.71M445.22 404.65h2.6M445.22 406.71h2.6M448.84 403.2V405.26M447.54 403.2h2.6M447.54 405.26h2.6M451.16 405.6V407M449.86 405.6h2.6M449.86 407h2.6M453.48 405.52V407M452.18 405.52h2.6M452.18 407h2.6M455.8 403.24V405.3M454.5 403.24h2.6M454.5 405.3h2.6M458.12 403.19V405.25M456.82 403.19h2.6M456.82 405.25h2.6M460.44 403.97V406.03M459.14 403.97h2.6M459.14 406.03h2.6M462.76 405.71V407M461.46 405.71h2.6M461.46 407h2.6M465.08 405.29V407M463.78 405.29h2.6M463.78 407h2.6M467.4 404.46V406.52M466.1 404.46h2.6M466.1 406.52h2.6M469.72 403.63V405.69M468.42 403.63h2.6M468.42 405.69h2.6M472.04 405.21V407M470.74 405.21h2.6M470.74 407h2.6M474.36 405V407M473.06 405h2.6M473.06 407h2.6M476.68 404.96V407M475.38 404.96h2.6M475.38 407h2.6M479 405.71V407M477.7 405.71h2.6M477.7 407h2.6M481.32 403.43V405.49M480.02 403.43h2.6M480.02 405.49h2.6M483.64 403.47V405.53M482.34 403.47h2.6M482.34 405.53h2.6M485.96 403.48V405.54M484.66 403.48h2.6M484.66 405.54h2.6M488.28 404.81V406.87M486.98 404.81h2.6M486.98 406.87h2.6M490.6 405.87V407M489.3 405.87h2.6M489.3 407h2.6M492.92 404.09V406.15M491.62 404.09h2.6M491.62 406.15h2.6M495.24 405.97V407M493.94 405.97h2.6M493.94 407h2.6M497.56 404.5V406.56M496.26 404.5h2.6M496.26 406.56h2.6M499.88 405.22V407M498.58 405.22h2.6M498.58 407h2.6M502.2 404.44V406.5M500.9 404.44h2.6M500.9 406.5h2.6M504.52 404.16V406.22M503.22 404.16h2.6M503.22 406.22h2.6M506.84 403.51V405.57M505.54 403.51h2.6M505.54 405.57h2.6M509.16 404.84V406.9M507.86 404.84h2.6M507.86 406.9h2.6M511.48 405.94V407M510.18 405.94h2.6M510.18 407h2.6M513.8 405.28V407M512.5 405.28h2.6M512.5 407h2.6" stroke="#a8a8a8" stroke-width="0.8" fill="none"/>
<path d="M305 405.45V407M303.7 405.45h2.6M303.7 407h2.6M307.32 404.84V407M306.02 404.84h2.6M306.02 407h2.6M309.64 400.1V404.98M308.34 400.1h2.6M308.34 404.98h2.6M311.96 389.91V398.18M310.66 389.91h2.6M310.66 398.18h2.6M314.28 360.74V378.73M312.98 360.74h2.6M312.98 378.73h2.6M316.6 321.49V350.33M315.3 321.49h2.6M315.3 350.33h2.6M318.92 303.77V332.61M317.62 303.77h2.6M317.62 332.61h2.6M321.24 303.87V332.71M319.94 303.87h2.6M319.94 332.71h2.6M323.56 301.52V330.36M322.26 301.52h2.6M322.26 330.36h2.6M325.88 309.18V338.02M324.58 309.18h2.6M324.58 338.02h2.6M328.2 314.74V343.58M326.9 314.74h2.6M326.9 343.58h2.6M330.52 315.16V344M329.22 315.16h2.6M329.22 344h2.6M332.84 320.02V348.86M331.54 320.02h2.6M331.54 348.86h2.6M335.16 327.34V356.18M333.86 327.34h2.6M333.86 356.18h2.6M337.48 333.47V360.55M336.18 333.47h2.6M336.18 360.55h2.6M339.8 337.62V363.32M338.5 337.62h2.6M338.5 363.32h2.6M342.12 344.29V367.77M340.82 344.29h2.6M340.82 367.77h2.6M344.44 347.49V369.9M343.14 347.49h2.6M343.14 369.9h2.6M346.76 348.84V370.8M345.46 348.84h2.6M345.46 370.8h2.6M349.08 353.06V373.61M347.78 353.06h2.6M347.78 373.61h2.6M351.4 354.54V374.6M350.1 354.54h2.6M350.1 374.6h2.6M353.72 354.52V374.59M352.42 354.52h2.6M352.42 374.59h2.6M356.04 355.6V375.31M354.74 355.6h2.6M354.74 375.31h2.6M358.36 357.16V376.35M357.06 357.16h2.6M357.06 376.35h2.6M360.68 358.1V376.97M359.38 358.1h2.6M359.38 376.97h2.6M363 361.29V379.1M361.7 361.29h2.6M361.7 379.1h2.6M365.32 364.83V381.46M364.02 364.83h2.6M364.02 381.46h2.6M367.64 365.11V381.65M366.34 365.11h2.6M366.34 381.65h2.6M369.96 369.63V384.66M368.66 369.63h2.6M368.66 384.66h2.6M372.28 370.32V385.12M370.98 370.32h2.6M370.98 385.12h2.6M374.6 372.07V386.29M373.3 372.07h2.6M373.3 386.29h2.6M376.92 374.88V388.16M375.62 374.88h2.6M375.62 388.16h2.6M379.24 376.07V388.96M377.94 376.07h2.6M377.94 388.96h2.6M381.56 377.53V389.93M380.26 377.53h2.6M380.26 389.93h2.6M383.88 375.22V388.39M382.58 375.22h2.6M382.58 388.39h2.6M386.2 376.39V389.17M384.9 376.39h2.6M384.9 389.17h2.6M388.52 380.33V391.79M387.22 380.33h2.6M387.22 391.79h2.6M390.84 380.27V391.75M389.54 380.27h2.6M389.54 391.75h2.6M393.16 378.71V390.72M391.86 378.71h2.6M391.86 390.72h2.6M395.48 379.37V391.15M394.18 379.37h2.6M394.18 391.15h2.6M397.8 380.77V392.09M396.5 380.77h2.6M396.5 392.09h2.6M400.12 382.38V393.16M398.82 382.38h2.6M398.82 393.16h2.6M402.44 382.86V393.48M401.14 382.86h2.6M401.14 393.48h2.6M404.76 384.06V394.28M403.46 384.06h2.6M403.46 394.28h2.6M407.08 386.41V395.85M405.78 386.41h2.6M405.78 395.85h2.6M409.4 387.81V396.78M408.1 387.81h2.6M408.1 396.78h2.6M411.72 391.59V399.3M410.42 391.59h2.6M410.42 399.3h2.6M414.04 393.88V400.83M412.74 393.88h2.6M412.74 400.83h2.6M416.36 392.45V399.87M415.06 392.45h2.6M415.06 399.87h2.6M418.68 391.98V399.56M417.38 391.98h2.6M417.38 399.56h2.6M421 394.36V401.15M419.7 394.36h2.6M419.7 401.15h2.6M423.32 393.6V400.64M422.02 393.6h2.6M422.02 400.64h2.6M425.64 393.34V400.47M424.34 393.34h2.6M424.34 400.47h2.6M427.96 395.17V401.69M426.66 395.17h2.6M426.66 401.69h2.6M430.28 392.61V399.98M428.98 392.61h2.6M428.98 399.98h2.6M432.6 392.12V399.65M431.3 392.12h2.6M431.3 399.65h2.6M434.92 395.43V401.86M433.62 395.43h2.6M433.62 401.86h2.6M437.24 393.38V400.5M435.94 393.38h2.6M435.94 400.5h2.6M439.56 394.52V401.25M438.26 394.52h2.6M438.26 401.25h2.6M441.88 395.04V401.6M440.58 395.04h2.6M440.58 401.6h2.6M444.2 395.95V402.21M442.9 395.95h2.6M442.9 402.21h2.6M446.52 395.66V402.01M445.22 395.66h2.6M445.22 402.01h2.6M448.84 395.06V401.62M447.54 395.06h2.6M447.54 401.62h2.6M451.16 397.3V403.11M449.86 397.3h2.6M449.86 403.11h2.6M453.48 398.25V403.74M452.18 398.25h2.6M452.18 403.74h2.6M455.8 399.58V404.63M454.5 399.58h2.6M454.5 404.63h2.6M458.12 399.29V404.44M456.82 399.29h2.6M456.82 404.44h2.6M460.44 401.9V406.17M459.14 401.9h2.6M459.14 406.17h2.6M462.76 400.62V405.32M461.46 400.62h2.6M461.46 405.32h2.6M465.08 399.79V404.77M463.78 399.79h2.6M463.78 404.77h2.6M467.4 401.39V405.83M466.1 401.39h2.6M466.1 405.83h2.6M469.72 402.66V406.68M468.42 402.66h2.6M468.42 406.68h2.6M472.04 401.01V405.58M470.74 401.01h2.6M470.74 405.58h2.6M474.36 401.48V405.9M473.06 401.48h2.6M473.06 405.9h2.6M476.68 400.68V405.36M475.38 400.68h2.6M475.38 405.36h2.6M479 398.08V403.63M477.7 398.08h2.6M477.7 403.63h2.6M481.32 398.74V404.07M480.02 398.74h2.6M480.02 404.07h2.6M483.64 401.71V406.05M482.34 401.71h2.6M482.34 406.05h2.6M485.96 400.6V405.31M484.66 400.6h2.6M484.66 405.31h2.6M488.28 402.66V406.68M486.98 402.66h2.6M486.98 406.68h2.6M490.6 400.68V405.36M489.3 400.68h2.6M489.3 405.36h2.6M492.92 400.93V405.53M491.62 400.93h2.6M491.62 405.53h2.6M495.24 404.38V407M493.94 404.38h2.6M493.94 407h2.6M497.56 404.03V407M496.26 404.03h2.6M496.26 407h2.6M499.88 404.58V407M498.58 404.58h2.6M498.58 407h2.6M502.2 404.79V407M500.9 404.79h2.6M500.9 407h2.6M504.52 402.88V406.83M503.22 402.88h2.6M503.22 406.83h2.6M506.84 402.24V406.4M505.54 402.24h2.6M505.54 406.4h2.6M509.16 402.34V406.47M507.86 402.34h2.6M507.86 406.47h2.6M511.48 403.46V407M510.18 403.46h2.6M510.18 407h2.6M513.8 404.9V407M512.5 404.9h2.6M512.5 407h2.6" stroke="#999999" stroke-width="0.8" fill="none"/>
<path d="M305 405.97V407M303.7 405.97h2.6M303.7 407h2.6M307.32 405.51V407M306.02 405.51h2.6M306.02 407h2.6M309.64 403.49V405.55M308.34 403.49h2.6M308.34 405.55h2.6M311.96 394.88V397.48M310.66 394.88h2.6M310.66 397.48h2.6M314.28 373.3V380.52M312.98 373.3h2.6M312.98 380.52h2.6M316.6 362.51V372.05M315.3 362.51h2.6M315.3 372.05h2.6M318.92 358.22V368.68M317.62 358.22h2.6M317.62 368.68h2.6M321.24 354.64V365.86M319.94 354.64h2.6M319.94 365.86h2.6M323.56 355.2V366.3M322.26 355.2h2.6M322.26 366.3h2.6M325.88 357.7V368.26M324.58 357.7h2.6M324.58 368.26h2.6M328.2 361.62V371.34M326.9 361.62h2.6M326.9 371.34h2.6M330.52 367.52V375.98M329.22 367.52h2.6M329.22 375.98h2.6M332.84 371.24V378.9M331.54 371.24h2.6M331.54 378.9h2.6M335.16 374.23V381.25M333.86 374.23h2.6M333.86 381.25h2.6M337.48 376.21V382.81M336.18 376.21h2.6M336.18 382.81h2.6M339.8 380.65V386.29M338.5 380.65h2.6M338.5 386.29h2.6M342.12 385.06V389.76M340.82 385.06h2.6M340.82 389.76h2.6M344.44 386.75V391.09M343.14 386.75h2.6M343.14 391.09h2.6M346.76 387.13V391.39M345.46 387.13h2.6M345.46 391.39h2.6M349.08 391.53V394.85M347.78 391.53h2.6M347.78 394.85h2.6M351.4 390.21V393.81M350.1 390.21h2.6M350.1 393.81h2.6M353.72 393.55V396.44M352.42 393.55h2.6M352.42 396.44h2.6M356.04 394.59V397.25M354.74 394.59h2.6M354.74 397.25h2.6M358.36 395.45V397.92M357.06 395.45h2.6M357.06 397.92h2.6M360.68 397.62V399.68M359.38 397.62h2.6M359.38 399.68h2.6M363 398.51V400.57M361.7 398.51h2.6M361.7 400.57h2.6M365.32 398.65V400.71M364.02 398.65h2.6M364.02 400.71h2.6M367.64 399.09V401.15M366.34 399.09h2.6M366.34 401.15h2.6M369.96 398.75V400.81M368.66 398.75h2.6M368.66 400.81h2.6M372.28 401.49V403.55M370.98 401.49h2.6M370.98 403.55h2.6M374.6 401.61V403.67M373.3 401.61h2.6M373.3 403.67h2.6M376.92 401.08V403.14M375.62 401.08h2.6M375.62 403.14h2.6M379.24 400.17V402.23M377.94 400.17h2.6M377.94 402.23h2.6M381.56 401.08V403.14M380.26 401.08h2.6M380.26 403.14h2.6M383.88 403.13V405.19M382.58 403.13h2.6M382.58 405.19h2.6M386.2 400.98V403.04M384.9 400.98h2.6M384.9 403.04h2.6M388.52 401.79V403.85M387.22 401.79h2.6M387.22 403.85h2.6M390.84 400.79V402.85M389.54 400.79h2.6M389.54 402.85h2.6M393.16 401.36V403.42M391.86 401.36h2.6M391.86 403.42h2.6M395.48 401.85V403.91M394.18 401.85h2.6M394.18 403.91h2.6M397.8 402.21V404.27M396.5 402.21h2.6M396.5 404.27h2.6M400.12 401.73V403.79M398.82 401.73h2.6M398.82 403.79h2.6M402.44 403.51V405.57M401.14 403.51h2.6M401.14 405.57h2.6M404.76 401.84V403.9M403.46 401.84h2.6M403.46 403.9h2.6M407.08 403.54V405.6M405.78 403.54h2.6M405.78 405.6h2.6M409.4 403.17V405.23M408.1 403.17h2.6M408.1 405.23h2.6M411.72 402.01V404.07M410.42 402.01h2.6M410.42 404.07h2.6M414.04 403.02V405.08M412.74 403.02h2.6M412.74 405.08h2.6M416.36 403.67V405.73M415.06 403.67h2.6M415.06 405.73h2.6M418.68 403.18V405.24M417.38 403.18h2.6M417.38 405.24h2.6M421 402.19V404.25M419.7 402.19h2.6M419.7 404.25h2.6M423.32 401.41V403.47M422.02 401.41h2.6M422.02 403.47h2.6M425.64 404.37V406.43M424.34 404.37h2.6M424.34 406.43h2.6M427.96 404.2V406.26M426.66 404.2h2.6M426.66 406.26h2.6M430.28 402.11V404.17M428.98 402.11h2.6M428.98 404.17h2.6M432.6 403.86V405.92M431.3 403.86h2.6M431.3 405.92h2.6M434.92 403.29V405.35M433.62 403.29h2.6M433.62 405.35h2.6M437.24 403.85V405.91M435.94 403.85h2.6M435.94 405.91h2.6M439.56 401.82V403.88M438.26 401.82h2.6M438.26 403.88h2.6M441.88 401.9V403.96M440.58 401.9h2.6M440.58 403.96h2.6M444.2 402.4V404.46M442.9 402.4h2.6M442.9 404.46h2.6M446.52 404.54V406.6M445.22 404.54h2.6M445.22 406.6h2.6M448.84 402.87V404.93M447.54 402.87h2.6M447.54 404.93h2.6M451.16 402.85V404.91M449.86 402.85h2.6M449.86 404.91h2.6M453.48 402.51V404.57M452.18 402.51h2.6M452.18 404.57h2.6M455.8 403.05V405.11M454.5 403.05h2.6M454.5 405.11h2.6M458.12 404.62V406.68M456.82 404.62h2.6M456.82 406.68h2.6M460.44 402.82V404.88M459.14 402.82h2.6M459.14 404.88h2.6M462.76 402.61V404.67M461.46 402.61h2.6M461.46 404.67h2.6M465.08 402.98V405.04M463.78 402.98h2.6M463.78 405.04h2.6M467.4 402.75V404.81M466.1 402.75h2.6M466.1 404.81h2.6M469.72 405.13V407M468.42 405.13h2.6M468.42 407h2.6M472.04 403.34V405.4M470.74 403.34h2.6M470.74 405.4h2.6M474.36 403.41V405.47M473.06 403.41h2.6M473.06 405.47h2.6M476.68 404.31V406.37M475.38 404.31h2.6M475.38 406.37h2.6M479 404.69V406.75M477.7 404.69h2.6M477.7 406.75h2.6M481.32 402.91V404.97M480.02 402.91h2.6M480.02 404.97h2.6M483.64 403.24V405.3M482.34 403.24h2.6M482.34 405.3h2.6M485.96 404.4V406.46M484.66 404.4h2.6M484.66 406.46h2.6M488.28 404.11V406.17M486.98 404.11h2.6M486.98 406.17h2.6M490.6 402.97V405.03M489.3 402.97h2.6M489.3 405.03h2.6M492.92 403.37V405.43M491.62 403.37h2.6M491.62 405.43h2.6M495.24 405.23V407M493.94 405.23h2.6M493.94 407h2.6M497.56 404.61V406.67M496.26 404.61h2.6M496.26 406.67h2.6M499.88 405.35V407M498.58 405.35h2.6M498.58 407h2.6M502.2 403.14V405.2M500.9 403.14h2.6M500.9 405.2h2.6M504.52 405.17V407M503.22 405.17h2.6M503.22 407h2.6M506.84 405.28V407M505.54 405.28h2.6M505.54 407h2.6M509.16 405.4V407M507.86 405.4h2.6M507.86 407h2.6M511.48 404.47V406.53M510.18 404.47h2.6M510.18 406.53h2.6M513.8 403.58V405.64M512.5 403.58h2.6M512.5 405.64h2.6" stroke="#a8a8a8" stroke-width="0.8" fill="none"/>
<path d="M305 405.97V407M303.7 405.97h2.6M303.7 407h2.6M307.32 405.45V407M306.02 405.45h2.6M306.02 407h2.6M309.64 405.97V407M308.34 405.97h2.6M308.34 407h2.6M311.96 399.93V401.99M310.66 399.93h2.6M310.66 401.99h2.6M314.28 392.65V395.26M312.98 392.65h2.6M312.98 395.26h2.6M316.6 379.04V384.12M315.3 379.04h2.6M315.3 384.12h2.6M318.92 374.23V380.19M317.62 374.23h2.6M317.62 380.19h2.6M321.24 371.93V378.3M319.94 371.93h2.6M319.94 378.3h2.6M323.56 374.12V380.1M322.26 374.12h2.6M322.26 380.1h2.6M325.88 379.66V384.63M324.58 379.66h2.6M324.58 384.63h2.6M328.2 382.78V387.18M326.9 382.78h2.6M326.9 387.18h2.6M330.52 383.46V387.74M329.22 383.46h2.6M329.22 387.74h2.6M332.84 389.06V392.32M331.54 389.06h2.6M331.54 392.32h2.6M335.16 391.86V394.61M333.86 391.86h2.6M333.86 394.61h2.6M337.48 391.29V394.15M336.18 391.29h2.6M336.18 394.15h2.6M339.8 394.19V396.52M338.5 394.19h2.6M338.5 396.52h2.6M342.12 393.94V396.31M340.82 393.94h2.6M340.82 396.31h2.6M344.44 397.04V399.1M343.14 397.04h2.6M343.14 399.1h2.6M346.76 396.84V398.9M345.46 396.84h2.6M345.46 398.9h2.6M349.08 397.85V399.91M347.78 397.85h2.6M347.78 399.91h2.6M351.4 399.8V401.86M350.1 399.8h2.6M350.1 401.86h2.6M353.72 400.31V402.37M352.42 400.31h2.6M352.42 402.37h2.6M356.04 398.88V400.94M354.74 398.88h2.6M354.74 400.94h2.6M358.36 402.15V404.21M357.06 402.15h2.6M357.06 404.21h2.6M360.68 401.36V403.42M359.38 401.36h2.6M359.38 403.42h2.6M363 400.31V402.37M361.7 400.31h2.6M361.7 402.37h2.6M365.32 401.33V403.39M364.02 401.33h2.6M364.02 403.39h2.6M367.64 401.45V403.51M366.34 401.45h2.6M366.34 403.51h2.6M369.96 402.33V404.39M368.66 402.33h2.6M368.66 404.39h2.6M372.28 402.74V404.8M370.98 402.74h2.6M370.98 404.8h2.6M374.6 403.45V405.51M373.3 403.45h2.6M373.3 405.51h2.6M376.92 401.92V403.98M375.62 401.92h2.6M375.62 403.98h2.6M379.24 404.06V406.12M377.94 404.06h2.6M377.94 406.12h2.6M381.56 401.89V403.95M380.26 401.89h2.6M380.26 403.95h2.6M383.88 404.59V406.65M382.58 404.59h2.6M382.58 406.65h2.6M386.2 403.97V406.03M384.9 403.97h2.6M384.9 406.03h2.6M388.52 404.32V406.38M387.22 404.32h2.6M387.22 406.38h2.6M390.84 401.96V404.02M389.54 401.96h2.6M389.54 404.02h2.6M393.16 402.28V404.34M391.86 402.28h2.6M391.86 404.34h2.6M395.48 403.37V405.43M394.18 403.37h2.6M394.18 405.43h2.6M397.8 402.48V404.54M396.5 402.48h2.6M396.5 404.54h2.6M400.12 403.84V405.9M398.82 403.84h2.6M398.82 405.9h2.6M402.44 404.19V406.25M401.14 404.19h2.6M401.14 406.25h2.6M404.76 402.28V404.34M403.46 402.28h2.6M403.46 404.34h2.6M407.08 402.6V404.66M405.78 402.6h2.6M405.78 404.66h2.6M409.4 403.08V405.14M408.1 403.08h2.6M408.1 405.14h2.6M411.72 404.14V406.2M410.42 404.14h2.6M410.42 406.2h2.6M414.04 404.64V406.7M412.74 404.64h2.6M412.74 406.7h2.6M416.36 403.62V405.68M415.06 403.62h2.6M415.06 405.68h2.6M418.68 405.49V407M417.38 405.49h2.6M417.38 407h2.6M421 404.3V406.36M419.7 404.3h2.6M419.7 406.36h2.6M423.32 404.87V406.93M422.02 404.87h2.6M422.02 406.93h2.6M425.64 404.51V406.57M424.34 404.51h2.6M424.34 406.57h2.6M427.96 404.38V406.44M426.66 404.38h2.6M426.66 406.44h2.6M430.28 403.37V405.43M428.98 403.37h2.6M428.98 405.43h2.6M432.6 404.5V406.56M431.3 404.5h2.6M431.3 406.56h2.6M434.92 403.04V405.1M433.62 403.04h2.6M433.62 405.1h2.6M437.24 404.95V407M435.94 404.95h2.6M435.94 407h2.6M439.56 403.77V405.83M438.26 403.77h2.6M438.26 405.83h2.6M441.88 404.31V406.37M440.58 404.31h2.6M440.58 406.37h2.6M444.2 404.98V407M442.9 404.98h2.6M442.9 407h2.6M446.52 405V407M445.22 405h2.6M445.22 407h2.6M448.84 405.16V407M447.54 405.16h2.6M447.54 407h2.6M451.16 404.39V406.45M449.86 404.39h2.6M449.86 406.45h2.6M453.48 404.79V406.85M452.18 404.79h2.6M452.18 406.85h2.6M455.8 403.32V405.38M454.5 403.32h2.6M454.5 405.38h2.6M458.12 404.38V406.44M456.82 404.38h2.6M456.82 406.44h2.6M460.44 404.62V406.68M459.14 404.62h2.6M459.14 406.68h2.6M462.76 405.95V407M461.46 405.95h2.6M461.46 407h2.6M465.08 405.46V407M463.78 405.46h2.6M463.78 407h2.6M467.4 404.51V406.57M466.1 404.51h2.6M466.1 406.57h2.6M469.72 405.67V407M468.42 405.67h2.6M468.42 407h2.6M472.04 404.85V406.91M470.74 404.85h2.6M470.74 406.91h2.6M474.36 405.6V407M473.06 405.6h2.6M473.06 407h2.6M476.68 404.12V406.18M475.38 404.12h2.6M475.38 406.18h2.6M479 403.18V405.24M477.7 403.18h2.6M477.7 405.24h2.6M481.32 403.48V405.54M480.02 403.48h2.6M480.02 405.54h2.6M483.64 403.86V405.92M482.34 403.86h2.6M482.34 405.92h2.6M485.96 405.5V407M484.66 405.5h2.6M484.66 407h2.6M488.28 405.97V407M486.98 405.97h2.6M486.98 407h2.6M490.6 405.97V407M489.3 405.97h2.6M489.3 407h2.6M492.92 404.26V406.32M491.62 404.26h2.6M491.62 406.32h2.6M495.24 404.11V406.17M493.94 404.11h2.6M493.94 406.17h2.6M497.56 404.43V406.49M496.26 404.43h2.6M496.26 406.49h2.6M499.88 404.09V406.15M498.58 404.09h2.6M498.58 406.15h2.6M502.2 405.34V407M500.9 405.34h2.6M500.9 407h2.6M504.52 405.38V407M503.22 405.38h2.6M503.22 407h2.6M506.84 405.97V407M505.54 405.97h2.6M505.54 407h2.6M509.16 405.81V407M507.86 405.81h2.6M507.86 407h2.6M511.48 405.97V407M510.18 405.97h2.6M510.18 407h2.6M513.8 404.48V406.54M512.5 404.48h2.6M512.5 406.54h2.6" stroke="#a8a8a8" stroke-width="0.8" fill="none"/>
<path d="M305 407L307.32 405.07L309.64 403.96L311.96 389.58L314.28 366.83L316.6 352.73L318.92 351.11L321.24 347.55L323.56 347L325.88 348.5L328.2 353.09L330.52 354.7L332.84 358.6L335.16 360.23L337.48 362.54L339.8 366.12L342.12 369.26L344.44 367.89L346.76 373.75L349.08 373.07L351.4 378.16L353.72 380.44L356.04 381.89L358.36 382.56L360.68 385.12L363 384.67L365.32 386.18L367.64 388.88L369.96 389.15L372.28 388.62L374.6 391.69L376.92 390.45L379.24 392.61L381.56 392.66L383.88 394.53L386.2 396.61L388.52 396.28L390.84 395.5L393.16 397.54L395.48 399.3L397.8 398.65L400.12 398.17L402.44 397.85L404.76 398.83L407.08 399.82L409.4 402.58L411.72 402.1L414.04 401.43L416.36 403.51L418.68 401.3L421 402.45L423.32 403.25L425.64 403.85L427.96 404.92L430.28 403.87L432.6 405.29L434.92 405.4L437.24 404.88L439.56 403.13L441.88 404.76L444.2 402.95L446.52 405.76L448.84 405.63L451.16 403.46L453.48 405.28L455.8 404.96L458.12 406.1L460.44 403.72L462.76 404.51L465.08 405.95L467.4 404.62L469.72 403.77L472.04 404.52L474.36 405.49L476.68 406.46L479 406.07L481.32 405.14L483.64 405.6L485.96 405.13L488.28 404.41L490.6 405.72L492.92 406.09L495.24 405.11L497.56 404.94L499.88 404.21L502.2 406.37L504.52 404.47L506.84 406.67L509.16 406.67L511.48 405.13L513.8 406.27" fill="none" stroke="#606060" stroke-width="1.0"/>
<path d="M305 407L307.32 406.49L309.64 406.55L311.96 399.95L314.28 390.21L316.6 380.31L318.92 372.89L321.24 370.04L323.56 370.04L325.88 371.73L328.2 374.18L330.52 376.16L332.84 382.49L335.16 384.86L337.48 384.9L339.8 389.01L342.12 389.2L344.44 390.23L346.76 391.33L349.08 394.88L351.4 394.72L353.72 396.05L356.04 395.26L358.36 397.09L360.68 399.3L363 398.79L365.32 398.52L367.64 398.53L369.96 401.12L372.28 399.95L374.6 401.56L376.92 402.3L379.24 401.35L381.56 401.7L383.88 403.71L386.2 404.07L388.52 404.85L390.84 402.27L393.16 404.36L395.48 405.01L397.8 403.85L400.12 403.71L402.44 403.92L404.76 404.07L407.08 404.58L409.4 404.23L411.72 405.32L414.04 404.37L416.36 405.79L418.68 404.23L421 405.83L423.32 403.98L425.64 404.72L427.96 405.89L430.28 404.48L432.6 404.43L434.92 406.79L437.24 404L439.56 404.62L441.88 405.52L444.2 405.24L446.52 405.68L448.84 404.23L451.16 406.63L453.48 406.55L455.8 404.27L458.12 404.22L460.44 405L462.76 406.74L465.08 406.32L467.4 405.49L469.72 404.66L472.04 406.24L474.36 406.03L476.68 405.99L479 406.74L481.32 404.46L483.64 404.5L485.96 404.51L488.28 405.84L490.6 406.9L492.92 405.12L495.24 407L497.56 405.53L499.88 406.25L502.2 405.47L504.52 405.19L506.84 404.54L509.16 405.87L511.48 406.97L513.8 406.31" fill="none" stroke="#606060" stroke-width="1.0"/>
<path d="M305 407L307.32 406.49L309.64 402.54L311.96 394.04L314.28 369.74L316.6 335.91L318.92 318.19L321.24 318.29L323.56 315.94L325.88 323.6L328.2 329.16L330.52 329.58L332.84 334.44L335.16 341.76L337.48 347.01L339.8 350.47L342.12 356.03L344.44 358.69L346.76 359.82L349.08 363.33L351.4 364.57L353.72 364.56L356.04 365.45L358.36 366.76L360.68 367.54L363 370.2L365.32 373.14L367.64 373.38L369.96 377.15L372.28 377.72L374.6 379.18L376.92 381.52L379.24 382.51L381.56 383.73L383.88 381.8L386.2 382.78L388.52 386.06L390.84 386.01L393.16 384.71L395.48 385.26L397.8 386.43L400.12 387.77L402.44 388.17L404.76 389.17L407.08 391.13L409.4 392.3L411.72 395.44L414.04 397.35L416.36 396.16L418.68 395.77L421 397.75L423.32 397.12L425.64 396.91L427.96 398.43L430.28 396.3L432.6 395.88L434.92 398.64L437.24 396.94L439.56 397.88L441.88 398.32L444.2 399.08L446.52 398.83L448.84 398.34L451.16 400.2L453.48 401L455.8 402.11L458.12 401.86L460.44 404.04L462.76 402.97L465.08 402.28L467.4 403.61L469.72 404.67L472.04 403.3L474.36 403.69L476.68 403.02L479 400.86L481.32 401.4L483.64 403.88L485.96 402.96L488.28 404.67L490.6 403.02L492.92 403.23L495.24 406.11L497.56 405.82L499.88 406.27L502.2 406.45L504.52 404.85L506.84 404.32L509.16 404.4L511.48 405.34L513.8 406.54" fill="none" stroke="#606060" stroke-width="1.0"/>
<path d="M305 407L307.32 406.54L309.64 404.52L311.96 396.18L314.28 376.91L316.6 367.28L318.92 363.45L321.24 360.25L323.56 360.75L325.88 362.98L328.2 366.48L330.52 371.75L332.84 375.07L335.16 377.74L337.48 379.51L339.8 383.47L342.12 387.41L344.44 388.92L346.76 389.26L349.08 393.19L351.4 392.01L353.72 395L356.04 395.92L358.36 396.69L360.68 398.65L363 399.54L365.32 399.68L367.64 400.12L369.96 399.78L372.28 402.52L374.6 402.64L376.92 402.11L379.24 401.2L381.56 402.11L383.88 404.16L386.2 402.01L388.52 402.82L390.84 401.82L393.16 402.39L395.48 402.88L397.8 403.24L400.12 402.76L402.44 404.54L404.76 402.87L407.08 404.57L409.4 404.2L411.72 403.04L414.04 404.05L416.36 404.7L418.68 404.21L421 403.22L423.32 402.44L425.64 405.4L427.96 405.23L430.28 403.14L432.6 404.89L434.92 404.32L437.24 404.88L439.56 402.85L441.88 402.93L444.2 403.43L446.52 405.57L448.84 403.9L451.16 403.88L453.48 403.54L455.8 404.08L458.12 405.65L460.44 403.85L462.76 403.64L465.08 404.01L467.4 403.78L469.72 406.16L472.04 404.37L474.36 404.44L476.68 405.34L479 405.72L481.32 403.94L483.64 404.27L485.96 405.43L488.28 405.14L490.6 404L492.92 404.4L495.24 406.26L497.56 405.64L499.88 406.38L502.2 404.17L504.52 406.2L506.84 406.31L509.16 406.43L511.48 405.5L513.8 404.61" fill="none" stroke="#606060" stroke-width="1.0"/>
<path d="M305 407L307.32 406.49L309.64 407L311.96 400.96L314.28 393.95L316.6 381.58L318.92 377.21L321.24 375.12L323.56 377.11L325.88 382.15L328.2 384.98L330.52 385.6L332.84 390.69L335.16 393.24L337.48 392.72L339.8 395.36L342.12 395.13L344.44 398.07L346.76 397.87L349.08 398.88L351.4 400.83L353.72 401.34L356.04 399.91L358.36 403.18L360.68 402.39L363 401.34L365.32 402.36L367.64 402.48L369.96 403.36L372.28 403.77L374.6 404.48L376.92 402.95L379.24 405.09L381.56 402.92L383.88 405.62L386.2 405L388.52 405.35L390.84 402.99L393.16 403.31L395.48 404.4L397.8 403.51L400.12 404.87L402.44 405.22L404.76 403.31L407.08 403.63L409.4 404.11L411.72 405.17L414.04 405.67L416.36 404.65L418.68 406.52L421 405.33L423.32 405.9L425.64 405.54L427.96 405.41L430.28 404.4L432.6 405.53L434.92 404.07L437.24 405.98L439.56 404.8L441.88 405.34L444.2 406.01L446.52 406.03L448.84 406.19L451.16 405.42L453.48 405.82L455.8 404.35L458.12 405.41L460.44 405.65L462.76 406.98L465.08 406.49L467.4 405.54L469.72 406.7L472.04 405.88L474.36 406.63L476.68 405.15L479 404.21L481.32 404.51L483.64 404.89L485.96 406.53L488.28 407L490.6 407L492.92 405.29L495.24 405.14L497.56 405.46L499.88 405.12L502.2 406.37L504.52 406.41L506.84 407L509.16 406.84L511.48 407L513.8 405.51" fill="none" stroke="#606060" stroke-width="1.0"/>
<path d="M305 404.58L307.19 408.5L302.81 408.5Z" fill="#5a1078" stroke="#300840" stroke-width="0.6"/>
<path d="M307.32 402.66L309.5 406.57L305.13 406.57Z" fill="#5a1078" stroke="#300840" stroke-width="0.6"/>
<path d="M309.64 401.55L311.82 405.46L307.45 405.46Z" fill="#5a1078" stroke="#300840" stroke-width="0.6"/>
<path d="M311.96 387.17L314.14 391.08L309.77 391.08Z" fill="#5a1078" stroke="#300840" stroke-width="0.6"/>
<path d="M314.28 364.42L316.46 368.33L312.09 368.33Z" fill="#5a1078" stroke="#300840" stroke-width="0.6"/>
<path d="M316.6 350.31L318.79 354.22L314.42 354.22Z" fill="#5a1078" stroke="#300840" stroke-width="0.6"/>
<path d="M318.92 348.69L321.11 352.6L316.74 352.6Z" fill="#5a1078" stroke="#300840" stroke-width="0.6"/>
<path d="M321.24 345.13L323.43 349.04L319.06 349.04Z" fill="#5a1078" stroke="#300840" stroke-width="0.6"/>
<path d="M323.56 344.59L325.75 348.5L321.38 348.5Z" fill="#5a1078" stroke="#300840" stroke-width="0.6"/>
<path d="M325.88 346.09L328.06 350L323.69 350Z" fill="#5a1078" stroke="#300840" stroke-width="0.6"/>
<path d="M328.2 350.68L330.38 354.59L326.01 354.59Z" fill="#5a1078" stroke="#300840" stroke-width="0.6"/>
<path d="M330.52 352.28L332.7 356.19L328.33 356.19Z" fill="#5a1078" stroke="#300840" stroke-width="0.6"/>
<path d="M332.84 356.19L335.02 360.1L330.65 360.1Z" fill="#5a1078" stroke="#300840" stroke-width="0.6"/>
<path d="M335.16 357.81L337.34 361.72L332.97 361.72Z" fill="#5a1078" stroke="#300840" stroke-width="0.6"/>
<path d="M337.48 360.13L339.67 364.04L335.3 364.04Z" fill="#5a1078" stroke="#300840" stroke-width="0.6"/>
<path d="M339.8 363.71L341.99 367.62L337.62 367.62Z" fill="#5a1078" stroke="#300840" stroke-width="0.6"/>
<path d="M342.12 366.84L344.31 370.75L339.94 370.75Z" fill="#5a1078" stroke="#300840" stroke-width="0.6"/>
<path d="M344.44 365.47L346.62 369.38L342.25 369.38Z" fill="#5a1078" stroke="#300840" stroke-width="0.6"/>
<path d="M346.76 371.33L348.94 375.24L344.57 375.24Z" fill="#5a1078" stroke="#300840" stroke-width="0.6"/>
<path d="M349.08 370.65L351.26 374.56L346.89 374.56Z" fill="#5a1078" stroke="#300840" stroke-width="0.6"/>
<path d="M351.4 375.74L353.58 379.65L349.21 379.65Z" fill="#5a1078" stroke="#300840" stroke-width="0.6"/>
<path d="M353.72 378.02L355.91 381.93L351.54 381.93Z" fill="#5a1078" stroke="#300840" stroke-width="0.6"/>
<path d="M356.04 379.47L358.23 383.38L353.86 383.38Z" fill="#5a1078" stroke="#300840" stroke-width="0.6"/>
<path d="M358.36 380.15L360.55 384.06L356.18 384.06Z" fill="#5a1078" stroke="#300840" stroke-width="0.6"/>
<path d="M360.68 382.7L362.87 386.61L358.5 386.61Z" fill="#5a1078" stroke="#300840" stroke-width="0.6"/>
<path d="M363 382.25L365.19 386.16L360.81 386.16Z" fill="#5a1078" stroke="#300840" stroke-width="0.6"/>
<path d="M365.32 383.77L367.5 387.68L363.13 387.68Z" fill="#5a1078" stroke="#300840" stroke-width="0.6"/>
<path d="M367.64 386.46L369.82 390.37L365.45 390.37Z" fill="#5a1078" stroke="#300840" stroke-width="0.6"/>
<path d="M369.96 386.73L372.14 390.64L367.77 390.64Z" fill="#5a1078" stroke="#300840" stroke-width="0.6"/>
<path d="M372.28 386.21L374.46 390.12L370.09 390.12Z" fill="#5a1078" stroke="#300840" stroke-width="0.6"/>
<path d="M374.6 389.28L376.79 393.19L372.42 393.19Z" fill="#5a1078" stroke="#300840" stroke-width="0.6"/>
<path d="M376.92 388.03L379.11 391.94L374.74 391.94Z" fill="#5a1078" stroke="#300840" stroke-width="0.6"/>
<path d="M379.24 390.19L381.43 394.1L377.06 394.1Z" fill="#5a1078" stroke="#300840" stroke-width="0.6"/>
<path d="M381.56 390.25L383.75 394.16L379.38 394.16Z" fill="#5a1078" stroke="#300840" stroke-width="0.6"/>
<path d="M383.88 392.11L386.06 396.02L381.69 396.02Z" fill="#5a1078" stroke="#300840" stroke-width="0.6"/>
<path d="M386.2 394.2L388.38 398.11L384.01 398.11Z" fill="#5a1078" stroke="#300840" stroke-width="0.6"/>
<path d="M388.52 393.87L390.7 397.78L386.33 397.78Z" fill="#5a1078" stroke="#300840" stroke-width="0.6"/>
<path d="M390.84 393.09L393.02 397L388.65 397Z" fill="#5a1078" stroke="#300840" stroke-width="0.6"/>
<path d="M393.16 395.13L395.34 399.04L390.97 399.04Z" fill="#5a1078" stroke="#300840" stroke-width="0.6"/>
<path d="M395.48 396.89L397.67 400.8L393.3 400.8Z" fill="#5a1078" stroke="#300840" stroke-width="0.6"/>
<path d="M397.8 396.23L399.99 400.14L395.62 400.14Z" fill="#5a1078" stroke="#300840" stroke-width="0.6"/>
<path d="M400.12 395.75L402.31 399.66L397.94 399.66Z" fill="#5a1078" stroke="#300840" stroke-width="0.6"/>
<path d="M402.44 395.43L404.62 399.34L400.25 399.34Z" fill="#5a1078" stroke="#300840" stroke-width="0.6"/>
<path d="M404.76 396.41L406.94 400.32L402.57 400.32Z" fill="#5a1078" stroke="#300840" stroke-width="0.6"/>
<path d="M407.08 397.4L409.26 401.31L404.89 401.31Z" fill="#5a1078" stroke="#300840" stroke-width="0.6"/>
<path d="M409.4 400.17L411.58 404.08L407.21 404.08Z" fill="#5a1078" stroke="#300840" stroke-width="0.6"/>
<path d="M411.72 399.69L413.91 403.6L409.54 403.6Z" fill="#5a1078" stroke="#300840" stroke-width="0.6"/>
<path d="M414.04 399.01L416.22 402.92L411.85 402.92Z" fill="#5a1078" stroke="#300840" stroke-width="0.6"/>
<path d="M416.36 401.1L418.55 405.01L414.18 405.01Z" fill="#5a1078" stroke="#300840" stroke-width="0.6"/>
<path d="M418.68 398.89L420.87 402.8L416.5 402.8Z" fill="#5a1078" stroke="#300840" stroke-width="0.6"/>
<path d="M421 400.04L423.19 403.95L418.81 403.95Z" fill="#5a1078" stroke="#300840" stroke-width="0.6"/>
<path d="M423.32 400.84L425.5 404.75L421.13 404.75Z" fill="#5a1078" stroke="#300840" stroke-width="0.6"/>
<path d="M425.64 401.43L427.82 405.34L423.45 405.34Z" fill="#5a1078" stroke="#300840" stroke-width="0.6"/>
<path d="M427.96 402.5L430.14 406.41L425.77 406.41Z" fill="#5a1078" stroke="#300840" stroke-width="0.6"/>
<path d="M430.28 401.46L432.46 405.37L428.09 405.37Z" fill="#5a1078" stroke="#300840" stroke-width="0.6"/>
<path d="M432.6 402.87L434.79 406.78L430.42 406.78Z" fill="#5a1078" stroke="#300840" stroke-width="0.6"/>
<path d="M434.92 402.98L437.1 406.89L432.73 406.89Z" fill="#5a1078" stroke="#300840" stroke-width="0.6"/>
<path d="M437.24 402.47L439.43 406.38L435.06 406.38Z" fill="#5a1078" stroke="#300840" stroke-width="0.6"/>
<path d="M439.56 400.71L441.75 404.62L437.38 404.62Z" fill="#5a1078" stroke="#300840" stroke-width="0.6"/>
<path d="M441.88 402.35L444.06 406.26L439.69 406.26Z" fill="#5a1078" stroke="#300840" stroke-width="0.6"/>
<path d="M444.2 400.53L446.38 404.44L442.01 404.44Z" fill="#5a1078" stroke="#300840" stroke-width="0.6"/>
<path d="M446.52 403.34L448.7 407.25L444.33 407.25Z" fill="#5a1078" stroke="#300840" stroke-width="0.6"/>
<path d="M448.84 403.22L451.03 407.13L446.66 407.13Z" fill="#5a1078" stroke="#300840" stroke-width="0.6"/>
<path d="M451.16 401.04L453.34 404.95L448.97 404.95Z" fill="#5a1078" stroke="#300840" stroke-width="0.6"/>
<path d="M453.48 402.87L455.67 406.78L451.3 406.78Z" fill="#5a1078" stroke="#300840" stroke-width="0.6"/>
<path d="M455.8 402.55L457.98 406.46L453.61 406.46Z" fill="#5a1078" stroke="#300840" stroke-width="0.6"/>
<path d="M458.12 403.69L460.31 407.6L455.94 407.6Z" fill="#5a1078" stroke="#300840" stroke-width="0.6"/>
<path d="M460.44 401.3L462.62 405.21L458.25 405.21Z" fill="#5a1078" stroke="#300840" stroke-width="0.6"/>
<path d="M462.76 402.09L464.94 406L460.57 406Z" fill="#5a1078" stroke="#300840" stroke-width="0.6"/>
<path d="M465.08 403.53L467.26 407.44L462.89 407.44Z" fill="#5a1078" stroke="#300840" stroke-width="0.6"/>
<path d="M467.4 402.21L469.58 406.12L465.21 406.12Z" fill="#5a1078" stroke="#300840" stroke-width="0.6"/>
<path d="M469.72 401.35L471.91 405.26L467.54 405.26Z" fill="#5a1078" stroke="#300840" stroke-width="0.6"/>
<path d="M472.04 402.1L474.22 406.01L469.85 406.01Z" fill="#5a1078" stroke="#300840" stroke-width="0.6"/>
<path d="M474.36 403.07L476.55 406.98L472.18 406.98Z" fill="#5a1078" stroke="#300840" stroke-width="0.6"/>
<path d="M476.68 404.04L478.86 407.95L474.49 407.95Z" fill="#5a1078" stroke="#300840" stroke-width="0.6"/>
<path d="M479 403.66L481.19 407.57L476.81 407.57Z" fill="#5a1078" stroke="#300840" stroke-width="0.6"/>
<path d="M481.32 402.73L483.5 406.64L479.13 406.64Z" fill="#5a1078" stroke="#300840" stroke-width="0.6"/>
<path d="M483.64 403.19L485.82 407.1L481.45 407.1Z" fill="#5a1078" stroke="#300840" stroke-width="0.6"/>
<path d="M485.96 402.71L488.14 406.62L483.77 406.62Z" fill="#5a1078" stroke="#300840" stroke-width="0.6"/>
<path d="M488.28 402L490.46 405.91L486.09 405.91Z" fill="#5a1078" stroke="#300840" stroke-width="0.6"/>
<path d="M490.6 403.31L492.79 407.22L488.42 407.22Z" fill="#5a1078" stroke="#300840" stroke-width="0.6"/>
<path d="M492.92 403.67L495.1 407.58L490.73 407.58Z" fill="#5a1078" stroke="#300840" stroke-width="0.6"/>
<path d="M495.24 402.7L497.43 406.61L493.06 406.61Z" fill="#5a1078" stroke="#300840" stroke-width="0.6"/>
<path d="M497.56 402.52L499.74 406.43L495.37 406.43Z" fill="#5a1078" stroke="#300840" stroke-width="0.6"/>
<path d="M499.88 401.8L502.06 405.71L497.69 405.71Z" fill="#5a1078" stroke="#300840" stroke-width="0.6"/>
<path d="M502.2 403.96L504.38 407.87L500.01 407.87Z" fill="#5a1078" stroke="#300840" stroke-width="0.6"/>
<path d="M504.52 402.06L506.7 405.97L502.33 405.97Z" fill="#5a1078" stroke="#300840" stroke-width="0.6"/>
<path d="M506.84 404.25L509.02 408.16L504.65 408.16Z" fill="#5a1078" stroke="#300840" stroke-width="0.6"/>
<path d="M509.16 404.26L511.34 408.17L506.97 408.17Z" fill="#5a1078" stroke="#300840" stroke-width="0.6"/>
<path d="M511.48 402.72L513.66 406.63L509.3 406.63Z" fill="#5a1078" stroke="#300840" stroke-width="0.6"/>
<path d="M513.8 403.85L515.98 407.76L511.61 407.76Z" fill="#5a1078" stroke="#300840" stroke-width="0.6"/>
<path d="M305 404.58L307.19 408.5L302.81 408.5Z" fill="#e06048" stroke="#b03828" stroke-width="0.6"/>
<path d="M307.32 404.07L309.5 407.98L305.13 407.98Z" fill="#e06048" stroke="#b03828" stroke-width="0.6"/>
<path d="M309.64 404.14L311.82 408.05L307.45 408.05Z" fill="#e06048" stroke="#b03828" stroke-width="0.6"/>
<path d="M311.96 397.54L314.14 401.45L309.77 401.45Z" fill="#e06048" stroke="#b03828" stroke-width="0.6"/>
<path d="M314.28 387.79L316.46 391.7L312.09 391.7Z" fill="#e06048" stroke="#b03828" stroke-width="0.6"/>
<path d="M316.6 377.9L318.79 381.81L314.42 381.81Z" fill="#e06048" stroke="#b03828" stroke-width="0.6"/>
<path d="M318.92 370.47L321.11 374.38L316.74 374.38Z" fill="#e06048" stroke="#b03828" stroke-width="0.6"/>
<path d="M321.24 367.62L323.43 371.53L319.06 371.53Z" fill="#e06048" stroke="#b03828" stroke-width="0.6"/>
<path d="M323.56 367.63L325.75 371.54L321.38 371.54Z" fill="#e06048" stroke="#b03828" stroke-width="0.6"/>
<path d="M325.88 369.32L328.06 373.23L323.69 373.23Z" fill="#e06048" stroke="#b03828" stroke-width="0.6"/>
<path d="M328.2 371.76L330.38 375.67L326.01 375.67Z" fill="#e06048" stroke="#b03828" stroke-width="0.6"/>
<path d="M330.52 373.75L332.7 377.66L328.33 377.66Z" fill="#e06048" stroke="#b03828" stroke-width="0.6"/>
<path d="M332.84 380.08L335.02 383.99L330.65 383.99Z" fill="#e06048" stroke="#b03828" stroke-width="0.6"/>
<path d="M335.16 382.44L337.34 386.35L332.97 386.35Z" fill="#e06048" stroke="#b03828" stroke-width="0.6"/>
<path d="M337.48 382.49L339.67 386.4L335.3 386.4Z" fill="#e06048" stroke="#b03828" stroke-width="0.6"/>
<path d="M339.8 386.6L341.99 390.51L337.62 390.51Z" fill="#e06048" stroke="#b03828" stroke-width="0.6"/>
<path d="M342.12 386.78L344.31 390.69L339.94 390.69Z" fill="#e06048" stroke="#b03828" stroke-width="0.6"/>
<path d="M344.44 387.82L346.62 391.73L342.25 391.73Z" fill="#e06048" stroke="#b03828" stroke-width="0.6"/>
<path d="M346.76 388.92L348.94 392.83L344.57 392.83Z" fill="#e06048" stroke="#b03828" stroke-width="0.6"/>
<path d="M349.08 392.46L351.26 396.37L346.89 396.37Z" fill="#e06048" stroke="#b03828" stroke-width="0.6"/>
<path d="M351.4 392.3L353.58 396.21L349.21 396.21Z" fill="#e06048" stroke="#b03828" stroke-width="0.6"/>
<path d="M353.72 393.63L355.91 397.54L351.54 397.54Z" fill="#e06048" stroke="#b03828" stroke-width="0.6"/>
<path d="M356.04 392.85L358.23 396.76L353.86 396.76Z" fill="#e06048" stroke="#b03828" stroke-width="0.6"/>
<path d="M358.36 394.68L360.55 398.59L356.18 398.59Z" fill="#e06048" stroke="#b03828" stroke-width="0.6"/>
<path d="M360.68 396.88L362.87 400.79L358.5 400.79Z" fill="#e06048" stroke="#b03828" stroke-width="0.6"/>
<path d="M363 396.37L365.19 400.28L360.81 400.28Z" fill="#e06048" stroke="#b03828" stroke-width="0.6"/>
<path d="M365.32 396.1L367.5 400.01L363.13 400.01Z" fill="#e06048" stroke="#b03828" stroke-width="0.6"/>
<path d="M367.64 396.12L369.82 400.03L365.45 400.03Z" fill="#e06048" stroke="#b03828" stroke-width="0.6"/>
<path d="M369.96 398.71L372.14 402.62L367.77 402.62Z" fill="#e06048" stroke="#b03828" stroke-width="0.6"/>
<path d="M372.28 397.53L374.46 401.44L370.09 401.44Z" fill="#e06048" stroke="#b03828" stroke-width="0.6"/>
<path d="M374.6 399.15L376.79 403.06L372.42 403.06Z" fill="#e06048" stroke="#b03828" stroke-width="0.6"/>
<path d="M376.92 399.89L379.11 403.8L374.74 403.8Z" fill="#e06048" stroke="#b03828" stroke-width="0.6"/>
<path d="M379.24 398.94L381.43 402.85L377.06 402.85Z" fill="#e06048" stroke="#b03828" stroke-width="0.6"/>
<path d="M381.56 399.28L383.75 403.19L379.38 403.19Z" fill="#e06048" stroke="#b03828" stroke-width="0.6"/>
<path d="M383.88 401.3L386.06 405.21L381.69 405.21Z" fill="#e06048" stroke="#b03828" stroke-width="0.6"/>
<path d="M386.2 401.65L388.38 405.56L384.01 405.56Z" fill="#e06048" stroke="#b03828" stroke-width="0.6"/>
<path d="M388.52 402.43L390.7 406.34L386.33 406.34Z" fill="#e06048" stroke="#b03828" stroke-width="0.6"/>
<path d="M390.84 399.85L393.02 403.76L388.65 403.76Z" fill="#e06048" stroke="#b03828" stroke-width="0.6"/>
<path d="M393.16 401.94L395.34 405.85L390.97 405.85Z" fill="#e06048" stroke="#b03828" stroke-width="0.6"/>
<path d="M395.48 402.6L397.67 406.51L393.3 406.51Z" fill="#e06048" stroke="#b03828" stroke-width="0.6"/>
<path d="M397.8 401.44L399.99 405.35L395.62 405.35Z" fill="#e06048" stroke="#b03828" stroke-width="0.6"/>
<path d="M400.12 401.29L402.31 405.2L397.94 405.2Z" fill="#e06048" stroke="#b03828" stroke-width="0.6"/>
<path d="M402.44 401.5L404.62 405.41L400.25 405.41Z" fill="#e06048" stroke="#b03828" stroke-width="0.6"/>
<path d="M404.76 401.66L406.94 405.57L402.57 405.57Z" fill="#e06048" stroke="#b03828" stroke-width="0.6"/>
<path d="M407.08 402.16L409.26 406.07L404.89 406.07Z" fill="#e06048" stroke="#b03828" stroke-width="0.6"/>
<path d="M409.4 401.82L411.58 405.73L407.21 405.73Z" fill="#e06048" stroke="#b03828" stroke-width="0.6"/>
<path d="M411.72 402.9L413.91 406.81L409.54 406.81Z" fill="#e06048" stroke="#b03828" stroke-width="0.6"/>
<path d="M414.04 401.96L416.22 405.87L411.85 405.87Z" fill="#e06048" stroke="#b03828" stroke-width="0.6"/>
<path d="M416.36 403.37L418.55 407.28L414.18 407.28Z" fill="#e06048" stroke="#b03828" stroke-width="0.6"/>
<path d="M418.68 401.81L420.87 405.72L416.5 405.72Z" fill="#e06048" stroke="#b03828" stroke-width="0.6"/>
<path d="M421 403.41L423.19 407.32L418.81 407.32Z" fill="#e06048" stroke="#b03828" stroke-width="0.6"/>
<path d="M423.32 401.57L425.5 405.48L421.13 405.48Z" fill="#e06048" stroke="#b03828" stroke-width="0.6"/>
<path d="M425.64 402.31L427.82 406.22L423.45 406.22Z" fill="#e06048" stroke="#b03828" stroke-width="0.6"/>
<path d="M427.96 403.47L430.14 407.38L425.77 407.38Z" fill="#e06048" stroke="#b03828" stroke-width="0.6"/>
<path d="M430.28 402.06L432.46 405.97L428.09 405.97Z" fill="#e06048" stroke="#b03828" stroke-width="0.6"/>
<path d="M432.6 402.02L434.79 405.93L430.42 405.93Z" fill="#e06048" stroke="#b03828" stroke-width="0.6"/>
<path d="M434.92 404.38L437.1 408.29L432.73 408.29Z" fill="#e06048" stroke="#b03828" stroke-width="0.6"/>
<path d="M437.24 401.58L439.43 405.49L435.06 405.49Z" fill="#e06048" stroke="#b03828" stroke-width="0.6"/>
<path d="M439.56 402.21L441.75 406.12L437.38 406.12Z" fill="#e06048" stroke="#b03828" stroke-width="0.6"/>
<path d="M441.88 403.1L444.06 407.01L439.69 407.01Z" fill="#e06048" stroke="#b03828" stroke-width="0.6"/>
<path d="M444.2 402.82L446.38 406.73L442.01 406.73Z" fill="#e06048" stroke="#b03828" stroke-width="0.6"/>
<path d="M446.52 403.26L448.7 407.17L444.33 407.17Z" fill="#e06048" stroke="#b03828" stroke-width="0.6"/>
<path d="M448.84 401.82L451.03 405.73L446.66 405.73Z" fill="#e06048" stroke="#b03828" stroke-width="0.6"/>
<path d="M451.16 404.22L453.34 408.13L448.97 408.13Z" fill="#e06048" stroke="#b03828" stroke-width="0.6"/>
<path d="M453.48 404.13L455.67 408.04L451.3 408.04Z" fill="#e06048" stroke="#b03828" stroke-width="0.6"/>
<path d="M455.8 401.85L457.98 405.76L453.61 405.76Z" fill="#e06048" stroke="#b03828" stroke-width="0.6"/>
<path d="M458.12 401.8L460.31 405.71L455.94 405.71Z" fill="#e06048" stroke="#b03828" stroke-width="0.6"/>
<path d="M460.44 402.59L462.62 406.5L458.25 406.5Z" fill="#e06048" stroke="#b03828" stroke-width="0.6"/>
<path d="M462.76 404.32L464.94 408.23L460.57 408.23Z" fill="#e06048" stroke="#b03828" stroke-width="0.6"/>
<path d="M465.08 403.9L467.26 407.81L462.89 407.81Z" fill="#e06048" stroke="#b03828" stroke-width="0.6"/>
<path d="M467.4 403.08L469.58 406.99L465.21 406.99Z" fill="#e06048" stroke="#b03828" stroke-width="0.6"/>
<path d="M469.72 402.24L471.91 406.15L467.54 406.15Z" fill="#e06048" stroke="#b03828" stroke-width="0.6"/>
<path d="M472.04 403.82L474.22 407.73L469.85 407.73Z" fill="#e06048" stroke="#b03828" stroke-width="0.6"/>
<path d="M474.36 403.61L476.55 407.52L472.18 407.52Z" fill="#e06048" stroke="#b03828" stroke-width="0.6"/>
<path d="M476.68 403.58L478.86 407.49L474.49 407.49Z" fill="#e06048" stroke="#b03828" stroke-width="0.6"/>
<path d="M479 404.32L481.19 408.23L476.81 408.23Z" fill="#e06048" stroke="#b03828" stroke-width="0.6"/>
<path d="M481.32 402.05L483.5 405.96L479.13 405.96Z" fill="#e06048" stroke="#b03828" stroke-width="0.6"/>
<path d="M483.64 402.09L485.82 406L481.45 406Z" fill="#e06048" stroke="#b03828" stroke-width="0.6"/>
<path d="M485.96 402.1L488.14 406.01L483.77 406.01Z" fill="#e06048" stroke="#b03828" stroke-width="0.6"/>
<path d="M488.28 403.43L490.46 407.34L486.09 407.34Z" fill="#e06048" stroke="#b03828" stroke-width="0.6"/>
<path d="M490.6 404.49L492.79 408.4L488.42 408.4Z" fill="#e06048" stroke="#b03828" stroke-width="0.6"/>
<path d="M492.92 402.7L495.1 406.61L490.73 406.61Z" fill="#e06048" stroke="#b03828" stroke-width="0.6"/>
<path d="M495.24 404.58L497.43 408.5L493.06 408.5Z" fill="#e06048" stroke="#b03828" stroke-width="0.6"/>
<path d="M497.56 403.11L499.74 407.02L495.37 407.02Z" fill="#e06048" stroke="#b03828" stroke-width="0.6"/>
<path d="M499.88 403.84L502.06 407.75L497.69 407.75Z" fill="#e06048" stroke="#b03828" stroke-width="0.6"/>
<path d="M502.2 403.06L504.38 406.97L500.01 406.97Z" fill="#e06048" stroke="#b03828" stroke-width="0.6"/>
<path d="M504.52 402.77L506.7 406.68L502.33 406.68Z" fill="#e06048" stroke="#b03828" stroke-width="0.6"/>
<path d="M506.84 402.13L509.02 406.04L504.65 406.04Z" fill="#e06048" stroke="#b03828" stroke-width="0.6"/>
<path d="M509.16 403.46L511.34 407.37L506.97 407.37Z" fill="#e06048" stroke="#b03828" stroke-width="0.6"/>
<path d="M511.48 404.56L513.66 408.47L509.3 408.47Z" fill="#e06048" stroke="#b03828" stroke-width="0.6"/>
<path d="M513.8 403.9L515.98 407.81L511.61 407.81Z" fill="#e06048" stroke="#b03828" stroke-width="0.6"/>
<rect x="303" y="405" width="4" height="4" fill="#858585" stroke="#4a4a4a" stroke-width="0.6"/>
<rect x="305.32" y="404.49" width="4" height="4" fill="#858585" stroke="#4a4a4a" stroke-width="0.6"/>
<rect x="307.64" y="400.54" width="4" height="4" fill="#858585" stroke="#4a4a4a" stroke-width="0.6"/>
<rect x="309.96" y="392.04" width="4" height="4" fill="#858585" stroke="#4a4a4a" stroke-width="0.6"/>
<rect x="312.28" y="367.74" width="4" height="4" fill="#858585" stroke="#4a4a4a" stroke-width="0.6"/>
<rect x="314.6" y="333.91" width="4" height="4" fill="#858585" stroke="#4a4a4a" stroke-width="0.6"/>
<rect x="316.92" y="316.19" width="4" height="4" fill="#858585" stroke="#4a4a4a" stroke-width="0.6"/>
<rect x="319.24" y="316.29" width="4" height="4" fill="#858585" stroke="#4a4a4a" stroke-width="0.6"/>
<rect x="321.56" y="313.94" width="4" height="4" fill="#858585" stroke="#4a4a4a" stroke-width="0.6"/>
<rect x="323.88" y="321.6" width="4" height="4" fill="#858585" stroke="#4a4a4a" stroke-width="0.6"/>
<rect x="326.2" y="327.16" width="4" height="4" fill="#858585" stroke="#4a4a4a" stroke-width="0.6"/>
<rect x="328.52" y="327.58" width="4" height="4" fill="#858585" stroke="#4a4a4a" stroke-width="0.6"/>
<rect x="330.84" y="332.44" width="4" height="4" fill="#858585" stroke="#4a4a4a" stroke-width="0.6"/>
<rect x="333.16" y="339.76" width="4" height="4" fill="#858585" stroke="#4a4a4a" stroke-width="0.6"/>
<rect x="335.48" y="345.01" width="4" height="4" fill="#858585" stroke="#4a4a4a" stroke-width="0.6"/>
<rect x="337.8" y="348.47" width="4" height="4" fill="#858585" stroke="#4a4a4a" stroke-width="0.6"/>
<rect x="340.12" y="354.03" width="4" height="4" fill="#858585" stroke="#4a4a4a" stroke-width="0.6"/>
<rect x="342.44" y="356.69" width="4" height="4" fill="#858585" stroke="#4a4a4a" stroke-width="0.6"/>
<rect x="344.76" y="357.82" width="4" height="4" fill="#858585" stroke="#4a4a4a" stroke-width="0.6"/>
<rect x="347.08" y="361.33" width="4" height="4" fill="#858585" stroke="#4a4a4a" stroke-width="0.6"/>
<rect x="349.4" y="362.57" width="4" height="4" fill="#858585" stroke="#4a4a4a" stroke-width="0.6"/>
<rect x="351.72" y="362.56" width="4" height="4" fill="#858585" stroke="#4a4a4a" stroke-width="0.6"/>
<rect x="354.04" y="363.45" width="4" height="4" fill="#858585" stroke="#4a4a4a" stroke-width="0.6"/>
<rect x="356.36" y="364.76" width="4" height="4" fill="#858585" stroke="#4a4a4a" stroke-width="0.6"/>
<rect x="358.68" y="365.54" width="4" height="4" fill="#858585" stroke="#4a4a4a" stroke-width="0.6"/>
<rect x="361" y="368.2" width="4" height="4" fill="#858585" stroke="#4a4a4a" stroke-width="0.6"/>
<rect x="363.32" y="371.14" width="4" height="4" fill="#858585" stroke="#4a4a4a" stroke-width="0.6"/>
<rect x="365.64" y="371.38" width="4" height="4" fill="#858585" stroke="#4a4a4a" stroke-width="0.6"/>
<rect x="367.96" y="375.15" width="4" height="4" fill="#858585" stroke="#4a4a4a" stroke-width="0.6"/>
<rect x="370.28" y="375.72" width="4" height="4" fill="#858585" stroke="#4a4a4a" stroke-width="0.6"/>
<rect x="372.6" y="377.18" width="4" height="4" fill="#858585" stroke="#4a4a4a" stroke-width="0.6"/>
<rect x="374.92" y="379.52" width="4" height="4" fill="#858585" stroke="#4a4a4a" stroke-width="0.6"/>
<rect x="377.24" y="380.51" width="4" height="4" fill="#858585" stroke="#4a4a4a" stroke-width="0.6"/>
<rect x="379.56" y="381.73" width="4" height="4" fill="#858585" stroke="#4a4a4a" stroke-width="0.6"/>
<rect x="381.88" y="379.8" width="4" height="4" fill="#858585" stroke="#4a4a4a" stroke-width="0.6"/>
<rect x="384.2" y="380.78" width="4" height="4" fill="#858585" stroke="#4a4a4a" stroke-width="0.6"/>
<rect x="386.52" y="384.06" width="4" height="4" fill="#858585" stroke="#4a4a4a" stroke-width="0.6"/>
<rect x="388.84" y="384.01" width="4" height="4" fill="#858585" stroke="#4a4a4a" stroke-width="0.6"/>
<rect x="391.16" y="382.71" width="4" height="4" fill="#858585" stroke="#4a4a4a" stroke-width="0.6"/>
<rect x="393.48" y="383.26" width="4" height="4" fill="#858585" stroke="#4a4a4a" stroke-width="0.6"/>
<rect x="395.8" y="384.43" width="4" height="4" fill="#858585" stroke="#4a4a4a" stroke-width="0.6"/>
<rect x="398.12" y="385.77" width="4" height="4" fill="#858585" stroke="#4a4a4a" stroke-width="0.6"/>
<rect x="400.44" y="386.17" width="4" height="4" fill="#858585" stroke="#4a4a4a" stroke-width="0.6"/>
<rect x="402.76" y="387.17" width="4" height="4" fill="#858585" stroke="#4a4a4a" stroke-width="0.6"/>
<rect x="405.08" y="389.13" width="4" height="4" fill="#858585" stroke="#4a4a4a" stroke-width="0.6"/>
<rect x="407.4" y="390.3" width="4" height="4" fill="#858585" stroke="#4a4a4a" stroke-width="0.6"/>
<rect x="409.72" y="393.44" width="4" height="4" fill="#858585" stroke="#4a4a4a" stroke-width="0.6"/>
<rect x="412.04" y="395.35" width="4" height="4" fill="#858585" stroke="#4a4a4a" stroke-width="0.6"/>
<rect x="414.36" y="394.16" width="4" height="4" fill="#858585" stroke="#4a4a4a" stroke-width="0.6"/>
<rect x="416.68" y="393.77" width="4" height="4" fill="#858585" stroke="#4a4a4a" stroke-width="0.6"/>
<rect x="419" y="395.75" width="4" height="4" fill="#858585" stroke="#4a4a4a" stroke-width="0.6"/>
<rect x="421.32" y="395.12" width="4" height="4" fill="#858585" stroke="#4a4a4a" stroke-width="0.6"/>
<rect x="423.64" y="394.91" width="4" height="4" fill="#858585" stroke="#4a4a4a" stroke-width="0.6"/>
<rect x="425.96" y="396.43" width="4" height="4" fill="#858585" stroke="#4a4a4a" stroke-width="0.6"/>
<rect x="428.28" y="394.3" width="4" height="4" fill="#858585" stroke="#4a4a4a" stroke-width="0.6"/>
<rect x="430.6" y="393.88" width="4" height="4" fill="#858585" stroke="#4a4a4a" stroke-width="0.6"/>
<rect x="432.92" y="396.64" width="4" height="4" fill="#858585" stroke="#4a4a4a" stroke-width="0.6"/>
<rect x="435.24" y="394.94" width="4" height="4" fill="#858585" stroke="#4a4a4a" stroke-width="0.6"/>
<rect x="437.56" y="395.88" width="4" height="4" fill="#858585" stroke="#4a4a4a" stroke-width="0.6"/>
<rect x="439.88" y="396.32" width="4" height="4" fill="#858585" stroke="#4a4a4a" stroke-width="0.6"/>
<rect x="442.2" y="397.08" width="4" height="4" fill="#858585" stroke="#4a4a4a" stroke-width="0.6"/>
<rect x="444.52" y="396.83" width="4" height="4" fill="#858585" stroke="#4a4a4a" stroke-width="0.6"/>
<rect x="446.84" y="396.34" width="4" height="4" fill="#858585" stroke="#4a4a4a" stroke-width="0.6"/>
<rect x="449.16" y="398.2" width="4" height="4" fill="#858585" stroke="#4a4a4a" stroke-width="0.6"/>
<rect x="451.48" y="399" width="4" height="4" fill="#858585" stroke="#4a4a4a" stroke-width="0.6"/>
<rect x="453.8" y="400.11" width="4" height="4" fill="#858585" stroke="#4a4a4a" stroke-width="0.6"/>
<rect x="456.12" y="399.86" width="4" height="4" fill="#858585" stroke="#4a4a4a" stroke-width="0.6"/>
<rect x="458.44" y="402.04" width="4" height="4" fill="#858585" stroke="#4a4a4a" stroke-width="0.6"/>
<rect x="460.76" y="400.97" width="4" height="4" fill="#858585" stroke="#4a4a4a" stroke-width="0.6"/>
<rect x="463.08" y="400.28" width="4" height="4" fill="#858585" stroke="#4a4a4a" stroke-width="0.6"/>
<rect x="465.4" y="401.61" width="4" height="4" fill="#858585" stroke="#4a4a4a" stroke-width="0.6"/>
<rect x="467.72" y="402.67" width="4" height="4" fill="#858585" stroke="#4a4a4a" stroke-width="0.6"/>
<rect x="470.04" y="401.3" width="4" height="4" fill="#858585" stroke="#4a4a4a" stroke-width="0.6"/>
<rect x="472.36" y="401.69" width="4" height="4" fill="#858585" stroke="#4a4a4a" stroke-width="0.6"/>
<rect x="474.68" y="401.02" width="4" height="4" fill="#858585" stroke="#4a4a4a" stroke-width="0.6"/>
<rect x="477" y="398.86" width="4" height="4" fill="#858585" stroke="#4a4a4a" stroke-width="0.6"/>
<rect x="479.32" y="399.4" width="4" height="4" fill="#858585" stroke="#4a4a4a" stroke-width="0.6"/>
<rect x="481.64" y="401.88" width="4" height="4" fill="#858585" stroke="#4a4a4a" stroke-width="0.6"/>
<rect x="483.96" y="400.96" width="4" height="4" fill="#858585" stroke="#4a4a4a" stroke-width="0.6"/>
<rect x="486.28" y="402.67" width="4" height="4" fill="#858585" stroke="#4a4a4a" stroke-width="0.6"/>
<rect x="488.6" y="401.02" width="4" height="4" fill="#858585" stroke="#4a4a4a" stroke-width="0.6"/>
<rect x="490.92" y="401.23" width="4" height="4" fill="#858585" stroke="#4a4a4a" stroke-width="0.6"/>
<rect x="493.24" y="404.11" width="4" height="4" fill="#858585" stroke="#4a4a4a" stroke-width="0.6"/>
<rect x="495.56" y="403.82" width="4" height="4" fill="#858585" stroke="#4a4a4a" stroke-width="0.6"/>
<rect x="497.88" y="404.27" width="4" height="4" fill="#858585" stroke="#4a4a4a" stroke-width="0.6"/>
<rect x="500.2" y="404.45" width="4" height="4" fill="#858585" stroke="#4a4a4a" stroke-width="0.6"/>
<rect x="502.52" y="402.85" width="4" height="4" fill="#858585" stroke="#4a4a4a" stroke-width="0.6"/>
<rect x="504.84" y="402.32" width="4" height="4" fill="#858585" stroke="#4a4a4a" stroke-width="0.6"/>
<rect x="507.16" y="402.4" width="4" height="4" fill="#858585" stroke="#4a4a4a" stroke-width="0.6"/>
<rect x="509.48" y="403.34" width="4" height="4" fill="#858585" stroke="#4a4a4a" stroke-width="0.6"/>
<rect x="511.8" y="404.54" width="4" height="4" fill="#858585" stroke="#4a4a4a" stroke-width="0.6"/>
<circle cx="305" cy="407" r="2.04" fill="#8a8a8a" stroke="#4c4c4c" stroke-width="0.6"/>
<circle cx="307.32" cy="406.54" r="2.04" fill="#8a8a8a" stroke="#4c4c4c" stroke-width="0.6"/>
<circle cx="309.64" cy="404.52" r="2.04" fill="#8a8a8a" stroke="#4c4c4c" stroke-width="0.6"/>
<circle cx="311.96" cy="396.18" r="2.04" fill="#8a8a8a" stroke="#4c4c4c" stroke-width="0.6"/>
<circle cx="314.28" cy="376.91" r="2.04" fill="#8a8a8a" stroke="#4c4c4c" stroke-width="0.6"/>
<circle cx="316.6" cy="367.28" r="2.04" fill="#8a8a8a" stroke="#4c4c4c" stroke-width="0.6"/>
<circle cx="318.92" cy="363.45" r="2.04" fill="#8a8a8a" stroke="#4c4c4c" stroke-width="0.6"/>
<circle cx="321.24" cy="360.25" r="2.04" fill="#8a8a8a" stroke="#4c4c4c" stroke-width="0.6"/>
<circle cx="323.56" cy="360.75" r="2.04" fill="#8a8a8a" stroke="#4c4c4c" stroke-width="0.6"/>
<circle cx="325.88" cy="362.98" r="2.04" fill="#8a8a8a" stroke="#4c4c4c" stroke-width="0.6"/>
<circle cx="328.2" cy="366.48" r="2.04" fill="#8a8a8a" stroke="#4c4c4c" stroke-width="0.6"/>
<circle cx="330.52" cy="371.75" r="2.04" fill="#8a8a8a" stroke="#4c4c4c" stroke-width="0.6"/>
<circle cx="332.84" cy="375.07" r="2.04" fill="#8a8a8a" stroke="#4c4c4c" stroke-width="0.6"/>
<circle cx="335.16" cy="377.74" r="2.04" fill="#8a8a8a" stroke="#4c4c4c" stroke-width="0.6"/>
<circle cx="337.48" cy="379.51" r="2.04" fill="#8a8a8a" stroke="#4c4c4c" stroke-width="0.6"/>
<circle cx="339.8" cy="383.47" r="2.04" fill="#8a8a8a" stroke="#4c4c4c" stroke-width="0.6"/>
<circle cx="342.12" cy="387.41" r="2.04" fill="#8a8a8a" stroke="#4c4c4c" stroke-width="0.6"/>
<circle cx="344.44" cy="388.92" r="2.04" fill="#8a8a8a" stroke="#4c4c4c" stroke-width="0.6"/>
<circle cx="346.76" cy="389.26" r="2.04" fill="#8a8a8a" stroke="#4c4c4c" stroke-width="0.6"/>
<circle cx="349.08" cy="393.19" r="2.04" fill="#8a8a8a" stroke="#4c4c4c" stroke-width="0.6"/>
<circle cx="351.4" cy="392.01" r="2.04" fill="#8a8a8a" stroke="#4c4c4c" stroke-width="0.6"/>
<circle cx="353.72" cy="395" r="2.04" fill="#8a8a8a" stroke="#4c4c4c" stroke-width="0.6"/>
<circle cx="356.04" cy="395.92" r="2.04" fill="#8a8a8a" stroke="#4c4c4c" stroke-width="0.6"/>
<circle cx="358.36" cy="396.69" r="2.04" fill="#8a8a8a" stroke="#4c4c4c" stroke-width="0.6"/>
<circle cx="360.68" cy="398.65" r="2.04" fill="#8a8a8a" stroke="#4c4c4c" stroke-width="0.6"/>
<circle cx="363" cy="399.54" r="2.04" fill="#8a8a8a" stroke="#4c4c4c" stroke-width="0.6"/>
<circle cx="365.32" cy="399.68" r="2.04" fill="#8a8a8a" stroke="#4c4c4c" stroke-width="0.6"/>
<circle cx="367.64" cy="400.12" r="2.04" fill="#8a8a8a" stroke="#4c4c4c" stroke-width="0.6"/>
<circle cx="369.96" cy="399.78" r="2.04" fill="#8a8a8a" stroke="#4c4c4c" stroke-width="0.6"/>
<circle cx="372.28" cy="402.52" r="2.04" fill="#8a8a8a" stroke="#4c4c4c" stroke-width="0.6"/>
<circle cx="374.6" cy="402.64" r="2.04" fill="#8a8a8a" stroke="#4c4c4c" stroke-width="0.6"/>
<circle cx="376.92" cy="402.11" r="2.04" fill="#8a8a8a" stroke="#4c4c4c" stroke-width="0.6"/>
<circle cx="379.24" cy="401.2" r="2.04" fill="#8a8a8a" stroke="#4c4c4c" stroke-width="0.6"/>
<circle cx="381.56" cy="402.11" r="2.04" fill="#8a8a8a" stroke="#4c4c4c" stroke-width="0.6"/>
<circle cx="383.88" cy="404.16" r="2.04" fill="#8a8a8a" stroke="#4c4c4c" stroke-width="0.6"/>
<circle cx="386.2" cy="402.01" r="2.04" fill="#8a8a8a" stroke="#4c4c4c" stroke-width="0.6"/>
<circle cx="388.52" cy="402.82" r="2.04" fill="#8a8a8a" stroke="#4c4c4c" stroke-width="0.6"/>
<circle cx="390.84" cy="401.82" r="2.04" fill="#8a8a8a" stroke="#4c4c4c" stroke-width="0.6"/>
<circle cx="393.16" cy="402.39" r="2.04" fill="#8a8a8a" stroke="#4c4c4c" stroke-width="0.6"/>
<circle cx="395.48" cy="402.88" r="2.04" fill="#8a8a8a" stroke="#4c4c4c" stroke-width="0.6"/>
<circle cx="397.8" cy="403.24" r="2.04" fill="#8a8a8a" stroke="#4c4c4c" stroke-width="0.6"/>
<circle cx="400.12" cy="402.76" r="2.04" fill="#8a8a8a" stroke="#4c4c4c" stroke-width="0.6"/>
<circle cx="402.44" cy="404.54" r="2.04" fill="#8a8a8a" stroke="#4c4c4c" stroke-width="0.6"/>
<circle cx="404.76" cy="402.87" r="2.04" fill="#8a8a8a" stroke="#4c4c4c" stroke-width="0.6"/>
<circle cx="407.08" cy="404.57" r="2.04" fill="#8a8a8a" stroke="#4c4c4c" stroke-width="0.6"/>
<circle cx="409.4" cy="404.2" r="2.04" fill="#8a8a8a" stroke="#4c4c4c" stroke-width="0.6"/>
<circle cx="411.72" cy="403.04" r="2.04" fill="#8a8a8a" stroke="#4c4c4c" stroke-width="0.6"/>
<circle cx="414.04" cy="404.05" r="2.04" fill="#8a8a8a" stroke="#4c4c4c" stroke-width="0.6"/>
<circle cx="416.36" cy="404.7" r="2.04" fill="#8a8a8a" stroke="#4c4c4c" stroke-width="0.6"/>
<circle cx="418.68" cy="404.21" r="2.04" fill="#8a8a8a" stroke="#4c4c4c" stroke-width="0.6"/>
<circle cx="421" cy="403.22" r="2.04" fill="#8a8a8a" stroke="#4c4c4c" stroke-width="0.6"/>
<circle cx="423.32" cy="402.44" r="2.04" fill="#8a8a8a" stroke="#4c4c4c" stroke-width="0.6"/>
<circle cx="425.64" cy="405.4" r="2.04" fill="#8a8a8a" stroke="#4c4c4c" stroke-width="0.6"/>
<circle cx="427.96" cy="405.23" r="2.04" fill="#8a8a8a" stroke="#4c4c4c" stroke-width="0.6"/>
<circle cx="430.28" cy="403.14" r="2.04" fill="#8a8a8a" stroke="#4c4c4c" stroke-width="0.6"/>
<circle cx="432.6" cy="404.89" r="2.04" fill="#8a8a8a" stroke="#4c4c4c" stroke-width="0.6"/>
<circle cx="434.92" cy="404.32" r="2.04" fill="#8a8a8a" stroke="#4c4c4c" stroke-width="0.6"/>
<circle cx="437.24" cy="404.88" r="2.04" fill="#8a8a8a" stroke="#4c4c4c" stroke-width="0.6"/>
<circle cx="439.56" cy="402.85" r="2.04" fill="#8a8a8a" stroke="#4c4c4c" stroke-width="0.6"/>
<circle cx="441.88" cy="402.93" r="2.04" fill="#8a8a8a" stroke="#4c4c4c" stroke-width="0.6"/>
<circle cx="444.2" cy="403.43" r="2.04" fill="#8a8a8a" stroke="#4c4c4c" stroke-width="0.6"/>
<circle cx="446.52" cy="405.57" r="2.04" fill="#8a8a8a" stroke="#4c4c4c" stroke-width="0.6"/>
<circle cx="448.84" cy="403.9" r="2.04" fill="#8a8a8a" stroke="#4c4c4c" stroke-width="0.6"/>
<circle cx="451.16" cy="403.88" r="2.04" fill="#8a8a8a" stroke="#4c4c4c" stroke-width="0.6"/>
<circle cx="453.48" cy="403.54" r="2.04" fill="#8a8a8a" stroke="#4c4c4c" stroke-width="0.6"/>
<circle cx="455.8" cy="404.08" r="2.04" fill="#8a8a8a" stroke="#4c4c4c" stroke-width="0.6"/>
<circle cx="458.12" cy="405.65" r="2.04" fill="#8a8a8a" stroke="#4c4c4c" stroke-width="0.6"/>
<circle cx="460.44" cy="403.85" r="2.04" fill="#8a8a8a" stroke="#4c4c4c" stroke-width="0.6"/>
<circle cx="462.76" cy="403.64" r="2.04" fill="#8a8a8a" stroke="#4c4c4c" stroke-width="0.6"/>
<circle cx="465.08" cy="404.01" r="2.04" fill="#8a8a8a" stroke="#4c4c4c" stroke-width="0.6"/>
<circle cx="467.4" cy="403.78" r="2.04" fill="#8a8a8a" stroke="#4c4c4c" stroke-width="0.6"/>
<circle cx="469.72" cy="406.16" r="2.04" fill="#8a8a8a" stroke="#4c4c4c" stroke-width="0.6"/>
<circle cx="472.04" cy="404.37" r="2.04" fill="#8a8a8a" stroke="#4c4c4c" stroke-width="0.6"/>
<circle cx="474.36" cy="404.44" r="2.04" fill="#8a8a8a" stroke="#4c4c4c" stroke-width="0.6"/>
<circle cx="476.68" cy="405.34" r="2.04" fill="#8a8a8a" stroke="#4c4c4c" stroke-width="0.6"/>
<circle cx="479" cy="405.72" r="2.04" fill="#8a8a8a" stroke="#4c4c4c" stroke-width="0.6"/>
<circle cx="481.32" cy="403.94" r="2.04" fill="#8a8a8a" stroke="#4c4c4c" stroke-width="0.6"/>
<circle cx="483.64" cy="404.27" r="2.04" fill="#8a8a8a" stroke="#4c4c4c" stroke-width="0.6"/>
<circle cx="485.96" cy="405.43" r="2.04" fill="#8a8a8a" stroke="#4c4c4c" stroke-width="0.6"/>
<circle cx="488.28" cy="405.14" r="2.04" fill="#8a8a8a" stroke="#4c4c4c" stroke-width="0.6"/>
<circle cx="490.6" cy="404" r="2.04" fill="#8a8a8a" stroke="#4c4c4c" stroke-width="0.6"/>
<circle cx="492.92" cy="404.4" r="2.04" fill="#8a8a8a" stroke="#4c4c4c" stroke-width="0.6"/>
<circle cx="495.24" cy="406.26" r="2.04" fill="#8a8a8a" stroke="#4c4c4c" stroke-width="0.6"/>
<circle cx="497.56" cy="405.64" r="2.04" fill="#8a8a8a" stroke="#4c4c4c" stroke-width="0.6"/>
<circle cx="499.88" cy="406.38" r="2.04" fill="#8a8a8a" stroke="#4c4c4c" stroke-width="0.6"/>
<circle cx="502.2" cy="404.17" r="2.04" fill="#8a8a8a" stroke="#4c4c4c" stroke-width="0.6"/>
<circle cx="504.52" cy="406.2" r="2.04" fill="#8a8a8a" stroke="#4c4c4c" stroke-width="0.6"/>
<circle cx="506.84" cy="406.31" r="2.04" fill="#8a8a8a" stroke="#4c4c4c" stroke-width="0.6"/>
<circle cx="509.16" cy="406.43" r="2.04" fill="#8a8a8a" stroke="#4c4c4c" stroke-width="0.6"/>
<circle cx="511.48" cy="405.5" r="2.04" fill="#8a8a8a" stroke="#4c4c4c" stroke-width="0.6"/>
<circle cx="513.8" cy="404.61" r="2.04" fill="#8a8a8a" stroke="#4c4c4c" stroke-width="0.6"/>
<path d="M305 404.5L307.5 407L305 409.5L302.5 407Z" fill="#909090" stroke="#505050" stroke-width="0.6"/>
<path d="M307.32 403.99L309.82 406.49L307.32 408.99L304.82 406.49Z" fill="#909090" stroke="#505050" stroke-width="0.6"/>
<path d="M309.64 404.5L312.14 407L309.64 409.5L307.14 407Z" fill="#909090" stroke="#505050" stroke-width="0.6"/>
<path d="M311.96 398.46L314.46 400.96L311.96 403.46L309.46 400.96Z" fill="#909090" stroke="#505050" stroke-width="0.6"/>
<path d="M314.28 391.45L316.78 393.95L314.28 396.45L311.78 393.95Z" fill="#909090" stroke="#505050" stroke-width="0.6"/>
<path d="M316.6 379.08L319.1 381.58L316.6 384.08L314.1 381.58Z" fill="#909090" stroke="#505050" stroke-width="0.6"/>
<path d="M318.92 374.71L321.42 377.21L318.92 379.71L316.42 377.21Z" fill="#909090" stroke="#505050" stroke-width="0.6"/>
<path d="M321.24 372.62L323.74 375.12L321.24 377.62L318.74 375.12Z" fill="#909090" stroke="#505050" stroke-width="0.6"/>
<path d="M323.56 374.61L326.06 377.11L323.56 379.61L321.06 377.11Z" fill="#909090" stroke="#505050" stroke-width="0.6"/>
<path d="M325.88 379.65L328.38 382.15L325.88 384.65L323.38 382.15Z" fill="#909090" stroke="#505050" stroke-width="0.6"/>
<path d="M328.2 382.48L330.7 384.98L328.2 387.48L325.7 384.98Z" fill="#909090" stroke="#505050" stroke-width="0.6"/>
<path d="M330.52 383.1L333.02 385.6L330.52 388.1L328.02 385.6Z" fill="#909090" stroke="#505050" stroke-width="0.6"/>
<path d="M332.84 388.19L335.34 390.69L332.84 393.19L330.34 390.69Z" fill="#909090" stroke="#505050" stroke-width="0.6"/>
<path d="M335.16 390.74L337.66 393.24L335.16 395.74L332.66 393.24Z" fill="#909090" stroke="#505050" stroke-width="0.6"/>
<path d="M337.48 390.22L339.98 392.72L337.48 395.22L334.98 392.72Z" fill="#909090" stroke="#505050" stroke-width="0.6"/>
<path d="M339.8 392.86L342.3 395.36L339.8 397.86L337.3 395.36Z" fill="#909090" stroke="#505050" stroke-width="0.6"/>
<path d="M342.12 392.63L344.62 395.13L342.12 397.63L339.62 395.13Z" fill="#909090" stroke="#505050" stroke-width="0.6"/>
<path d="M344.44 395.57L346.94 398.07L344.44 400.57L341.94 398.07Z" fill="#909090" stroke="#505050" stroke-width="0.6"/>
<path d="M346.76 395.37L349.26 397.87L346.76 400.37L344.26 397.87Z" fill="#909090" stroke="#505050" stroke-width="0.6"/>
<path d="M349.08 396.38L351.58 398.88L349.08 401.38L346.58 398.88Z" fill="#909090" stroke="#505050" stroke-width="0.6"/>
<path d="M351.4 398.33L353.9 400.83L351.4 403.33L348.9 400.83Z" fill="#909090" stroke="#505050" stroke-width="0.6"/>
<path d="M353.72 398.84L356.22 401.34L353.72 403.84L351.22 401.34Z" fill="#909090" stroke="#505050" stroke-width="0.6"/>
<path d="M356.04 397.41L358.54 399.91L356.04 402.41L353.54 399.91Z" fill="#909090" stroke="#505050" stroke-width="0.6"/>
<path d="M358.36 400.68L360.86 403.18L358.36 405.68L355.86 403.18Z" fill="#909090" stroke="#505050" stroke-width="0.6"/>
<path d="M360.68 399.89L363.18 402.39L360.68 404.89L358.18 402.39Z" fill="#909090" stroke="#505050" stroke-width="0.6"/>
<path d="M363 398.84L365.5 401.34L363 403.84L360.5 401.34Z" fill="#909090" stroke="#505050" stroke-width="0.6"/>
<path d="M365.32 399.86L367.82 402.36L365.32 404.86L362.82 402.36Z" fill="#909090" stroke="#505050" stroke-width="0.6"/>
<path d="M367.64 399.98L370.14 402.48L367.64 404.98L365.14 402.48Z" fill="#909090" stroke="#505050" stroke-width="0.6"/>
<path d="M369.96 400.86L372.46 403.36L369.96 405.86L367.46 403.36Z" fill="#909090" stroke="#505050" stroke-width="0.6"/>
<path d="M372.28 401.27L374.78 403.77L372.28 406.27L369.78 403.77Z" fill="#909090" stroke="#505050" stroke-width="0.6"/>
<path d="M374.6 401.98L377.1 404.48L374.6 406.98L372.1 404.48Z" fill="#909090" stroke="#505050" stroke-width="0.6"/>
<path d="M376.92 400.45L379.42 402.95L376.92 405.45L374.42 402.95Z" fill="#909090" stroke="#505050" stroke-width="0.6"/>
<path d="M379.24 402.59L381.74 405.09L379.24 407.59L376.74 405.09Z" fill="#909090" stroke="#505050" stroke-width="0.6"/>
<path d="M381.56 400.42L384.06 402.92L381.56 405.42L379.06 402.92Z" fill="#909090" stroke="#505050" stroke-width="0.6"/>
<path d="M383.88 403.12L386.38 405.62L383.88 408.12L381.38 405.62Z" fill="#909090" stroke="#505050" stroke-width="0.6"/>
<path d="M386.2 402.5L388.7 405L386.2 407.5L383.7 405Z" fill="#909090" stroke="#505050" stroke-width="0.6"/>
<path d="M388.52 402.85L391.02 405.35L388.52 407.85L386.02 405.35Z" fill="#909090" stroke="#505050" stroke-width="0.6"/>
<path d="M390.84 400.49L393.34 402.99L390.84 405.49L388.34 402.99Z" fill="#909090" stroke="#505050" stroke-width="0.6"/>
<path d="M393.16 400.81L395.66 403.31L393.16 405.81L390.66 403.31Z" fill="#909090" stroke="#505050" stroke-width="0.6"/>
<path d="M395.48 401.9L397.98 404.4L395.48 406.9L392.98 404.4Z" fill="#909090" stroke="#505050" stroke-width="0.6"/>
<path d="M397.8 401.01L400.3 403.51L397.8 406.01L395.3 403.51Z" fill="#909090" stroke="#505050" stroke-width="0.6"/>
<path d="M400.12 402.37L402.62 404.87L400.12 407.37L397.62 404.87Z" fill="#909090" stroke="#505050" stroke-width="0.6"/>
<path d="M402.44 402.72L404.94 405.22L402.44 407.72L399.94 405.22Z" fill="#909090" stroke="#505050" stroke-width="0.6"/>
<path d="M404.76 400.81L407.26 403.31L404.76 405.81L402.26 403.31Z" fill="#909090" stroke="#505050" stroke-width="0.6"/>
<path d="M407.08 401.13L409.58 403.63L407.08 406.13L404.58 403.63Z" fill="#909090" stroke="#505050" stroke-width="0.6"/>
<path d="M409.4 401.61L411.9 404.11L409.4 406.61L406.9 404.11Z" fill="#909090" stroke="#505050" stroke-width="0.6"/>
<path d="M411.72 402.67L414.22 405.17L411.72 407.67L409.22 405.17Z" fill="#909090" stroke="#505050" stroke-width="0.6"/>
<path d="M414.04 403.17L416.54 405.67L414.04 408.17L411.54 405.67Z" fill="#909090" stroke="#505050" stroke-width="0.6"/>
<path d="M416.36 402.15L418.86 404.65L416.36 407.15L413.86 404.65Z" fill="#909090" stroke="#505050" stroke-width="0.6"/>
<path d="M418.68 404.02L421.18 406.52L418.68 409.02L416.18 406.52Z" fill="#909090" stroke="#505050" stroke-width="0.6"/>
<path d="M421 402.83L423.5 405.33L421 407.83L418.5 405.33Z" fill="#909090" stroke="#505050" stroke-width="0.6"/>
<path d="M423.32 403.4L425.82 405.9L423.32 408.4L420.82 405.9Z" fill="#909090" stroke="#505050" stroke-width="0.6"/>
<path d="M425.64 403.04L428.14 405.54L425.64 408.04L423.14 405.54Z" fill="#909090" stroke="#505050" stroke-width="0.6"/>
<path d="M427.96 402.91L430.46 405.41L427.96 407.91L425.46 405.41Z" fill="#909090" stroke="#505050" stroke-width="0.6"/>
<path d="M430.28 401.9L432.78 404.4L430.28 406.9L427.78 404.4Z" fill="#909090" stroke="#505050" stroke-width="0.6"/>
<path d="M432.6 403.03L435.1 405.53L432.6 408.03L430.1 405.53Z" fill="#909090" stroke="#505050" stroke-width="0.6"/>
<path d="M434.92 401.57L437.42 404.07L434.92 406.57L432.42 404.07Z" fill="#909090" stroke="#505050" stroke-width="0.6"/>
<path d="M437.24 403.48L439.74 405.98L437.24 408.48L434.74 405.98Z" fill="#909090" stroke="#505050" stroke-width="0.6"/>
<path d="M439.56 402.3L442.06 404.8L439.56 407.3L437.06 404.8Z" fill="#909090" stroke="#505050" stroke-width="0.6"/>
<path d="M441.88 402.84L444.38 405.34L441.88 407.84L439.38 405.34Z" fill="#909090" stroke="#505050" stroke-width="0.6"/>
<path d="M444.2 403.51L446.7 406.01L444.2 408.51L441.7 406.01Z" fill="#909090" stroke="#505050" stroke-width="0.6"/>
<path d="M446.52 403.53L449.02 406.03L446.52 408.53L444.02 406.03Z" fill="#909090" stroke="#505050" stroke-width="0.6"/>
<path d="M448.84 403.69L451.34 406.19L448.84 408.69L446.34 406.19Z" fill="#909090" stroke="#505050" stroke-width="0.6"/>
<path d="M451.16 402.92L453.66 405.42L451.16 407.92L448.66 405.42Z" fill="#909090" stroke="#505050" stroke-width="0.6"/>
<path d="M453.48 403.32L455.98 405.82L453.48 408.32L450.98 405.82Z" fill="#909090" stroke="#505050" stroke-width="0.6"/>
<path d="M455.8 401.85L458.3 404.35L455.8 406.85L453.3 404.35Z" fill="#909090" stroke="#505050" stroke-width="0.6"/>
<path d="M458.12 402.91L460.62 405.41L458.12 407.91L455.62 405.41Z" fill="#909090" stroke="#505050" stroke-width="0.6"/>
<path d="M460.44 403.15L462.94 405.65L460.44 408.15L457.94 405.65Z" fill="#909090" stroke="#505050" stroke-width="0.6"/>
<path d="M462.76 404.48L465.26 406.98L462.76 409.48L460.26 406.98Z" fill="#909090" stroke="#505050" stroke-width="0.6"/>
<path d="M465.08 403.99L467.58 406.49L465.08 408.99L462.58 406.49Z" fill="#909090" stroke="#505050" stroke-width="0.6"/>
<path d="M467.4 403.04L469.9 405.54L467.4 408.04L464.9 405.54Z" fill="#909090" stroke="#505050" stroke-width="0.6"/>
<path d="M469.72 404.2L472.22 406.7L469.72 409.2L467.22 406.7Z" fill="#909090" stroke="#505050" stroke-width="0.6"/>
<path d="M472.04 403.38L474.54 405.88L472.04 408.38L469.54 405.88Z" fill="#909090" stroke="#505050" stroke-width="0.6"/>
<path d="M474.36 404.13L476.86 406.63L474.36 409.13L471.86 406.63Z" fill="#909090" stroke="#505050" stroke-width="0.6"/>
<path d="M476.68 402.65L479.18 405.15L476.68 407.65L474.18 405.15Z" fill="#909090" stroke="#505050" stroke-width="0.6"/>
<path d="M479 401.71L481.5 404.21L479 406.71L476.5 404.21Z" fill="#909090" stroke="#505050" stroke-width="0.6"/>
<path d="M481.32 402.01L483.82 404.51L481.32 407.01L478.82 404.51Z" fill="#909090" stroke="#505050" stroke-width="0.6"/>
<path d="M483.64 402.39L486.14 404.89L483.64 407.39L481.14 404.89Z" fill="#909090" stroke="#505050" stroke-width="0.6"/>
<path d="M485.96 404.03L488.46 406.53L485.96 409.03L483.46 406.53Z" fill="#909090" stroke="#505050" stroke-width="0.6"/>
<path d="M488.28 404.5L490.78 407L488.28 409.5L485.78 407Z" fill="#909090" stroke="#505050" stroke-width="0.6"/>
<path d="M490.6 404.5L493.1 407L490.6 409.5L488.1 407Z" fill="#909090" stroke="#505050" stroke-width="0.6"/>
<path d="M492.92 402.79L495.42 405.29L492.92 407.79L490.42 405.29Z" fill="#909090" stroke="#505050" stroke-width="0.6"/>
<path d="M495.24 402.64L497.74 405.14L495.24 407.64L492.74 405.14Z" fill="#909090" stroke="#505050" stroke-width="0.6"/>
<path d="M497.56 402.96L500.06 405.46L497.56 407.96L495.06 405.46Z" fill="#909090" stroke="#505050" stroke-width="0.6"/>
<path d="M499.88 402.62L502.38 405.12L499.88 407.62L497.38 405.12Z" fill="#909090" stroke="#505050" stroke-width="0.6"/>
<path d="M502.2 403.87L504.7 406.37L502.2 408.87L499.7 406.37Z" fill="#909090" stroke="#505050" stroke-width="0.6"/>
<path d="M504.52 403.91L507.02 406.41L504.52 408.91L502.02 406.41Z" fill="#909090" stroke="#505050" stroke-width="0.6"/>
<path d="M506.84 404.5L509.34 407L506.84 409.5L504.34 407Z" fill="#909090" stroke="#505050" stroke-width="0.6"/>
<path d="M509.16 404.34L511.66 406.84L509.16 409.34L506.66 406.84Z" fill="#909090" stroke="#505050" stroke-width="0.6"/>
<path d="M511.48 404.5L513.98 407L511.48 409.5L508.98 407Z" fill="#909090" stroke="#505050" stroke-width="0.6"/>
<path d="M513.8 403.01L516.3 405.51L513.8 408.01L511.3 405.51Z" fill="#909090" stroke="#505050" stroke-width="0.6"/>
<rect x="304.5" y="236.8" width="211.5" height="169.9" fill="none" stroke="#5a5a5a" stroke-width="1.3"/>
<path d="M305 406.7v-3.5M305 236.8v3.5" stroke="#5a5a5a" stroke-width="1"/>
<path d="M316.6 406.7v-2M316.6 236.8v2" stroke="#5a5a5a" stroke-width="1"/>
<path d="M328.2 406.7v-2M328.2 236.8v2" stroke="#5a5a5a" stroke-width="1"/>
<path d="M339.8 406.7v-3.5M339.8 236.8v3.5" stroke="#5a5a5a" stroke-width="1"/>
<path d="M351.4 406.7v-2M351.4 236.8v2" stroke="#5a5a5a" stroke-width="1"/>
<path d="M363 406.7v-2M363 236.8v2" stroke="#5a5a5a" stroke-width="1"/>
<path d="M374.6 406.7v-3.5M374.6 236.8v3.5" stroke="#5a5a5a" stroke-width="1"/>
<path d="M386.2 406.7v-2M386.2 236.8v2" stroke="#5a5a5a" stroke-width="1"/>
<path d="M397.8 406.7v-2M397.8 236.8v2" stroke="#5a5a5a" stroke-width="1"/>
<path d="M409.4 406.7v-3.5M409.4 236.8v3.5" stroke="#5a5a5a" stroke-width="1"/>
<path d="M421 406.7v-2M421 236.8v2" stroke="#5a5a5a" stroke-width="1"/>
<path d="M432.6 406.7v-2M432.6 236.8v2" stroke="#5a5a5a" stroke-width="1"/>
<path d="M444.2 406.7v-3.5M444.2 236.8v3.5" stroke="#5a5a5a" stroke-width="1"/>
<path d="M455.8 406.7v-2M455.8 236.8v2" stroke="#5a5a5a" stroke-width="1"/>
<path d="M467.4 406.7v-2M467.4 236.8v2" stroke="#5a5a5a" stroke-width="1"/>
<path d="M479 406.7v-3.5M479 236.8v3.5" stroke="#5a5a5a" stroke-width="1"/>
<path d="M490.6 406.7v-2M490.6 236.8v2" stroke="#5a5a5a" stroke-width="1"/>
<path d="M502.2 406.7v-2M502.2 236.8v2" stroke="#5a5a5a" stroke-width="1"/>
<path d="M513.8 406.7v-3.5M513.8 236.8v3.5" stroke="#5a5a5a" stroke-width="1"/>
<path d="M304.5 407h4.2M516 407h-4.2" stroke="#5a5a5a" stroke-width="1"/>
<path d="M304.5 389.83h2.3M516 389.83h-2.3" stroke="#5a5a5a" stroke-width="1"/>
<path d="M304.5 372.67h2.3M516 372.67h-2.3" stroke="#5a5a5a" stroke-width="1"/>
<path d="M304.5 355.5h4.2M516 355.5h-4.2" stroke="#5a5a5a" stroke-width="1"/>
<path d="M304.5 338.33h2.3M516 338.33h-2.3" stroke="#5a5a5a" stroke-width="1"/>
<path d="M304.5 321.17h2.3M516 321.17h-2.3" stroke="#5a5a5a" stroke-width="1"/>
<path d="M304.5 304h4.2M516 304h-4.2" stroke="#5a5a5a" stroke-width="1"/>
<path d="M304.5 286.83h2.3M516 286.83h-2.3" stroke="#5a5a5a" stroke-width="1"/>
<path d="M304.5 269.67h2.3M516 269.67h-2.3" stroke="#5a5a5a" stroke-width="1"/>
<path d="M304.5 252.5h4.2M516 252.5h-4.2" stroke="#5a5a5a" stroke-width="1"/>
<text x="305" y="419" text-anchor="middle" class="tk">0</text>
<text x="339.8" y="419" text-anchor="middle" class="tk">15</text>
<text x="374.6" y="419" text-anchor="middle" class="tk">30</text>
<text x="409.4" y="419" text-anchor="middle" class="tk">45</text>
<text x="444.2" y="419" text-anchor="middle" class="tk">60</text>
<text x="479" y="419" text-anchor="middle" class="tk">75</text>
<text x="513.8" y="419" text-anchor="middle" class="tk">90</text>
<text x="299.3" y="409.8" text-anchor="end" class="tk">0</text>
<text x="299.3" y="358.3" text-anchor="end" class="tk">50</text>
<text x="299.3" y="306.8" text-anchor="end" class="tk">100</text>
<text x="299.3" y="255.3" text-anchor="end" class="tk">150</text>
<text x="408.4" y="436.9" text-anchor="middle" class="ti">Time (min)</text>
<text transform="translate(277.9 318.95) rotate(-90)" text-anchor="middle" class="ti yt">[Thrombin] (nM)</text>
<text x="268.3" y="241" class="lt">D</text>
<path d="M400.8 284.8H419.4" stroke="#5c5c5c" stroke-width="1.6"/>
<path d="M410.1 282.28L412.38 286.36L407.82 286.36Z" fill="#5a1078" stroke="#300840" stroke-width="0.5"/>
<text x="426.1" y="287.7" class="lg">56 &#181;g/kg</text>
<path d="M400.8 294.9H419.4" stroke="#5c5c5c" stroke-width="1.6"/>
<path d="M410.1 292.38L412.38 296.46L407.82 296.46Z" fill="#e06048" stroke="#b03828" stroke-width="0.5"/>
<text x="426.1" y="297.8" class="lg">28 &#181;g/kg</text>
<path d="M400.8 305H419.4" stroke="#5c5c5c" stroke-width="1.6"/>
<rect x="408.18" y="303.08" width="3.84" height="3.84" fill="#858585" stroke="#4a4a4a" stroke-width="0.5"/>
<text x="426.1" y="307.9" class="lg">56 &#181;g/kg + FVa</text>
<path d="M400.8 315.1H419.4" stroke="#5c5c5c" stroke-width="1.6"/>
<circle cx="410.1" cy="315.1" r="2.04" fill="#8a8a8a" stroke="#4c4c4c" stroke-width="0.5"/>
<text x="426.1" y="318" class="lg">28 &#181;g/kg + FVa</text>
<path d="M400.8 325.2H419.4" stroke="#5c5c5c" stroke-width="1.6"/>
<path d="M410.1 322.8L412.5 325.2L410.1 327.6L407.7 325.2Z" fill="#909090" stroke="#505050" stroke-width="0.5"/>
<text x="421.3" y="328.1" class="lg">400 &#181;g/kg FVa</text>
</svg></body></html>
